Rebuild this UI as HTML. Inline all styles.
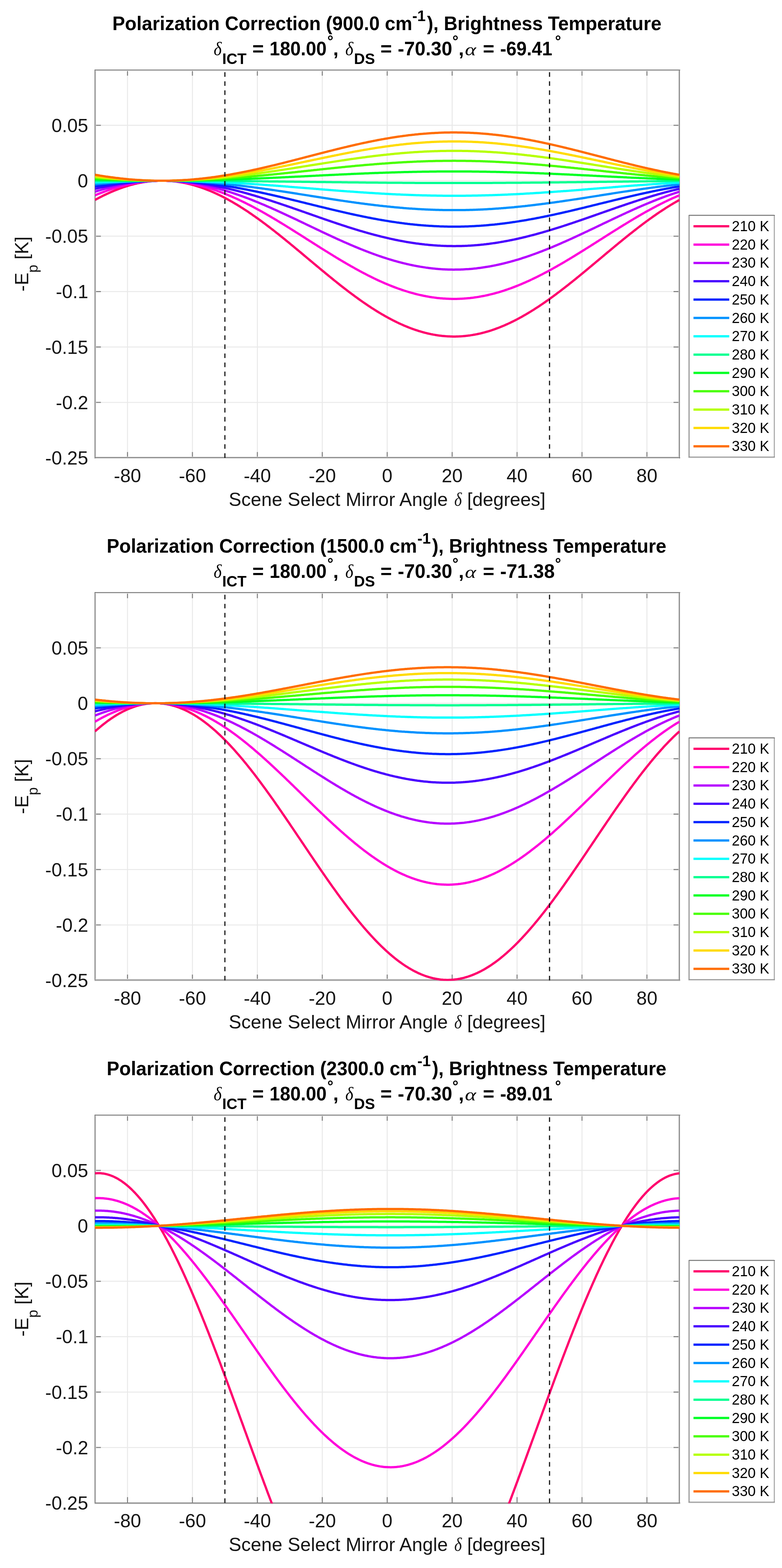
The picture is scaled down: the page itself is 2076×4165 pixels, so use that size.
<!DOCTYPE html>
<html><head><meta charset="utf-8"><title>Polarization Correction</title>
<style>html,body{margin:0;padding:0;background:#fff;}svg{display:block;}</style></head>
<body>
<svg width="2076" height="4165" viewBox="0 0 2076 4165">
<rect x="0" y="0" width="2076" height="4165" fill="#ffffff"/>
<defs><clipPath id="c0"><rect x="251.10" y="184.40" width="1553.70" height="1033.00"/></clipPath></defs>
<path d="M338.48 185.60V1216.20M510.85 185.60V1216.20M683.22 185.60V1216.20M855.58 185.60V1216.20M1027.95 185.60V1216.20M1200.32 185.60V1216.20M1372.68 185.60V1216.20M1545.05 185.60V1216.20M1717.42 185.60V1216.20M252.30 332.83H1803.60M252.30 480.06H1803.60M252.30 627.29H1803.60M252.30 774.51H1803.60M252.30 921.74H1803.60M252.30 1068.97H1803.60" stroke="#e9e9e9" stroke-width="2.6" fill="none"/>
<path d="M338.48 1216.20v-15.5M338.48 185.60v15.5M510.85 1216.20v-15.5M510.85 185.60v15.5M683.22 1216.20v-15.5M683.22 185.60v15.5M855.58 1216.20v-15.5M855.58 185.60v15.5M1027.95 1216.20v-15.5M1027.95 185.60v15.5M1200.32 1216.20v-15.5M1200.32 185.60v15.5M1372.68 1216.20v-15.5M1372.68 185.60v15.5M1545.05 1216.20v-15.5M1545.05 185.60v15.5M1717.42 1216.20v-15.5M1717.42 185.60v15.5M252.30 332.83h15.5M1803.60 332.83h-15.5M252.30 480.06h15.5M1803.60 480.06h-15.5M252.30 627.29h15.5M1803.60 627.29h-15.5M252.30 774.51h15.5M1803.60 774.51h-15.5M252.30 921.74h15.5M1803.60 921.74h-15.5M252.30 1068.97h15.5M1803.60 1068.97h-15.5" stroke="#858585" stroke-width="2.8" fill="none"/>
<rect x="251.00" y="184.90" width="2.00" height="1032.80" fill="#777777"/><rect x="253.00" y="186.90" width="2.00" height="1028.00" fill="#d2d2d2"/><rect x="251.00" y="184.90" width="1554.70" height="2.00" fill="#666666"/><rect x="253.00" y="186.90" width="1548.70" height="2.00" fill="#e6e6e6"/><rect x="1801.00" y="186.90" width="2.00" height="1028.00" fill="#c2c2c2"/><rect x="1803.00" y="184.90" width="2.00" height="1032.80" fill="#808080"/><rect x="253.00" y="1213.00" width="1548.00" height="2.00" fill="#cacaca"/><rect x="251.00" y="1215.00" width="1554.70" height="2.00" fill="#777777"/>
<g clip-path="url(#c0)" fill="none" stroke-width="6.0" stroke-linejoin="round">
<polyline points="252.3,531.2 255.5,529.4 258.8,527.6 262.0,525.9 265.2,524.2 268.5,522.6 271.7,520.9 274.9,519.3 278.2,517.8 281.4,516.2 284.6,514.7 287.9,513.2 291.1,511.8 294.3,510.3 297.5,508.9 300.8,507.6 304.0,506.2 307.2,504.9 310.5,503.6 313.7,502.4 316.9,501.2 320.2,500.0 323.4,498.9 326.6,497.7 329.9,496.7 333.1,495.6 336.3,494.6 339.6,493.6 342.8,492.7 346.0,491.7 349.3,490.9 352.5,490.0 355.7,489.2 359.0,488.4 362.2,487.7 365.4,486.9 368.6,486.3 371.9,485.6 375.1,485.0 378.3,484.4 381.6,483.9 384.8,483.4 388.0,482.9 391.3,482.5 394.5,482.1 397.7,481.7 401.0,481.4 404.2,481.1 407.4,480.8 410.7,480.6 413.9,480.4 417.1,480.2 420.4,480.1 423.6,480.0 426.8,480.0 430.1,480.0 433.3,480.0 436.5,480.0 439.7,480.1 443.0,480.3 446.2,480.4 449.4,480.6 452.7,480.8 455.9,481.1 459.1,481.4 462.4,481.8 465.6,482.1 468.8,482.5 472.1,483.0 475.3,483.5 478.5,484.0 481.8,484.5 485.0,485.1 488.2,485.7 491.5,486.4 494.7,487.1 497.9,487.8 501.2,488.6 504.4,489.3 507.6,490.2 510.8,491.0 514.1,491.9 517.3,492.8 520.5,493.8 523.8,494.8 527.0,495.8 530.2,496.9 533.5,498.0 536.7,499.1 539.9,500.2 543.2,501.4 546.4,502.6 549.6,503.9 552.9,505.2 556.1,506.5 559.3,507.8 562.6,509.2 565.8,510.6 569.0,512.0 572.3,513.5 575.5,515.0 578.7,516.5 582.0,518.1 585.2,519.6 588.4,521.2 591.6,522.9 594.9,524.5 598.1,526.2 601.3,528.0 604.6,529.7 607.8,531.5 611.0,533.3 614.3,535.1 617.5,537.0 620.7,538.9 624.0,540.8 627.2,542.7 630.4,544.6 633.7,546.6 636.9,548.6 640.1,550.7 643.4,552.7 646.6,554.8 649.8,556.9 653.1,559.0 656.3,561.1 659.5,563.3 662.7,565.5 666.0,567.7 669.2,569.9 672.4,572.2 675.7,574.4 678.9,576.7 682.1,579.0 685.4,581.3 688.6,583.7 691.8,586.0 695.1,588.4 698.3,590.8 701.5,593.2 704.8,595.6 708.0,598.1 711.2,600.5 714.5,603.0 717.7,605.5 720.9,608.0 724.2,610.5 727.4,613.0 730.6,615.5 733.8,618.1 737.1,620.6 740.3,623.2 743.5,625.8 746.8,628.4 750.0,631.0 753.2,633.6 756.5,636.2 759.7,638.9 762.9,641.5 766.2,644.1 769.4,646.8 772.6,649.5 775.9,652.1 779.1,654.8 782.3,657.5 785.6,660.2 788.8,662.9 792.0,665.5 795.3,668.2 798.5,670.9 801.7,673.6 805.0,676.4 808.2,679.1 811.4,681.8 814.6,684.5 817.9,687.2 821.1,689.9 824.3,692.6 827.6,695.3 830.8,698.0 834.0,700.7 837.3,703.4 840.5,706.1 843.7,708.8 847.0,711.5 850.2,714.2 853.4,716.9 856.7,719.6 859.9,722.2 863.1,724.9 866.4,727.6 869.6,730.2 872.8,732.9 876.1,735.5 879.3,738.1 882.5,740.7 885.7,743.4 889.0,746.0 892.2,748.5 895.4,751.1 898.7,753.7 901.9,756.3 905.1,758.8 908.4,761.3 911.6,763.9 914.8,766.4 918.1,768.9 921.3,771.3 924.5,773.8 927.8,776.3 931.0,778.7 934.2,781.1 937.5,783.5 940.7,785.9 943.9,788.3 947.2,790.6 950.4,793.0 953.6,795.3 956.8,797.6 960.1,799.9 963.3,802.1 966.5,804.4 969.8,806.6 973.0,808.8 976.2,811.0 979.5,813.1 982.7,815.3 985.9,817.4 989.2,819.5 992.4,821.5 995.6,823.6 998.9,825.6 1002.1,827.6 1005.3,829.6 1008.6,831.5 1011.8,833.5 1015.0,835.4 1018.3,837.2 1021.5,839.1 1024.7,840.9 1028.0,842.7 1031.2,844.5 1034.4,846.2 1037.6,847.9 1040.9,849.6 1044.1,851.3 1047.3,852.9 1050.6,854.5 1053.8,856.1 1057.0,857.6 1060.3,859.2 1063.5,860.6 1066.7,862.1 1070.0,863.5 1073.2,864.9 1076.4,866.3 1079.7,867.6 1082.9,868.9 1086.1,870.2 1089.4,871.5 1092.6,872.7 1095.8,873.8 1099.1,875.0 1102.3,876.1 1105.5,877.2 1108.7,878.2 1112.0,879.3 1115.2,880.2 1118.4,881.2 1121.7,882.1 1124.9,883.0 1128.1,883.9 1131.4,884.7 1134.6,885.5 1137.8,886.2 1141.1,886.9 1144.3,887.6 1147.5,888.2 1150.8,888.9 1154.0,889.4 1157.2,890.0 1160.5,890.5 1163.7,891.0 1166.9,891.4 1170.2,891.8 1173.4,892.2 1176.6,892.5 1179.8,892.8 1183.1,893.1 1186.3,893.3 1189.5,893.5 1192.8,893.6 1196.0,893.8 1199.2,893.8 1202.5,893.9 1205.7,893.9 1208.9,893.9 1212.2,893.8 1215.4,893.7 1218.6,893.6 1221.9,893.4 1225.1,893.2 1228.3,893.0 1231.6,892.7 1234.8,892.4 1238.0,892.1 1241.3,891.7 1244.5,891.3 1247.7,890.9 1250.9,890.4 1254.2,889.9 1257.4,889.3 1260.6,888.7 1263.9,888.1 1267.1,887.5 1270.3,886.8 1273.6,886.1 1276.8,885.3 1280.0,884.5 1283.3,883.7 1286.5,882.8 1289.7,881.9 1293.0,881.0 1296.2,880.1 1299.4,879.1 1302.7,878.1 1305.9,877.0 1309.1,875.9 1312.4,874.8 1315.6,873.6 1318.8,872.4 1322.1,871.2 1325.3,870.0 1328.5,868.7 1331.7,867.4 1335.0,866.0 1338.2,864.7 1341.4,863.3 1344.7,861.8 1347.9,860.4 1351.1,858.9 1354.4,857.4 1357.6,855.8 1360.8,854.2 1364.1,852.6 1367.3,851.0 1370.5,849.3 1373.8,847.6 1377.0,845.9 1380.2,844.1 1383.5,842.4 1386.7,840.6 1389.9,838.7 1393.2,836.9 1396.4,835.0 1399.6,833.1 1402.8,831.2 1406.1,829.2 1409.3,827.2 1412.5,825.2 1415.8,823.2 1419.0,821.2 1422.2,819.1 1425.5,817.0 1428.7,814.9 1431.9,812.7 1435.2,810.6 1438.4,808.4 1441.6,806.2 1444.9,804.0 1448.1,801.7 1451.3,799.4 1454.6,797.2 1457.8,794.9 1461.0,792.5 1464.3,790.2 1467.5,787.8 1470.7,785.5 1473.9,783.1 1477.2,780.7 1480.4,778.2 1483.6,775.8 1486.9,773.4 1490.1,770.9 1493.3,768.4 1496.6,765.9 1499.8,763.4 1503.0,760.9 1506.3,758.3 1509.5,755.8 1512.7,753.2 1516.0,750.6 1519.2,748.1 1522.4,745.5 1525.7,742.9 1528.9,740.3 1532.1,737.6 1535.4,735.0 1538.6,732.4 1541.8,729.7 1545.0,727.1 1548.3,724.4 1551.5,721.7 1554.7,719.1 1558.0,716.4 1561.2,713.7 1564.4,711.0 1567.7,708.3 1570.9,705.6 1574.1,702.9 1577.4,700.2 1580.6,697.5 1583.8,694.8 1587.1,692.1 1590.3,689.4 1593.5,686.7 1596.8,684.0 1600.0,681.3 1603.2,678.6 1606.5,675.8 1609.7,673.1 1612.9,670.4 1616.2,667.7 1619.4,665.0 1622.6,662.4 1625.8,659.7 1629.1,657.0 1632.3,654.3 1635.5,651.6 1638.8,649.0 1642.0,646.3 1645.2,643.7 1648.5,641.0 1651.7,638.4 1654.9,635.7 1658.2,633.1 1661.4,630.5 1664.6,627.9 1667.9,625.3 1671.1,622.7 1674.3,620.2 1677.6,617.6 1680.8,615.1 1684.0,612.5 1687.3,610.0 1690.5,607.5 1693.7,605.0 1696.9,602.5 1700.2,600.0 1703.4,597.6 1706.6,595.2 1709.9,592.7 1713.1,590.3 1716.3,587.9 1719.6,585.6 1722.8,583.2 1726.0,580.9 1729.3,578.6 1732.5,576.3 1735.7,574.0 1739.0,571.7 1742.2,569.5 1745.4,567.3 1748.7,565.1 1751.9,562.9 1755.1,560.7 1758.4,558.6 1761.6,556.5 1764.8,554.4 1768.0,552.3 1771.3,550.3 1774.5,548.3 1777.7,546.3 1781.0,544.3 1784.2,542.3 1787.4,540.4 1790.7,538.5 1793.9,536.6 1797.1,534.8 1800.4,533.0 1803.6,531.2" stroke="#ff006d"/>
<polyline points="252.3,518.8 255.5,517.5 258.8,516.1 262.0,514.8 265.2,513.6 268.5,512.3 271.7,511.1 274.9,509.9 278.2,508.7 281.4,507.5 284.6,506.3 287.9,505.2 291.1,504.1 294.3,503.0 297.5,502.0 300.8,500.9 304.0,499.9 307.2,498.9 310.5,497.9 313.7,497.0 316.9,496.1 320.2,495.2 323.4,494.3 326.6,493.5 329.9,492.7 333.1,491.9 336.3,491.1 339.6,490.3 342.8,489.6 346.0,488.9 349.3,488.3 352.5,487.6 355.7,487.0 359.0,486.4 362.2,485.8 365.4,485.3 368.6,484.8 371.9,484.3 375.1,483.8 378.3,483.4 381.6,483.0 384.8,482.6 388.0,482.2 391.3,481.9 394.5,481.6 397.7,481.3 401.0,481.0 404.2,480.8 407.4,480.6 410.7,480.5 413.9,480.3 417.1,480.2 420.4,480.1 423.6,480.0 426.8,480.0 430.1,480.0 433.3,480.0 436.5,480.0 439.7,480.1 443.0,480.2 446.2,480.3 449.4,480.5 452.7,480.7 455.9,480.9 459.1,481.1 462.4,481.3 465.6,481.6 468.8,481.9 472.1,482.3 475.3,482.6 478.5,483.0 481.8,483.5 485.0,483.9 488.2,484.4 491.5,484.9 494.7,485.4 497.9,485.9 501.2,486.5 504.4,487.1 507.6,487.7 510.8,488.4 514.1,489.1 517.3,489.8 520.5,490.5 523.8,491.2 527.0,492.0 530.2,492.8 533.5,493.6 536.7,494.5 539.9,495.4 543.2,496.3 546.4,497.2 549.6,498.1 552.9,499.1 556.1,500.1 559.3,501.1 562.6,502.2 565.8,503.2 569.0,504.3 572.3,505.4 575.5,506.5 578.7,507.7 582.0,508.9 585.2,510.1 588.4,511.3 591.6,512.5 594.9,513.8 598.1,515.1 601.3,516.4 604.6,517.7 607.8,519.1 611.0,520.4 614.3,521.8 617.5,523.2 620.7,524.7 624.0,526.1 627.2,527.6 630.4,529.0 633.7,530.5 636.9,532.1 640.1,533.6 643.4,535.2 646.6,536.7 649.8,538.3 653.1,539.9 656.3,541.6 659.5,543.2 662.7,544.8 666.0,546.5 669.2,548.2 672.4,549.9 675.7,551.6 678.9,553.4 682.1,555.1 685.4,556.9 688.6,558.6 691.8,560.4 695.1,562.2 698.3,564.0 701.5,565.9 704.8,567.7 708.0,569.6 711.2,571.4 714.5,573.3 717.7,575.2 720.9,577.1 724.2,579.0 727.4,580.9 730.6,582.8 733.8,584.7 737.1,586.7 740.3,588.6 743.5,590.6 746.8,592.6 750.0,594.5 753.2,596.5 756.5,598.5 759.7,600.5 762.9,602.5 766.2,604.5 769.4,606.5 772.6,608.5 775.9,610.6 779.1,612.6 782.3,614.6 785.6,616.7 788.8,618.7 792.0,620.8 795.3,622.8 798.5,624.8 801.7,626.9 805.0,628.9 808.2,631.0 811.4,633.1 814.6,635.1 817.9,637.2 821.1,639.2 824.3,641.3 827.6,643.3 830.8,645.4 834.0,647.4 837.3,649.5 840.5,651.5 843.7,653.6 847.0,655.6 850.2,657.7 853.4,659.7 856.7,661.7 859.9,663.7 863.1,665.8 866.4,667.8 869.6,669.8 872.8,671.8 876.1,673.8 879.3,675.8 882.5,677.8 885.7,679.8 889.0,681.7 892.2,683.7 895.4,685.7 898.7,687.6 901.9,689.6 905.1,691.5 908.4,693.4 911.6,695.3 914.8,697.2 918.1,699.1 921.3,701.0 924.5,702.9 927.8,704.7 931.0,706.6 934.2,708.4 937.5,710.2 940.7,712.0 943.9,713.8 947.2,715.6 950.4,717.4 953.6,719.2 956.8,720.9 960.1,722.6 963.3,724.3 966.5,726.0 969.8,727.7 973.0,729.4 976.2,731.1 979.5,732.7 982.7,734.3 985.9,735.9 989.2,737.5 992.4,739.1 995.6,740.6 998.9,742.2 1002.1,743.7 1005.3,745.2 1008.6,746.7 1011.8,748.1 1015.0,749.6 1018.3,751.0 1021.5,752.4 1024.7,753.8 1028.0,755.1 1031.2,756.5 1034.4,757.8 1037.6,759.1 1040.9,760.4 1044.1,761.6 1047.3,762.9 1050.6,764.1 1053.8,765.3 1057.0,766.5 1060.3,767.6 1063.5,768.7 1066.7,769.8 1070.0,770.9 1073.2,772.0 1076.4,773.0 1079.7,774.0 1082.9,775.0 1086.1,776.0 1089.4,776.9 1092.6,777.9 1095.8,778.7 1099.1,779.6 1102.3,780.5 1105.5,781.3 1108.7,782.1 1112.0,782.9 1115.2,783.6 1118.4,784.3 1121.7,785.0 1124.9,785.7 1128.1,786.3 1131.4,787.0 1134.6,787.5 1137.8,788.1 1141.1,788.7 1144.3,789.2 1147.5,789.7 1150.8,790.1 1154.0,790.6 1157.2,791.0 1160.5,791.4 1163.7,791.7 1166.9,792.1 1170.2,792.4 1173.4,792.6 1176.6,792.9 1179.8,793.1 1183.1,793.3 1186.3,793.5 1189.5,793.6 1192.8,793.8 1196.0,793.8 1199.2,793.9 1202.5,793.9 1205.7,794.0 1208.9,793.9 1212.2,793.9 1215.4,793.8 1218.6,793.7 1221.9,793.6 1225.1,793.5 1228.3,793.3 1231.6,793.1 1234.8,792.8 1238.0,792.6 1241.3,792.3 1244.5,792.0 1247.7,791.7 1250.9,791.3 1254.2,790.9 1257.4,790.5 1260.6,790.0 1263.9,789.6 1267.1,789.1 1270.3,788.6 1273.6,788.0 1276.8,787.4 1280.0,786.8 1283.3,786.2 1286.5,785.6 1289.7,784.9 1293.0,784.2 1296.2,783.5 1299.4,782.7 1302.7,781.9 1305.9,781.1 1309.1,780.3 1312.4,779.5 1315.6,778.6 1318.8,777.7 1322.1,776.8 1325.3,775.8 1328.5,774.8 1331.7,773.8 1335.0,772.8 1338.2,771.8 1341.4,770.7 1344.7,769.6 1347.9,768.5 1351.1,767.4 1354.4,766.2 1357.6,765.1 1360.8,763.9 1364.1,762.6 1367.3,761.4 1370.5,760.1 1373.8,758.9 1377.0,757.5 1380.2,756.2 1383.5,754.9 1386.7,753.5 1389.9,752.1 1393.2,750.7 1396.4,749.3 1399.6,747.8 1402.8,746.4 1406.1,744.9 1409.3,743.4 1412.5,741.9 1415.8,740.3 1419.0,738.8 1422.2,737.2 1425.5,735.6 1428.7,734.0 1431.9,732.4 1435.2,730.7 1438.4,729.1 1441.6,727.4 1444.9,725.7 1448.1,724.0 1451.3,722.3 1454.6,720.6 1457.8,718.8 1461.0,717.1 1464.3,715.3 1467.5,713.5 1470.7,711.7 1473.9,709.9 1477.2,708.1 1480.4,706.2 1483.6,704.4 1486.9,702.5 1490.1,700.6 1493.3,698.8 1496.6,696.9 1499.8,695.0 1503.0,693.0 1506.3,691.1 1509.5,689.2 1512.7,687.2 1516.0,685.3 1519.2,683.3 1522.4,681.4 1525.7,679.4 1528.9,677.4 1532.1,675.4 1535.4,673.4 1538.6,671.4 1541.8,669.4 1545.0,667.4 1548.3,665.4 1551.5,663.4 1554.7,661.3 1558.0,659.3 1561.2,657.3 1564.4,655.2 1567.7,653.2 1570.9,651.1 1574.1,649.1 1577.4,647.0 1580.6,645.0 1583.8,642.9 1587.1,640.9 1590.3,638.8 1593.5,636.8 1596.8,634.7 1600.0,632.7 1603.2,630.6 1606.5,628.6 1609.7,626.5 1612.9,624.5 1616.2,622.4 1619.4,620.4 1622.6,618.3 1625.8,616.3 1629.1,614.3 1632.3,612.2 1635.5,610.2 1638.8,608.2 1642.0,606.2 1645.2,604.1 1648.5,602.1 1651.7,600.1 1654.9,598.1 1658.2,596.2 1661.4,594.2 1664.6,592.2 1667.9,590.2 1671.1,588.3 1674.3,586.3 1677.6,584.4 1680.8,582.5 1684.0,580.5 1687.3,578.6 1690.5,576.7 1693.7,574.8 1696.9,572.9 1700.2,571.1 1703.4,569.2 1706.6,567.4 1709.9,565.5 1713.1,563.7 1716.3,561.9 1719.6,560.1 1722.8,558.3 1726.0,556.5 1729.3,554.8 1732.5,553.0 1735.7,551.3 1739.0,549.6 1742.2,547.9 1745.4,546.2 1748.7,544.5 1751.9,542.9 1755.1,541.2 1758.4,539.6 1761.6,538.0 1764.8,536.4 1768.0,534.9 1771.3,533.3 1774.5,531.8 1777.7,530.3 1781.0,528.8 1784.2,527.3 1787.4,525.8 1790.7,524.4 1793.9,523.0 1797.1,521.6 1800.4,520.2 1803.6,518.8" stroke="#ff00db"/>
<polyline points="252.3,509.2 255.5,508.2 258.8,507.2 262.0,506.2 265.2,505.3 268.5,504.3 271.7,503.4 274.9,502.5 278.2,501.6 281.4,500.7 284.6,499.8 287.9,499.0 291.1,498.1 294.3,497.3 297.5,496.5 300.8,495.7 304.0,495.0 307.2,494.2 310.5,493.5 313.7,492.8 316.9,492.1 320.2,491.4 323.4,490.8 326.6,490.2 329.9,489.5 333.1,488.9 336.3,488.4 339.6,487.8 342.8,487.2 346.0,486.7 349.3,486.2 352.5,485.7 355.7,485.3 359.0,484.8 362.2,484.4 365.4,484.0 368.6,483.6 371.9,483.2 375.1,482.9 378.3,482.6 381.6,482.2 384.8,482.0 388.0,481.7 391.3,481.4 394.5,481.2 397.7,481.0 401.0,480.8 404.2,480.6 407.4,480.5 410.7,480.4 413.9,480.2 417.1,480.2 420.4,480.1 423.6,480.0 426.8,480.0 430.1,480.0 433.3,480.0 436.5,480.0 439.7,480.1 443.0,480.2 446.2,480.3 449.4,480.4 452.7,480.5 455.9,480.7 459.1,480.8 462.4,481.0 465.6,481.2 468.8,481.5 472.1,481.7 475.3,482.0 478.5,482.3 481.8,482.6 485.0,482.9 488.2,483.3 491.5,483.7 494.7,484.1 497.9,484.5 501.2,484.9 504.4,485.4 507.6,485.8 510.8,486.3 514.1,486.8 517.3,487.3 520.5,487.9 523.8,488.5 527.0,489.0 530.2,489.6 533.5,490.3 536.7,490.9 539.9,491.6 543.2,492.2 546.4,492.9 549.6,493.6 552.9,494.4 556.1,495.1 559.3,495.9 562.6,496.7 565.8,497.5 569.0,498.3 572.3,499.1 575.5,500.0 578.7,500.8 582.0,501.7 585.2,502.6 588.4,503.6 591.6,504.5 594.9,505.4 598.1,506.4 601.3,507.4 604.6,508.4 607.8,509.4 611.0,510.4 614.3,511.5 617.5,512.5 620.7,513.6 624.0,514.7 627.2,515.8 630.4,516.9 633.7,518.0 636.9,519.2 640.1,520.3 643.4,521.5 646.6,522.7 649.8,523.9 653.1,525.1 656.3,526.3 659.5,527.5 662.7,528.8 666.0,530.0 669.2,531.3 672.4,532.6 675.7,533.9 678.9,535.2 682.1,536.5 685.4,537.8 688.6,539.2 691.8,540.5 695.1,541.9 698.3,543.2 701.5,544.6 704.8,546.0 708.0,547.4 711.2,548.8 714.5,550.2 717.7,551.6 720.9,553.0 724.2,554.5 727.4,555.9 730.6,557.3 733.8,558.8 737.1,560.3 740.3,561.7 743.5,563.2 746.8,564.7 750.0,566.2 753.2,567.7 756.5,569.2 759.7,570.7 762.9,572.2 766.2,573.7 769.4,575.2 772.6,576.7 775.9,578.2 779.1,579.8 782.3,581.3 785.6,582.8 788.8,584.3 792.0,585.9 795.3,587.4 798.5,589.0 801.7,590.5 805.0,592.0 808.2,593.6 811.4,595.1 814.6,596.7 817.9,598.2 821.1,599.8 824.3,601.3 827.6,602.9 830.8,604.4 834.0,605.9 837.3,607.5 840.5,609.0 843.7,610.6 847.0,612.1 850.2,613.6 853.4,615.2 856.7,616.7 859.9,618.2 863.1,619.7 866.4,621.3 869.6,622.8 872.8,624.3 876.1,625.8 879.3,627.3 882.5,628.8 885.7,630.3 889.0,631.8 892.2,633.2 895.4,634.7 898.7,636.2 901.9,637.6 905.1,639.1 908.4,640.5 911.6,642.0 914.8,643.4 918.1,644.8 921.3,646.2 924.5,647.6 927.8,649.0 931.0,650.4 934.2,651.8 937.5,653.2 940.7,654.6 943.9,655.9 947.2,657.2 950.4,658.6 953.6,659.9 956.8,661.2 960.1,662.5 963.3,663.8 966.5,665.1 969.8,666.3 973.0,667.6 976.2,668.8 979.5,670.1 982.7,671.3 985.9,672.5 989.2,673.7 992.4,674.9 995.6,676.0 998.9,677.2 1002.1,678.3 1005.3,679.5 1008.6,680.6 1011.8,681.7 1015.0,682.8 1018.3,683.8 1021.5,684.9 1024.7,685.9 1028.0,687.0 1031.2,688.0 1034.4,689.0 1037.6,689.9 1040.9,690.9 1044.1,691.8 1047.3,692.8 1050.6,693.7 1053.8,694.6 1057.0,695.5 1060.3,696.3 1063.5,697.2 1066.7,698.0 1070.0,698.8 1073.2,699.6 1076.4,700.4 1079.7,701.2 1082.9,701.9 1086.1,702.6 1089.4,703.4 1092.6,704.0 1095.8,704.7 1099.1,705.4 1102.3,706.0 1105.5,706.6 1108.7,707.2 1112.0,707.8 1115.2,708.4 1118.4,708.9 1121.7,709.4 1124.9,709.9 1128.1,710.4 1131.4,710.9 1134.6,711.3 1137.8,711.8 1141.1,712.2 1144.3,712.6 1147.5,712.9 1150.8,713.3 1154.0,713.6 1157.2,713.9 1160.5,714.2 1163.7,714.5 1166.9,714.7 1170.2,715.0 1173.4,715.2 1176.6,715.4 1179.8,715.5 1183.1,715.7 1186.3,715.8 1189.5,715.9 1192.8,716.0 1196.0,716.1 1199.2,716.1 1202.5,716.2 1205.7,716.2 1208.9,716.1 1212.2,716.1 1215.4,716.1 1218.6,716.0 1221.9,715.9 1225.1,715.8 1228.3,715.7 1231.6,715.5 1234.8,715.3 1238.0,715.1 1241.3,714.9 1244.5,714.7 1247.7,714.4 1250.9,714.2 1254.2,713.9 1257.4,713.6 1260.6,713.2 1263.9,712.9 1267.1,712.5 1270.3,712.1 1273.6,711.7 1276.8,711.3 1280.0,710.8 1283.3,710.3 1286.5,709.8 1289.7,709.3 1293.0,708.8 1296.2,708.3 1299.4,707.7 1302.7,707.1 1305.9,706.5 1309.1,705.9 1312.4,705.3 1315.6,704.6 1318.8,703.9 1322.1,703.2 1325.3,702.5 1328.5,701.8 1331.7,701.0 1335.0,700.3 1338.2,699.5 1341.4,698.7 1344.7,697.9 1347.9,697.0 1351.1,696.2 1354.4,695.3 1357.6,694.4 1360.8,693.5 1364.1,692.6 1367.3,691.7 1370.5,690.7 1373.8,689.8 1377.0,688.8 1380.2,687.8 1383.5,686.8 1386.7,685.7 1389.9,684.7 1393.2,683.6 1396.4,682.6 1399.6,681.5 1402.8,680.4 1406.1,679.3 1409.3,678.1 1412.5,677.0 1415.8,675.8 1419.0,674.7 1422.2,673.5 1425.5,672.3 1428.7,671.1 1431.9,669.8 1435.2,668.6 1438.4,667.4 1441.6,666.1 1444.9,664.8 1448.1,663.6 1451.3,662.3 1454.6,661.0 1457.8,659.7 1461.0,658.3 1464.3,657.0 1467.5,655.7 1470.7,654.3 1473.9,652.9 1477.2,651.6 1480.4,650.2 1483.6,648.8 1486.9,647.4 1490.1,646.0 1493.3,644.6 1496.6,643.1 1499.8,641.7 1503.0,640.3 1506.3,638.8 1509.5,637.4 1512.7,635.9 1516.0,634.4 1519.2,633.0 1522.4,631.5 1525.7,630.0 1528.9,628.5 1532.1,627.0 1535.4,625.5 1538.6,624.0 1541.8,622.5 1545.0,621.0 1548.3,619.5 1551.5,617.9 1554.7,616.4 1558.0,614.9 1561.2,613.4 1564.4,611.8 1567.7,610.3 1570.9,608.7 1574.1,607.2 1577.4,605.7 1580.6,604.1 1583.8,602.6 1587.1,601.0 1590.3,599.5 1593.5,597.9 1596.8,596.4 1600.0,594.8 1603.2,593.3 1606.5,591.8 1609.7,590.2 1612.9,588.7 1616.2,587.1 1619.4,585.6 1622.6,584.1 1625.8,582.5 1629.1,581.0 1632.3,579.5 1635.5,577.9 1638.8,576.4 1642.0,574.9 1645.2,573.4 1648.5,571.9 1651.7,570.4 1654.9,568.9 1658.2,567.4 1661.4,565.9 1664.6,564.4 1667.9,562.9 1671.1,561.5 1674.3,560.0 1677.6,558.5 1680.8,557.1 1684.0,555.6 1687.3,554.2 1690.5,552.8 1693.7,551.3 1696.9,549.9 1700.2,548.5 1703.4,547.1 1706.6,545.7 1709.9,544.3 1713.1,543.0 1716.3,541.6 1719.6,540.3 1722.8,538.9 1726.0,537.6 1729.3,536.3 1732.5,534.9 1735.7,533.6 1739.0,532.4 1742.2,531.1 1745.4,529.8 1748.7,528.6 1751.9,527.3 1755.1,526.1 1758.4,524.9 1761.6,523.7 1764.8,522.5 1768.0,521.3 1771.3,520.1 1774.5,519.0 1777.7,517.8 1781.0,516.7 1784.2,515.6 1787.4,514.5 1790.7,513.4 1793.9,512.3 1797.1,511.3 1800.4,510.2 1803.6,509.2" stroke="#b600ff"/>
<polyline points="252.3,501.5 255.5,500.7 258.8,500.0 262.0,499.3 265.2,498.6 268.5,497.9 271.7,497.2 274.9,496.5 278.2,495.9 281.4,495.2 284.6,494.6 287.9,494.0 291.1,493.4 294.3,492.8 297.5,492.2 300.8,491.6 304.0,491.0 307.2,490.5 310.5,490.0 313.7,489.4 316.9,488.9 320.2,488.4 323.4,487.9 326.6,487.5 329.9,487.0 333.1,486.6 336.3,486.2 339.6,485.7 342.8,485.3 346.0,485.0 349.3,484.6 352.5,484.2 355.7,483.9 359.0,483.6 362.2,483.2 365.4,482.9 368.6,482.7 371.9,482.4 375.1,482.1 378.3,481.9 381.6,481.7 384.8,481.4 388.0,481.3 391.3,481.1 394.5,480.9 397.7,480.7 401.0,480.6 404.2,480.5 407.4,480.4 410.7,480.3 413.9,480.2 417.1,480.1 420.4,480.1 423.6,480.0 426.8,480.0 430.1,480.0 433.3,480.0 436.5,480.0 439.7,480.1 443.0,480.1 446.2,480.2 449.4,480.3 452.7,480.4 455.9,480.5 459.1,480.6 462.4,480.8 465.6,480.9 468.8,481.1 472.1,481.3 475.3,481.5 478.5,481.7 481.8,481.9 485.0,482.2 488.2,482.4 491.5,482.7 494.7,483.0 497.9,483.3 501.2,483.6 504.4,484.0 507.6,484.3 510.8,484.7 514.1,485.0 517.3,485.4 520.5,485.8 523.8,486.2 527.0,486.7 530.2,487.1 533.5,487.6 536.7,488.0 539.9,488.5 543.2,489.0 546.4,489.5 549.6,490.1 552.9,490.6 556.1,491.1 559.3,491.7 562.6,492.3 565.8,492.9 569.0,493.5 572.3,494.1 575.5,494.7 578.7,495.3 582.0,496.0 585.2,496.7 588.4,497.3 591.6,498.0 594.9,498.7 598.1,499.4 601.3,500.2 604.6,500.9 607.8,501.6 611.0,502.4 614.3,503.2 617.5,503.9 620.7,504.7 624.0,505.5 627.2,506.3 630.4,507.2 633.7,508.0 636.9,508.8 640.1,509.7 643.4,510.5 646.6,511.4 649.8,512.3 653.1,513.2 656.3,514.1 659.5,515.0 662.7,515.9 666.0,516.8 669.2,517.8 672.4,518.7 675.7,519.6 678.9,520.6 682.1,521.6 685.4,522.5 688.6,523.5 691.8,524.5 695.1,525.5 698.3,526.5 701.5,527.5 704.8,528.5 708.0,529.6 711.2,530.6 714.5,531.6 717.7,532.7 720.9,533.7 724.2,534.8 727.4,535.8 730.6,536.9 733.8,538.0 737.1,539.0 740.3,540.1 743.5,541.2 746.8,542.3 750.0,543.4 753.2,544.5 756.5,545.6 759.7,546.7 762.9,547.8 766.2,548.9 769.4,550.0 772.6,551.1 775.9,552.2 779.1,553.4 782.3,554.5 785.6,555.6 788.8,556.7 792.0,557.9 795.3,559.0 798.5,560.1 801.7,561.3 805.0,562.4 808.2,563.5 811.4,564.7 814.6,565.8 817.9,566.9 821.1,568.1 824.3,569.2 827.6,570.4 830.8,571.5 834.0,572.6 837.3,573.8 840.5,574.9 843.7,576.0 847.0,577.2 850.2,578.3 853.4,579.4 856.7,580.5 859.9,581.7 863.1,582.8 866.4,583.9 869.6,585.0 872.8,586.1 876.1,587.2 879.3,588.3 882.5,589.4 885.7,590.5 889.0,591.6 892.2,592.7 895.4,593.8 898.7,594.9 901.9,595.9 905.1,597.0 908.4,598.1 911.6,599.1 914.8,600.2 918.1,601.2 921.3,602.3 924.5,603.3 927.8,604.3 931.0,605.3 934.2,606.4 937.5,607.4 940.7,608.4 943.9,609.4 947.2,610.3 950.4,611.3 953.6,612.3 956.8,613.3 960.1,614.2 963.3,615.2 966.5,616.1 969.8,617.0 973.0,618.0 976.2,618.9 979.5,619.8 982.7,620.7 985.9,621.6 989.2,622.4 992.4,623.3 995.6,624.2 998.9,625.0 1002.1,625.9 1005.3,626.7 1008.6,627.5 1011.8,628.3 1015.0,629.1 1018.3,629.9 1021.5,630.7 1024.7,631.4 1028.0,632.2 1031.2,632.9 1034.4,633.7 1037.6,634.4 1040.9,635.1 1044.1,635.8 1047.3,636.5 1050.6,637.2 1053.8,637.8 1057.0,638.5 1060.3,639.1 1063.5,639.7 1066.7,640.3 1070.0,640.9 1073.2,641.5 1076.4,642.1 1079.7,642.7 1082.9,643.2 1086.1,643.7 1089.4,644.3 1092.6,644.8 1095.8,645.3 1099.1,645.7 1102.3,646.2 1105.5,646.7 1108.7,647.1 1112.0,647.5 1115.2,647.9 1118.4,648.3 1121.7,648.7 1124.9,649.1 1128.1,649.5 1131.4,649.8 1134.6,650.1 1137.8,650.4 1141.1,650.7 1144.3,651.0 1147.5,651.3 1150.8,651.6 1154.0,651.8 1157.2,652.0 1160.5,652.2 1163.7,652.4 1166.9,652.6 1170.2,652.8 1173.4,652.9 1176.6,653.1 1179.8,653.2 1183.1,653.3 1186.3,653.4 1189.5,653.5 1192.8,653.6 1196.0,653.6 1199.2,653.6 1202.5,653.7 1205.7,653.7 1208.9,653.7 1212.2,653.6 1215.4,653.6 1218.6,653.5 1221.9,653.5 1225.1,653.4 1228.3,653.3 1231.6,653.2 1234.8,653.1 1238.0,652.9 1241.3,652.8 1244.5,652.6 1247.7,652.4 1250.9,652.2 1254.2,652.0 1257.4,651.8 1260.6,651.5 1263.9,651.2 1267.1,651.0 1270.3,650.7 1273.6,650.4 1276.8,650.1 1280.0,649.7 1283.3,649.4 1286.5,649.0 1289.7,648.7 1293.0,648.3 1296.2,647.9 1299.4,647.5 1302.7,647.0 1305.9,646.6 1309.1,646.1 1312.4,645.7 1315.6,645.2 1318.8,644.7 1322.1,644.2 1325.3,643.6 1328.5,643.1 1331.7,642.5 1335.0,642.0 1338.2,641.4 1341.4,640.8 1344.7,640.2 1347.9,639.6 1351.1,639.0 1354.4,638.3 1357.6,637.7 1360.8,637.0 1364.1,636.4 1367.3,635.7 1370.5,635.0 1373.8,634.3 1377.0,633.5 1380.2,632.8 1383.5,632.1 1386.7,631.3 1389.9,630.5 1393.2,629.8 1396.4,629.0 1399.6,628.2 1402.8,627.4 1406.1,626.5 1409.3,625.7 1412.5,624.9 1415.8,624.0 1419.0,623.2 1422.2,622.3 1425.5,621.4 1428.7,620.5 1431.9,619.6 1435.2,618.7 1438.4,617.8 1441.6,616.9 1444.9,615.9 1448.1,615.0 1451.3,614.0 1454.6,613.1 1457.8,612.1 1461.0,611.1 1464.3,610.2 1467.5,609.2 1470.7,608.2 1473.9,607.2 1477.2,606.2 1480.4,605.2 1483.6,604.1 1486.9,603.1 1490.1,602.1 1493.3,601.0 1496.6,600.0 1499.8,598.9 1503.0,597.9 1506.3,596.8 1509.5,595.7 1512.7,594.7 1516.0,593.6 1519.2,592.5 1522.4,591.4 1525.7,590.3 1528.9,589.2 1532.1,588.1 1535.4,587.0 1538.6,585.9 1541.8,584.8 1545.0,583.7 1548.3,582.6 1551.5,581.4 1554.7,580.3 1558.0,579.2 1561.2,578.1 1564.4,576.9 1567.7,575.8 1570.9,574.7 1574.1,573.6 1577.4,572.4 1580.6,571.3 1583.8,570.1 1587.1,569.0 1590.3,567.9 1593.5,566.7 1596.8,565.6 1600.0,564.5 1603.2,563.3 1606.5,562.2 1609.7,561.1 1612.9,559.9 1616.2,558.8 1619.4,557.7 1622.6,556.5 1625.8,555.4 1629.1,554.3 1632.3,553.2 1635.5,552.0 1638.8,550.9 1642.0,549.8 1645.2,548.7 1648.5,547.6 1651.7,546.5 1654.9,545.4 1658.2,544.3 1661.4,543.2 1664.6,542.1 1667.9,541.0 1671.1,539.9 1674.3,538.8 1677.6,537.8 1680.8,536.7 1684.0,535.6 1687.3,534.6 1690.5,533.5 1693.7,532.5 1696.9,531.4 1700.2,530.4 1703.4,529.4 1706.6,528.3 1709.9,527.3 1713.1,526.3 1716.3,525.3 1719.6,524.3 1722.8,523.3 1726.0,522.4 1729.3,521.4 1732.5,520.4 1735.7,519.5 1739.0,518.5 1742.2,517.6 1745.4,516.6 1748.7,515.7 1751.9,514.8 1755.1,513.9 1758.4,513.0 1761.6,512.1 1764.8,511.2 1768.0,510.4 1771.3,509.5 1774.5,508.7 1777.7,507.8 1781.0,507.0 1784.2,506.2 1787.4,505.4 1790.7,504.6 1793.9,503.8 1797.1,503.0 1800.4,502.2 1803.6,501.5" stroke="#4900ff"/>
<polyline points="252.3,495.1 255.5,494.6 258.8,494.1 262.0,493.6 265.2,493.1 268.5,492.6 271.7,492.1 274.9,491.6 278.2,491.2 281.4,490.7 284.6,490.3 287.9,489.8 291.1,489.4 294.3,489.0 297.5,488.6 300.8,488.2 304.0,487.8 307.2,487.4 310.5,487.0 313.7,486.6 316.9,486.3 320.2,485.9 323.4,485.6 326.6,485.3 329.9,485.0 333.1,484.6 336.3,484.3 339.6,484.1 342.8,483.8 346.0,483.5 349.3,483.2 352.5,483.0 355.7,482.7 359.0,482.5 362.2,482.3 365.4,482.1 368.6,481.9 371.9,481.7 375.1,481.5 378.3,481.3 381.6,481.2 384.8,481.0 388.0,480.9 391.3,480.8 394.5,480.6 397.7,480.5 401.0,480.4 404.2,480.4 407.4,480.3 410.7,480.2 413.9,480.2 417.1,480.1 420.4,480.1 423.6,480.0 426.8,480.0 430.1,480.0 433.3,480.0 436.5,480.1 439.7,480.1 443.0,480.1 446.2,480.2 449.4,480.2 452.7,480.3 455.9,480.4 459.1,480.5 462.4,480.6 465.6,480.7 468.8,480.8 472.1,480.9 475.3,481.1 478.5,481.2 481.8,481.4 485.0,481.5 488.2,481.7 491.5,481.9 494.7,482.1 497.9,482.3 501.2,482.6 504.4,482.8 507.6,483.0 510.8,483.3 514.1,483.6 517.3,483.8 520.5,484.1 523.8,484.4 527.0,484.7 530.2,485.0 533.5,485.3 536.7,485.7 539.9,486.0 543.2,486.4 546.4,486.7 549.6,487.1 552.9,487.5 556.1,487.8 559.3,488.2 562.6,488.6 565.8,489.1 569.0,489.5 572.3,489.9 575.5,490.3 578.7,490.8 582.0,491.3 585.2,491.7 588.4,492.2 591.6,492.7 594.9,493.2 598.1,493.7 601.3,494.2 604.6,494.7 607.8,495.2 611.0,495.7 614.3,496.3 617.5,496.8 620.7,497.4 624.0,497.9 627.2,498.5 630.4,499.1 633.7,499.7 636.9,500.3 640.1,500.9 643.4,501.5 646.6,502.1 649.8,502.7 653.1,503.3 656.3,503.9 659.5,504.6 662.7,505.2 666.0,505.9 669.2,506.5 672.4,507.2 675.7,507.9 678.9,508.5 682.1,509.2 685.4,509.9 688.6,510.6 691.8,511.3 695.1,512.0 698.3,512.7 701.5,513.4 704.8,514.1 708.0,514.8 711.2,515.6 714.5,516.3 717.7,517.0 720.9,517.7 724.2,518.5 727.4,519.2 730.6,520.0 733.8,520.7 737.1,521.5 740.3,522.2 743.5,523.0 746.8,523.8 750.0,524.5 753.2,525.3 756.5,526.1 759.7,526.9 762.9,527.6 766.2,528.4 769.4,529.2 772.6,530.0 775.9,530.8 779.1,531.5 782.3,532.3 785.6,533.1 788.8,533.9 792.0,534.7 795.3,535.5 798.5,536.3 801.7,537.1 805.0,537.9 808.2,538.7 811.4,539.5 814.6,540.3 817.9,541.1 821.1,541.9 824.3,542.7 827.6,543.5 830.8,544.3 834.0,545.1 837.3,545.9 840.5,546.7 843.7,547.5 847.0,548.3 850.2,549.1 853.4,549.8 856.7,550.6 859.9,551.4 863.1,552.2 866.4,553.0 869.6,553.8 872.8,554.5 876.1,555.3 879.3,556.1 882.5,556.9 885.7,557.6 889.0,558.4 892.2,559.2 895.4,559.9 898.7,560.7 901.9,561.4 905.1,562.2 908.4,562.9 911.6,563.7 914.8,564.4 918.1,565.2 921.3,565.9 924.5,566.6 927.8,567.3 931.0,568.1 934.2,568.8 937.5,569.5 940.7,570.2 943.9,570.9 947.2,571.6 950.4,572.3 953.6,572.9 956.8,573.6 960.1,574.3 963.3,575.0 966.5,575.6 969.8,576.3 973.0,576.9 976.2,577.6 979.5,578.2 982.7,578.8 985.9,579.5 989.2,580.1 992.4,580.7 995.6,581.3 998.9,581.9 1002.1,582.5 1005.3,583.1 1008.6,583.6 1011.8,584.2 1015.0,584.8 1018.3,585.3 1021.5,585.9 1024.7,586.4 1028.0,586.9 1031.2,587.4 1034.4,588.0 1037.6,588.5 1040.9,589.0 1044.1,589.4 1047.3,589.9 1050.6,590.4 1053.8,590.9 1057.0,591.3 1060.3,591.8 1063.5,592.2 1066.7,592.6 1070.0,593.1 1073.2,593.5 1076.4,593.9 1079.7,594.3 1082.9,594.7 1086.1,595.0 1089.4,595.4 1092.6,595.7 1095.8,596.1 1099.1,596.4 1102.3,596.8 1105.5,597.1 1108.7,597.4 1112.0,597.7 1115.2,598.0 1118.4,598.3 1121.7,598.5 1124.9,598.8 1128.1,599.0 1131.4,599.3 1134.6,599.5 1137.8,599.7 1141.1,599.9 1144.3,600.1 1147.5,600.3 1150.8,600.5 1154.0,600.7 1157.2,600.8 1160.5,601.0 1163.7,601.1 1166.9,601.3 1170.2,601.4 1173.4,601.5 1176.6,601.6 1179.8,601.7 1183.1,601.8 1186.3,601.8 1189.5,601.9 1192.8,601.9 1196.0,602.0 1199.2,602.0 1202.5,602.0 1205.7,602.0 1208.9,602.0 1212.2,602.0 1215.4,602.0 1218.6,601.9 1221.9,601.9 1225.1,601.8 1228.3,601.7 1231.6,601.7 1234.8,601.6 1238.0,601.5 1241.3,601.4 1244.5,601.2 1247.7,601.1 1250.9,601.0 1254.2,600.8 1257.4,600.7 1260.6,600.5 1263.9,600.3 1267.1,600.1 1270.3,599.9 1273.6,599.7 1276.8,599.5 1280.0,599.2 1283.3,599.0 1286.5,598.7 1289.7,598.5 1293.0,598.2 1296.2,597.9 1299.4,597.6 1302.7,597.3 1305.9,597.0 1309.1,596.7 1312.4,596.4 1315.6,596.0 1318.8,595.7 1322.1,595.3 1325.3,595.0 1328.5,594.6 1331.7,594.2 1335.0,593.8 1338.2,593.4 1341.4,593.0 1344.7,592.6 1347.9,592.1 1351.1,591.7 1354.4,591.2 1357.6,590.8 1360.8,590.3 1364.1,589.8 1367.3,589.4 1370.5,588.9 1373.8,588.4 1377.0,587.9 1380.2,587.3 1383.5,586.8 1386.7,586.3 1389.9,585.8 1393.2,585.2 1396.4,584.7 1399.6,584.1 1402.8,583.5 1406.1,582.9 1409.3,582.4 1412.5,581.8 1415.8,581.2 1419.0,580.6 1422.2,580.0 1425.5,579.3 1428.7,578.7 1431.9,578.1 1435.2,577.4 1438.4,576.8 1441.6,576.2 1444.9,575.5 1448.1,574.8 1451.3,574.2 1454.6,573.5 1457.8,572.8 1461.0,572.1 1464.3,571.4 1467.5,570.8 1470.7,570.1 1473.9,569.3 1477.2,568.6 1480.4,567.9 1483.6,567.2 1486.9,566.5 1490.1,565.8 1493.3,565.0 1496.6,564.3 1499.8,563.5 1503.0,562.8 1506.3,562.1 1509.5,561.3 1512.7,560.6 1516.0,559.8 1519.2,559.0 1522.4,558.3 1525.7,557.5 1528.9,556.7 1532.1,556.0 1535.4,555.2 1538.6,554.4 1541.8,553.6 1545.0,552.8 1548.3,552.1 1551.5,551.3 1554.7,550.5 1558.0,549.7 1561.2,548.9 1564.4,548.1 1567.7,547.3 1570.9,546.5 1574.1,545.7 1577.4,544.9 1580.6,544.1 1583.8,543.3 1587.1,542.5 1590.3,541.7 1593.5,540.9 1596.8,540.1 1600.0,539.3 1603.2,538.5 1606.5,537.8 1609.7,537.0 1612.9,536.2 1616.2,535.4 1619.4,534.6 1622.6,533.8 1625.8,533.0 1629.1,532.2 1632.3,531.4 1635.5,530.6 1638.8,529.8 1642.0,529.0 1645.2,528.3 1648.5,527.5 1651.7,526.7 1654.9,525.9 1658.2,525.2 1661.4,524.4 1664.6,523.6 1667.9,522.9 1671.1,522.1 1674.3,521.3 1677.6,520.6 1680.8,519.8 1684.0,519.1 1687.3,518.3 1690.5,517.6 1693.7,516.9 1696.9,516.1 1700.2,515.4 1703.4,514.7 1706.6,514.0 1709.9,513.3 1713.1,512.6 1716.3,511.8 1719.6,511.2 1722.8,510.5 1726.0,509.8 1729.3,509.1 1732.5,508.4 1735.7,507.7 1739.0,507.1 1742.2,506.4 1745.4,505.8 1748.7,505.1 1751.9,504.5 1755.1,503.8 1758.4,503.2 1761.6,502.6 1764.8,502.0 1768.0,501.4 1771.3,500.7 1774.5,500.2 1777.7,499.6 1781.0,499.0 1784.2,498.4 1787.4,497.8 1790.7,497.3 1793.9,496.7 1797.1,496.2 1800.4,495.6 1803.6,495.1" stroke="#0024ff"/>
<polyline points="252.3,489.7 255.5,489.4 258.8,489.0 262.0,488.7 265.2,488.4 268.5,488.1 271.7,487.8 274.9,487.5 278.2,487.2 281.4,486.9 284.6,486.6 287.9,486.3 291.1,486.0 294.3,485.8 297.5,485.5 300.8,485.2 304.0,485.0 307.2,484.7 310.5,484.5 313.7,484.3 316.9,484.0 320.2,483.8 323.4,483.6 326.6,483.4 329.9,483.2 333.1,483.0 336.3,482.8 339.6,482.6 342.8,482.4 346.0,482.3 349.3,482.1 352.5,481.9 355.7,481.8 359.0,481.6 362.2,481.5 365.4,481.4 368.6,481.2 371.9,481.1 375.1,481.0 378.3,480.9 381.6,480.8 384.8,480.7 388.0,480.6 391.3,480.5 394.5,480.4 397.7,480.4 401.0,480.3 404.2,480.2 407.4,480.2 410.7,480.2 413.9,480.1 417.1,480.1 420.4,480.1 423.6,480.1 426.8,480.0 430.1,480.0 433.3,480.0 436.5,480.1 439.7,480.1 443.0,480.1 446.2,480.1 449.4,480.2 452.7,480.2 455.9,480.3 459.1,480.3 462.4,480.4 465.6,480.4 468.8,480.5 472.1,480.6 475.3,480.7 478.5,480.8 481.8,480.9 485.0,481.0 488.2,481.1 491.5,481.3 494.7,481.4 497.9,481.5 501.2,481.7 504.4,481.8 507.6,482.0 510.8,482.1 514.1,482.3 517.3,482.5 520.5,482.6 523.8,482.8 527.0,483.0 530.2,483.2 533.5,483.4 536.7,483.6 539.9,483.9 543.2,484.1 546.4,484.3 549.6,484.6 552.9,484.8 556.1,485.0 559.3,485.3 562.6,485.6 565.8,485.8 569.0,486.1 572.3,486.4 575.5,486.6 578.7,486.9 582.0,487.2 585.2,487.5 588.4,487.8 591.6,488.1 594.9,488.5 598.1,488.8 601.3,489.1 604.6,489.4 607.8,489.8 611.0,490.1 614.3,490.4 617.5,490.8 620.7,491.2 624.0,491.5 627.2,491.9 630.4,492.2 633.7,492.6 636.9,493.0 640.1,493.4 643.4,493.8 646.6,494.2 649.8,494.6 653.1,495.0 656.3,495.4 659.5,495.8 662.7,496.2 666.0,496.6 669.2,497.0 672.4,497.4 675.7,497.9 678.9,498.3 682.1,498.7 685.4,499.2 688.6,499.6 691.8,500.1 695.1,500.5 698.3,500.9 701.5,501.4 704.8,501.9 708.0,502.3 711.2,502.8 714.5,503.3 717.7,503.7 720.9,504.2 724.2,504.7 727.4,505.1 730.6,505.6 733.8,506.1 737.1,506.6 740.3,507.1 743.5,507.6 746.8,508.0 750.0,508.5 753.2,509.0 756.5,509.5 759.7,510.0 762.9,510.5 766.2,511.0 769.4,511.5 772.6,512.0 775.9,512.5 779.1,513.0 782.3,513.5 785.6,514.0 788.8,514.5 792.0,515.1 795.3,515.6 798.5,516.1 801.7,516.6 805.0,517.1 808.2,517.6 811.4,518.1 814.6,518.6 817.9,519.1 821.1,519.6 824.3,520.2 827.6,520.7 830.8,521.2 834.0,521.7 837.3,522.2 840.5,522.7 843.7,523.2 847.0,523.7 850.2,524.2 853.4,524.7 856.7,525.2 859.9,525.8 863.1,526.3 866.4,526.8 869.6,527.3 872.8,527.8 876.1,528.3 879.3,528.7 882.5,529.2 885.7,529.7 889.0,530.2 892.2,530.7 895.4,531.2 898.7,531.7 901.9,532.2 905.1,532.7 908.4,533.1 911.6,533.6 914.8,534.1 918.1,534.6 921.3,535.0 924.5,535.5 927.8,535.9 931.0,536.4 934.2,536.9 937.5,537.3 940.7,537.8 943.9,538.2 947.2,538.7 950.4,539.1 953.6,539.5 956.8,540.0 960.1,540.4 963.3,540.8 966.5,541.2 969.8,541.7 973.0,542.1 976.2,542.5 979.5,542.9 982.7,543.3 985.9,543.7 989.2,544.1 992.4,544.5 995.6,544.9 998.9,545.3 1002.1,545.6 1005.3,546.0 1008.6,546.4 1011.8,546.7 1015.0,547.1 1018.3,547.5 1021.5,547.8 1024.7,548.1 1028.0,548.5 1031.2,548.8 1034.4,549.1 1037.6,549.5 1040.9,549.8 1044.1,550.1 1047.3,550.4 1050.6,550.7 1053.8,551.0 1057.0,551.3 1060.3,551.6 1063.5,551.9 1066.7,552.1 1070.0,552.4 1073.2,552.7 1076.4,552.9 1079.7,553.2 1082.9,553.4 1086.1,553.7 1089.4,553.9 1092.6,554.1 1095.8,554.4 1099.1,554.6 1102.3,554.8 1105.5,555.0 1108.7,555.2 1112.0,555.4 1115.2,555.6 1118.4,555.7 1121.7,555.9 1124.9,556.1 1128.1,556.2 1131.4,556.4 1134.6,556.5 1137.8,556.7 1141.1,556.8 1144.3,557.0 1147.5,557.1 1150.8,557.2 1154.0,557.3 1157.2,557.4 1160.5,557.5 1163.7,557.6 1166.9,557.7 1170.2,557.7 1173.4,557.8 1176.6,557.9 1179.8,557.9 1183.1,558.0 1186.3,558.0 1189.5,558.1 1192.8,558.1 1196.0,558.1 1199.2,558.1 1202.5,558.1 1205.7,558.1 1208.9,558.1 1212.2,558.1 1215.4,558.1 1218.6,558.1 1221.9,558.1 1225.1,558.0 1228.3,558.0 1231.6,557.9 1234.8,557.9 1238.0,557.8 1241.3,557.7 1244.5,557.7 1247.7,557.6 1250.9,557.5 1254.2,557.4 1257.4,557.3 1260.6,557.2 1263.9,557.1 1267.1,556.9 1270.3,556.8 1273.6,556.7 1276.8,556.5 1280.0,556.4 1283.3,556.2 1286.5,556.1 1289.7,555.9 1293.0,555.7 1296.2,555.5 1299.4,555.3 1302.7,555.2 1305.9,555.0 1309.1,554.7 1312.4,554.5 1315.6,554.3 1318.8,554.1 1322.1,553.9 1325.3,553.6 1328.5,553.4 1331.7,553.1 1335.0,552.9 1338.2,552.6 1341.4,552.4 1344.7,552.1 1347.9,551.8 1351.1,551.5 1354.4,551.2 1357.6,551.0 1360.8,550.7 1364.1,550.4 1367.3,550.0 1370.5,549.7 1373.8,549.4 1377.0,549.1 1380.2,548.8 1383.5,548.4 1386.7,548.1 1389.9,547.7 1393.2,547.4 1396.4,547.0 1399.6,546.7 1402.8,546.3 1406.1,545.9 1409.3,545.6 1412.5,545.2 1415.8,544.8 1419.0,544.4 1422.2,544.0 1425.5,543.6 1428.7,543.2 1431.9,542.8 1435.2,542.4 1438.4,542.0 1441.6,541.6 1444.9,541.2 1448.1,540.7 1451.3,540.3 1454.6,539.9 1457.8,539.5 1461.0,539.0 1464.3,538.6 1467.5,538.1 1470.7,537.7 1473.9,537.2 1477.2,536.8 1480.4,536.3 1483.6,535.9 1486.9,535.4 1490.1,534.9 1493.3,534.5 1496.6,534.0 1499.8,533.5 1503.0,533.0 1506.3,532.6 1509.5,532.1 1512.7,531.6 1516.0,531.1 1519.2,530.6 1522.4,530.1 1525.7,529.6 1528.9,529.2 1532.1,528.7 1535.4,528.2 1538.6,527.7 1541.8,527.2 1545.0,526.7 1548.3,526.2 1551.5,525.7 1554.7,525.2 1558.0,524.6 1561.2,524.1 1564.4,523.6 1567.7,523.1 1570.9,522.6 1574.1,522.1 1577.4,521.6 1580.6,521.1 1583.8,520.6 1587.1,520.1 1590.3,519.6 1593.5,519.0 1596.8,518.5 1600.0,518.0 1603.2,517.5 1606.5,517.0 1609.7,516.5 1612.9,516.0 1616.2,515.5 1619.4,515.0 1622.6,514.5 1625.8,513.9 1629.1,513.4 1632.3,512.9 1635.5,512.4 1638.8,511.9 1642.0,511.4 1645.2,510.9 1648.5,510.4 1651.7,509.9 1654.9,509.4 1658.2,508.9 1661.4,508.4 1664.6,508.0 1667.9,507.5 1671.1,507.0 1674.3,506.5 1677.6,506.0 1680.8,505.5 1684.0,505.1 1687.3,504.6 1690.5,504.1 1693.7,503.6 1696.9,503.2 1700.2,502.7 1703.4,502.2 1706.6,501.8 1709.9,501.3 1713.1,500.9 1716.3,500.4 1719.6,500.0 1722.8,499.5 1726.0,499.1 1729.3,498.6 1732.5,498.2 1735.7,497.8 1739.0,497.4 1742.2,496.9 1745.4,496.5 1748.7,496.1 1751.9,495.7 1755.1,495.3 1758.4,494.9 1761.6,494.5 1764.8,494.1 1768.0,493.7 1771.3,493.3 1774.5,492.9 1777.7,492.5 1781.0,492.2 1784.2,491.8 1787.4,491.4 1790.7,491.1 1793.9,490.7 1797.1,490.4 1800.4,490.0 1803.6,489.7" stroke="#0092ff"/>
<polyline points="252.3,485.0 255.5,484.8 258.8,484.6 262.0,484.5 265.2,484.3 268.5,484.2 271.7,484.0 274.9,483.8 278.2,483.7 281.4,483.5 284.6,483.4 287.9,483.3 291.1,483.1 294.3,483.0 297.5,482.8 300.8,482.7 304.0,482.6 307.2,482.5 310.5,482.3 313.7,482.2 316.9,482.1 320.2,482.0 323.4,481.9 326.6,481.8 329.9,481.7 333.1,481.6 336.3,481.5 339.6,481.4 342.8,481.3 346.0,481.2 349.3,481.1 352.5,481.0 355.7,480.9 359.0,480.9 362.2,480.8 365.4,480.7 368.6,480.7 371.9,480.6 375.1,480.5 378.3,480.5 381.6,480.4 384.8,480.4 388.0,480.3 391.3,480.3 394.5,480.3 397.7,480.2 401.0,480.2 404.2,480.2 407.4,480.1 410.7,480.1 413.9,480.1 417.1,480.1 420.4,480.1 423.6,480.1 426.8,480.0 430.1,480.0 433.3,480.0 436.5,480.1 439.7,480.1 443.0,480.1 446.2,480.1 449.4,480.1 452.7,480.1 455.9,480.2 459.1,480.2 462.4,480.2 465.6,480.3 468.8,480.3 472.1,480.3 475.3,480.4 478.5,480.4 481.8,480.5 485.0,480.5 488.2,480.6 491.5,480.7 494.7,480.7 497.9,480.8 501.2,480.9 504.4,481.0 507.6,481.0 510.8,481.1 514.1,481.2 517.3,481.3 520.5,481.4 523.8,481.5 527.0,481.6 530.2,481.7 533.5,481.8 536.7,481.9 539.9,482.0 543.2,482.1 546.4,482.2 549.6,482.4 552.9,482.5 556.1,482.6 559.3,482.7 562.6,482.9 565.8,483.0 569.0,483.1 572.3,483.3 575.5,483.4 578.7,483.6 582.0,483.7 585.2,483.9 588.4,484.0 591.6,484.2 594.9,484.4 598.1,484.5 601.3,484.7 604.6,484.8 607.8,485.0 611.0,485.2 614.3,485.4 617.5,485.6 620.7,485.7 624.0,485.9 627.2,486.1 630.4,486.3 633.7,486.5 636.9,486.7 640.1,486.9 643.4,487.1 646.6,487.3 649.8,487.5 653.1,487.7 656.3,487.9 659.5,488.1 662.7,488.3 666.0,488.5 669.2,488.7 672.4,488.9 675.7,489.2 678.9,489.4 682.1,489.6 685.4,489.8 688.6,490.1 691.8,490.3 695.1,490.5 698.3,490.7 701.5,491.0 704.8,491.2 708.0,491.4 711.2,491.7 714.5,491.9 717.7,492.2 720.9,492.4 724.2,492.6 727.4,492.9 730.6,493.1 733.8,493.4 737.1,493.6 740.3,493.9 743.5,494.1 746.8,494.4 750.0,494.6 753.2,494.9 756.5,495.1 759.7,495.4 762.9,495.6 766.2,495.9 769.4,496.2 772.6,496.4 775.9,496.7 779.1,496.9 782.3,497.2 785.6,497.4 788.8,497.7 792.0,498.0 795.3,498.2 798.5,498.5 801.7,498.7 805.0,499.0 808.2,499.3 811.4,499.5 814.6,499.8 817.9,500.0 821.1,500.3 824.3,500.6 827.6,500.8 830.8,501.1 834.0,501.4 837.3,501.6 840.5,501.9 843.7,502.1 847.0,502.4 850.2,502.7 853.4,502.9 856.7,503.2 859.9,503.4 863.1,503.7 866.4,503.9 869.6,504.2 872.8,504.5 876.1,504.7 879.3,505.0 882.5,505.2 885.7,505.5 889.0,505.7 892.2,506.0 895.4,506.2 898.7,506.5 901.9,506.7 905.1,507.0 908.4,507.2 911.6,507.4 914.8,507.7 918.1,507.9 921.3,508.2 924.5,508.4 927.8,508.6 931.0,508.9 934.2,509.1 937.5,509.3 940.7,509.6 943.9,509.8 947.2,510.0 950.4,510.3 953.6,510.5 956.8,510.7 960.1,510.9 963.3,511.1 966.5,511.4 969.8,511.6 973.0,511.8 976.2,512.0 979.5,512.2 982.7,512.4 985.9,512.6 989.2,512.8 992.4,513.0 995.6,513.2 998.9,513.4 1002.1,513.6 1005.3,513.8 1008.6,514.0 1011.8,514.2 1015.0,514.4 1018.3,514.5 1021.5,514.7 1024.7,514.9 1028.0,515.1 1031.2,515.2 1034.4,515.4 1037.6,515.6 1040.9,515.7 1044.1,515.9 1047.3,516.0 1050.6,516.2 1053.8,516.4 1057.0,516.5 1060.3,516.6 1063.5,516.8 1066.7,516.9 1070.0,517.1 1073.2,517.2 1076.4,517.3 1079.7,517.5 1082.9,517.6 1086.1,517.7 1089.4,517.8 1092.6,518.0 1095.8,518.1 1099.1,518.2 1102.3,518.3 1105.5,518.4 1108.7,518.5 1112.0,518.6 1115.2,518.7 1118.4,518.8 1121.7,518.9 1124.9,518.9 1128.1,519.0 1131.4,519.1 1134.6,519.2 1137.8,519.3 1141.1,519.3 1144.3,519.4 1147.5,519.5 1150.8,519.5 1154.0,519.6 1157.2,519.6 1160.5,519.7 1163.7,519.7 1166.9,519.8 1170.2,519.8 1173.4,519.8 1176.6,519.9 1179.8,519.9 1183.1,519.9 1186.3,519.9 1189.5,520.0 1192.8,520.0 1196.0,520.0 1199.2,520.0 1202.5,520.0 1205.7,520.0 1208.9,520.0 1212.2,520.0 1215.4,520.0 1218.6,520.0 1221.9,520.0 1225.1,519.9 1228.3,519.9 1231.6,519.9 1234.8,519.9 1238.0,519.8 1241.3,519.8 1244.5,519.8 1247.7,519.7 1250.9,519.7 1254.2,519.6 1257.4,519.6 1260.6,519.5 1263.9,519.4 1267.1,519.4 1270.3,519.3 1273.6,519.2 1276.8,519.2 1280.0,519.1 1283.3,519.0 1286.5,518.9 1289.7,518.8 1293.0,518.8 1296.2,518.7 1299.4,518.6 1302.7,518.5 1305.9,518.4 1309.1,518.3 1312.4,518.2 1315.6,518.0 1318.8,517.9 1322.1,517.8 1325.3,517.7 1328.5,517.6 1331.7,517.4 1335.0,517.3 1338.2,517.2 1341.4,517.0 1344.7,516.9 1347.9,516.8 1351.1,516.6 1354.4,516.5 1357.6,516.3 1360.8,516.2 1364.1,516.0 1367.3,515.9 1370.5,515.7 1373.8,515.5 1377.0,515.4 1380.2,515.2 1383.5,515.0 1386.7,514.9 1389.9,514.7 1393.2,514.5 1396.4,514.3 1399.6,514.1 1402.8,513.9 1406.1,513.8 1409.3,513.6 1412.5,513.4 1415.8,513.2 1419.0,513.0 1422.2,512.8 1425.5,512.6 1428.7,512.4 1431.9,512.2 1435.2,512.0 1438.4,511.7 1441.6,511.5 1444.9,511.3 1448.1,511.1 1451.3,510.9 1454.6,510.7 1457.8,510.4 1461.0,510.2 1464.3,510.0 1467.5,509.8 1470.7,509.5 1473.9,509.3 1477.2,509.1 1480.4,508.8 1483.6,508.6 1486.9,508.4 1490.1,508.1 1493.3,507.9 1496.6,507.6 1499.8,507.4 1503.0,507.2 1506.3,506.9 1509.5,506.7 1512.7,506.4 1516.0,506.2 1519.2,505.9 1522.4,505.7 1525.7,505.4 1528.9,505.2 1532.1,504.9 1535.4,504.7 1538.6,504.4 1541.8,504.2 1545.0,503.9 1548.3,503.6 1551.5,503.4 1554.7,503.1 1558.0,502.9 1561.2,502.6 1564.4,502.3 1567.7,502.1 1570.9,501.8 1574.1,501.6 1577.4,501.3 1580.6,501.0 1583.8,500.8 1587.1,500.5 1590.3,500.3 1593.5,500.0 1596.8,499.7 1600.0,499.5 1603.2,499.2 1606.5,499.0 1609.7,498.7 1612.9,498.4 1616.2,498.2 1619.4,497.9 1622.6,497.7 1625.8,497.4 1629.1,497.1 1632.3,496.9 1635.5,496.6 1638.8,496.4 1642.0,496.1 1645.2,495.8 1648.5,495.6 1651.7,495.3 1654.9,495.1 1658.2,494.8 1661.4,494.6 1664.6,494.3 1667.9,494.1 1671.1,493.8 1674.3,493.6 1677.6,493.3 1680.8,493.1 1684.0,492.8 1687.3,492.6 1690.5,492.4 1693.7,492.1 1696.9,491.9 1700.2,491.6 1703.4,491.4 1706.6,491.2 1709.9,490.9 1713.1,490.7 1716.3,490.5 1719.6,490.2 1722.8,490.0 1726.0,489.8 1729.3,489.6 1732.5,489.3 1735.7,489.1 1739.0,488.9 1742.2,488.7 1745.4,488.5 1748.7,488.3 1751.9,488.1 1755.1,487.8 1758.4,487.6 1761.6,487.4 1764.8,487.2 1768.0,487.0 1771.3,486.8 1774.5,486.6 1777.7,486.4 1781.0,486.3 1784.2,486.1 1787.4,485.9 1790.7,485.7 1793.9,485.5 1797.1,485.3 1800.4,485.2 1803.6,485.0" stroke="#00ffff"/>
<polyline points="252.3,480.8 255.5,480.8 258.8,480.8 262.0,480.7 265.2,480.7 268.5,480.7 271.7,480.7 274.9,480.6 278.2,480.6 281.4,480.6 284.6,480.6 287.9,480.5 291.1,480.5 294.3,480.5 297.5,480.5 300.8,480.5 304.0,480.4 307.2,480.4 310.5,480.4 313.7,480.4 316.9,480.4 320.2,480.3 323.4,480.3 326.6,480.3 329.9,480.3 333.1,480.3 336.3,480.3 339.6,480.3 342.8,480.2 346.0,480.2 349.3,480.2 352.5,480.2 355.7,480.2 359.0,480.2 362.2,480.2 365.4,480.2 368.6,480.1 371.9,480.1 375.1,480.1 378.3,480.1 381.6,480.1 384.8,480.1 388.0,480.1 391.3,480.1 394.5,480.1 397.7,480.1 401.0,480.1 404.2,480.1 407.4,480.1 410.7,480.1 413.9,480.1 417.1,480.1 420.4,480.1 423.6,480.1 426.8,480.1 430.1,480.1 433.3,480.1 436.5,480.1 439.7,480.1 443.0,480.1 446.2,480.1 449.4,480.1 452.7,480.1 455.9,480.1 459.1,480.1 462.4,480.1 465.6,480.1 468.8,480.1 472.1,480.1 475.3,480.1 478.5,480.1 481.8,480.1 485.0,480.1 488.2,480.1 491.5,480.1 494.7,480.2 497.9,480.2 501.2,480.2 504.4,480.2 507.6,480.2 510.8,480.2 514.1,480.2 517.3,480.2 520.5,480.3 523.8,480.3 527.0,480.3 530.2,480.3 533.5,480.3 536.7,480.3 539.9,480.4 543.2,480.4 546.4,480.4 549.6,480.4 552.9,480.4 556.1,480.4 559.3,480.5 562.6,480.5 565.8,480.5 569.0,480.5 572.3,480.5 575.5,480.6 578.7,480.6 582.0,480.6 585.2,480.6 588.4,480.7 591.6,480.7 594.9,480.7 598.1,480.7 601.3,480.8 604.6,480.8 607.8,480.8 611.0,480.8 614.3,480.9 617.5,480.9 620.7,480.9 624.0,480.9 627.2,481.0 630.4,481.0 633.7,481.0 636.9,481.1 640.1,481.1 643.4,481.1 646.6,481.2 649.8,481.2 653.1,481.2 656.3,481.2 659.5,481.3 662.7,481.3 666.0,481.3 669.2,481.4 672.4,481.4 675.7,481.4 678.9,481.5 682.1,481.5 685.4,481.5 688.6,481.6 691.8,481.6 695.1,481.6 698.3,481.7 701.5,481.7 704.8,481.7 708.0,481.8 711.2,481.8 714.5,481.9 717.7,481.9 720.9,481.9 724.2,482.0 727.4,482.0 730.6,482.0 733.8,482.1 737.1,482.1 740.3,482.2 743.5,482.2 746.8,482.2 750.0,482.3 753.2,482.3 756.5,482.3 759.7,482.4 762.9,482.4 766.2,482.5 769.4,482.5 772.6,482.5 775.9,482.6 779.1,482.6 782.3,482.7 785.6,482.7 788.8,482.7 792.0,482.8 795.3,482.8 798.5,482.8 801.7,482.9 805.0,482.9 808.2,483.0 811.4,483.0 814.6,483.0 817.9,483.1 821.1,483.1 824.3,483.2 827.6,483.2 830.8,483.2 834.0,483.3 837.3,483.3 840.5,483.4 843.7,483.4 847.0,483.4 850.2,483.5 853.4,483.5 856.7,483.6 859.9,483.6 863.1,483.6 866.4,483.7 869.6,483.7 872.8,483.8 876.1,483.8 879.3,483.8 882.5,483.9 885.7,483.9 889.0,483.9 892.2,484.0 895.4,484.0 898.7,484.1 901.9,484.1 905.1,484.1 908.4,484.2 911.6,484.2 914.8,484.2 918.1,484.3 921.3,484.3 924.5,484.4 927.8,484.4 931.0,484.4 934.2,484.5 937.5,484.5 940.7,484.5 943.9,484.6 947.2,484.6 950.4,484.6 953.6,484.7 956.8,484.7 960.1,484.7 963.3,484.8 966.5,484.8 969.8,484.8 973.0,484.9 976.2,484.9 979.5,484.9 982.7,485.0 985.9,485.0 989.2,485.0 992.4,485.1 995.6,485.1 998.9,485.1 1002.1,485.1 1005.3,485.2 1008.6,485.2 1011.8,485.2 1015.0,485.3 1018.3,485.3 1021.5,485.3 1024.7,485.3 1028.0,485.4 1031.2,485.4 1034.4,485.4 1037.6,485.4 1040.9,485.5 1044.1,485.5 1047.3,485.5 1050.6,485.5 1053.8,485.6 1057.0,485.6 1060.3,485.6 1063.5,485.6 1066.7,485.6 1070.0,485.7 1073.2,485.7 1076.4,485.7 1079.7,485.7 1082.9,485.7 1086.1,485.8 1089.4,485.8 1092.6,485.8 1095.8,485.8 1099.1,485.8 1102.3,485.9 1105.5,485.9 1108.7,485.9 1112.0,485.9 1115.2,485.9 1118.4,485.9 1121.7,485.9 1124.9,486.0 1128.1,486.0 1131.4,486.0 1134.6,486.0 1137.8,486.0 1141.1,486.0 1144.3,486.0 1147.5,486.0 1150.8,486.0 1154.0,486.0 1157.2,486.1 1160.5,486.1 1163.7,486.1 1166.9,486.1 1170.2,486.1 1173.4,486.1 1176.6,486.1 1179.8,486.1 1183.1,486.1 1186.3,486.1 1189.5,486.1 1192.8,486.1 1196.0,486.1 1199.2,486.1 1202.5,486.1 1205.7,486.1 1208.9,486.1 1212.2,486.1 1215.4,486.1 1218.6,486.1 1221.9,486.1 1225.1,486.1 1228.3,486.1 1231.6,486.1 1234.8,486.1 1238.0,486.1 1241.3,486.1 1244.5,486.1 1247.7,486.1 1250.9,486.1 1254.2,486.1 1257.4,486.0 1260.6,486.0 1263.9,486.0 1267.1,486.0 1270.3,486.0 1273.6,486.0 1276.8,486.0 1280.0,486.0 1283.3,486.0 1286.5,485.9 1289.7,485.9 1293.0,485.9 1296.2,485.9 1299.4,485.9 1302.7,485.9 1305.9,485.9 1309.1,485.8 1312.4,485.8 1315.6,485.8 1318.8,485.8 1322.1,485.8 1325.3,485.8 1328.5,485.7 1331.7,485.7 1335.0,485.7 1338.2,485.7 1341.4,485.7 1344.7,485.6 1347.9,485.6 1351.1,485.6 1354.4,485.6 1357.6,485.6 1360.8,485.5 1364.1,485.5 1367.3,485.5 1370.5,485.5 1373.8,485.4 1377.0,485.4 1380.2,485.4 1383.5,485.4 1386.7,485.3 1389.9,485.3 1393.2,485.3 1396.4,485.2 1399.6,485.2 1402.8,485.2 1406.1,485.2 1409.3,485.1 1412.5,485.1 1415.8,485.1 1419.0,485.0 1422.2,485.0 1425.5,485.0 1428.7,485.0 1431.9,484.9 1435.2,484.9 1438.4,484.9 1441.6,484.8 1444.9,484.8 1448.1,484.8 1451.3,484.7 1454.6,484.7 1457.8,484.7 1461.0,484.6 1464.3,484.6 1467.5,484.6 1470.7,484.5 1473.9,484.5 1477.2,484.5 1480.4,484.4 1483.6,484.4 1486.9,484.3 1490.1,484.3 1493.3,484.3 1496.6,484.2 1499.8,484.2 1503.0,484.2 1506.3,484.1 1509.5,484.1 1512.7,484.1 1516.0,484.0 1519.2,484.0 1522.4,483.9 1525.7,483.9 1528.9,483.9 1532.1,483.8 1535.4,483.8 1538.6,483.7 1541.8,483.7 1545.0,483.7 1548.3,483.6 1551.5,483.6 1554.7,483.6 1558.0,483.5 1561.2,483.5 1564.4,483.4 1567.7,483.4 1570.9,483.4 1574.1,483.3 1577.4,483.3 1580.6,483.2 1583.8,483.2 1587.1,483.2 1590.3,483.1 1593.5,483.1 1596.8,483.0 1600.0,483.0 1603.2,483.0 1606.5,482.9 1609.7,482.9 1612.9,482.8 1616.2,482.8 1619.4,482.8 1622.6,482.7 1625.8,482.7 1629.1,482.6 1632.3,482.6 1635.5,482.6 1638.8,482.5 1642.0,482.5 1645.2,482.5 1648.5,482.4 1651.7,482.4 1654.9,482.3 1658.2,482.3 1661.4,482.3 1664.6,482.2 1667.9,482.2 1671.1,482.1 1674.3,482.1 1677.6,482.1 1680.8,482.0 1684.0,482.0 1687.3,482.0 1690.5,481.9 1693.7,481.9 1696.9,481.8 1700.2,481.8 1703.4,481.8 1706.6,481.7 1709.9,481.7 1713.1,481.7 1716.3,481.6 1719.6,481.6 1722.8,481.6 1726.0,481.5 1729.3,481.5 1732.5,481.5 1735.7,481.4 1739.0,481.4 1742.2,481.4 1745.4,481.3 1748.7,481.3 1751.9,481.3 1755.1,481.2 1758.4,481.2 1761.6,481.2 1764.8,481.1 1768.0,481.1 1771.3,481.1 1774.5,481.1 1777.7,481.0 1781.0,481.0 1784.2,481.0 1787.4,480.9 1790.7,480.9 1793.9,480.9 1797.1,480.9 1800.4,480.8 1803.6,480.8" stroke="#00ff92"/>
<polyline points="252.3,477.0 255.5,477.1 258.8,477.2 262.0,477.3 265.2,477.4 268.5,477.5 271.7,477.6 274.9,477.7 278.2,477.8 281.4,477.9 284.6,478.0 287.9,478.1 291.1,478.2 294.3,478.3 297.5,478.3 300.8,478.4 304.0,478.5 307.2,478.6 310.5,478.7 313.7,478.7 316.9,478.8 320.2,478.9 323.4,478.9 326.6,479.0 329.9,479.1 333.1,479.1 336.3,479.2 339.6,479.2 342.8,479.3 346.0,479.4 349.3,479.4 352.5,479.5 355.7,479.5 359.0,479.6 362.2,479.6 365.4,479.6 368.6,479.7 371.9,479.7 375.1,479.8 378.3,479.8 381.6,479.8 384.8,479.9 388.0,479.9 391.3,479.9 394.5,479.9 397.7,480.0 401.0,480.0 404.2,480.0 407.4,480.0 410.7,480.0 413.9,480.0 417.1,480.0 420.4,480.1 423.6,480.1 426.8,480.1 430.1,480.1 433.3,480.1 436.5,480.1 439.7,480.1 443.0,480.0 446.2,480.0 449.4,480.0 452.7,480.0 455.9,480.0 459.1,480.0 462.4,480.0 465.6,479.9 468.8,479.9 472.1,479.9 475.3,479.9 478.5,479.8 481.8,479.8 485.0,479.8 488.2,479.7 491.5,479.7 494.7,479.6 497.9,479.6 501.2,479.6 504.4,479.5 507.6,479.5 510.8,479.4 514.1,479.4 517.3,479.3 520.5,479.2 523.8,479.2 527.0,479.1 530.2,479.1 533.5,479.0 536.7,478.9 539.9,478.9 543.2,478.8 546.4,478.7 549.6,478.6 552.9,478.6 556.1,478.5 559.3,478.4 562.6,478.3 565.8,478.2 569.0,478.2 572.3,478.1 575.5,478.0 578.7,477.9 582.0,477.8 585.2,477.7 588.4,477.6 591.6,477.5 594.9,477.4 598.1,477.3 601.3,477.2 604.6,477.1 607.8,477.0 611.0,476.9 614.3,476.8 617.5,476.7 620.7,476.6 624.0,476.4 627.2,476.3 630.4,476.2 633.7,476.1 636.9,476.0 640.1,475.9 643.4,475.7 646.6,475.6 649.8,475.5 653.1,475.4 656.3,475.2 659.5,475.1 662.7,475.0 666.0,474.8 669.2,474.7 672.4,474.6 675.7,474.4 678.9,474.3 682.1,474.2 685.4,474.0 688.6,473.9 691.8,473.7 695.1,473.6 698.3,473.5 701.5,473.3 704.8,473.2 708.0,473.0 711.2,472.9 714.5,472.7 717.7,472.6 720.9,472.4 724.2,472.3 727.4,472.1 730.6,472.0 733.8,471.8 737.1,471.7 740.3,471.5 743.5,471.4 746.8,471.2 750.0,471.1 753.2,470.9 756.5,470.8 759.7,470.6 762.9,470.4 766.2,470.3 769.4,470.1 772.6,470.0 775.9,469.8 779.1,469.7 782.3,469.5 785.6,469.3 788.8,469.2 792.0,469.0 795.3,468.9 798.5,468.7 801.7,468.5 805.0,468.4 808.2,468.2 811.4,468.0 814.6,467.9 817.9,467.7 821.1,467.6 824.3,467.4 827.6,467.2 830.8,467.1 834.0,466.9 837.3,466.8 840.5,466.6 843.7,466.4 847.0,466.3 850.2,466.1 853.4,466.0 856.7,465.8 859.9,465.6 863.1,465.5 866.4,465.3 869.6,465.2 872.8,465.0 876.1,464.8 879.3,464.7 882.5,464.5 885.7,464.4 889.0,464.2 892.2,464.1 895.4,463.9 898.7,463.8 901.9,463.6 905.1,463.5 908.4,463.3 911.6,463.2 914.8,463.0 918.1,462.9 921.3,462.7 924.5,462.6 927.8,462.4 931.0,462.3 934.2,462.1 937.5,462.0 940.7,461.8 943.9,461.7 947.2,461.6 950.4,461.4 953.6,461.3 956.8,461.2 960.1,461.0 963.3,460.9 966.5,460.7 969.8,460.6 973.0,460.5 976.2,460.4 979.5,460.2 982.7,460.1 985.9,460.0 989.2,459.8 992.4,459.7 995.6,459.6 998.9,459.5 1002.1,459.4 1005.3,459.2 1008.6,459.1 1011.8,459.0 1015.0,458.9 1018.3,458.8 1021.5,458.7 1024.7,458.6 1028.0,458.5 1031.2,458.4 1034.4,458.3 1037.6,458.2 1040.9,458.1 1044.1,458.0 1047.3,457.9 1050.6,457.8 1053.8,457.7 1057.0,457.6 1060.3,457.5 1063.5,457.4 1066.7,457.3 1070.0,457.2 1073.2,457.1 1076.4,457.1 1079.7,457.0 1082.9,456.9 1086.1,456.8 1089.4,456.8 1092.6,456.7 1095.8,456.6 1099.1,456.5 1102.3,456.5 1105.5,456.4 1108.7,456.3 1112.0,456.3 1115.2,456.2 1118.4,456.2 1121.7,456.1 1124.9,456.1 1128.1,456.0 1131.4,456.0 1134.6,455.9 1137.8,455.9 1141.1,455.8 1144.3,455.8 1147.5,455.8 1150.8,455.7 1154.0,455.7 1157.2,455.7 1160.5,455.6 1163.7,455.6 1166.9,455.6 1170.2,455.5 1173.4,455.5 1176.6,455.5 1179.8,455.5 1183.1,455.5 1186.3,455.5 1189.5,455.4 1192.8,455.4 1196.0,455.4 1199.2,455.4 1202.5,455.4 1205.7,455.4 1208.9,455.4 1212.2,455.4 1215.4,455.4 1218.6,455.4 1221.9,455.4 1225.1,455.5 1228.3,455.5 1231.6,455.5 1234.8,455.5 1238.0,455.5 1241.3,455.5 1244.5,455.6 1247.7,455.6 1250.9,455.6 1254.2,455.7 1257.4,455.7 1260.6,455.7 1263.9,455.8 1267.1,455.8 1270.3,455.8 1273.6,455.9 1276.8,455.9 1280.0,456.0 1283.3,456.0 1286.5,456.1 1289.7,456.1 1293.0,456.2 1296.2,456.2 1299.4,456.3 1302.7,456.4 1305.9,456.4 1309.1,456.5 1312.4,456.6 1315.6,456.6 1318.8,456.7 1322.1,456.8 1325.3,456.8 1328.5,456.9 1331.7,457.0 1335.0,457.1 1338.2,457.2 1341.4,457.2 1344.7,457.3 1347.9,457.4 1351.1,457.5 1354.4,457.6 1357.6,457.7 1360.8,457.8 1364.1,457.9 1367.3,458.0 1370.5,458.1 1373.8,458.2 1377.0,458.3 1380.2,458.4 1383.5,458.5 1386.7,458.6 1389.9,458.7 1393.2,458.8 1396.4,458.9 1399.6,459.0 1402.8,459.2 1406.1,459.3 1409.3,459.4 1412.5,459.5 1415.8,459.6 1419.0,459.7 1422.2,459.9 1425.5,460.0 1428.7,460.1 1431.9,460.2 1435.2,460.4 1438.4,460.5 1441.6,460.6 1444.9,460.8 1448.1,460.9 1451.3,461.0 1454.6,461.2 1457.8,461.3 1461.0,461.5 1464.3,461.6 1467.5,461.7 1470.7,461.9 1473.9,462.0 1477.2,462.2 1480.4,462.3 1483.6,462.4 1486.9,462.6 1490.1,462.7 1493.3,462.9 1496.6,463.0 1499.8,463.2 1503.0,463.3 1506.3,463.5 1509.5,463.6 1512.7,463.8 1516.0,463.9 1519.2,464.1 1522.4,464.3 1525.7,464.4 1528.9,464.6 1532.1,464.7 1535.4,464.9 1538.6,465.0 1541.8,465.2 1545.0,465.4 1548.3,465.5 1551.5,465.7 1554.7,465.8 1558.0,466.0 1561.2,466.1 1564.4,466.3 1567.7,466.5 1570.9,466.6 1574.1,466.8 1577.4,466.9 1580.6,467.1 1583.8,467.3 1587.1,467.4 1590.3,467.6 1593.5,467.8 1596.8,467.9 1600.0,468.1 1603.2,468.2 1606.5,468.4 1609.7,468.6 1612.9,468.7 1616.2,468.9 1619.4,469.0 1622.6,469.2 1625.8,469.4 1629.1,469.5 1632.3,469.7 1635.5,469.8 1638.8,470.0 1642.0,470.2 1645.2,470.3 1648.5,470.5 1651.7,470.6 1654.9,470.8 1658.2,470.9 1661.4,471.1 1664.6,471.3 1667.9,471.4 1671.1,471.6 1674.3,471.7 1677.6,471.9 1680.8,472.0 1684.0,472.2 1687.3,472.3 1690.5,472.5 1693.7,472.6 1696.9,472.8 1700.2,472.9 1703.4,473.1 1706.6,473.2 1709.9,473.3 1713.1,473.5 1716.3,473.6 1719.6,473.8 1722.8,473.9 1726.0,474.1 1729.3,474.2 1732.5,474.3 1735.7,474.5 1739.0,474.6 1742.2,474.7 1745.4,474.9 1748.7,475.0 1751.9,475.1 1755.1,475.3 1758.4,475.4 1761.6,475.5 1764.8,475.6 1768.0,475.8 1771.3,475.9 1774.5,476.0 1777.7,476.1 1781.0,476.2 1784.2,476.3 1787.4,476.5 1790.7,476.6 1793.9,476.7 1797.1,476.8 1800.4,476.9 1803.6,477.0" stroke="#00ff24"/>
<polyline points="252.3,473.5 255.5,473.8 258.8,474.0 262.0,474.2 265.2,474.4 268.5,474.6 271.7,474.8 274.9,475.0 278.2,475.2 281.4,475.4 284.6,475.6 287.9,475.8 291.1,476.0 294.3,476.2 297.5,476.4 300.8,476.5 304.0,476.7 307.2,476.9 310.5,477.0 313.7,477.2 316.9,477.4 320.2,477.5 323.4,477.7 326.6,477.8 329.9,477.9 333.1,478.1 336.3,478.2 339.6,478.3 342.8,478.4 346.0,478.6 349.3,478.7 352.5,478.8 355.7,478.9 359.0,479.0 362.2,479.1 365.4,479.2 368.6,479.3 371.9,479.3 375.1,479.4 378.3,479.5 381.6,479.6 384.8,479.6 388.0,479.7 391.3,479.7 394.5,479.8 397.7,479.8 401.0,479.9 404.2,479.9 407.4,480.0 410.7,480.0 413.9,480.0 417.1,480.0 420.4,480.1 423.6,480.1 426.8,480.1 430.1,480.1 433.3,480.1 436.5,480.1 439.7,480.0 443.0,480.0 446.2,480.0 449.4,480.0 452.7,480.0 455.9,479.9 459.1,479.9 462.4,479.8 465.6,479.8 468.8,479.7 472.1,479.7 475.3,479.6 478.5,479.6 481.8,479.5 485.0,479.4 488.2,479.3 491.5,479.2 494.7,479.2 497.9,479.1 501.2,479.0 504.4,478.9 507.6,478.8 510.8,478.7 514.1,478.5 517.3,478.4 520.5,478.3 523.8,478.2 527.0,478.0 530.2,477.9 533.5,477.8 536.7,477.6 539.9,477.5 543.2,477.3 546.4,477.2 549.6,477.0 552.9,476.8 556.1,476.7 559.3,476.5 562.6,476.3 565.8,476.2 569.0,476.0 572.3,475.8 575.5,475.6 578.7,475.4 582.0,475.2 585.2,475.0 588.4,474.8 591.6,474.6 594.9,474.4 598.1,474.2 601.3,473.9 604.6,473.7 607.8,473.5 611.0,473.3 614.3,473.0 617.5,472.8 620.7,472.5 624.0,472.3 627.2,472.0 630.4,471.8 633.7,471.5 636.9,471.3 640.1,471.0 643.4,470.8 646.6,470.5 649.8,470.2 653.1,470.0 656.3,469.7 659.5,469.4 662.7,469.1 666.0,468.9 669.2,468.6 672.4,468.3 675.7,468.0 678.9,467.7 682.1,467.4 685.4,467.1 688.6,466.8 691.8,466.5 695.1,466.2 698.3,465.9 701.5,465.6 704.8,465.3 708.0,465.0 711.2,464.7 714.5,464.3 717.7,464.0 720.9,463.7 724.2,463.4 727.4,463.1 730.6,462.7 733.8,462.4 737.1,462.1 740.3,461.8 743.5,461.4 746.8,461.1 750.0,460.8 753.2,460.4 756.5,460.1 759.7,459.8 762.9,459.4 766.2,459.1 769.4,458.7 772.6,458.4 775.9,458.1 779.1,457.7 782.3,457.4 785.6,457.0 788.8,456.7 792.0,456.3 795.3,456.0 798.5,455.7 801.7,455.3 805.0,455.0 808.2,454.6 811.4,454.3 814.6,453.9 817.9,453.6 821.1,453.2 824.3,452.9 827.6,452.5 830.8,452.2 834.0,451.8 837.3,451.5 840.5,451.2 843.7,450.8 847.0,450.5 850.2,450.1 853.4,449.8 856.7,449.4 859.9,449.1 863.1,448.8 866.4,448.4 869.6,448.1 872.8,447.7 876.1,447.4 879.3,447.1 882.5,446.7 885.7,446.4 889.0,446.1 892.2,445.7 895.4,445.4 898.7,445.1 901.9,444.7 905.1,444.4 908.4,444.1 911.6,443.8 914.8,443.5 918.1,443.1 921.3,442.8 924.5,442.5 927.8,442.2 931.0,441.9 934.2,441.6 937.5,441.3 940.7,441.0 943.9,440.6 947.2,440.3 950.4,440.0 953.6,439.8 956.8,439.5 960.1,439.2 963.3,438.9 966.5,438.6 969.8,438.3 973.0,438.0 976.2,437.7 979.5,437.5 982.7,437.2 985.9,436.9 989.2,436.7 992.4,436.4 995.6,436.1 998.9,435.9 1002.1,435.6 1005.3,435.4 1008.6,435.1 1011.8,434.9 1015.0,434.6 1018.3,434.4 1021.5,434.2 1024.7,433.9 1028.0,433.7 1031.2,433.5 1034.4,433.2 1037.6,433.0 1040.9,432.8 1044.1,432.6 1047.3,432.4 1050.6,432.2 1053.8,432.0 1057.0,431.8 1060.3,431.6 1063.5,431.4 1066.7,431.2 1070.0,431.0 1073.2,430.8 1076.4,430.7 1079.7,430.5 1082.9,430.3 1086.1,430.2 1089.4,430.0 1092.6,429.9 1095.8,429.7 1099.1,429.6 1102.3,429.4 1105.5,429.3 1108.7,429.1 1112.0,429.0 1115.2,428.9 1118.4,428.8 1121.7,428.7 1124.9,428.5 1128.1,428.4 1131.4,428.3 1134.6,428.2 1137.8,428.1 1141.1,428.0 1144.3,428.0 1147.5,427.9 1150.8,427.8 1154.0,427.7 1157.2,427.6 1160.5,427.6 1163.7,427.5 1166.9,427.5 1170.2,427.4 1173.4,427.4 1176.6,427.3 1179.8,427.3 1183.1,427.3 1186.3,427.2 1189.5,427.2 1192.8,427.2 1196.0,427.2 1199.2,427.2 1202.5,427.1 1205.7,427.1 1208.9,427.1 1212.2,427.2 1215.4,427.2 1218.6,427.2 1221.9,427.2 1225.1,427.2 1228.3,427.3 1231.6,427.3 1234.8,427.3 1238.0,427.4 1241.3,427.4 1244.5,427.5 1247.7,427.5 1250.9,427.6 1254.2,427.7 1257.4,427.7 1260.6,427.8 1263.9,427.9 1267.1,428.0 1270.3,428.1 1273.6,428.1 1276.8,428.2 1280.0,428.3 1283.3,428.5 1286.5,428.6 1289.7,428.7 1293.0,428.8 1296.2,428.9 1299.4,429.0 1302.7,429.2 1305.9,429.3 1309.1,429.4 1312.4,429.6 1315.6,429.7 1318.8,429.9 1322.1,430.0 1325.3,430.2 1328.5,430.4 1331.7,430.5 1335.0,430.7 1338.2,430.9 1341.4,431.1 1344.7,431.2 1347.9,431.4 1351.1,431.6 1354.4,431.8 1357.6,432.0 1360.8,432.2 1364.1,432.4 1367.3,432.6 1370.5,432.8 1373.8,433.1 1377.0,433.3 1380.2,433.5 1383.5,433.7 1386.7,434.0 1389.9,434.2 1393.2,434.4 1396.4,434.7 1399.6,434.9 1402.8,435.2 1406.1,435.4 1409.3,435.7 1412.5,435.9 1415.8,436.2 1419.0,436.4 1422.2,436.7 1425.5,437.0 1428.7,437.3 1431.9,437.5 1435.2,437.8 1438.4,438.1 1441.6,438.4 1444.9,438.6 1448.1,438.9 1451.3,439.2 1454.6,439.5 1457.8,439.8 1461.0,440.1 1464.3,440.4 1467.5,440.7 1470.7,441.0 1473.9,441.3 1477.2,441.6 1480.4,441.9 1483.6,442.2 1486.9,442.6 1490.1,442.9 1493.3,443.2 1496.6,443.5 1499.8,443.8 1503.0,444.2 1506.3,444.5 1509.5,444.8 1512.7,445.1 1516.0,445.5 1519.2,445.8 1522.4,446.1 1525.7,446.5 1528.9,446.8 1532.1,447.1 1535.4,447.5 1538.6,447.8 1541.8,448.1 1545.0,448.5 1548.3,448.8 1551.5,449.2 1554.7,449.5 1558.0,449.8 1561.2,450.2 1564.4,450.5 1567.7,450.9 1570.9,451.2 1574.1,451.6 1577.4,451.9 1580.6,452.3 1583.8,452.6 1587.1,452.9 1590.3,453.3 1593.5,453.6 1596.8,454.0 1600.0,454.3 1603.2,454.7 1606.5,455.0 1609.7,455.4 1612.9,455.7 1616.2,456.1 1619.4,456.4 1622.6,456.7 1625.8,457.1 1629.1,457.4 1632.3,457.8 1635.5,458.1 1638.8,458.5 1642.0,458.8 1645.2,459.1 1648.5,459.5 1651.7,459.8 1654.9,460.2 1658.2,460.5 1661.4,460.8 1664.6,461.2 1667.9,461.5 1671.1,461.8 1674.3,462.1 1677.6,462.5 1680.8,462.8 1684.0,463.1 1687.3,463.4 1690.5,463.8 1693.7,464.1 1696.9,464.4 1700.2,464.7 1703.4,465.0 1706.6,465.3 1709.9,465.6 1713.1,466.0 1716.3,466.3 1719.6,466.6 1722.8,466.9 1726.0,467.2 1729.3,467.5 1732.5,467.8 1735.7,468.0 1739.0,468.3 1742.2,468.6 1745.4,468.9 1748.7,469.2 1751.9,469.5 1755.1,469.7 1758.4,470.0 1761.6,470.3 1764.8,470.6 1768.0,470.8 1771.3,471.1 1774.5,471.3 1777.7,471.6 1781.0,471.8 1784.2,472.1 1787.4,472.3 1790.7,472.6 1793.9,472.8 1797.1,473.1 1800.4,473.3 1803.6,473.5" stroke="#49ff00"/>
<polyline points="252.3,470.3 255.5,470.6 258.8,470.9 262.0,471.3 265.2,471.6 268.5,471.9 271.7,472.2 274.9,472.5 278.2,472.8 281.4,473.1 284.6,473.4 287.9,473.7 291.1,474.0 294.3,474.3 297.5,474.5 300.8,474.8 304.0,475.0 307.2,475.3 310.5,475.5 313.7,475.8 316.9,476.0 320.2,476.2 323.4,476.5 326.6,476.7 329.9,476.9 333.1,477.1 336.3,477.3 339.6,477.5 342.8,477.6 346.0,477.8 349.3,478.0 352.5,478.1 355.7,478.3 359.0,478.5 362.2,478.6 365.4,478.7 368.6,478.9 371.9,479.0 375.1,479.1 378.3,479.2 381.6,479.3 384.8,479.4 388.0,479.5 391.3,479.6 394.5,479.7 397.7,479.7 401.0,479.8 404.2,479.9 407.4,479.9 410.7,480.0 413.9,480.0 417.1,480.0 420.4,480.0 423.6,480.1 426.8,480.1 430.1,480.1 433.3,480.1 436.5,480.1 439.7,480.0 443.0,480.0 446.2,480.0 449.4,480.0 452.7,479.9 455.9,479.9 459.1,479.8 462.4,479.7 465.6,479.7 468.8,479.6 472.1,479.5 475.3,479.4 478.5,479.3 481.8,479.2 485.0,479.1 488.2,479.0 491.5,478.8 494.7,478.7 497.9,478.6 501.2,478.4 504.4,478.3 507.6,478.1 510.8,478.0 514.1,477.8 517.3,477.6 520.5,477.4 523.8,477.2 527.0,477.0 530.2,476.8 533.5,476.6 536.7,476.4 539.9,476.2 543.2,476.0 546.4,475.7 549.6,475.5 552.9,475.2 556.1,475.0 559.3,474.7 562.6,474.5 565.8,474.2 569.0,473.9 572.3,473.6 575.5,473.4 578.7,473.1 582.0,472.8 585.2,472.5 588.4,472.2 591.6,471.8 594.9,471.5 598.1,471.2 601.3,470.9 604.6,470.5 607.8,470.2 611.0,469.9 614.3,469.5 617.5,469.1 620.7,468.8 624.0,468.4 627.2,468.1 630.4,467.7 633.7,467.3 636.9,466.9 640.1,466.5 643.4,466.1 646.6,465.7 649.8,465.3 653.1,464.9 656.3,464.5 659.5,464.1 662.7,463.7 666.0,463.3 669.2,462.8 672.4,462.4 675.7,462.0 678.9,461.5 682.1,461.1 685.4,460.6 688.6,460.2 691.8,459.7 695.1,459.3 698.3,458.8 701.5,458.4 704.8,457.9 708.0,457.4 711.2,457.0 714.5,456.5 717.7,456.0 720.9,455.5 724.2,455.1 727.4,454.6 730.6,454.1 733.8,453.6 737.1,453.1 740.3,452.6 743.5,452.1 746.8,451.6 750.0,451.1 753.2,450.6 756.5,450.1 759.7,449.6 762.9,449.1 766.2,448.6 769.4,448.1 772.6,447.6 775.9,447.1 779.1,446.6 782.3,446.0 785.6,445.5 788.8,445.0 792.0,444.5 795.3,444.0 798.5,443.5 801.7,442.9 805.0,442.4 808.2,441.9 811.4,441.4 814.6,440.9 817.9,440.4 821.1,439.8 824.3,439.3 827.6,438.8 830.8,438.3 834.0,437.8 837.3,437.2 840.5,436.7 843.7,436.2 847.0,435.7 850.2,435.2 853.4,434.7 856.7,434.1 859.9,433.6 863.1,433.1 866.4,432.6 869.6,432.1 872.8,431.6 876.1,431.1 879.3,430.6 882.5,430.1 885.7,429.6 889.0,429.1 892.2,428.6 895.4,428.1 898.7,427.6 901.9,427.1 905.1,426.6 908.4,426.1 911.6,425.7 914.8,425.2 918.1,424.7 921.3,424.2 924.5,423.7 927.8,423.3 931.0,422.8 934.2,422.3 937.5,421.9 940.7,421.4 943.9,421.0 947.2,420.5 950.4,420.1 953.6,419.6 956.8,419.2 960.1,418.7 963.3,418.3 966.5,417.9 969.8,417.5 973.0,417.0 976.2,416.6 979.5,416.2 982.7,415.8 985.9,415.4 989.2,415.0 992.4,414.6 995.6,414.2 998.9,413.8 1002.1,413.4 1005.3,413.1 1008.6,412.7 1011.8,412.3 1015.0,411.9 1018.3,411.6 1021.5,411.2 1024.7,410.9 1028.0,410.5 1031.2,410.2 1034.4,409.9 1037.6,409.5 1040.9,409.2 1044.1,408.9 1047.3,408.6 1050.6,408.3 1053.8,408.0 1057.0,407.7 1060.3,407.4 1063.5,407.1 1066.7,406.8 1070.0,406.5 1073.2,406.3 1076.4,406.0 1079.7,405.8 1082.9,405.5 1086.1,405.3 1089.4,405.0 1092.6,404.8 1095.8,404.6 1099.1,404.3 1102.3,404.1 1105.5,403.9 1108.7,403.7 1112.0,403.5 1115.2,403.3 1118.4,403.2 1121.7,403.0 1124.9,402.8 1128.1,402.6 1131.4,402.5 1134.6,402.3 1137.8,402.2 1141.1,402.1 1144.3,401.9 1147.5,401.8 1150.8,401.7 1154.0,401.6 1157.2,401.5 1160.5,401.4 1163.7,401.3 1166.9,401.2 1170.2,401.1 1173.4,401.1 1176.6,401.0 1179.8,400.9 1183.1,400.9 1186.3,400.8 1189.5,400.8 1192.8,400.8 1196.0,400.8 1199.2,400.7 1202.5,400.7 1205.7,400.7 1208.9,400.7 1212.2,400.7 1215.4,400.8 1218.6,400.8 1221.9,400.8 1225.1,400.8 1228.3,400.9 1231.6,400.9 1234.8,401.0 1238.0,401.1 1241.3,401.1 1244.5,401.2 1247.7,401.3 1250.9,401.4 1254.2,401.5 1257.4,401.6 1260.6,401.7 1263.9,401.8 1267.1,402.0 1270.3,402.1 1273.6,402.2 1276.8,402.4 1280.0,402.5 1283.3,402.7 1286.5,402.8 1289.7,403.0 1293.0,403.2 1296.2,403.4 1299.4,403.6 1302.7,403.8 1305.9,404.0 1309.1,404.2 1312.4,404.4 1315.6,404.6 1318.8,404.8 1322.1,405.1 1325.3,405.3 1328.5,405.6 1331.7,405.8 1335.0,406.1 1338.2,406.3 1341.4,406.6 1344.7,406.9 1347.9,407.2 1351.1,407.4 1354.4,407.7 1357.6,408.0 1360.8,408.3 1364.1,408.6 1367.3,409.0 1370.5,409.3 1373.8,409.6 1377.0,409.9 1380.2,410.3 1383.5,410.6 1386.7,410.9 1389.9,411.3 1393.2,411.7 1396.4,412.0 1399.6,412.4 1402.8,412.7 1406.1,413.1 1409.3,413.5 1412.5,413.9 1415.8,414.3 1419.0,414.7 1422.2,415.1 1425.5,415.5 1428.7,415.9 1431.9,416.3 1435.2,416.7 1438.4,417.1 1441.6,417.5 1444.9,418.0 1448.1,418.4 1451.3,418.8 1454.6,419.3 1457.8,419.7 1461.0,420.2 1464.3,420.6 1467.5,421.1 1470.7,421.5 1473.9,422.0 1477.2,422.4 1480.4,422.9 1483.6,423.4 1486.9,423.8 1490.1,424.3 1493.3,424.8 1496.6,425.3 1499.8,425.7 1503.0,426.2 1506.3,426.7 1509.5,427.2 1512.7,427.7 1516.0,428.2 1519.2,428.7 1522.4,429.2 1525.7,429.7 1528.9,430.2 1532.1,430.7 1535.4,431.2 1538.6,431.7 1541.8,432.2 1545.0,432.7 1548.3,433.2 1551.5,433.7 1554.7,434.2 1558.0,434.8 1561.2,435.3 1564.4,435.8 1567.7,436.3 1570.9,436.8 1574.1,437.3 1577.4,437.9 1580.6,438.4 1583.8,438.9 1587.1,439.4 1590.3,439.9 1593.5,440.4 1596.8,441.0 1600.0,441.5 1603.2,442.0 1606.5,442.5 1609.7,443.0 1612.9,443.6 1616.2,444.1 1619.4,444.6 1622.6,445.1 1625.8,445.6 1629.1,446.1 1632.3,446.7 1635.5,447.2 1638.8,447.7 1642.0,448.2 1645.2,448.7 1648.5,449.2 1651.7,449.7 1654.9,450.2 1658.2,450.7 1661.4,451.2 1664.6,451.7 1667.9,452.2 1671.1,452.7 1674.3,453.2 1677.6,453.7 1680.8,454.2 1684.0,454.7 1687.3,455.1 1690.5,455.6 1693.7,456.1 1696.9,456.6 1700.2,457.1 1703.4,457.5 1706.6,458.0 1709.9,458.5 1713.1,458.9 1716.3,459.4 1719.6,459.8 1722.8,460.3 1726.0,460.7 1729.3,461.2 1732.5,461.6 1735.7,462.0 1739.0,462.5 1742.2,462.9 1745.4,463.3 1748.7,463.8 1751.9,464.2 1755.1,464.6 1758.4,465.0 1761.6,465.4 1764.8,465.8 1768.0,466.2 1771.3,466.6 1774.5,467.0 1777.7,467.4 1781.0,467.7 1784.2,468.1 1787.4,468.5 1790.7,468.9 1793.9,469.2 1797.1,469.6 1800.4,469.9 1803.6,470.3" stroke="#b6ff00"/>
<polyline points="252.3,467.2 255.5,467.6 258.8,468.1 262.0,468.5 265.2,468.9 268.5,469.3 271.7,469.7 274.9,470.2 278.2,470.6 281.4,470.9 284.6,471.3 287.9,471.7 291.1,472.1 294.3,472.4 297.5,472.8 300.8,473.1 304.0,473.5 307.2,473.8 310.5,474.1 313.7,474.4 316.9,474.7 320.2,475.0 323.4,475.3 326.6,475.6 329.9,475.9 333.1,476.1 336.3,476.4 339.6,476.6 342.8,476.9 346.0,477.1 349.3,477.3 352.5,477.5 355.7,477.8 359.0,478.0 362.2,478.1 365.4,478.3 368.6,478.5 371.9,478.7 375.1,478.8 378.3,479.0 381.6,479.1 384.8,479.2 388.0,479.3 391.3,479.4 394.5,479.6 397.7,479.6 401.0,479.7 404.2,479.8 407.4,479.9 410.7,479.9 413.9,480.0 417.1,480.0 420.4,480.0 423.6,480.1 426.8,480.1 430.1,480.1 433.3,480.1 436.5,480.1 439.7,480.0 443.0,480.0 446.2,480.0 449.4,479.9 452.7,479.9 455.9,479.8 459.1,479.7 462.4,479.6 465.6,479.5 468.8,479.4 472.1,479.3 475.3,479.2 478.5,479.1 481.8,478.9 485.0,478.8 488.2,478.6 491.5,478.5 494.7,478.3 497.9,478.1 501.2,477.9 504.4,477.7 507.6,477.5 510.8,477.3 514.1,477.1 517.3,476.8 520.5,476.6 523.8,476.3 527.0,476.1 530.2,475.8 533.5,475.5 536.7,475.3 539.9,475.0 543.2,474.7 546.4,474.4 549.6,474.1 552.9,473.7 556.1,473.4 559.3,473.1 562.6,472.7 565.8,472.4 569.0,472.0 572.3,471.6 575.5,471.3 578.7,470.9 582.0,470.5 585.2,470.1 588.4,469.7 591.6,469.3 594.9,468.8 598.1,468.4 601.3,468.0 604.6,467.5 607.8,467.1 611.0,466.6 614.3,466.2 617.5,465.7 620.7,465.2 624.0,464.8 627.2,464.3 630.4,463.8 633.7,463.3 636.9,462.8 640.1,462.3 643.4,461.7 646.6,461.2 649.8,460.7 653.1,460.2 656.3,459.6 659.5,459.1 662.7,458.5 666.0,458.0 669.2,457.4 672.4,456.8 675.7,456.3 678.9,455.7 682.1,455.1 685.4,454.5 688.6,453.9 691.8,453.3 695.1,452.7 698.3,452.1 701.5,451.5 704.8,450.9 708.0,450.3 711.2,449.7 714.5,449.1 717.7,448.4 720.9,447.8 724.2,447.2 727.4,446.5 730.6,445.9 733.8,445.3 737.1,444.6 740.3,444.0 743.5,443.3 746.8,442.7 750.0,442.0 753.2,441.3 756.5,440.7 759.7,440.0 762.9,439.4 766.2,438.7 769.4,438.0 772.6,437.3 775.9,436.7 779.1,436.0 782.3,435.3 785.6,434.6 788.8,434.0 792.0,433.3 795.3,432.6 798.5,431.9 801.7,431.2 805.0,430.6 808.2,429.9 811.4,429.2 814.6,428.5 817.9,427.8 821.1,427.2 824.3,426.5 827.6,425.8 830.8,425.1 834.0,424.4 837.3,423.7 840.5,423.1 843.7,422.4 847.0,421.7 850.2,421.0 853.4,420.3 856.7,419.7 859.9,419.0 863.1,418.3 866.4,417.7 869.6,417.0 872.8,416.3 876.1,415.7 879.3,415.0 882.5,414.3 885.7,413.7 889.0,413.0 892.2,412.4 895.4,411.7 898.7,411.1 901.9,410.4 905.1,409.8 908.4,409.1 911.6,408.5 914.8,407.9 918.1,407.2 921.3,406.6 924.5,406.0 927.8,405.4 931.0,404.8 934.2,404.2 937.5,403.5 940.7,402.9 943.9,402.3 947.2,401.8 950.4,401.2 953.6,400.6 956.8,400.0 960.1,399.4 963.3,398.9 966.5,398.3 969.8,397.7 973.0,397.2 976.2,396.6 979.5,396.1 982.7,395.5 985.9,395.0 989.2,394.5 992.4,394.0 995.6,393.4 998.9,392.9 1002.1,392.4 1005.3,391.9 1008.6,391.4 1011.8,391.0 1015.0,390.5 1018.3,390.0 1021.5,389.5 1024.7,389.1 1028.0,388.6 1031.2,388.2 1034.4,387.7 1037.6,387.3 1040.9,386.9 1044.1,386.5 1047.3,386.1 1050.6,385.6 1053.8,385.2 1057.0,384.9 1060.3,384.5 1063.5,384.1 1066.7,383.7 1070.0,383.4 1073.2,383.0 1076.4,382.7 1079.7,382.3 1082.9,382.0 1086.1,381.7 1089.4,381.4 1092.6,381.1 1095.8,380.8 1099.1,380.5 1102.3,380.2 1105.5,379.9 1108.7,379.7 1112.0,379.4 1115.2,379.2 1118.4,378.9 1121.7,378.7 1124.9,378.5 1128.1,378.3 1131.4,378.0 1134.6,377.8 1137.8,377.7 1141.1,377.5 1144.3,377.3 1147.5,377.1 1150.8,377.0 1154.0,376.8 1157.2,376.7 1160.5,376.6 1163.7,376.5 1166.9,376.3 1170.2,376.2 1173.4,376.2 1176.6,376.1 1179.8,376.0 1183.1,375.9 1186.3,375.9 1189.5,375.8 1192.8,375.8 1196.0,375.8 1199.2,375.7 1202.5,375.7 1205.7,375.7 1208.9,375.7 1212.2,375.7 1215.4,375.8 1218.6,375.8 1221.9,375.8 1225.1,375.9 1228.3,375.9 1231.6,376.0 1234.8,376.1 1238.0,376.2 1241.3,376.3 1244.5,376.4 1247.7,376.5 1250.9,376.6 1254.2,376.7 1257.4,376.9 1260.6,377.0 1263.9,377.2 1267.1,377.3 1270.3,377.5 1273.6,377.7 1276.8,377.9 1280.0,378.1 1283.3,378.3 1286.5,378.5 1289.7,378.7 1293.0,379.0 1296.2,379.2 1299.4,379.5 1302.7,379.7 1305.9,380.0 1309.1,380.3 1312.4,380.5 1315.6,380.8 1318.8,381.1 1322.1,381.4 1325.3,381.7 1328.5,382.1 1331.7,382.4 1335.0,382.7 1338.2,383.1 1341.4,383.4 1344.7,383.8 1347.9,384.2 1351.1,384.5 1354.4,384.9 1357.6,385.3 1360.8,385.7 1364.1,386.1 1367.3,386.5 1370.5,387.0 1373.8,387.4 1377.0,387.8 1380.2,388.3 1383.5,388.7 1386.7,389.2 1389.9,389.6 1393.2,390.1 1396.4,390.6 1399.6,391.0 1402.8,391.5 1406.1,392.0 1409.3,392.5 1412.5,393.0 1415.8,393.5 1419.0,394.1 1422.2,394.6 1425.5,395.1 1428.7,395.6 1431.9,396.2 1435.2,396.7 1438.4,397.3 1441.6,397.8 1444.9,398.4 1448.1,399.0 1451.3,399.5 1454.6,400.1 1457.8,400.7 1461.0,401.3 1464.3,401.9 1467.5,402.5 1470.7,403.1 1473.9,403.7 1477.2,404.3 1480.4,404.9 1483.6,405.5 1486.9,406.1 1490.1,406.7 1493.3,407.4 1496.6,408.0 1499.8,408.6 1503.0,409.3 1506.3,409.9 1509.5,410.5 1512.7,411.2 1516.0,411.8 1519.2,412.5 1522.4,413.1 1525.7,413.8 1528.9,414.5 1532.1,415.1 1535.4,415.8 1538.6,416.4 1541.8,417.1 1545.0,417.8 1548.3,418.5 1551.5,419.1 1554.7,419.8 1558.0,420.5 1561.2,421.2 1564.4,421.8 1567.7,422.5 1570.9,423.2 1574.1,423.9 1577.4,424.6 1580.6,425.2 1583.8,425.9 1587.1,426.6 1590.3,427.3 1593.5,428.0 1596.8,428.6 1600.0,429.3 1603.2,430.0 1606.5,430.7 1609.7,431.4 1612.9,432.1 1616.2,432.7 1619.4,433.4 1622.6,434.1 1625.8,434.8 1629.1,435.5 1632.3,436.1 1635.5,436.8 1638.8,437.5 1642.0,438.1 1645.2,438.8 1648.5,439.5 1651.7,440.1 1654.9,440.8 1658.2,441.5 1661.4,442.1 1664.6,442.8 1667.9,443.4 1671.1,444.1 1674.3,444.7 1677.6,445.4 1680.8,446.0 1684.0,446.7 1687.3,447.3 1690.5,447.9 1693.7,448.6 1696.9,449.2 1700.2,449.8 1703.4,450.4 1706.6,451.0 1709.9,451.6 1713.1,452.3 1716.3,452.9 1719.6,453.5 1722.8,454.0 1726.0,454.6 1729.3,455.2 1732.5,455.8 1735.7,456.4 1739.0,456.9 1742.2,457.5 1745.4,458.1 1748.7,458.6 1751.9,459.2 1755.1,459.7 1758.4,460.3 1761.6,460.8 1764.8,461.3 1768.0,461.8 1771.3,462.4 1774.5,462.9 1777.7,463.4 1781.0,463.9 1784.2,464.4 1787.4,464.8 1790.7,465.3 1793.9,465.8 1797.1,466.3 1800.4,466.7 1803.6,467.2" stroke="#ffdb00"/>
<polyline points="252.3,464.2 255.5,464.8 258.8,465.3 262.0,465.8 265.2,466.4 268.5,466.9 271.7,467.4 274.9,467.9 278.2,468.4 281.4,468.9 284.6,469.3 287.9,469.8 291.1,470.2 294.3,470.7 297.5,471.1 300.8,471.5 304.0,471.9 307.2,472.4 310.5,472.7 313.7,473.1 316.9,473.5 320.2,473.9 323.4,474.2 326.6,474.6 329.9,474.9 333.1,475.2 336.3,475.6 339.6,475.9 342.8,476.2 346.0,476.4 349.3,476.7 352.5,477.0 355.7,477.2 359.0,477.5 362.2,477.7 365.4,477.9 368.6,478.1 371.9,478.3 375.1,478.5 378.3,478.7 381.6,478.9 384.8,479.0 388.0,479.2 391.3,479.3 394.5,479.4 397.7,479.5 401.0,479.7 404.2,479.7 407.4,479.8 410.7,479.9 413.9,480.0 417.1,480.0 420.4,480.0 423.6,480.1 426.8,480.1 430.1,480.1 433.3,480.1 436.5,480.1 439.7,480.0 443.0,480.0 446.2,479.9 449.4,479.9 452.7,479.8 455.9,479.7 459.1,479.6 462.4,479.5 465.6,479.4 468.8,479.3 472.1,479.1 475.3,479.0 478.5,478.8 481.8,478.7 485.0,478.5 488.2,478.3 491.5,478.1 494.7,477.9 497.9,477.7 501.2,477.4 504.4,477.2 507.6,476.9 510.8,476.7 514.1,476.4 517.3,476.1 520.5,475.8 523.8,475.5 527.0,475.2 530.2,474.8 533.5,474.5 536.7,474.2 539.9,473.8 543.2,473.4 546.4,473.1 549.6,472.7 552.9,472.3 556.1,471.9 559.3,471.5 562.6,471.0 565.8,470.6 569.0,470.2 572.3,469.7 575.5,469.2 578.7,468.8 582.0,468.3 585.2,467.8 588.4,467.3 591.6,466.8 594.9,466.3 598.1,465.7 601.3,465.2 604.6,464.7 607.8,464.1 611.0,463.6 614.3,463.0 617.5,462.4 620.7,461.8 624.0,461.2 627.2,460.6 630.4,460.0 633.7,459.4 636.9,458.8 640.1,458.2 643.4,457.5 646.6,456.9 649.8,456.3 653.1,455.6 656.3,454.9 659.5,454.3 662.7,453.6 666.0,452.9 669.2,452.2 672.4,451.5 675.7,450.8 678.9,450.1 682.1,449.4 685.4,448.7 688.6,447.9 691.8,447.2 695.1,446.5 698.3,445.7 701.5,445.0 704.8,444.2 708.0,443.5 711.2,442.7 714.5,442.0 717.7,441.2 720.9,440.4 724.2,439.6 727.4,438.9 730.6,438.1 733.8,437.3 737.1,436.5 740.3,435.7 743.5,434.9 746.8,434.1 750.0,433.3 753.2,432.5 756.5,431.7 759.7,430.8 762.9,430.0 766.2,429.2 769.4,428.4 772.6,427.6 775.9,426.7 779.1,425.9 782.3,425.1 785.6,424.2 788.8,423.4 792.0,422.6 795.3,421.7 798.5,420.9 801.7,420.1 805.0,419.2 808.2,418.4 811.4,417.5 814.6,416.7 817.9,415.9 821.1,415.0 824.3,414.2 827.6,413.3 830.8,412.5 834.0,411.7 837.3,410.8 840.5,410.0 843.7,409.2 847.0,408.3 850.2,407.5 853.4,406.7 856.7,405.8 859.9,405.0 863.1,404.2 866.4,403.4 869.6,402.5 872.8,401.7 876.1,400.9 879.3,400.1 882.5,399.3 885.7,398.5 889.0,397.7 892.2,396.8 895.4,396.0 898.7,395.3 901.9,394.5 905.1,393.7 908.4,392.9 911.6,392.1 914.8,391.3 918.1,390.6 921.3,389.8 924.5,389.0 927.8,388.3 931.0,387.5 934.2,386.8 937.5,386.0 940.7,385.3 943.9,384.5 947.2,383.8 950.4,383.1 953.6,382.4 956.8,381.6 960.1,380.9 963.3,380.2 966.5,379.5 969.8,378.9 973.0,378.2 976.2,377.5 979.5,376.8 982.7,376.2 985.9,375.5 989.2,374.9 992.4,374.2 995.6,373.6 998.9,373.0 1002.1,372.3 1005.3,371.7 1008.6,371.1 1011.8,370.5 1015.0,369.9 1018.3,369.4 1021.5,368.8 1024.7,368.2 1028.0,367.7 1031.2,367.1 1034.4,366.6 1037.6,366.0 1040.9,365.5 1044.1,365.0 1047.3,364.5 1050.6,364.0 1053.8,363.5 1057.0,363.0 1060.3,362.6 1063.5,362.1 1066.7,361.7 1070.0,361.2 1073.2,360.8 1076.4,360.4 1079.7,359.9 1082.9,359.5 1086.1,359.1 1089.4,358.8 1092.6,358.4 1095.8,358.0 1099.1,357.7 1102.3,357.3 1105.5,357.0 1108.7,356.7 1112.0,356.3 1115.2,356.0 1118.4,355.7 1121.7,355.5 1124.9,355.2 1128.1,354.9 1131.4,354.7 1134.6,354.4 1137.8,354.2 1141.1,354.0 1144.3,353.8 1147.5,353.6 1150.8,353.4 1154.0,353.2 1157.2,353.0 1160.5,352.9 1163.7,352.7 1166.9,352.6 1170.2,352.5 1173.4,352.3 1176.6,352.2 1179.8,352.1 1183.1,352.1 1186.3,352.0 1189.5,351.9 1192.8,351.9 1196.0,351.8 1199.2,351.8 1202.5,351.8 1205.7,351.8 1208.9,351.8 1212.2,351.8 1215.4,351.9 1218.6,351.9 1221.9,351.9 1225.1,352.0 1228.3,352.1 1231.6,352.2 1234.8,352.3 1238.0,352.4 1241.3,352.5 1244.5,352.6 1247.7,352.7 1250.9,352.9 1254.2,353.0 1257.4,353.2 1260.6,353.4 1263.9,353.6 1267.1,353.8 1270.3,354.0 1273.6,354.2 1276.8,354.5 1280.0,354.7 1283.3,355.0 1286.5,355.2 1289.7,355.5 1293.0,355.8 1296.2,356.1 1299.4,356.4 1302.7,356.7 1305.9,357.0 1309.1,357.4 1312.4,357.7 1315.6,358.1 1318.8,358.4 1322.1,358.8 1325.3,359.2 1328.5,359.6 1331.7,360.0 1335.0,360.4 1338.2,360.9 1341.4,361.3 1344.7,361.7 1347.9,362.2 1351.1,362.7 1354.4,363.1 1357.6,363.6 1360.8,364.1 1364.1,364.6 1367.3,365.1 1370.5,365.6 1373.8,366.1 1377.0,366.7 1380.2,367.2 1383.5,367.8 1386.7,368.3 1389.9,368.9 1393.2,369.5 1396.4,370.1 1399.6,370.6 1402.8,371.2 1406.1,371.8 1409.3,372.5 1412.5,373.1 1415.8,373.7 1419.0,374.3 1422.2,375.0 1425.5,375.6 1428.7,376.3 1431.9,377.0 1435.2,377.6 1438.4,378.3 1441.6,379.0 1444.9,379.7 1448.1,380.4 1451.3,381.1 1454.6,381.8 1457.8,382.5 1461.0,383.2 1464.3,383.9 1467.5,384.7 1470.7,385.4 1473.9,386.1 1477.2,386.9 1480.4,387.6 1483.6,388.4 1486.9,389.2 1490.1,389.9 1493.3,390.7 1496.6,391.5 1499.8,392.2 1503.0,393.0 1506.3,393.8 1509.5,394.6 1512.7,395.4 1516.0,396.2 1519.2,397.0 1522.4,397.8 1525.7,398.6 1528.9,399.4 1532.1,400.2 1535.4,401.0 1538.6,401.9 1541.8,402.7 1545.0,403.5 1548.3,404.3 1551.5,405.2 1554.7,406.0 1558.0,406.8 1561.2,407.6 1564.4,408.5 1567.7,409.3 1570.9,410.2 1574.1,411.0 1577.4,411.8 1580.6,412.7 1583.8,413.5 1587.1,414.3 1590.3,415.2 1593.5,416.0 1596.8,416.9 1600.0,417.7 1603.2,418.5 1606.5,419.4 1609.7,420.2 1612.9,421.1 1616.2,421.9 1619.4,422.7 1622.6,423.6 1625.8,424.4 1629.1,425.2 1632.3,426.1 1635.5,426.9 1638.8,427.7 1642.0,428.5 1645.2,429.4 1648.5,430.2 1651.7,431.0 1654.9,431.8 1658.2,432.6 1661.4,433.4 1664.6,434.2 1667.9,435.0 1671.1,435.8 1674.3,436.6 1677.6,437.4 1680.8,438.2 1684.0,439.0 1687.3,439.8 1690.5,440.6 1693.7,441.3 1696.9,442.1 1700.2,442.9 1703.4,443.6 1706.6,444.4 1709.9,445.1 1713.1,445.9 1716.3,446.6 1719.6,447.4 1722.8,448.1 1726.0,448.8 1729.3,449.5 1732.5,450.2 1735.7,450.9 1739.0,451.6 1742.2,452.3 1745.4,453.0 1748.7,453.7 1751.9,454.4 1755.1,455.1 1758.4,455.7 1761.6,456.4 1764.8,457.0 1768.0,457.7 1771.3,458.3 1774.5,458.9 1777.7,459.5 1781.0,460.2 1784.2,460.8 1787.4,461.4 1790.7,461.9 1793.9,462.5 1797.1,463.1 1800.4,463.7 1803.6,464.2" stroke="#ff6d00"/>
</g>
<path d="M597.03 1216.20V185.60" stroke="#111" stroke-width="3" stroke-dasharray="12.2 11.9" fill="none"/>
<path d="M1458.87 1216.20V185.60" stroke="#111" stroke-width="3" stroke-dasharray="12.2 11.9" fill="none"/>
<g font-family="Liberation Sans, Arial, Helvetica, sans-serif" font-size="50" fill="#151515">
<text x="338.48" y="1281.20" text-anchor="middle">-80</text>
<text x="510.85" y="1281.20" text-anchor="middle">-60</text>
<text x="683.22" y="1281.20" text-anchor="middle">-40</text>
<text x="855.58" y="1281.20" text-anchor="middle">-20</text>
<text x="1027.95" y="1281.20" text-anchor="middle">0</text>
<text x="1200.32" y="1281.20" text-anchor="middle">20</text>
<text x="1372.68" y="1281.20" text-anchor="middle">40</text>
<text x="1545.05" y="1281.20" text-anchor="middle">60</text>
<text x="1717.42" y="1281.20" text-anchor="middle">80</text>
<text x="136.69" y="350.73">0.05</text>
<text x="206.05" y="497.96">0</text>
<text x="120.03" y="645.19">-0.05</text>
<text x="148.18" y="792.41">-0.1</text>
<text x="120.03" y="939.64">-0.15</text>
<text x="148.26" y="1086.87">-0.2</text>
<text x="120.03" y="1234.10">-0.25</text>
</g>
<text x="607.13" y="1344.00" textLength="581.69" font-family="Liberation Sans, Arial, Helvetica, sans-serif" font-size="50" fill="#151515">Scene Select Mirror Angle</text>
<text transform="translate(1205.94 1344.00) scale(0.86 1.0)" font-family="Liberation Serif, Times New Roman, serif" font-size="50" font-style="italic" fill="#151515">δ</text>
<text x="1240.14" y="1344.00" textLength="208.03" font-family="Liberation Sans, Arial, Helvetica, sans-serif" font-size="50" fill="#151515">[degrees]</text>
<text transform="translate(75.3 701.10) rotate(-90)" text-anchor="middle" font-family="Liberation Sans, Arial, Helvetica, sans-serif" font-size="50" fill="#151515">-E<tspan font-size="38" dy="24.2">p</tspan><tspan dy="-24.2"> [K]</tspan></text>
<text x="298.22" y="80.20" textLength="796.30" lengthAdjust="spacingAndGlyphs" font-family="Liberation Sans, Arial, Helvetica, sans-serif" font-weight="bold" font-size="52" fill="#000">Polarization Correction (900.0 cm</text>
<text x="1094.54" y="55.50" font-family="Liberation Sans, Arial, Helvetica, sans-serif" font-weight="bold" font-size="40" fill="#000">-1</text>
<text x="1133.45" y="80.20" textLength="622.43" lengthAdjust="spacingAndGlyphs" font-family="Liberation Sans, Arial, Helvetica, sans-serif" font-weight="bold" font-size="52" fill="#000">), Brightness Temperature</text>
<text transform="translate(567.17 147.00) scale(0.91 1.0)" font-family="Liberation Serif, Times New Roman, serif" font-size="50" font-style="italic" fill="#000">δ</text>
<text x="590.02" y="169.80" font-family="Liberation Sans, Arial, Helvetica, sans-serif" font-size="40" font-weight="bold" fill="#000">ICT</text>
<text x="669.94" y="147.00" font-family="Liberation Sans, Arial, Helvetica, sans-serif" font-size="52" font-weight="bold" fill="#000">=</text>
<text x="715.62" y="147.00" textLength="151.41" lengthAdjust="spacingAndGlyphs" font-family="Liberation Sans, Arial, Helvetica, sans-serif" font-size="52" font-weight="bold" fill="#000">180.00</text>
<text x="868.94" y="122.90" font-family="Liberation Sans, Arial, Helvetica, sans-serif" font-size="40" font-weight="bold" fill="#000">°</text>
<text x="884.17" y="147.00" font-family="Liberation Sans, Arial, Helvetica, sans-serif" font-size="52" font-weight="bold" fill="#000">,</text>
<text transform="translate(916.67 147.00) scale(0.91 1.0)" font-family="Liberation Serif, Times New Roman, serif" font-size="50" font-style="italic" fill="#000">δ</text>
<text x="939.82" y="169.80" font-family="Liberation Sans, Arial, Helvetica, sans-serif" font-size="40" font-weight="bold" fill="#000">DS</text>
<text x="1010.04" y="147.00" font-family="Liberation Sans, Arial, Helvetica, sans-serif" font-size="52" font-weight="bold" fill="#000">=</text>
<text x="1055.97" y="147.00" textLength="144.56" lengthAdjust="spacingAndGlyphs" font-family="Liberation Sans, Arial, Helvetica, sans-serif" font-size="52" font-weight="bold" fill="#000">-70.30</text>
<text x="1201.04" y="122.90" font-family="Liberation Sans, Arial, Helvetica, sans-serif" font-size="40" font-weight="bold" fill="#000">°</text>
<text x="1217.17" y="147.00" font-family="Liberation Sans, Arial, Helvetica, sans-serif" font-size="52" font-weight="bold" fill="#000">,</text>
<text transform="translate(1234.32 147.00) scale(1.13 0.92)" font-family="Liberation Serif, Times New Roman, serif" font-size="50" font-style="italic" fill="#000">α</text>
<text x="1281.94" y="147.00" font-family="Liberation Sans, Arial, Helvetica, sans-serif" font-size="52" font-weight="bold" fill="#000">=</text>
<text x="1327.67" y="147.00" textLength="138.38" lengthAdjust="spacingAndGlyphs" font-family="Liberation Sans, Arial, Helvetica, sans-serif" font-size="52" font-weight="bold" fill="#000">-69.41</text>
<text x="1473.44" y="122.90" font-family="Liberation Sans, Arial, Helvetica, sans-serif" font-size="40" font-weight="bold" fill="#000">°</text>
<rect x="1829.0" y="572.00" width="227.0" height="643.00" fill="#fff"/>
<rect x="1827.50" y="571.00" width="3.60" height="645.00" fill="#a6a6a6"/><rect x="2053.00" y="573.00" width="2.00" height="641.00" fill="#e2e2e2"/><rect x="2055.00" y="571.00" width="2.00" height="645.00" fill="#a0a0a0"/><rect x="1829.00" y="569.00" width="226.00" height="2.00" fill="#ececec"/><rect x="1829.00" y="571.00" width="228.00" height="2.00" fill="#666666"/><rect x="1831.00" y="573.00" width="222.00" height="2.00" fill="#f4f4f4"/><rect x="1829.00" y="1213.00" width="228.00" height="1.80" fill="#7a7a7a"/><rect x="1829.00" y="1214.80" width="228.00" height="2.00" fill="#d2d2d2"/>
<g font-family="Liberation Sans, Arial, Helvetica, sans-serif" font-size="38" fill="#000">
<path d="M1841 601.00H1936" stroke="#ff006d" stroke-width="6.0"/>
<text x="1942.8" y="614.00">210 K</text>
<path d="M1841 649.70H1936" stroke="#ff00db" stroke-width="6.0"/>
<text x="1942.8" y="662.70">220 K</text>
<path d="M1841 698.40H1936" stroke="#b600ff" stroke-width="6.0"/>
<text x="1942.8" y="711.40">230 K</text>
<path d="M1841 747.10H1936" stroke="#4900ff" stroke-width="6.0"/>
<text x="1942.8" y="760.10">240 K</text>
<path d="M1841 795.80H1936" stroke="#0024ff" stroke-width="6.0"/>
<text x="1942.8" y="808.80">250 K</text>
<path d="M1841 844.50H1936" stroke="#0092ff" stroke-width="6.0"/>
<text x="1942.8" y="857.50">260 K</text>
<path d="M1841 893.20H1936" stroke="#00ffff" stroke-width="6.0"/>
<text x="1942.8" y="906.20">270 K</text>
<path d="M1841 941.90H1936" stroke="#00ff92" stroke-width="6.0"/>
<text x="1942.8" y="954.90">280 K</text>
<path d="M1841 990.60H1936" stroke="#00ff24" stroke-width="6.0"/>
<text x="1942.8" y="1003.60">290 K</text>
<path d="M1841 1039.30H1936" stroke="#49ff00" stroke-width="6.0"/>
<text x="1942.8" y="1052.30">300 K</text>
<path d="M1841 1088.00H1936" stroke="#b6ff00" stroke-width="6.0"/>
<text x="1942.8" y="1101.00">310 K</text>
<path d="M1841 1136.70H1936" stroke="#ffdb00" stroke-width="6.0"/>
<text x="1942.8" y="1149.70">320 K</text>
<path d="M1841 1185.40H1936" stroke="#ff6d00" stroke-width="6.0"/>
<text x="1942.8" y="1198.40">330 K</text>
</g>
<defs><clipPath id="c1"><rect x="251.10" y="1572.40" width="1553.70" height="1033.00"/></clipPath></defs>
<path d="M338.48 1573.60V2604.20M510.85 1573.60V2604.20M683.22 1573.60V2604.20M855.58 1573.60V2604.20M1027.95 1573.60V2604.20M1200.32 1573.60V2604.20M1372.68 1573.60V2604.20M1545.05 1573.60V2604.20M1717.42 1573.60V2604.20M252.30 1720.83H1803.60M252.30 1868.06H1803.60M252.30 2015.29H1803.60M252.30 2162.51H1803.60M252.30 2309.74H1803.60M252.30 2456.97H1803.60" stroke="#e9e9e9" stroke-width="2.6" fill="none"/>
<path d="M338.48 2604.20v-15.5M338.48 1573.60v15.5M510.85 2604.20v-15.5M510.85 1573.60v15.5M683.22 2604.20v-15.5M683.22 1573.60v15.5M855.58 2604.20v-15.5M855.58 1573.60v15.5M1027.95 2604.20v-15.5M1027.95 1573.60v15.5M1200.32 2604.20v-15.5M1200.32 1573.60v15.5M1372.68 2604.20v-15.5M1372.68 1573.60v15.5M1545.05 2604.20v-15.5M1545.05 1573.60v15.5M1717.42 2604.20v-15.5M1717.42 1573.60v15.5M252.30 1720.83h15.5M1803.60 1720.83h-15.5M252.30 1868.06h15.5M1803.60 1868.06h-15.5M252.30 2015.29h15.5M1803.60 2015.29h-15.5M252.30 2162.51h15.5M1803.60 2162.51h-15.5M252.30 2309.74h15.5M1803.60 2309.74h-15.5M252.30 2456.97h15.5M1803.60 2456.97h-15.5" stroke="#858585" stroke-width="2.8" fill="none"/>
<rect x="251.00" y="1572.90" width="2.00" height="1032.80" fill="#777777"/><rect x="253.00" y="1574.90" width="2.00" height="1028.00" fill="#d2d2d2"/><rect x="251.00" y="1572.90" width="1554.70" height="2.00" fill="#666666"/><rect x="253.00" y="1574.90" width="1548.70" height="2.00" fill="#e6e6e6"/><rect x="1801.00" y="1574.90" width="2.00" height="1028.00" fill="#c2c2c2"/><rect x="1803.00" y="1572.90" width="2.00" height="1032.80" fill="#808080"/><rect x="253.00" y="2600.00" width="1548.00" height="2.00" fill="#e4e4e4"/><rect x="251.00" y="2602.00" width="1554.70" height="2.20" fill="#888888"/><rect x="251.00" y="2604.20" width="1554.70" height="1.80" fill="#c4c4c4"/>
<g clip-path="url(#c1)" fill="none" stroke-width="6.0" stroke-linejoin="round">
<polyline points="252.3,1942.7 255.5,1939.8 258.8,1937.0 262.0,1934.2 265.2,1931.5 268.5,1928.8 271.7,1926.2 274.9,1923.6 278.2,1921.1 281.4,1918.6 284.6,1916.2 287.9,1913.8 291.1,1911.5 294.3,1909.3 297.5,1907.1 300.8,1905.0 304.0,1902.9 307.2,1900.9 310.5,1898.9 313.7,1897.0 316.9,1895.1 320.2,1893.3 323.4,1891.6 326.6,1889.9 329.9,1888.3 333.1,1886.8 336.3,1885.3 339.6,1883.8 342.8,1882.5 346.0,1881.1 349.3,1879.9 352.5,1878.7 355.7,1877.6 359.0,1876.5 362.2,1875.5 365.4,1874.5 368.6,1873.7 371.9,1872.8 375.1,1872.1 378.3,1871.4 381.6,1870.7 384.8,1870.2 388.0,1869.6 391.3,1869.2 394.5,1868.8 397.7,1868.5 401.0,1868.2 404.2,1868.0 407.4,1867.9 410.7,1867.8 413.9,1867.8 417.1,1867.9 420.4,1868.0 423.6,1868.1 426.8,1868.4 430.1,1868.7 433.3,1869.1 436.5,1869.5 439.7,1870.0 443.0,1870.5 446.2,1871.2 449.4,1871.8 452.7,1872.6 455.9,1873.4 459.1,1874.3 462.4,1875.2 465.6,1876.2 468.8,1877.2 472.1,1878.3 475.3,1879.5 478.5,1880.8 481.8,1882.1 485.0,1883.4 488.2,1884.8 491.5,1886.3 494.7,1887.8 497.9,1889.4 501.2,1891.1 504.4,1892.8 507.6,1894.6 510.8,1896.4 514.1,1898.3 517.3,1900.3 520.5,1902.3 523.8,1904.3 527.0,1906.4 530.2,1908.6 533.5,1910.8 536.7,1913.1 539.9,1915.5 543.2,1917.9 546.4,1920.3 549.6,1922.8 552.9,1925.4 556.1,1928.0 559.3,1930.7 562.6,1933.4 565.8,1936.2 569.0,1939.0 572.3,1941.8 575.5,1944.8 578.7,1947.7 582.0,1950.8 585.2,1953.8 588.4,1956.9 591.6,1960.1 594.9,1963.3 598.1,1966.6 601.3,1969.9 604.6,1973.2 607.8,1976.6 611.0,1980.1 614.3,1983.6 617.5,1987.1 620.7,1990.6 624.0,1994.3 627.2,1997.9 630.4,2001.6 633.7,2005.3 636.9,2009.1 640.1,2012.9 643.4,2016.8 646.6,2020.7 649.8,2024.6 653.1,2028.5 656.3,2032.5 659.5,2036.6 662.7,2040.6 666.0,2044.7 669.2,2048.9 672.4,2053.0 675.7,2057.2 678.9,2061.4 682.1,2065.7 685.4,2070.0 688.6,2074.3 691.8,2078.6 695.1,2083.0 698.3,2087.4 701.5,2091.8 704.8,2096.2 708.0,2100.7 711.2,2105.2 714.5,2109.7 717.7,2114.2 720.9,2118.8 724.2,2123.3 727.4,2127.9 730.6,2132.5 733.8,2137.2 737.1,2141.8 740.3,2146.5 743.5,2151.2 746.8,2155.8 750.0,2160.6 753.2,2165.3 756.5,2170.0 759.7,2174.7 762.9,2179.5 766.2,2184.2 769.4,2189.0 772.6,2193.8 775.9,2198.6 779.1,2203.4 782.3,2208.2 785.6,2213.0 788.8,2217.8 792.0,2222.6 795.3,2227.4 798.5,2232.2 801.7,2237.0 805.0,2241.8 808.2,2246.6 811.4,2251.4 814.6,2256.2 817.9,2261.0 821.1,2265.8 824.3,2270.6 827.6,2275.4 830.8,2280.2 834.0,2285.0 837.3,2289.7 840.5,2294.5 843.7,2299.2 847.0,2304.0 850.2,2308.7 853.4,2313.4 856.7,2318.1 859.9,2322.8 863.1,2327.4 866.4,2332.1 869.6,2336.7 872.8,2341.3 876.1,2345.9 879.3,2350.5 882.5,2355.1 885.7,2359.6 889.0,2364.1 892.2,2368.6 895.4,2373.1 898.7,2377.5 901.9,2382.0 905.1,2386.4 908.4,2390.7 911.6,2395.1 914.8,2399.4 918.1,2403.7 921.3,2407.9 924.5,2412.2 927.8,2416.4 931.0,2420.5 934.2,2424.7 937.5,2428.8 940.7,2432.9 943.9,2436.9 947.2,2440.9 950.4,2444.9 953.6,2448.8 956.8,2452.7 960.1,2456.6 963.3,2460.4 966.5,2464.2 969.8,2467.9 973.0,2471.6 976.2,2475.3 979.5,2478.9 982.7,2482.5 985.9,2486.0 989.2,2489.5 992.4,2493.0 995.6,2496.4 998.9,2499.8 1002.1,2503.1 1005.3,2506.4 1008.6,2509.6 1011.8,2512.8 1015.0,2515.9 1018.3,2519.0 1021.5,2522.0 1024.7,2525.0 1028.0,2527.9 1031.2,2530.8 1034.4,2533.7 1037.6,2536.4 1040.9,2539.2 1044.1,2541.9 1047.3,2544.5 1050.6,2547.1 1053.8,2549.6 1057.0,2552.1 1060.3,2554.5 1063.5,2556.8 1066.7,2559.1 1070.0,2561.4 1073.2,2563.6 1076.4,2565.7 1079.7,2567.8 1082.9,2569.8 1086.1,2571.8 1089.4,2573.7 1092.6,2575.5 1095.8,2577.3 1099.1,2579.1 1102.3,2580.7 1105.5,2582.3 1108.7,2583.9 1112.0,2585.4 1115.2,2586.8 1118.4,2588.2 1121.7,2589.5 1124.9,2590.8 1128.1,2592.0 1131.4,2593.1 1134.6,2594.2 1137.8,2595.2 1141.1,2596.1 1144.3,2597.0 1147.5,2597.8 1150.8,2598.6 1154.0,2599.3 1157.2,2599.9 1160.5,2600.5 1163.7,2601.0 1166.9,2601.5 1170.2,2601.9 1173.4,2602.2 1176.6,2602.5 1179.8,2602.7 1183.1,2602.8 1186.3,2602.9 1189.5,2602.9 1192.8,2602.8 1196.0,2602.7 1199.2,2602.5 1202.5,2602.3 1205.7,2602.0 1208.9,2601.6 1212.2,2601.2 1215.4,2600.7 1218.6,2600.1 1221.9,2599.5 1225.1,2598.8 1228.3,2598.1 1231.6,2597.3 1234.8,2596.4 1238.0,2595.5 1241.3,2594.5 1244.5,2593.4 1247.7,2592.3 1250.9,2591.2 1254.2,2589.9 1257.4,2588.6 1260.6,2587.3 1263.9,2585.8 1267.1,2584.4 1270.3,2582.8 1273.6,2581.2 1276.8,2579.6 1280.0,2577.9 1283.3,2576.1 1286.5,2574.3 1289.7,2572.4 1293.0,2570.4 1296.2,2568.4 1299.4,2566.4 1302.7,2564.2 1305.9,2562.1 1309.1,2559.8 1312.4,2557.5 1315.6,2555.2 1318.8,2552.8 1322.1,2550.3 1325.3,2547.8 1328.5,2545.3 1331.7,2542.7 1335.0,2540.0 1338.2,2537.3 1341.4,2534.5 1344.7,2531.7 1347.9,2528.8 1351.1,2525.9 1354.4,2522.9 1357.6,2519.9 1360.8,2516.8 1364.1,2513.7 1367.3,2510.6 1370.5,2507.4 1373.8,2504.1 1377.0,2500.8 1380.2,2497.4 1383.5,2494.0 1386.7,2490.6 1389.9,2487.1 1393.2,2483.6 1396.4,2480.0 1399.6,2476.4 1402.8,2472.8 1406.1,2469.1 1409.3,2465.3 1412.5,2461.6 1415.8,2457.8 1419.0,2453.9 1422.2,2450.0 1425.5,2446.1 1428.7,2442.1 1431.9,2438.1 1435.2,2434.1 1438.4,2430.0 1441.6,2426.0 1444.9,2421.8 1448.1,2417.7 1451.3,2413.5 1454.6,2409.2 1457.8,2405.0 1461.0,2400.7 1464.3,2396.4 1467.5,2392.1 1470.7,2387.7 1473.9,2383.3 1477.2,2378.9 1480.4,2374.4 1483.6,2370.0 1486.9,2365.5 1490.1,2361.0 1493.3,2356.5 1496.6,2351.9 1499.8,2347.3 1503.0,2342.7 1506.3,2338.1 1509.5,2333.5 1512.7,2328.9 1516.0,2324.2 1519.2,2319.5 1522.4,2314.8 1525.7,2310.1 1528.9,2305.4 1532.1,2300.7 1535.4,2295.9 1538.6,2291.2 1541.8,2286.4 1545.0,2281.7 1548.3,2276.9 1551.5,2272.1 1554.7,2267.3 1558.0,2262.5 1561.2,2257.7 1564.4,2252.9 1567.7,2248.1 1570.9,2243.3 1574.1,2238.5 1577.4,2233.7 1580.6,2228.9 1583.8,2224.0 1587.1,2219.2 1590.3,2214.4 1593.5,2209.6 1596.8,2204.8 1600.0,2200.0 1603.2,2195.3 1606.5,2190.5 1609.7,2185.7 1612.9,2180.9 1616.2,2176.2 1619.4,2171.5 1622.6,2166.7 1625.8,2162.0 1629.1,2157.3 1632.3,2152.6 1635.5,2147.9 1638.8,2143.2 1642.0,2138.6 1645.2,2134.0 1648.5,2129.4 1651.7,2124.8 1654.9,2120.2 1658.2,2115.6 1661.4,2111.1 1664.6,2106.6 1667.9,2102.1 1671.1,2097.6 1674.3,2093.1 1677.6,2088.7 1680.8,2084.3 1684.0,2079.9 1687.3,2075.6 1690.5,2071.3 1693.7,2067.0 1696.9,2062.7 1700.2,2058.5 1703.4,2054.3 1706.6,2050.1 1709.9,2046.0 1713.1,2041.9 1716.3,2037.8 1719.6,2033.8 1722.8,2029.8 1726.0,2025.8 1729.3,2021.9 1732.5,2018.0 1735.7,2014.1 1739.0,2010.3 1742.2,2006.5 1745.4,2002.7 1748.7,1999.0 1751.9,1995.4 1755.1,1991.7 1758.4,1988.2 1761.6,1984.6 1764.8,1981.1 1768.0,1977.7 1771.3,1974.3 1774.5,1970.9 1777.7,1967.6 1781.0,1964.3 1784.2,1961.1 1787.4,1957.9 1790.7,1954.8 1793.9,1951.7 1797.1,1948.7 1800.4,1945.7 1803.6,1942.7" stroke="#ff006d"/>
<polyline points="252.3,1917.0 255.5,1915.1 258.8,1913.3 262.0,1911.4 265.2,1909.7 268.5,1907.9 271.7,1906.2 274.9,1904.5 278.2,1902.8 281.4,1901.2 284.6,1899.6 287.9,1898.1 291.1,1896.6 294.3,1895.1 297.5,1893.7 300.8,1892.3 304.0,1890.9 307.2,1889.6 310.5,1888.3 313.7,1887.0 316.9,1885.8 320.2,1884.6 323.4,1883.5 326.6,1882.4 329.9,1881.3 333.1,1880.3 336.3,1879.3 339.6,1878.4 342.8,1877.5 346.0,1876.6 349.3,1875.8 352.5,1875.0 355.7,1874.3 359.0,1873.6 362.2,1872.9 365.4,1872.3 368.6,1871.7 371.9,1871.2 375.1,1870.7 378.3,1870.2 381.6,1869.8 384.8,1869.4 388.0,1869.1 391.3,1868.8 394.5,1868.5 397.7,1868.3 401.0,1868.2 404.2,1868.0 407.4,1867.9 410.7,1867.9 413.9,1867.9 417.1,1867.9 420.4,1868.0 423.6,1868.1 426.8,1868.3 430.1,1868.5 433.3,1868.7 436.5,1869.0 439.7,1869.3 443.0,1869.7 446.2,1870.1 449.4,1870.5 452.7,1871.0 455.9,1871.6 459.1,1872.1 462.4,1872.7 465.6,1873.4 468.8,1874.1 472.1,1874.8 475.3,1875.6 478.5,1876.4 481.8,1877.2 485.0,1878.1 488.2,1879.1 491.5,1880.0 494.7,1881.0 497.9,1882.1 501.2,1883.2 504.4,1884.3 507.6,1885.5 510.8,1886.7 514.1,1887.9 517.3,1889.2 520.5,1890.5 523.8,1891.8 527.0,1893.2 530.2,1894.7 533.5,1896.1 536.7,1897.6 539.9,1899.2 543.2,1900.7 546.4,1902.3 549.6,1904.0 552.9,1905.7 556.1,1907.4 559.3,1909.1 562.6,1910.9 565.8,1912.7 569.0,1914.6 572.3,1916.4 575.5,1918.4 578.7,1920.3 582.0,1922.3 585.2,1924.3 588.4,1926.3 591.6,1928.4 594.9,1930.5 598.1,1932.7 601.3,1934.8 604.6,1937.0 607.8,1939.2 611.0,1941.5 614.3,1943.8 617.5,1946.1 620.7,1948.4 624.0,1950.8 627.2,1953.2 630.4,1955.6 633.7,1958.1 636.9,1960.5 640.1,1963.0 643.4,1965.6 646.6,1968.1 649.8,1970.7 653.1,1973.3 656.3,1975.9 659.5,1978.5 662.7,1981.2 666.0,1983.9 669.2,1986.6 672.4,1989.3 675.7,1992.1 678.9,1994.9 682.1,1997.6 685.4,2000.5 688.6,2003.3 691.8,2006.1 695.1,2009.0 698.3,2011.9 701.5,2014.8 704.8,2017.7 708.0,2020.6 711.2,2023.5 714.5,2026.5 717.7,2029.5 720.9,2032.5 724.2,2035.5 727.4,2038.5 730.6,2041.5 733.8,2044.5 737.1,2047.6 740.3,2050.6 743.5,2053.7 746.8,2056.8 750.0,2059.9 753.2,2062.9 756.5,2066.0 759.7,2069.2 762.9,2072.3 766.2,2075.4 769.4,2078.5 772.6,2081.7 775.9,2084.8 779.1,2087.9 782.3,2091.1 785.6,2094.2 788.8,2097.4 792.0,2100.5 795.3,2103.7 798.5,2106.8 801.7,2110.0 805.0,2113.1 808.2,2116.3 811.4,2119.4 814.6,2122.6 817.9,2125.7 821.1,2128.9 824.3,2132.0 827.6,2135.2 830.8,2138.3 834.0,2141.4 837.3,2144.6 840.5,2147.7 843.7,2150.8 847.0,2153.9 850.2,2157.0 853.4,2160.1 856.7,2163.1 859.9,2166.2 863.1,2169.3 866.4,2172.3 869.6,2175.4 872.8,2178.4 876.1,2181.4 879.3,2184.4 882.5,2187.4 885.7,2190.4 889.0,2193.3 892.2,2196.3 895.4,2199.2 898.7,2202.1 901.9,2205.0 905.1,2207.9 908.4,2210.8 911.6,2213.6 914.8,2216.5 918.1,2219.3 921.3,2222.1 924.5,2224.8 927.8,2227.6 931.0,2230.3 934.2,2233.1 937.5,2235.7 940.7,2238.4 943.9,2241.1 947.2,2243.7 950.4,2246.3 953.6,2248.9 956.8,2251.4 960.1,2254.0 963.3,2256.5 966.5,2259.0 969.8,2261.4 973.0,2263.8 976.2,2266.2 979.5,2268.6 982.7,2271.0 985.9,2273.3 989.2,2275.6 992.4,2277.8 995.6,2280.1 998.9,2282.3 1002.1,2284.5 1005.3,2286.6 1008.6,2288.7 1011.8,2290.8 1015.0,2292.9 1018.3,2294.9 1021.5,2296.9 1024.7,2298.8 1028.0,2300.8 1031.2,2302.6 1034.4,2304.5 1037.6,2306.3 1040.9,2308.1 1044.1,2309.9 1047.3,2311.6 1050.6,2313.3 1053.8,2315.0 1057.0,2316.6 1060.3,2318.2 1063.5,2319.7 1066.7,2321.2 1070.0,2322.7 1073.2,2324.1 1076.4,2325.5 1079.7,2326.9 1082.9,2328.2 1086.1,2329.5 1089.4,2330.8 1092.6,2332.0 1095.8,2333.1 1099.1,2334.3 1102.3,2335.4 1105.5,2336.4 1108.7,2337.5 1112.0,2338.4 1115.2,2339.4 1118.4,2340.3 1121.7,2341.1 1124.9,2342.0 1128.1,2342.7 1131.4,2343.5 1134.6,2344.2 1137.8,2344.9 1141.1,2345.5 1144.3,2346.1 1147.5,2346.6 1150.8,2347.1 1154.0,2347.6 1157.2,2348.0 1160.5,2348.4 1163.7,2348.7 1166.9,2349.0 1170.2,2349.2 1173.4,2349.4 1176.6,2349.6 1179.8,2349.8 1183.1,2349.8 1186.3,2349.9 1189.5,2349.9 1192.8,2349.9 1196.0,2349.8 1199.2,2349.7 1202.5,2349.5 1205.7,2349.3 1208.9,2349.1 1212.2,2348.8 1215.4,2348.5 1218.6,2348.1 1221.9,2347.7 1225.1,2347.2 1228.3,2346.8 1231.6,2346.2 1234.8,2345.7 1238.0,2345.0 1241.3,2344.4 1244.5,2343.7 1247.7,2343.0 1250.9,2342.2 1254.2,2341.4 1257.4,2340.5 1260.6,2339.7 1263.9,2338.7 1267.1,2337.8 1270.3,2336.8 1273.6,2335.7 1276.8,2334.6 1280.0,2333.5 1283.3,2332.3 1286.5,2331.1 1289.7,2329.9 1293.0,2328.6 1296.2,2327.3 1299.4,2325.9 1302.7,2324.6 1305.9,2323.1 1309.1,2321.7 1312.4,2320.2 1315.6,2318.6 1318.8,2317.1 1322.1,2315.5 1325.3,2313.8 1328.5,2312.1 1331.7,2310.4 1335.0,2308.7 1338.2,2306.9 1341.4,2305.1 1344.7,2303.2 1347.9,2301.3 1351.1,2299.4 1354.4,2297.5 1357.6,2295.5 1360.8,2293.5 1364.1,2291.4 1367.3,2289.4 1370.5,2287.3 1373.8,2285.1 1377.0,2283.0 1380.2,2280.8 1383.5,2278.5 1386.7,2276.3 1389.9,2274.0 1393.2,2271.7 1396.4,2269.3 1399.6,2267.0 1402.8,2264.6 1406.1,2262.2 1409.3,2259.7 1412.5,2257.2 1415.8,2254.7 1419.0,2252.2 1422.2,2249.7 1425.5,2247.1 1428.7,2244.5 1431.9,2241.9 1435.2,2239.2 1438.4,2236.6 1441.6,2233.9 1444.9,2231.2 1448.1,2228.4 1451.3,2225.7 1454.6,2222.9 1457.8,2220.1 1461.0,2217.3 1464.3,2214.5 1467.5,2211.7 1470.7,2208.8 1473.9,2205.9 1477.2,2203.0 1480.4,2200.1 1483.6,2197.2 1486.9,2194.2 1490.1,2191.3 1493.3,2188.3 1496.6,2185.3 1499.8,2182.3 1503.0,2179.3 1506.3,2176.3 1509.5,2173.3 1512.7,2170.2 1516.0,2167.2 1519.2,2164.1 1522.4,2161.0 1525.7,2157.9 1528.9,2154.8 1532.1,2151.7 1535.4,2148.6 1538.6,2145.5 1541.8,2142.4 1545.0,2139.3 1548.3,2136.1 1551.5,2133.0 1554.7,2129.9 1558.0,2126.7 1561.2,2123.6 1564.4,2120.4 1567.7,2117.3 1570.9,2114.1 1574.1,2111.0 1577.4,2107.8 1580.6,2104.6 1583.8,2101.5 1587.1,2098.3 1590.3,2095.2 1593.5,2092.0 1596.8,2088.9 1600.0,2085.7 1603.2,2082.6 1606.5,2079.5 1609.7,2076.3 1612.9,2073.2 1616.2,2070.1 1619.4,2067.0 1622.6,2063.9 1625.8,2060.8 1629.1,2057.7 1632.3,2054.6 1635.5,2051.6 1638.8,2048.5 1642.0,2045.5 1645.2,2042.4 1648.5,2039.4 1651.7,2036.4 1654.9,2033.4 1658.2,2030.4 1661.4,2027.4 1664.6,2024.4 1667.9,2021.5 1671.1,2018.6 1674.3,2015.7 1677.6,2012.8 1680.8,2009.9 1684.0,2007.0 1687.3,2004.1 1690.5,2001.3 1693.7,1998.5 1696.9,1995.7 1700.2,1992.9 1703.4,1990.2 1706.6,1987.4 1709.9,1984.7 1713.1,1982.0 1716.3,1979.4 1719.6,1976.7 1722.8,1974.1 1726.0,1971.5 1729.3,1968.9 1732.5,1966.3 1735.7,1963.8 1739.0,1961.3 1742.2,1958.8 1745.4,1956.4 1748.7,1953.9 1751.9,1951.5 1755.1,1949.2 1758.4,1946.8 1761.6,1944.5 1764.8,1942.2 1768.0,1939.9 1771.3,1937.7 1774.5,1935.5 1777.7,1933.3 1781.0,1931.2 1784.2,1929.1 1787.4,1927.0 1790.7,1924.9 1793.9,1922.9 1797.1,1920.9 1800.4,1919.0 1803.6,1917.0" stroke="#ff00db"/>
<polyline points="252.3,1900.6 255.5,1899.3 258.8,1898.1 262.0,1896.8 265.2,1895.7 268.5,1894.5 271.7,1893.3 274.9,1892.2 278.2,1891.1 281.4,1890.1 284.6,1889.0 287.9,1888.0 291.1,1887.0 294.3,1886.0 297.5,1885.0 300.8,1884.1 304.0,1883.2 307.2,1882.3 310.5,1881.5 313.7,1880.6 316.9,1879.8 320.2,1879.1 323.4,1878.3 326.6,1877.6 329.9,1876.9 333.1,1876.2 336.3,1875.5 339.6,1874.9 342.8,1874.3 346.0,1873.8 349.3,1873.2 352.5,1872.7 355.7,1872.2 359.0,1871.7 362.2,1871.3 365.4,1870.9 368.6,1870.5 371.9,1870.1 375.1,1869.8 378.3,1869.5 381.6,1869.2 384.8,1869.0 388.0,1868.7 391.3,1868.5 394.5,1868.4 397.7,1868.2 401.0,1868.1 404.2,1868.0 407.4,1868.0 410.7,1867.9 413.9,1867.9 417.1,1868.0 420.4,1868.0 423.6,1868.1 426.8,1868.2 430.1,1868.3 433.3,1868.5 436.5,1868.7 439.7,1868.9 443.0,1869.1 446.2,1869.4 449.4,1869.7 452.7,1870.0 455.9,1870.4 459.1,1870.8 462.4,1871.2 465.6,1871.6 468.8,1872.0 472.1,1872.5 475.3,1873.0 478.5,1873.6 481.8,1874.1 485.0,1874.7 488.2,1875.4 491.5,1876.0 494.7,1876.7 497.9,1877.4 501.2,1878.1 504.4,1878.8 507.6,1879.6 510.8,1880.4 514.1,1881.2 517.3,1882.1 520.5,1882.9 523.8,1883.8 527.0,1884.8 530.2,1885.7 533.5,1886.7 536.7,1887.7 539.9,1888.7 543.2,1889.7 546.4,1890.8 549.6,1891.9 552.9,1893.0 556.1,1894.1 559.3,1895.3 562.6,1896.5 565.8,1897.7 569.0,1898.9 572.3,1900.2 575.5,1901.4 578.7,1902.7 582.0,1904.0 585.2,1905.4 588.4,1906.7 591.6,1908.1 594.9,1909.5 598.1,1910.9 601.3,1912.4 604.6,1913.8 607.8,1915.3 611.0,1916.8 614.3,1918.3 617.5,1919.8 620.7,1921.4 624.0,1923.0 627.2,1924.6 630.4,1926.2 633.7,1927.8 636.9,1929.4 640.1,1931.1 643.4,1932.8 646.6,1934.5 649.8,1936.2 653.1,1937.9 656.3,1939.6 659.5,1941.4 662.7,1943.1 666.0,1944.9 669.2,1946.7 672.4,1948.5 675.7,1950.4 678.9,1952.2 682.1,1954.0 685.4,1955.9 688.6,1957.8 691.8,1959.7 695.1,1961.6 698.3,1963.5 701.5,1965.4 704.8,1967.3 708.0,1969.3 711.2,1971.2 714.5,1973.2 717.7,1975.2 720.9,1977.1 724.2,1979.1 727.4,1981.1 730.6,1983.1 733.8,1985.2 737.1,1987.2 740.3,1989.2 743.5,1991.2 746.8,1993.3 750.0,1995.3 753.2,1997.4 756.5,1999.4 759.7,2001.5 762.9,2003.6 766.2,2005.6 769.4,2007.7 772.6,2009.8 775.9,2011.9 779.1,2014.0 782.3,2016.0 785.6,2018.1 788.8,2020.2 792.0,2022.3 795.3,2024.4 798.5,2026.5 801.7,2028.6 805.0,2030.7 808.2,2032.8 811.4,2034.9 814.6,2037.0 817.9,2039.0 821.1,2041.1 824.3,2043.2 827.6,2045.3 830.8,2047.4 834.0,2049.5 837.3,2051.5 840.5,2053.6 843.7,2055.7 847.0,2057.7 850.2,2059.8 853.4,2061.8 856.7,2063.9 859.9,2065.9 863.1,2067.9 866.4,2070.0 869.6,2072.0 872.8,2074.0 876.1,2076.0 879.3,2078.0 882.5,2080.0 885.7,2081.9 889.0,2083.9 892.2,2085.9 895.4,2087.8 898.7,2089.7 901.9,2091.7 905.1,2093.6 908.4,2095.5 911.6,2097.4 914.8,2099.2 918.1,2101.1 921.3,2103.0 924.5,2104.8 927.8,2106.6 931.0,2108.5 934.2,2110.3 937.5,2112.0 940.7,2113.8 943.9,2115.6 947.2,2117.3 950.4,2119.0 953.6,2120.8 956.8,2122.5 960.1,2124.1 963.3,2125.8 966.5,2127.4 969.8,2129.1 973.0,2130.7 976.2,2132.3 979.5,2133.9 982.7,2135.4 985.9,2137.0 989.2,2138.5 992.4,2140.0 995.6,2141.5 998.9,2142.9 1002.1,2144.4 1005.3,2145.8 1008.6,2147.2 1011.8,2148.6 1015.0,2149.9 1018.3,2151.3 1021.5,2152.6 1024.7,2153.9 1028.0,2155.2 1031.2,2156.4 1034.4,2157.7 1037.6,2158.9 1040.9,2160.1 1044.1,2161.2 1047.3,2162.4 1050.6,2163.5 1053.8,2164.6 1057.0,2165.7 1060.3,2166.7 1063.5,2167.8 1066.7,2168.8 1070.0,2169.7 1073.2,2170.7 1076.4,2171.6 1079.7,2172.5 1082.9,2173.4 1086.1,2174.3 1089.4,2175.1 1092.6,2175.9 1095.8,2176.7 1099.1,2177.4 1102.3,2178.2 1105.5,2178.9 1108.7,2179.5 1112.0,2180.2 1115.2,2180.8 1118.4,2181.4 1121.7,2182.0 1124.9,2182.5 1128.1,2183.0 1131.4,2183.5 1134.6,2184.0 1137.8,2184.4 1141.1,2184.9 1144.3,2185.2 1147.5,2185.6 1150.8,2185.9 1154.0,2186.2 1157.2,2186.5 1160.5,2186.8 1163.7,2187.0 1166.9,2187.2 1170.2,2187.4 1173.4,2187.5 1176.6,2187.6 1179.8,2187.7 1183.1,2187.8 1186.3,2187.8 1189.5,2187.8 1192.8,2187.8 1196.0,2187.7 1199.2,2187.6 1202.5,2187.5 1205.7,2187.4 1208.9,2187.2 1212.2,2187.0 1215.4,2186.8 1218.6,2186.6 1221.9,2186.3 1225.1,2186.0 1228.3,2185.7 1231.6,2185.4 1234.8,2185.0 1238.0,2184.6 1241.3,2184.1 1244.5,2183.7 1247.7,2183.2 1250.9,2182.7 1254.2,2182.1 1257.4,2181.6 1260.6,2181.0 1263.9,2180.4 1267.1,2179.7 1270.3,2179.1 1273.6,2178.4 1276.8,2177.7 1280.0,2176.9 1283.3,2176.1 1286.5,2175.3 1289.7,2174.5 1293.0,2173.7 1296.2,2172.8 1299.4,2171.9 1302.7,2171.0 1305.9,2170.0 1309.1,2169.1 1312.4,2168.1 1315.6,2167.0 1318.8,2166.0 1322.1,2164.9 1325.3,2163.8 1328.5,2162.7 1331.7,2161.6 1335.0,2160.4 1338.2,2159.2 1341.4,2158.0 1344.7,2156.8 1347.9,2155.6 1351.1,2154.3 1354.4,2153.0 1357.6,2151.7 1360.8,2150.4 1364.1,2149.0 1367.3,2147.6 1370.5,2146.2 1373.8,2144.8 1377.0,2143.4 1380.2,2141.9 1383.5,2140.4 1386.7,2138.9 1389.9,2137.4 1393.2,2135.9 1396.4,2134.3 1399.6,2132.8 1402.8,2131.2 1406.1,2129.6 1409.3,2127.9 1412.5,2126.3 1415.8,2124.6 1419.0,2123.0 1422.2,2121.3 1425.5,2119.6 1428.7,2117.8 1431.9,2116.1 1435.2,2114.4 1438.4,2112.6 1441.6,2110.8 1444.9,2109.0 1448.1,2107.2 1451.3,2105.4 1454.6,2103.5 1457.8,2101.7 1461.0,2099.8 1464.3,2097.9 1467.5,2096.1 1470.7,2094.2 1473.9,2092.2 1477.2,2090.3 1480.4,2088.4 1483.6,2086.5 1486.9,2084.5 1490.1,2082.5 1493.3,2080.6 1496.6,2078.6 1499.8,2076.6 1503.0,2074.6 1506.3,2072.6 1509.5,2070.6 1512.7,2068.6 1516.0,2066.5 1519.2,2064.5 1522.4,2062.5 1525.7,2060.4 1528.9,2058.4 1532.1,2056.3 1535.4,2054.2 1538.6,2052.2 1541.8,2050.1 1545.0,2048.0 1548.3,2045.9 1551.5,2043.9 1554.7,2041.8 1558.0,2039.7 1561.2,2037.6 1564.4,2035.5 1567.7,2033.4 1570.9,2031.3 1574.1,2029.2 1577.4,2027.1 1580.6,2025.0 1583.8,2023.0 1587.1,2020.9 1590.3,2018.8 1593.5,2016.7 1596.8,2014.6 1600.0,2012.5 1603.2,2010.4 1606.5,2008.3 1609.7,2006.3 1612.9,2004.2 1616.2,2002.1 1619.4,2000.1 1622.6,1998.0 1625.8,1996.0 1629.1,1993.9 1632.3,1991.9 1635.5,1989.8 1638.8,1987.8 1642.0,1985.8 1645.2,1983.8 1648.5,1981.8 1651.7,1979.7 1654.9,1977.8 1658.2,1975.8 1661.4,1973.8 1664.6,1971.8 1667.9,1969.9 1671.1,1967.9 1674.3,1966.0 1677.6,1964.1 1680.8,1962.2 1684.0,1960.3 1687.3,1958.4 1690.5,1956.5 1693.7,1954.6 1696.9,1952.8 1700.2,1950.9 1703.4,1949.1 1706.6,1947.3 1709.9,1945.5 1713.1,1943.7 1716.3,1941.9 1719.6,1940.2 1722.8,1938.4 1726.0,1936.7 1729.3,1935.0 1732.5,1933.3 1735.7,1931.6 1739.0,1929.9 1742.2,1928.3 1745.4,1926.7 1748.7,1925.0 1751.9,1923.5 1755.1,1921.9 1758.4,1920.3 1761.6,1918.8 1764.8,1917.3 1768.0,1915.8 1771.3,1914.3 1774.5,1912.8 1777.7,1911.4 1781.0,1909.9 1784.2,1908.5 1787.4,1907.2 1790.7,1905.8 1793.9,1904.4 1797.1,1903.1 1800.4,1901.8 1803.6,1900.6" stroke="#b600ff"/>
<polyline points="252.3,1889.5 255.5,1888.7 258.8,1887.9 262.0,1887.1 265.2,1886.3 268.5,1885.5 271.7,1884.8 274.9,1884.0 278.2,1883.3 281.4,1882.6 284.6,1881.9 287.9,1881.2 291.1,1880.5 294.3,1879.9 297.5,1879.3 300.8,1878.7 304.0,1878.1 307.2,1877.5 310.5,1876.9 313.7,1876.4 316.9,1875.8 320.2,1875.3 323.4,1874.8 326.6,1874.3 329.9,1873.9 333.1,1873.4 336.3,1873.0 339.6,1872.6 342.8,1872.2 346.0,1871.8 349.3,1871.5 352.5,1871.1 355.7,1870.8 359.0,1870.5 362.2,1870.2 365.4,1869.9 368.6,1869.7 371.9,1869.4 375.1,1869.2 378.3,1869.0 381.6,1868.8 384.8,1868.7 388.0,1868.5 391.3,1868.4 394.5,1868.3 397.7,1868.2 401.0,1868.1 404.2,1868.0 407.4,1868.0 410.7,1868.0 413.9,1868.0 417.1,1868.0 420.4,1868.0 423.6,1868.1 426.8,1868.2 430.1,1868.2 433.3,1868.3 436.5,1868.5 439.7,1868.6 443.0,1868.8 446.2,1868.9 449.4,1869.1 452.7,1869.4 455.9,1869.6 459.1,1869.8 462.4,1870.1 465.6,1870.4 468.8,1870.7 472.1,1871.0 475.3,1871.3 478.5,1871.7 481.8,1872.1 485.0,1872.5 488.2,1872.9 491.5,1873.3 494.7,1873.7 497.9,1874.2 501.2,1874.7 504.4,1875.2 507.6,1875.7 510.8,1876.2 514.1,1876.7 517.3,1877.3 520.5,1877.9 523.8,1878.5 527.0,1879.1 530.2,1879.7 533.5,1880.3 536.7,1881.0 539.9,1881.7 543.2,1882.4 546.4,1883.1 549.6,1883.8 552.9,1884.5 556.1,1885.3 559.3,1886.0 562.6,1886.8 565.8,1887.6 569.0,1888.4 572.3,1889.3 575.5,1890.1 578.7,1890.9 582.0,1891.8 585.2,1892.7 588.4,1893.6 591.6,1894.5 594.9,1895.4 598.1,1896.4 601.3,1897.3 604.6,1898.3 607.8,1899.2 611.0,1900.2 614.3,1901.2 617.5,1902.2 620.7,1903.3 624.0,1904.3 627.2,1905.4 630.4,1906.4 633.7,1907.5 636.9,1908.6 640.1,1909.7 643.4,1910.8 646.6,1911.9 649.8,1913.0 653.1,1914.2 656.3,1915.3 659.5,1916.5 662.7,1917.6 666.0,1918.8 669.2,1920.0 672.4,1921.2 675.7,1922.4 678.9,1923.6 682.1,1924.8 685.4,1926.1 688.6,1927.3 691.8,1928.5 695.1,1929.8 698.3,1931.1 701.5,1932.3 704.8,1933.6 708.0,1934.9 711.2,1936.2 714.5,1937.5 717.7,1938.8 720.9,1940.1 724.2,1941.4 727.4,1942.7 730.6,1944.0 733.8,1945.4 737.1,1946.7 740.3,1948.0 743.5,1949.4 746.8,1950.7 750.0,1952.1 753.2,1953.4 756.5,1954.8 759.7,1956.2 762.9,1957.5 766.2,1958.9 769.4,1960.3 772.6,1961.6 775.9,1963.0 779.1,1964.4 782.3,1965.8 785.6,1967.1 788.8,1968.5 792.0,1969.9 795.3,1971.3 798.5,1972.7 801.7,1974.0 805.0,1975.4 808.2,1976.8 811.4,1978.2 814.6,1979.6 817.9,1980.9 821.1,1982.3 824.3,1983.7 827.6,1985.1 830.8,1986.4 834.0,1987.8 837.3,1989.2 840.5,1990.5 843.7,1991.9 847.0,1993.3 850.2,1994.6 853.4,1996.0 856.7,1997.3 859.9,1998.7 863.1,2000.0 866.4,2001.3 869.6,2002.7 872.8,2004.0 876.1,2005.3 879.3,2006.6 882.5,2007.9 885.7,2009.3 889.0,2010.6 892.2,2011.8 895.4,2013.1 898.7,2014.4 901.9,2015.7 905.1,2016.9 908.4,2018.2 911.6,2019.4 914.8,2020.7 918.1,2021.9 921.3,2023.1 924.5,2024.4 927.8,2025.6 931.0,2026.8 934.2,2028.0 937.5,2029.1 940.7,2030.3 943.9,2031.5 947.2,2032.6 950.4,2033.8 953.6,2034.9 956.8,2036.0 960.1,2037.1 963.3,2038.2 966.5,2039.3 969.8,2040.4 973.0,2041.4 976.2,2042.5 979.5,2043.5 982.7,2044.6 985.9,2045.6 989.2,2046.6 992.4,2047.6 995.6,2048.6 998.9,2049.5 1002.1,2050.5 1005.3,2051.4 1008.6,2052.3 1011.8,2053.3 1015.0,2054.2 1018.3,2055.0 1021.5,2055.9 1024.7,2056.8 1028.0,2057.6 1031.2,2058.4 1034.4,2059.3 1037.6,2060.1 1040.9,2060.8 1044.1,2061.6 1047.3,2062.4 1050.6,2063.1 1053.8,2063.8 1057.0,2064.5 1060.3,2065.2 1063.5,2065.9 1066.7,2066.6 1070.0,2067.2 1073.2,2067.8 1076.4,2068.5 1079.7,2069.1 1082.9,2069.6 1086.1,2070.2 1089.4,2070.8 1092.6,2071.3 1095.8,2071.8 1099.1,2072.3 1102.3,2072.8 1105.5,2073.2 1108.7,2073.7 1112.0,2074.1 1115.2,2074.5 1118.4,2074.9 1121.7,2075.3 1124.9,2075.7 1128.1,2076.0 1131.4,2076.3 1134.6,2076.6 1137.8,2076.9 1141.1,2077.2 1144.3,2077.5 1147.5,2077.7 1150.8,2077.9 1154.0,2078.1 1157.2,2078.3 1160.5,2078.5 1163.7,2078.6 1166.9,2078.7 1170.2,2078.8 1173.4,2078.9 1176.6,2079.0 1179.8,2079.1 1183.1,2079.1 1186.3,2079.1 1189.5,2079.1 1192.8,2079.1 1196.0,2079.1 1199.2,2079.0 1202.5,2079.0 1205.7,2078.9 1208.9,2078.8 1212.2,2078.6 1215.4,2078.5 1218.6,2078.3 1221.9,2078.2 1225.1,2078.0 1228.3,2077.8 1231.6,2077.5 1234.8,2077.3 1238.0,2077.0 1241.3,2076.7 1244.5,2076.4 1247.7,2076.1 1250.9,2075.8 1254.2,2075.4 1257.4,2075.0 1260.6,2074.7 1263.9,2074.2 1267.1,2073.8 1270.3,2073.4 1273.6,2072.9 1276.8,2072.4 1280.0,2072.0 1283.3,2071.4 1286.5,2070.9 1289.7,2070.4 1293.0,2069.8 1296.2,2069.2 1299.4,2068.6 1302.7,2068.0 1305.9,2067.4 1309.1,2066.8 1312.4,2066.1 1315.6,2065.4 1318.8,2064.8 1322.1,2064.0 1325.3,2063.3 1328.5,2062.6 1331.7,2061.8 1335.0,2061.1 1338.2,2060.3 1341.4,2059.5 1344.7,2058.7 1347.9,2057.9 1351.1,2057.0 1354.4,2056.2 1357.6,2055.3 1360.8,2054.4 1364.1,2053.5 1367.3,2052.6 1370.5,2051.7 1373.8,2050.8 1377.0,2049.8 1380.2,2048.8 1383.5,2047.9 1386.7,2046.9 1389.9,2045.9 1393.2,2044.9 1396.4,2043.8 1399.6,2042.8 1402.8,2041.8 1406.1,2040.7 1409.3,2039.6 1412.5,2038.5 1415.8,2037.5 1419.0,2036.3 1422.2,2035.2 1425.5,2034.1 1428.7,2033.0 1431.9,2031.8 1435.2,2030.7 1438.4,2029.5 1441.6,2028.3 1444.9,2027.1 1448.1,2025.9 1451.3,2024.7 1454.6,2023.5 1457.8,2022.3 1461.0,2021.1 1464.3,2019.8 1467.5,2018.6 1470.7,2017.3 1473.9,2016.1 1477.2,2014.8 1480.4,2013.5 1483.6,2012.2 1486.9,2010.9 1490.1,2009.7 1493.3,2008.3 1496.6,2007.0 1499.8,2005.7 1503.0,2004.4 1506.3,2003.1 1509.5,2001.8 1512.7,2000.4 1516.0,1999.1 1519.2,1997.7 1522.4,1996.4 1525.7,1995.0 1528.9,1993.7 1532.1,1992.3 1535.4,1991.0 1538.6,1989.6 1541.8,1988.2 1545.0,1986.9 1548.3,1985.5 1551.5,1984.1 1554.7,1982.7 1558.0,1981.4 1561.2,1980.0 1564.4,1978.6 1567.7,1977.2 1570.9,1975.8 1574.1,1974.5 1577.4,1973.1 1580.6,1971.7 1583.8,1970.3 1587.1,1968.9 1590.3,1967.6 1593.5,1966.2 1596.8,1964.8 1600.0,1963.4 1603.2,1962.0 1606.5,1960.7 1609.7,1959.3 1612.9,1957.9 1616.2,1956.6 1619.4,1955.2 1622.6,1953.8 1625.8,1952.5 1629.1,1951.1 1632.3,1949.8 1635.5,1948.4 1638.8,1947.1 1642.0,1945.8 1645.2,1944.4 1648.5,1943.1 1651.7,1941.8 1654.9,1940.5 1658.2,1939.2 1661.4,1937.9 1664.6,1936.6 1667.9,1935.3 1671.1,1934.0 1674.3,1932.7 1677.6,1931.4 1680.8,1930.2 1684.0,1928.9 1687.3,1927.7 1690.5,1926.4 1693.7,1925.2 1696.9,1924.0 1700.2,1922.8 1703.4,1921.6 1706.6,1920.4 1709.9,1919.2 1713.1,1918.0 1716.3,1916.8 1719.6,1915.7 1722.8,1914.5 1726.0,1913.4 1729.3,1912.2 1732.5,1911.1 1735.7,1910.0 1739.0,1908.9 1742.2,1907.8 1745.4,1906.7 1748.7,1905.7 1751.9,1904.6 1755.1,1903.6 1758.4,1902.6 1761.6,1901.5 1764.8,1900.5 1768.0,1899.5 1771.3,1898.6 1774.5,1897.6 1777.7,1896.6 1781.0,1895.7 1784.2,1894.8 1787.4,1893.9 1790.7,1893.0 1793.9,1892.1 1797.1,1891.2 1800.4,1890.4 1803.6,1889.5" stroke="#4900ff"/>
<polyline points="252.3,1881.8 255.5,1881.3 258.8,1880.7 262.0,1880.2 265.2,1879.7 268.5,1879.2 271.7,1878.7 274.9,1878.3 278.2,1877.8 281.4,1877.4 284.6,1876.9 287.9,1876.5 291.1,1876.1 294.3,1875.6 297.5,1875.2 300.8,1874.8 304.0,1874.5 307.2,1874.1 310.5,1873.7 313.7,1873.4 316.9,1873.0 320.2,1872.7 323.4,1872.4 326.6,1872.1 329.9,1871.8 333.1,1871.5 336.3,1871.2 339.6,1871.0 342.8,1870.7 346.0,1870.5 349.3,1870.2 352.5,1870.0 355.7,1869.8 359.0,1869.6 362.2,1869.4 365.4,1869.2 368.6,1869.1 371.9,1868.9 375.1,1868.8 378.3,1868.7 381.6,1868.5 384.8,1868.4 388.0,1868.3 391.3,1868.3 394.5,1868.2 397.7,1868.1 401.0,1868.1 404.2,1868.0 407.4,1868.0 410.7,1868.0 413.9,1868.0 417.1,1868.0 420.4,1868.0 423.6,1868.1 426.8,1868.1 430.1,1868.2 433.3,1868.2 436.5,1868.3 439.7,1868.4 443.0,1868.5 446.2,1868.6 449.4,1868.8 452.7,1868.9 455.9,1869.0 459.1,1869.2 462.4,1869.4 465.6,1869.6 468.8,1869.7 472.1,1869.9 475.3,1870.2 478.5,1870.4 481.8,1870.6 485.0,1870.9 488.2,1871.1 491.5,1871.4 494.7,1871.7 497.9,1872.0 501.2,1872.3 504.4,1872.6 507.6,1872.9 510.8,1873.3 514.1,1873.6 517.3,1874.0 520.5,1874.3 523.8,1874.7 527.0,1875.1 530.2,1875.5 533.5,1875.9 536.7,1876.3 539.9,1876.8 543.2,1877.2 546.4,1877.7 549.6,1878.1 552.9,1878.6 556.1,1879.1 559.3,1879.6 562.6,1880.1 565.8,1880.6 569.0,1881.1 572.3,1881.6 575.5,1882.2 578.7,1882.7 582.0,1883.3 585.2,1883.8 588.4,1884.4 591.6,1885.0 594.9,1885.6 598.1,1886.2 601.3,1886.8 604.6,1887.4 607.8,1888.0 611.0,1888.7 614.3,1889.3 617.5,1889.9 620.7,1890.6 624.0,1891.3 627.2,1891.9 630.4,1892.6 633.7,1893.3 636.9,1894.0 640.1,1894.7 643.4,1895.4 646.6,1896.1 649.8,1896.8 653.1,1897.6 656.3,1898.3 659.5,1899.0 662.7,1899.8 666.0,1900.5 669.2,1901.3 672.4,1902.1 675.7,1902.8 678.9,1903.6 682.1,1904.4 685.4,1905.2 688.6,1906.0 691.8,1906.8 695.1,1907.6 698.3,1908.4 701.5,1909.2 704.8,1910.0 708.0,1910.8 711.2,1911.7 714.5,1912.5 717.7,1913.3 720.9,1914.2 724.2,1915.0 727.4,1915.8 730.6,1916.7 733.8,1917.5 737.1,1918.4 740.3,1919.3 743.5,1920.1 746.8,1921.0 750.0,1921.8 753.2,1922.7 756.5,1923.6 759.7,1924.5 762.9,1925.3 766.2,1926.2 769.4,1927.1 772.6,1928.0 775.9,1928.8 779.1,1929.7 782.3,1930.6 785.6,1931.5 788.8,1932.4 792.0,1933.2 795.3,1934.1 798.5,1935.0 801.7,1935.9 805.0,1936.8 808.2,1937.7 811.4,1938.6 814.6,1939.4 817.9,1940.3 821.1,1941.2 824.3,1942.1 827.6,1943.0 830.8,1943.8 834.0,1944.7 837.3,1945.6 840.5,1946.5 843.7,1947.3 847.0,1948.2 850.2,1949.1 853.4,1949.9 856.7,1950.8 859.9,1951.7 863.1,1952.5 866.4,1953.4 869.6,1954.2 872.8,1955.1 876.1,1955.9 879.3,1956.8 882.5,1957.6 885.7,1958.4 889.0,1959.3 892.2,1960.1 895.4,1960.9 898.7,1961.7 901.9,1962.6 905.1,1963.4 908.4,1964.2 911.6,1965.0 914.8,1965.8 918.1,1966.6 921.3,1967.3 924.5,1968.1 927.8,1968.9 931.0,1969.7 934.2,1970.4 937.5,1971.2 940.7,1971.9 943.9,1972.7 947.2,1973.4 950.4,1974.1 953.6,1974.9 956.8,1975.6 960.1,1976.3 963.3,1977.0 966.5,1977.7 969.8,1978.4 973.0,1979.0 976.2,1979.7 979.5,1980.4 982.7,1981.0 985.9,1981.7 989.2,1982.3 992.4,1983.0 995.6,1983.6 998.9,1984.2 1002.1,1984.8 1005.3,1985.4 1008.6,1986.0 1011.8,1986.6 1015.0,1987.2 1018.3,1987.8 1021.5,1988.3 1024.7,1988.9 1028.0,1989.4 1031.2,1989.9 1034.4,1990.5 1037.6,1991.0 1040.9,1991.5 1044.1,1992.0 1047.3,1992.4 1050.6,1992.9 1053.8,1993.4 1057.0,1993.8 1060.3,1994.3 1063.5,1994.7 1066.7,1995.1 1070.0,1995.6 1073.2,1996.0 1076.4,1996.3 1079.7,1996.7 1082.9,1997.1 1086.1,1997.5 1089.4,1997.8 1092.6,1998.2 1095.8,1998.5 1099.1,1998.8 1102.3,1999.1 1105.5,1999.4 1108.7,1999.7 1112.0,2000.0 1115.2,2000.2 1118.4,2000.5 1121.7,2000.7 1124.9,2001.0 1128.1,2001.2 1131.4,2001.4 1134.6,2001.6 1137.8,2001.8 1141.1,2001.9 1144.3,2002.1 1147.5,2002.3 1150.8,2002.4 1154.0,2002.5 1157.2,2002.6 1160.5,2002.8 1163.7,2002.8 1166.9,2002.9 1170.2,2003.0 1173.4,2003.1 1176.6,2003.1 1179.8,2003.1 1183.1,2003.2 1186.3,2003.2 1189.5,2003.2 1192.8,2003.2 1196.0,2003.2 1199.2,2003.1 1202.5,2003.1 1205.7,2003.0 1208.9,2003.0 1212.2,2002.9 1215.4,2002.8 1218.6,2002.7 1221.9,2002.6 1225.1,2002.4 1228.3,2002.3 1231.6,2002.2 1234.8,2002.0 1238.0,2001.8 1241.3,2001.6 1244.5,2001.4 1247.7,2001.2 1250.9,2001.0 1254.2,2000.8 1257.4,2000.6 1260.6,2000.3 1263.9,2000.1 1267.1,1999.8 1270.3,1999.5 1273.6,1999.2 1276.8,1998.9 1280.0,1998.6 1283.3,1998.3 1286.5,1997.9 1289.7,1997.6 1293.0,1997.2 1296.2,1996.8 1299.4,1996.5 1302.7,1996.1 1305.9,1995.7 1309.1,1995.3 1312.4,1994.8 1315.6,1994.4 1318.8,1994.0 1322.1,1993.5 1325.3,1993.1 1328.5,1992.6 1331.7,1992.1 1335.0,1991.6 1338.2,1991.1 1341.4,1990.6 1344.7,1990.1 1347.9,1989.6 1351.1,1989.0 1354.4,1988.5 1357.6,1987.9 1360.8,1987.4 1364.1,1986.8 1367.3,1986.2 1370.5,1985.6 1373.8,1985.0 1377.0,1984.4 1380.2,1983.8 1383.5,1983.2 1386.7,1982.5 1389.9,1981.9 1393.2,1981.2 1396.4,1980.6 1399.6,1979.9 1402.8,1979.3 1406.1,1978.6 1409.3,1977.9 1412.5,1977.2 1415.8,1976.5 1419.0,1975.8 1422.2,1975.1 1425.5,1974.4 1428.7,1973.6 1431.9,1972.9 1435.2,1972.1 1438.4,1971.4 1441.6,1970.6 1444.9,1969.9 1448.1,1969.1 1451.3,1968.4 1454.6,1967.6 1457.8,1966.8 1461.0,1966.0 1464.3,1965.2 1467.5,1964.4 1470.7,1963.6 1473.9,1962.8 1477.2,1962.0 1480.4,1961.2 1483.6,1960.4 1486.9,1959.5 1490.1,1958.7 1493.3,1957.9 1496.6,1957.0 1499.8,1956.2 1503.0,1955.3 1506.3,1954.5 1509.5,1953.6 1512.7,1952.8 1516.0,1951.9 1519.2,1951.1 1522.4,1950.2 1525.7,1949.3 1528.9,1948.5 1532.1,1947.6 1535.4,1946.7 1538.6,1945.9 1541.8,1945.0 1545.0,1944.1 1548.3,1943.2 1551.5,1942.4 1554.7,1941.5 1558.0,1940.6 1561.2,1939.7 1564.4,1938.8 1567.7,1937.9 1570.9,1937.1 1574.1,1936.2 1577.4,1935.3 1580.6,1934.4 1583.8,1933.5 1587.1,1932.6 1590.3,1931.8 1593.5,1930.9 1596.8,1930.0 1600.0,1929.1 1603.2,1928.2 1606.5,1927.3 1609.7,1926.5 1612.9,1925.6 1616.2,1924.7 1619.4,1923.8 1622.6,1923.0 1625.8,1922.1 1629.1,1921.2 1632.3,1920.4 1635.5,1919.5 1638.8,1918.7 1642.0,1917.8 1645.2,1917.0 1648.5,1916.1 1651.7,1915.3 1654.9,1914.4 1658.2,1913.6 1661.4,1912.7 1664.6,1911.9 1667.9,1911.1 1671.1,1910.3 1674.3,1909.4 1677.6,1908.6 1680.8,1907.8 1684.0,1907.0 1687.3,1906.2 1690.5,1905.4 1693.7,1904.6 1696.9,1903.9 1700.2,1903.1 1703.4,1902.3 1706.6,1901.5 1709.9,1900.8 1713.1,1900.0 1716.3,1899.3 1719.6,1898.5 1722.8,1897.8 1726.0,1897.1 1729.3,1896.3 1732.5,1895.6 1735.7,1894.9 1739.0,1894.2 1742.2,1893.5 1745.4,1892.8 1748.7,1892.1 1751.9,1891.5 1755.1,1890.8 1758.4,1890.1 1761.6,1889.5 1764.8,1888.9 1768.0,1888.2 1771.3,1887.6 1774.5,1887.0 1777.7,1886.4 1781.0,1885.8 1784.2,1885.2 1787.4,1884.6 1790.7,1884.0 1793.9,1883.4 1797.1,1882.9 1800.4,1882.3 1803.6,1881.8" stroke="#0024ff"/>
<polyline points="252.3,1876.2 255.5,1875.9 258.8,1875.6 262.0,1875.2 265.2,1875.0 268.5,1874.7 271.7,1874.4 274.9,1874.1 278.2,1873.8 281.4,1873.6 284.6,1873.3 287.9,1873.0 291.1,1872.8 294.3,1872.5 297.5,1872.3 300.8,1872.1 304.0,1871.8 307.2,1871.6 310.5,1871.4 313.7,1871.2 316.9,1871.0 320.2,1870.8 323.4,1870.6 326.6,1870.4 329.9,1870.3 333.1,1870.1 336.3,1869.9 339.6,1869.8 342.8,1869.6 346.0,1869.5 349.3,1869.3 352.5,1869.2 355.7,1869.1 359.0,1869.0 362.2,1868.9 365.4,1868.8 368.6,1868.7 371.9,1868.6 375.1,1868.5 378.3,1868.4 381.6,1868.3 384.8,1868.3 388.0,1868.2 391.3,1868.2 394.5,1868.1 397.7,1868.1 401.0,1868.1 404.2,1868.1 407.4,1868.0 410.7,1868.0 413.9,1868.0 417.1,1868.0 420.4,1868.0 423.6,1868.1 426.8,1868.1 430.1,1868.1 433.3,1868.2 436.5,1868.2 439.7,1868.3 443.0,1868.3 446.2,1868.4 449.4,1868.5 452.7,1868.5 455.9,1868.6 459.1,1868.7 462.4,1868.8 465.6,1868.9 468.8,1869.1 472.1,1869.2 475.3,1869.3 478.5,1869.4 481.8,1869.6 485.0,1869.7 488.2,1869.9 491.5,1870.0 494.7,1870.2 497.9,1870.4 501.2,1870.6 504.4,1870.7 507.6,1870.9 510.8,1871.1 514.1,1871.3 517.3,1871.6 520.5,1871.8 523.8,1872.0 527.0,1872.2 530.2,1872.5 533.5,1872.7 536.7,1873.0 539.9,1873.2 543.2,1873.5 546.4,1873.7 549.6,1874.0 552.9,1874.3 556.1,1874.6 559.3,1874.9 562.6,1875.2 565.8,1875.5 569.0,1875.8 572.3,1876.1 575.5,1876.4 578.7,1876.7 582.0,1877.0 585.2,1877.4 588.4,1877.7 591.6,1878.1 594.9,1878.4 598.1,1878.8 601.3,1879.1 604.6,1879.5 607.8,1879.9 611.0,1880.2 614.3,1880.6 617.5,1881.0 620.7,1881.4 624.0,1881.8 627.2,1882.2 630.4,1882.6 633.7,1883.0 636.9,1883.4 640.1,1883.8 643.4,1884.2 646.6,1884.6 649.8,1885.1 653.1,1885.5 656.3,1885.9 659.5,1886.4 662.7,1886.8 666.0,1887.3 669.2,1887.7 672.4,1888.2 675.7,1888.6 678.9,1889.1 682.1,1889.5 685.4,1890.0 688.6,1890.5 691.8,1890.9 695.1,1891.4 698.3,1891.9 701.5,1892.4 704.8,1892.9 708.0,1893.3 711.2,1893.8 714.5,1894.3 717.7,1894.8 720.9,1895.3 724.2,1895.8 727.4,1896.3 730.6,1896.8 733.8,1897.3 737.1,1897.8 740.3,1898.3 743.5,1898.8 746.8,1899.3 750.0,1899.8 753.2,1900.4 756.5,1900.9 759.7,1901.4 762.9,1901.9 766.2,1902.4 769.4,1902.9 772.6,1903.5 775.9,1904.0 779.1,1904.5 782.3,1905.0 785.6,1905.5 788.8,1906.1 792.0,1906.6 795.3,1907.1 798.5,1907.6 801.7,1908.2 805.0,1908.7 808.2,1909.2 811.4,1909.7 814.6,1910.2 817.9,1910.8 821.1,1911.3 824.3,1911.8 827.6,1912.3 830.8,1912.9 834.0,1913.4 837.3,1913.9 840.5,1914.4 843.7,1914.9 847.0,1915.4 850.2,1915.9 853.4,1916.5 856.7,1917.0 859.9,1917.5 863.1,1918.0 866.4,1918.5 869.6,1919.0 872.8,1919.5 876.1,1920.0 879.3,1920.5 882.5,1921.0 885.7,1921.5 889.0,1922.0 892.2,1922.5 895.4,1922.9 898.7,1923.4 901.9,1923.9 905.1,1924.4 908.4,1924.9 911.6,1925.3 914.8,1925.8 918.1,1926.3 921.3,1926.7 924.5,1927.2 927.8,1927.7 931.0,1928.1 934.2,1928.6 937.5,1929.0 940.7,1929.4 943.9,1929.9 947.2,1930.3 950.4,1930.8 953.6,1931.2 956.8,1931.6 960.1,1932.0 963.3,1932.4 966.5,1932.8 969.8,1933.3 973.0,1933.7 976.2,1934.1 979.5,1934.4 982.7,1934.8 985.9,1935.2 989.2,1935.6 992.4,1936.0 995.6,1936.3 998.9,1936.7 1002.1,1937.1 1005.3,1937.4 1008.6,1937.8 1011.8,1938.1 1015.0,1938.5 1018.3,1938.8 1021.5,1939.1 1024.7,1939.5 1028.0,1939.8 1031.2,1940.1 1034.4,1940.4 1037.6,1940.7 1040.9,1941.0 1044.1,1941.3 1047.3,1941.6 1050.6,1941.9 1053.8,1942.1 1057.0,1942.4 1060.3,1942.7 1063.5,1942.9 1066.7,1943.2 1070.0,1943.4 1073.2,1943.6 1076.4,1943.9 1079.7,1944.1 1082.9,1944.3 1086.1,1944.5 1089.4,1944.7 1092.6,1944.9 1095.8,1945.1 1099.1,1945.3 1102.3,1945.5 1105.5,1945.7 1108.7,1945.9 1112.0,1946.0 1115.2,1946.2 1118.4,1946.3 1121.7,1946.5 1124.9,1946.6 1128.1,1946.7 1131.4,1946.9 1134.6,1947.0 1137.8,1947.1 1141.1,1947.2 1144.3,1947.3 1147.5,1947.4 1150.8,1947.5 1154.0,1947.5 1157.2,1947.6 1160.5,1947.7 1163.7,1947.7 1166.9,1947.8 1170.2,1947.8 1173.4,1947.8 1176.6,1947.9 1179.8,1947.9 1183.1,1947.9 1186.3,1947.9 1189.5,1947.9 1192.8,1947.9 1196.0,1947.9 1199.2,1947.9 1202.5,1947.9 1205.7,1947.8 1208.9,1947.8 1212.2,1947.7 1215.4,1947.7 1218.6,1947.6 1221.9,1947.6 1225.1,1947.5 1228.3,1947.4 1231.6,1947.3 1234.8,1947.2 1238.0,1947.1 1241.3,1947.0 1244.5,1946.9 1247.7,1946.8 1250.9,1946.6 1254.2,1946.5 1257.4,1946.4 1260.6,1946.2 1263.9,1946.1 1267.1,1945.9 1270.3,1945.7 1273.6,1945.6 1276.8,1945.4 1280.0,1945.2 1283.3,1945.0 1286.5,1944.8 1289.7,1944.6 1293.0,1944.4 1296.2,1944.2 1299.4,1944.0 1302.7,1943.7 1305.9,1943.5 1309.1,1943.2 1312.4,1943.0 1315.6,1942.7 1318.8,1942.5 1322.1,1942.2 1325.3,1941.9 1328.5,1941.7 1331.7,1941.4 1335.0,1941.1 1338.2,1940.8 1341.4,1940.5 1344.7,1940.2 1347.9,1939.9 1351.1,1939.6 1354.4,1939.2 1357.6,1938.9 1360.8,1938.6 1364.1,1938.2 1367.3,1937.9 1370.5,1937.5 1373.8,1937.2 1377.0,1936.8 1380.2,1936.5 1383.5,1936.1 1386.7,1935.7 1389.9,1935.3 1393.2,1935.0 1396.4,1934.6 1399.6,1934.2 1402.8,1933.8 1406.1,1933.4 1409.3,1933.0 1412.5,1932.6 1415.8,1932.1 1419.0,1931.7 1422.2,1931.3 1425.5,1930.9 1428.7,1930.5 1431.9,1930.0 1435.2,1929.6 1438.4,1929.1 1441.6,1928.7 1444.9,1928.2 1448.1,1927.8 1451.3,1927.3 1454.6,1926.9 1457.8,1926.4 1461.0,1925.9 1464.3,1925.5 1467.5,1925.0 1470.7,1924.5 1473.9,1924.1 1477.2,1923.6 1480.4,1923.1 1483.6,1922.6 1486.9,1922.1 1490.1,1921.6 1493.3,1921.1 1496.6,1920.6 1499.8,1920.1 1503.0,1919.6 1506.3,1919.1 1509.5,1918.6 1512.7,1918.1 1516.0,1917.6 1519.2,1917.1 1522.4,1916.6 1525.7,1916.1 1528.9,1915.6 1532.1,1915.1 1535.4,1914.6 1538.6,1914.0 1541.8,1913.5 1545.0,1913.0 1548.3,1912.5 1551.5,1912.0 1554.7,1911.4 1558.0,1910.9 1561.2,1910.4 1564.4,1909.9 1567.7,1909.4 1570.9,1908.8 1574.1,1908.3 1577.4,1907.8 1580.6,1907.3 1583.8,1906.7 1587.1,1906.2 1590.3,1905.7 1593.5,1905.2 1596.8,1904.7 1600.0,1904.1 1603.2,1903.6 1606.5,1903.1 1609.7,1902.6 1612.9,1902.1 1616.2,1901.5 1619.4,1901.0 1622.6,1900.5 1625.8,1900.0 1629.1,1899.5 1632.3,1899.0 1635.5,1898.5 1638.8,1898.0 1642.0,1897.5 1645.2,1897.0 1648.5,1896.5 1651.7,1896.0 1654.9,1895.5 1658.2,1895.0 1661.4,1894.5 1664.6,1894.0 1667.9,1893.5 1671.1,1893.0 1674.3,1892.5 1677.6,1892.0 1680.8,1891.6 1684.0,1891.1 1687.3,1890.6 1690.5,1890.1 1693.7,1889.7 1696.9,1889.2 1700.2,1888.8 1703.4,1888.3 1706.6,1887.8 1709.9,1887.4 1713.1,1886.9 1716.3,1886.5 1719.6,1886.1 1722.8,1885.6 1726.0,1885.2 1729.3,1884.8 1732.5,1884.3 1735.7,1883.9 1739.0,1883.5 1742.2,1883.1 1745.4,1882.7 1748.7,1882.3 1751.9,1881.9 1755.1,1881.5 1758.4,1881.1 1761.6,1880.7 1764.8,1880.3 1768.0,1880.0 1771.3,1879.6 1774.5,1879.2 1777.7,1878.9 1781.0,1878.5 1784.2,1878.2 1787.4,1877.8 1790.7,1877.5 1793.9,1877.1 1797.1,1876.8 1800.4,1876.5 1803.6,1876.2" stroke="#0092ff"/>
<polyline points="252.3,1871.9 255.5,1871.8 258.8,1871.6 262.0,1871.5 265.2,1871.3 268.5,1871.2 271.7,1871.1 274.9,1870.9 278.2,1870.8 281.4,1870.7 284.6,1870.6 287.9,1870.4 291.1,1870.3 294.3,1870.2 297.5,1870.1 300.8,1870.0 304.0,1869.9 307.2,1869.8 310.5,1869.7 313.7,1869.6 316.9,1869.5 320.2,1869.4 323.4,1869.3 326.6,1869.2 329.9,1869.1 333.1,1869.0 336.3,1868.9 339.6,1868.9 342.8,1868.8 346.0,1868.7 349.3,1868.7 352.5,1868.6 355.7,1868.5 359.0,1868.5 362.2,1868.4 365.4,1868.4 368.6,1868.3 371.9,1868.3 375.1,1868.3 378.3,1868.2 381.6,1868.2 384.8,1868.2 388.0,1868.1 391.3,1868.1 394.5,1868.1 397.7,1868.1 401.0,1868.1 404.2,1868.1 407.4,1868.0 410.7,1868.0 413.9,1868.0 417.1,1868.0 420.4,1868.1 423.6,1868.1 426.8,1868.1 430.1,1868.1 433.3,1868.1 436.5,1868.1 439.7,1868.2 443.0,1868.2 446.2,1868.2 449.4,1868.3 452.7,1868.3 455.9,1868.3 459.1,1868.4 462.4,1868.4 465.6,1868.5 468.8,1868.5 472.1,1868.6 475.3,1868.7 478.5,1868.7 481.8,1868.8 485.0,1868.9 488.2,1868.9 491.5,1869.0 494.7,1869.1 497.9,1869.2 501.2,1869.3 504.4,1869.3 507.6,1869.4 510.8,1869.5 514.1,1869.6 517.3,1869.7 520.5,1869.8 523.8,1869.9 527.0,1870.0 530.2,1870.2 533.5,1870.3 536.7,1870.4 539.9,1870.5 543.2,1870.6 546.4,1870.8 549.6,1870.9 552.9,1871.0 556.1,1871.2 559.3,1871.3 562.6,1871.4 565.8,1871.6 569.0,1871.7 572.3,1871.9 575.5,1872.0 578.7,1872.2 582.0,1872.3 585.2,1872.5 588.4,1872.7 591.6,1872.8 594.9,1873.0 598.1,1873.2 601.3,1873.3 604.6,1873.5 607.8,1873.7 611.0,1873.9 614.3,1874.0 617.5,1874.2 620.7,1874.4 624.0,1874.6 627.2,1874.8 630.4,1875.0 633.7,1875.2 636.9,1875.4 640.1,1875.6 643.4,1875.8 646.6,1876.0 649.8,1876.2 653.1,1876.4 656.3,1876.6 659.5,1876.8 662.7,1877.0 666.0,1877.2 669.2,1877.4 672.4,1877.6 675.7,1877.9 678.9,1878.1 682.1,1878.3 685.4,1878.5 688.6,1878.7 691.8,1879.0 695.1,1879.2 698.3,1879.4 701.5,1879.7 704.8,1879.9 708.0,1880.1 711.2,1880.3 714.5,1880.6 717.7,1880.8 720.9,1881.1 724.2,1881.3 727.4,1881.5 730.6,1881.8 733.8,1882.0 737.1,1882.2 740.3,1882.5 743.5,1882.7 746.8,1883.0 750.0,1883.2 753.2,1883.5 756.5,1883.7 759.7,1884.0 762.9,1884.2 766.2,1884.4 769.4,1884.7 772.6,1884.9 775.9,1885.2 779.1,1885.4 782.3,1885.7 785.6,1885.9 788.8,1886.2 792.0,1886.4 795.3,1886.7 798.5,1886.9 801.7,1887.2 805.0,1887.4 808.2,1887.7 811.4,1887.9 814.6,1888.2 817.9,1888.4 821.1,1888.7 824.3,1888.9 827.6,1889.2 830.8,1889.4 834.0,1889.7 837.3,1889.9 840.5,1890.2 843.7,1890.4 847.0,1890.6 850.2,1890.9 853.4,1891.1 856.7,1891.4 859.9,1891.6 863.1,1891.9 866.4,1892.1 869.6,1892.3 872.8,1892.6 876.1,1892.8 879.3,1893.1 882.5,1893.3 885.7,1893.5 889.0,1893.8 892.2,1894.0 895.4,1894.2 898.7,1894.5 901.9,1894.7 905.1,1894.9 908.4,1895.1 911.6,1895.4 914.8,1895.6 918.1,1895.8 921.3,1896.0 924.5,1896.3 927.8,1896.5 931.0,1896.7 934.2,1896.9 937.5,1897.1 940.7,1897.3 943.9,1897.5 947.2,1897.7 950.4,1898.0 953.6,1898.2 956.8,1898.4 960.1,1898.6 963.3,1898.8 966.5,1899.0 969.8,1899.1 973.0,1899.3 976.2,1899.5 979.5,1899.7 982.7,1899.9 985.9,1900.1 989.2,1900.3 992.4,1900.4 995.6,1900.6 998.9,1900.8 1002.1,1901.0 1005.3,1901.1 1008.6,1901.3 1011.8,1901.5 1015.0,1901.6 1018.3,1901.8 1021.5,1902.0 1024.7,1902.1 1028.0,1902.3 1031.2,1902.4 1034.4,1902.6 1037.6,1902.7 1040.9,1902.8 1044.1,1903.0 1047.3,1903.1 1050.6,1903.2 1053.8,1903.4 1057.0,1903.5 1060.3,1903.6 1063.5,1903.8 1066.7,1903.9 1070.0,1904.0 1073.2,1904.1 1076.4,1904.2 1079.7,1904.3 1082.9,1904.4 1086.1,1904.5 1089.4,1904.6 1092.6,1904.7 1095.8,1904.8 1099.1,1904.9 1102.3,1905.0 1105.5,1905.1 1108.7,1905.2 1112.0,1905.2 1115.2,1905.3 1118.4,1905.4 1121.7,1905.4 1124.9,1905.5 1128.1,1905.6 1131.4,1905.6 1134.6,1905.7 1137.8,1905.7 1141.1,1905.8 1144.3,1905.8 1147.5,1905.9 1150.8,1905.9 1154.0,1906.0 1157.2,1906.0 1160.5,1906.0 1163.7,1906.0 1166.9,1906.1 1170.2,1906.1 1173.4,1906.1 1176.6,1906.1 1179.8,1906.1 1183.1,1906.1 1186.3,1906.1 1189.5,1906.1 1192.8,1906.1 1196.0,1906.1 1199.2,1906.1 1202.5,1906.1 1205.7,1906.1 1208.9,1906.1 1212.2,1906.1 1215.4,1906.0 1218.6,1906.0 1221.9,1906.0 1225.1,1905.9 1228.3,1905.9 1231.6,1905.9 1234.8,1905.8 1238.0,1905.8 1241.3,1905.7 1244.5,1905.7 1247.7,1905.6 1250.9,1905.5 1254.2,1905.5 1257.4,1905.4 1260.6,1905.3 1263.9,1905.3 1267.1,1905.2 1270.3,1905.1 1273.6,1905.0 1276.8,1904.9 1280.0,1904.8 1283.3,1904.8 1286.5,1904.7 1289.7,1904.6 1293.0,1904.5 1296.2,1904.4 1299.4,1904.2 1302.7,1904.1 1305.9,1904.0 1309.1,1903.9 1312.4,1903.8 1315.6,1903.7 1318.8,1903.5 1322.1,1903.4 1325.3,1903.3 1328.5,1903.2 1331.7,1903.0 1335.0,1902.9 1338.2,1902.7 1341.4,1902.6 1344.7,1902.5 1347.9,1902.3 1351.1,1902.2 1354.4,1902.0 1357.6,1901.8 1360.8,1901.7 1364.1,1901.5 1367.3,1901.4 1370.5,1901.2 1373.8,1901.0 1377.0,1900.9 1380.2,1900.7 1383.5,1900.5 1386.7,1900.3 1389.9,1900.1 1393.2,1900.0 1396.4,1899.8 1399.6,1899.6 1402.8,1899.4 1406.1,1899.2 1409.3,1899.0 1412.5,1898.8 1415.8,1898.6 1419.0,1898.4 1422.2,1898.2 1425.5,1898.0 1428.7,1897.8 1431.9,1897.6 1435.2,1897.4 1438.4,1897.2 1441.6,1897.0 1444.9,1896.8 1448.1,1896.5 1451.3,1896.3 1454.6,1896.1 1457.8,1895.9 1461.0,1895.7 1464.3,1895.4 1467.5,1895.2 1470.7,1895.0 1473.9,1894.8 1477.2,1894.5 1480.4,1894.3 1483.6,1894.1 1486.9,1893.8 1490.1,1893.6 1493.3,1893.4 1496.6,1893.1 1499.8,1892.9 1503.0,1892.7 1506.3,1892.4 1509.5,1892.2 1512.7,1891.9 1516.0,1891.7 1519.2,1891.5 1522.4,1891.2 1525.7,1891.0 1528.9,1890.7 1532.1,1890.5 1535.4,1890.2 1538.6,1890.0 1541.8,1889.7 1545.0,1889.5 1548.3,1889.2 1551.5,1889.0 1554.7,1888.7 1558.0,1888.5 1561.2,1888.3 1564.4,1888.0 1567.7,1887.8 1570.9,1887.5 1574.1,1887.3 1577.4,1887.0 1580.6,1886.8 1583.8,1886.5 1587.1,1886.3 1590.3,1886.0 1593.5,1885.8 1596.8,1885.5 1600.0,1885.3 1603.2,1885.0 1606.5,1884.8 1609.7,1884.5 1612.9,1884.3 1616.2,1884.0 1619.4,1883.8 1622.6,1883.5 1625.8,1883.3 1629.1,1883.0 1632.3,1882.8 1635.5,1882.6 1638.8,1882.3 1642.0,1882.1 1645.2,1881.8 1648.5,1881.6 1651.7,1881.4 1654.9,1881.1 1658.2,1880.9 1661.4,1880.7 1664.6,1880.4 1667.9,1880.2 1671.1,1880.0 1674.3,1879.7 1677.6,1879.5 1680.8,1879.3 1684.0,1879.0 1687.3,1878.8 1690.5,1878.6 1693.7,1878.4 1696.9,1878.1 1700.2,1877.9 1703.4,1877.7 1706.6,1877.5 1709.9,1877.3 1713.1,1877.1 1716.3,1876.9 1719.6,1876.6 1722.8,1876.4 1726.0,1876.2 1729.3,1876.0 1732.5,1875.8 1735.7,1875.6 1739.0,1875.4 1742.2,1875.2 1745.4,1875.0 1748.7,1874.8 1751.9,1874.7 1755.1,1874.5 1758.4,1874.3 1761.6,1874.1 1764.8,1873.9 1768.0,1873.7 1771.3,1873.6 1774.5,1873.4 1777.7,1873.2 1781.0,1873.0 1784.2,1872.9 1787.4,1872.7 1790.7,1872.6 1793.9,1872.4 1797.1,1872.2 1800.4,1872.1 1803.6,1871.9" stroke="#00ffff"/>
<polyline points="252.3,1868.6 255.5,1868.6 258.8,1868.6 262.0,1868.5 265.2,1868.5 268.5,1868.5 271.7,1868.5 274.9,1868.5 278.2,1868.4 281.4,1868.4 284.6,1868.4 287.9,1868.4 291.1,1868.4 294.3,1868.4 297.5,1868.3 300.8,1868.3 304.0,1868.3 307.2,1868.3 310.5,1868.3 313.7,1868.3 316.9,1868.3 320.2,1868.2 323.4,1868.2 326.6,1868.2 329.9,1868.2 333.1,1868.2 336.3,1868.2 339.6,1868.2 342.8,1868.2 346.0,1868.2 349.3,1868.1 352.5,1868.1 355.7,1868.1 359.0,1868.1 362.2,1868.1 365.4,1868.1 368.6,1868.1 371.9,1868.1 375.1,1868.1 378.3,1868.1 381.6,1868.1 384.8,1868.1 388.0,1868.1 391.3,1868.1 394.5,1868.1 397.7,1868.1 401.0,1868.1 404.2,1868.1 407.4,1868.1 410.7,1868.1 413.9,1868.1 417.1,1868.1 420.4,1868.1 423.6,1868.1 426.8,1868.1 430.1,1868.1 433.3,1868.1 436.5,1868.1 439.7,1868.1 443.0,1868.1 446.2,1868.1 449.4,1868.1 452.7,1868.1 455.9,1868.1 459.1,1868.1 462.4,1868.1 465.6,1868.1 468.8,1868.1 472.1,1868.1 475.3,1868.1 478.5,1868.1 481.8,1868.2 485.0,1868.2 488.2,1868.2 491.5,1868.2 494.7,1868.2 497.9,1868.2 501.2,1868.2 504.4,1868.2 507.6,1868.2 510.8,1868.3 514.1,1868.3 517.3,1868.3 520.5,1868.3 523.8,1868.3 527.0,1868.3 530.2,1868.4 533.5,1868.4 536.7,1868.4 539.9,1868.4 543.2,1868.4 546.4,1868.4 549.6,1868.5 552.9,1868.5 556.1,1868.5 559.3,1868.5 562.6,1868.5 565.8,1868.5 569.0,1868.6 572.3,1868.6 575.5,1868.6 578.7,1868.6 582.0,1868.7 585.2,1868.7 588.4,1868.7 591.6,1868.7 594.9,1868.7 598.1,1868.8 601.3,1868.8 604.6,1868.8 607.8,1868.8 611.0,1868.9 614.3,1868.9 617.5,1868.9 620.7,1868.9 624.0,1869.0 627.2,1869.0 630.4,1869.0 633.7,1869.0 636.9,1869.1 640.1,1869.1 643.4,1869.1 646.6,1869.2 649.8,1869.2 653.1,1869.2 656.3,1869.2 659.5,1869.3 662.7,1869.3 666.0,1869.3 669.2,1869.4 672.4,1869.4 675.7,1869.4 678.9,1869.5 682.1,1869.5 685.4,1869.5 688.6,1869.5 691.8,1869.6 695.1,1869.6 698.3,1869.6 701.5,1869.7 704.8,1869.7 708.0,1869.7 711.2,1869.8 714.5,1869.8 717.7,1869.8 720.9,1869.9 724.2,1869.9 727.4,1869.9 730.6,1870.0 733.8,1870.0 737.1,1870.0 740.3,1870.1 743.5,1870.1 746.8,1870.1 750.0,1870.2 753.2,1870.2 756.5,1870.2 759.7,1870.3 762.9,1870.3 766.2,1870.3 769.4,1870.4 772.6,1870.4 775.9,1870.4 779.1,1870.5 782.3,1870.5 785.6,1870.6 788.8,1870.6 792.0,1870.6 795.3,1870.7 798.5,1870.7 801.7,1870.7 805.0,1870.8 808.2,1870.8 811.4,1870.8 814.6,1870.9 817.9,1870.9 821.1,1870.9 824.3,1871.0 827.6,1871.0 830.8,1871.0 834.0,1871.1 837.3,1871.1 840.5,1871.1 843.7,1871.2 847.0,1871.2 850.2,1871.2 853.4,1871.3 856.7,1871.3 859.9,1871.3 863.1,1871.4 866.4,1871.4 869.6,1871.4 872.8,1871.5 876.1,1871.5 879.3,1871.5 882.5,1871.6 885.7,1871.6 889.0,1871.6 892.2,1871.7 895.4,1871.7 898.7,1871.7 901.9,1871.8 905.1,1871.8 908.4,1871.8 911.6,1871.9 914.8,1871.9 918.1,1871.9 921.3,1872.0 924.5,1872.0 927.8,1872.0 931.0,1872.1 934.2,1872.1 937.5,1872.1 940.7,1872.1 943.9,1872.2 947.2,1872.2 950.4,1872.2 953.6,1872.3 956.8,1872.3 960.1,1872.3 963.3,1872.3 966.5,1872.4 969.8,1872.4 973.0,1872.4 976.2,1872.4 979.5,1872.5 982.7,1872.5 985.9,1872.5 989.2,1872.6 992.4,1872.6 995.6,1872.6 998.9,1872.6 1002.1,1872.6 1005.3,1872.7 1008.6,1872.7 1011.8,1872.7 1015.0,1872.7 1018.3,1872.8 1021.5,1872.8 1024.7,1872.8 1028.0,1872.8 1031.2,1872.9 1034.4,1872.9 1037.6,1872.9 1040.9,1872.9 1044.1,1872.9 1047.3,1872.9 1050.6,1873.0 1053.8,1873.0 1057.0,1873.0 1060.3,1873.0 1063.5,1873.0 1066.7,1873.1 1070.0,1873.1 1073.2,1873.1 1076.4,1873.1 1079.7,1873.1 1082.9,1873.1 1086.1,1873.1 1089.4,1873.2 1092.6,1873.2 1095.8,1873.2 1099.1,1873.2 1102.3,1873.2 1105.5,1873.2 1108.7,1873.2 1112.0,1873.2 1115.2,1873.3 1118.4,1873.3 1121.7,1873.3 1124.9,1873.3 1128.1,1873.3 1131.4,1873.3 1134.6,1873.3 1137.8,1873.3 1141.1,1873.3 1144.3,1873.3 1147.5,1873.3 1150.8,1873.3 1154.0,1873.3 1157.2,1873.4 1160.5,1873.4 1163.7,1873.4 1166.9,1873.4 1170.2,1873.4 1173.4,1873.4 1176.6,1873.4 1179.8,1873.4 1183.1,1873.4 1186.3,1873.4 1189.5,1873.4 1192.8,1873.4 1196.0,1873.4 1199.2,1873.4 1202.5,1873.4 1205.7,1873.4 1208.9,1873.4 1212.2,1873.4 1215.4,1873.4 1218.6,1873.4 1221.9,1873.3 1225.1,1873.3 1228.3,1873.3 1231.6,1873.3 1234.8,1873.3 1238.0,1873.3 1241.3,1873.3 1244.5,1873.3 1247.7,1873.3 1250.9,1873.3 1254.2,1873.3 1257.4,1873.3 1260.6,1873.3 1263.9,1873.2 1267.1,1873.2 1270.3,1873.2 1273.6,1873.2 1276.8,1873.2 1280.0,1873.2 1283.3,1873.2 1286.5,1873.2 1289.7,1873.2 1293.0,1873.1 1296.2,1873.1 1299.4,1873.1 1302.7,1873.1 1305.9,1873.1 1309.1,1873.1 1312.4,1873.0 1315.6,1873.0 1318.8,1873.0 1322.1,1873.0 1325.3,1873.0 1328.5,1873.0 1331.7,1872.9 1335.0,1872.9 1338.2,1872.9 1341.4,1872.9 1344.7,1872.9 1347.9,1872.8 1351.1,1872.8 1354.4,1872.8 1357.6,1872.8 1360.8,1872.7 1364.1,1872.7 1367.3,1872.7 1370.5,1872.7 1373.8,1872.7 1377.0,1872.6 1380.2,1872.6 1383.5,1872.6 1386.7,1872.6 1389.9,1872.5 1393.2,1872.5 1396.4,1872.5 1399.6,1872.5 1402.8,1872.4 1406.1,1872.4 1409.3,1872.4 1412.5,1872.3 1415.8,1872.3 1419.0,1872.3 1422.2,1872.3 1425.5,1872.2 1428.7,1872.2 1431.9,1872.2 1435.2,1872.2 1438.4,1872.1 1441.6,1872.1 1444.9,1872.1 1448.1,1872.0 1451.3,1872.0 1454.6,1872.0 1457.8,1871.9 1461.0,1871.9 1464.3,1871.9 1467.5,1871.8 1470.7,1871.8 1473.9,1871.8 1477.2,1871.8 1480.4,1871.7 1483.6,1871.7 1486.9,1871.7 1490.1,1871.6 1493.3,1871.6 1496.6,1871.6 1499.8,1871.5 1503.0,1871.5 1506.3,1871.5 1509.5,1871.4 1512.7,1871.4 1516.0,1871.4 1519.2,1871.3 1522.4,1871.3 1525.7,1871.3 1528.9,1871.2 1532.1,1871.2 1535.4,1871.2 1538.6,1871.1 1541.8,1871.1 1545.0,1871.0 1548.3,1871.0 1551.5,1871.0 1554.7,1870.9 1558.0,1870.9 1561.2,1870.9 1564.4,1870.8 1567.7,1870.8 1570.9,1870.8 1574.1,1870.7 1577.4,1870.7 1580.6,1870.7 1583.8,1870.6 1587.1,1870.6 1590.3,1870.6 1593.5,1870.5 1596.8,1870.5 1600.0,1870.5 1603.2,1870.4 1606.5,1870.4 1609.7,1870.4 1612.9,1870.3 1616.2,1870.3 1619.4,1870.3 1622.6,1870.2 1625.8,1870.2 1629.1,1870.1 1632.3,1870.1 1635.5,1870.1 1638.8,1870.0 1642.0,1870.0 1645.2,1870.0 1648.5,1869.9 1651.7,1869.9 1654.9,1869.9 1658.2,1869.8 1661.4,1869.8 1664.6,1869.8 1667.9,1869.7 1671.1,1869.7 1674.3,1869.7 1677.6,1869.7 1680.8,1869.6 1684.0,1869.6 1687.3,1869.6 1690.5,1869.5 1693.7,1869.5 1696.9,1869.5 1700.2,1869.4 1703.4,1869.4 1706.6,1869.4 1709.9,1869.3 1713.1,1869.3 1716.3,1869.3 1719.6,1869.3 1722.8,1869.2 1726.0,1869.2 1729.3,1869.2 1732.5,1869.1 1735.7,1869.1 1739.0,1869.1 1742.2,1869.1 1745.4,1869.0 1748.7,1869.0 1751.9,1869.0 1755.1,1869.0 1758.4,1868.9 1761.6,1868.9 1764.8,1868.9 1768.0,1868.8 1771.3,1868.8 1774.5,1868.8 1777.7,1868.8 1781.0,1868.8 1784.2,1868.7 1787.4,1868.7 1790.7,1868.7 1793.9,1868.7 1797.1,1868.6 1800.4,1868.6 1803.6,1868.6" stroke="#00ff92"/>
<polyline points="252.3,1865.9 255.5,1866.0 258.8,1866.1 262.0,1866.1 265.2,1866.2 268.5,1866.3 271.7,1866.4 274.9,1866.4 278.2,1866.5 281.4,1866.6 284.6,1866.7 287.9,1866.7 291.1,1866.8 294.3,1866.9 297.5,1866.9 300.8,1867.0 304.0,1867.0 307.2,1867.1 310.5,1867.2 313.7,1867.2 316.9,1867.3 320.2,1867.3 323.4,1867.4 326.6,1867.4 329.9,1867.5 333.1,1867.5 336.3,1867.6 339.6,1867.6 342.8,1867.6 346.0,1867.7 349.3,1867.7 352.5,1867.7 355.7,1867.8 359.0,1867.8 362.2,1867.8 365.4,1867.9 368.6,1867.9 371.9,1867.9 375.1,1867.9 378.3,1868.0 381.6,1868.0 384.8,1868.0 388.0,1868.0 391.3,1868.0 394.5,1868.0 397.7,1868.0 401.0,1868.1 404.2,1868.1 407.4,1868.1 410.7,1868.1 413.9,1868.1 417.1,1868.1 420.4,1868.1 423.6,1868.1 426.8,1868.0 430.1,1868.0 433.3,1868.0 436.5,1868.0 439.7,1868.0 443.0,1868.0 446.2,1868.0 449.4,1867.9 452.7,1867.9 455.9,1867.9 459.1,1867.9 462.4,1867.9 465.6,1867.8 468.8,1867.8 472.1,1867.8 475.3,1867.7 478.5,1867.7 481.8,1867.7 485.0,1867.6 488.2,1867.6 491.5,1867.5 494.7,1867.5 497.9,1867.4 501.2,1867.4 504.4,1867.3 507.6,1867.3 510.8,1867.2 514.1,1867.2 517.3,1867.1 520.5,1867.1 523.8,1867.0 527.0,1866.9 530.2,1866.9 533.5,1866.8 536.7,1866.8 539.9,1866.7 543.2,1866.6 546.4,1866.5 549.6,1866.5 552.9,1866.4 556.1,1866.3 559.3,1866.2 562.6,1866.2 565.8,1866.1 569.0,1866.0 572.3,1865.9 575.5,1865.8 578.7,1865.7 582.0,1865.7 585.2,1865.6 588.4,1865.5 591.6,1865.4 594.9,1865.3 598.1,1865.2 601.3,1865.1 604.6,1865.0 607.8,1864.9 611.0,1864.8 614.3,1864.7 617.5,1864.6 620.7,1864.5 624.0,1864.4 627.2,1864.3 630.4,1864.2 633.7,1864.1 636.9,1864.0 640.1,1863.9 643.4,1863.7 646.6,1863.6 649.8,1863.5 653.1,1863.4 656.3,1863.3 659.5,1863.2 662.7,1863.1 666.0,1862.9 669.2,1862.8 672.4,1862.7 675.7,1862.6 678.9,1862.5 682.1,1862.3 685.4,1862.2 688.6,1862.1 691.8,1862.0 695.1,1861.8 698.3,1861.7 701.5,1861.6 704.8,1861.4 708.0,1861.3 711.2,1861.2 714.5,1861.1 717.7,1860.9 720.9,1860.8 724.2,1860.7 727.4,1860.5 730.6,1860.4 733.8,1860.3 737.1,1860.1 740.3,1860.0 743.5,1859.8 746.8,1859.7 750.0,1859.6 753.2,1859.4 756.5,1859.3 759.7,1859.2 762.9,1859.0 766.2,1858.9 769.4,1858.8 772.6,1858.6 775.9,1858.5 779.1,1858.3 782.3,1858.2 785.6,1858.1 788.8,1857.9 792.0,1857.8 795.3,1857.6 798.5,1857.5 801.7,1857.4 805.0,1857.2 808.2,1857.1 811.4,1856.9 814.6,1856.8 817.9,1856.7 821.1,1856.5 824.3,1856.4 827.6,1856.2 830.8,1856.1 834.0,1856.0 837.3,1855.8 840.5,1855.7 843.7,1855.6 847.0,1855.4 850.2,1855.3 853.4,1855.1 856.7,1855.0 859.9,1854.9 863.1,1854.7 866.4,1854.6 869.6,1854.5 872.8,1854.3 876.1,1854.2 879.3,1854.1 882.5,1853.9 885.7,1853.8 889.0,1853.7 892.2,1853.5 895.4,1853.4 898.7,1853.3 901.9,1853.2 905.1,1853.0 908.4,1852.9 911.6,1852.8 914.8,1852.7 918.1,1852.5 921.3,1852.4 924.5,1852.3 927.8,1852.2 931.0,1852.0 934.2,1851.9 937.5,1851.8 940.7,1851.7 943.9,1851.6 947.2,1851.4 950.4,1851.3 953.6,1851.2 956.8,1851.1 960.1,1851.0 963.3,1850.9 966.5,1850.8 969.8,1850.7 973.0,1850.6 976.2,1850.5 979.5,1850.3 982.7,1850.2 985.9,1850.1 989.2,1850.0 992.4,1849.9 995.6,1849.8 998.9,1849.7 1002.1,1849.6 1005.3,1849.6 1008.6,1849.5 1011.8,1849.4 1015.0,1849.3 1018.3,1849.2 1021.5,1849.1 1024.7,1849.0 1028.0,1848.9 1031.2,1848.8 1034.4,1848.8 1037.6,1848.7 1040.9,1848.6 1044.1,1848.5 1047.3,1848.4 1050.6,1848.4 1053.8,1848.3 1057.0,1848.2 1060.3,1848.2 1063.5,1848.1 1066.7,1848.0 1070.0,1848.0 1073.2,1847.9 1076.4,1847.8 1079.7,1847.8 1082.9,1847.7 1086.1,1847.7 1089.4,1847.6 1092.6,1847.5 1095.8,1847.5 1099.1,1847.4 1102.3,1847.4 1105.5,1847.3 1108.7,1847.3 1112.0,1847.3 1115.2,1847.2 1118.4,1847.2 1121.7,1847.1 1124.9,1847.1 1128.1,1847.1 1131.4,1847.0 1134.6,1847.0 1137.8,1847.0 1141.1,1846.9 1144.3,1846.9 1147.5,1846.9 1150.8,1846.9 1154.0,1846.9 1157.2,1846.8 1160.5,1846.8 1163.7,1846.8 1166.9,1846.8 1170.2,1846.8 1173.4,1846.8 1176.6,1846.8 1179.8,1846.8 1183.1,1846.8 1186.3,1846.8 1189.5,1846.8 1192.8,1846.8 1196.0,1846.8 1199.2,1846.8 1202.5,1846.8 1205.7,1846.8 1208.9,1846.8 1212.2,1846.8 1215.4,1846.8 1218.6,1846.8 1221.9,1846.9 1225.1,1846.9 1228.3,1846.9 1231.6,1846.9 1234.8,1846.9 1238.0,1847.0 1241.3,1847.0 1244.5,1847.0 1247.7,1847.1 1250.9,1847.1 1254.2,1847.1 1257.4,1847.2 1260.6,1847.2 1263.9,1847.2 1267.1,1847.3 1270.3,1847.3 1273.6,1847.4 1276.8,1847.4 1280.0,1847.5 1283.3,1847.5 1286.5,1847.6 1289.7,1847.6 1293.0,1847.7 1296.2,1847.8 1299.4,1847.8 1302.7,1847.9 1305.9,1847.9 1309.1,1848.0 1312.4,1848.1 1315.6,1848.1 1318.8,1848.2 1322.1,1848.3 1325.3,1848.3 1328.5,1848.4 1331.7,1848.5 1335.0,1848.6 1338.2,1848.7 1341.4,1848.7 1344.7,1848.8 1347.9,1848.9 1351.1,1849.0 1354.4,1849.1 1357.6,1849.2 1360.8,1849.2 1364.1,1849.3 1367.3,1849.4 1370.5,1849.5 1373.8,1849.6 1377.0,1849.7 1380.2,1849.8 1383.5,1849.9 1386.7,1850.0 1389.9,1850.1 1393.2,1850.2 1396.4,1850.3 1399.6,1850.4 1402.8,1850.5 1406.1,1850.6 1409.3,1850.7 1412.5,1850.9 1415.8,1851.0 1419.0,1851.1 1422.2,1851.2 1425.5,1851.3 1428.7,1851.4 1431.9,1851.5 1435.2,1851.6 1438.4,1851.8 1441.6,1851.9 1444.9,1852.0 1448.1,1852.1 1451.3,1852.2 1454.6,1852.4 1457.8,1852.5 1461.0,1852.6 1464.3,1852.7 1467.5,1852.9 1470.7,1853.0 1473.9,1853.1 1477.2,1853.2 1480.4,1853.4 1483.6,1853.5 1486.9,1853.6 1490.1,1853.8 1493.3,1853.9 1496.6,1854.0 1499.8,1854.2 1503.0,1854.3 1506.3,1854.4 1509.5,1854.6 1512.7,1854.7 1516.0,1854.8 1519.2,1855.0 1522.4,1855.1 1525.7,1855.2 1528.9,1855.4 1532.1,1855.5 1535.4,1855.7 1538.6,1855.8 1541.8,1855.9 1545.0,1856.1 1548.3,1856.2 1551.5,1856.3 1554.7,1856.5 1558.0,1856.6 1561.2,1856.8 1564.4,1856.9 1567.7,1857.0 1570.9,1857.2 1574.1,1857.3 1577.4,1857.5 1580.6,1857.6 1583.8,1857.7 1587.1,1857.9 1590.3,1858.0 1593.5,1858.2 1596.8,1858.3 1600.0,1858.4 1603.2,1858.6 1606.5,1858.7 1609.7,1858.8 1612.9,1859.0 1616.2,1859.1 1619.4,1859.3 1622.6,1859.4 1625.8,1859.5 1629.1,1859.7 1632.3,1859.8 1635.5,1859.9 1638.8,1860.1 1642.0,1860.2 1645.2,1860.3 1648.5,1860.5 1651.7,1860.6 1654.9,1860.7 1658.2,1860.9 1661.4,1861.0 1664.6,1861.1 1667.9,1861.3 1671.1,1861.4 1674.3,1861.5 1677.6,1861.7 1680.8,1861.8 1684.0,1861.9 1687.3,1862.0 1690.5,1862.2 1693.7,1862.3 1696.9,1862.4 1700.2,1862.5 1703.4,1862.7 1706.6,1862.8 1709.9,1862.9 1713.1,1863.0 1716.3,1863.1 1719.6,1863.3 1722.8,1863.4 1726.0,1863.5 1729.3,1863.6 1732.5,1863.7 1735.7,1863.8 1739.0,1863.9 1742.2,1864.0 1745.4,1864.2 1748.7,1864.3 1751.9,1864.4 1755.1,1864.5 1758.4,1864.6 1761.6,1864.7 1764.8,1864.8 1768.0,1864.9 1771.3,1865.0 1774.5,1865.1 1777.7,1865.2 1781.0,1865.3 1784.2,1865.4 1787.4,1865.5 1790.7,1865.5 1793.9,1865.6 1797.1,1865.7 1800.4,1865.8 1803.6,1865.9" stroke="#00ff24"/>
<polyline points="252.3,1863.6 255.5,1863.8 258.8,1864.0 262.0,1864.1 265.2,1864.3 268.5,1864.4 271.7,1864.6 274.9,1864.8 278.2,1864.9 281.4,1865.1 284.6,1865.2 287.9,1865.3 291.1,1865.5 294.3,1865.6 297.5,1865.7 300.8,1865.9 304.0,1866.0 307.2,1866.1 310.5,1866.2 313.7,1866.3 316.9,1866.4 320.2,1866.6 323.4,1866.7 326.6,1866.8 329.9,1866.9 333.1,1866.9 336.3,1867.0 339.6,1867.1 342.8,1867.2 346.0,1867.3 349.3,1867.4 352.5,1867.4 355.7,1867.5 359.0,1867.6 362.2,1867.6 365.4,1867.7 368.6,1867.7 371.9,1867.8 375.1,1867.8 378.3,1867.9 381.6,1867.9 384.8,1867.9 388.0,1868.0 391.3,1868.0 394.5,1868.0 397.7,1868.0 401.0,1868.0 404.2,1868.1 407.4,1868.1 410.7,1868.1 413.9,1868.1 417.1,1868.1 420.4,1868.1 423.6,1868.1 426.8,1868.0 430.1,1868.0 433.3,1868.0 436.5,1868.0 439.7,1867.9 443.0,1867.9 446.2,1867.9 449.4,1867.8 452.7,1867.8 455.9,1867.7 459.1,1867.7 462.4,1867.6 465.6,1867.6 468.8,1867.5 472.1,1867.4 475.3,1867.4 478.5,1867.3 481.8,1867.2 485.0,1867.1 488.2,1867.1 491.5,1867.0 494.7,1866.9 497.9,1866.8 501.2,1866.7 504.4,1866.6 507.6,1866.5 510.8,1866.4 514.1,1866.3 517.3,1866.1 520.5,1866.0 523.8,1865.9 527.0,1865.8 530.2,1865.6 533.5,1865.5 536.7,1865.4 539.9,1865.2 543.2,1865.1 546.4,1865.0 549.6,1864.8 552.9,1864.7 556.1,1864.5 559.3,1864.3 562.6,1864.2 565.8,1864.0 569.0,1863.8 572.3,1863.7 575.5,1863.5 578.7,1863.3 582.0,1863.1 585.2,1863.0 588.4,1862.8 591.6,1862.6 594.9,1862.4 598.1,1862.2 601.3,1862.0 604.6,1861.8 607.8,1861.6 611.0,1861.4 614.3,1861.2 617.5,1861.0 620.7,1860.8 624.0,1860.6 627.2,1860.3 630.4,1860.1 633.7,1859.9 636.9,1859.7 640.1,1859.5 643.4,1859.2 646.6,1859.0 649.8,1858.8 653.1,1858.5 656.3,1858.3 659.5,1858.0 662.7,1857.8 666.0,1857.6 669.2,1857.3 672.4,1857.1 675.7,1856.8 678.9,1856.6 682.1,1856.3 685.4,1856.1 688.6,1855.8 691.8,1855.6 695.1,1855.3 698.3,1855.0 701.5,1854.8 704.8,1854.5 708.0,1854.2 711.2,1854.0 714.5,1853.7 717.7,1853.4 720.9,1853.2 724.2,1852.9 727.4,1852.6 730.6,1852.3 733.8,1852.1 737.1,1851.8 740.3,1851.5 743.5,1851.2 746.8,1851.0 750.0,1850.7 753.2,1850.4 756.5,1850.1 759.7,1849.8 762.9,1849.6 766.2,1849.3 769.4,1849.0 772.6,1848.7 775.9,1848.4 779.1,1848.1 782.3,1847.9 785.6,1847.6 788.8,1847.3 792.0,1847.0 795.3,1846.7 798.5,1846.4 801.7,1846.1 805.0,1845.9 808.2,1845.6 811.4,1845.3 814.6,1845.0 817.9,1844.7 821.1,1844.4 824.3,1844.1 827.6,1843.9 830.8,1843.6 834.0,1843.3 837.3,1843.0 840.5,1842.7 843.7,1842.4 847.0,1842.2 850.2,1841.9 853.4,1841.6 856.7,1841.3 859.9,1841.1 863.1,1840.8 866.4,1840.5 869.6,1840.2 872.8,1839.9 876.1,1839.7 879.3,1839.4 882.5,1839.1 885.7,1838.9 889.0,1838.6 892.2,1838.3 895.4,1838.1 898.7,1837.8 901.9,1837.5 905.1,1837.3 908.4,1837.0 911.6,1836.8 914.8,1836.5 918.1,1836.2 921.3,1836.0 924.5,1835.7 927.8,1835.5 931.0,1835.2 934.2,1835.0 937.5,1834.8 940.7,1834.5 943.9,1834.3 947.2,1834.0 950.4,1833.8 953.6,1833.6 956.8,1833.3 960.1,1833.1 963.3,1832.9 966.5,1832.7 969.8,1832.4 973.0,1832.2 976.2,1832.0 979.5,1831.8 982.7,1831.6 985.9,1831.4 989.2,1831.1 992.4,1830.9 995.6,1830.7 998.9,1830.5 1002.1,1830.3 1005.3,1830.1 1008.6,1830.0 1011.8,1829.8 1015.0,1829.6 1018.3,1829.4 1021.5,1829.2 1024.7,1829.0 1028.0,1828.9 1031.2,1828.7 1034.4,1828.5 1037.6,1828.4 1040.9,1828.2 1044.1,1828.0 1047.3,1827.9 1050.6,1827.7 1053.8,1827.6 1057.0,1827.4 1060.3,1827.3 1063.5,1827.2 1066.7,1827.0 1070.0,1826.9 1073.2,1826.7 1076.4,1826.6 1079.7,1826.5 1082.9,1826.4 1086.1,1826.3 1089.4,1826.1 1092.6,1826.0 1095.8,1825.9 1099.1,1825.8 1102.3,1825.7 1105.5,1825.6 1108.7,1825.5 1112.0,1825.5 1115.2,1825.4 1118.4,1825.3 1121.7,1825.2 1124.9,1825.1 1128.1,1825.1 1131.4,1825.0 1134.6,1824.9 1137.8,1824.9 1141.1,1824.8 1144.3,1824.8 1147.5,1824.7 1150.8,1824.7 1154.0,1824.6 1157.2,1824.6 1160.5,1824.6 1163.7,1824.5 1166.9,1824.5 1170.2,1824.5 1173.4,1824.5 1176.6,1824.4 1179.8,1824.4 1183.1,1824.4 1186.3,1824.4 1189.5,1824.4 1192.8,1824.4 1196.0,1824.4 1199.2,1824.4 1202.5,1824.5 1205.7,1824.5 1208.9,1824.5 1212.2,1824.5 1215.4,1824.5 1218.6,1824.6 1221.9,1824.6 1225.1,1824.7 1228.3,1824.7 1231.6,1824.7 1234.8,1824.8 1238.0,1824.9 1241.3,1824.9 1244.5,1825.0 1247.7,1825.0 1250.9,1825.1 1254.2,1825.2 1257.4,1825.3 1260.6,1825.3 1263.9,1825.4 1267.1,1825.5 1270.3,1825.6 1273.6,1825.7 1276.8,1825.8 1280.0,1825.9 1283.3,1826.0 1286.5,1826.1 1289.7,1826.2 1293.0,1826.3 1296.2,1826.5 1299.4,1826.6 1302.7,1826.7 1305.9,1826.8 1309.1,1827.0 1312.4,1827.1 1315.6,1827.2 1318.8,1827.4 1322.1,1827.5 1325.3,1827.7 1328.5,1827.8 1331.7,1828.0 1335.0,1828.1 1338.2,1828.3 1341.4,1828.5 1344.7,1828.6 1347.9,1828.8 1351.1,1829.0 1354.4,1829.2 1357.6,1829.3 1360.8,1829.5 1364.1,1829.7 1367.3,1829.9 1370.5,1830.1 1373.8,1830.3 1377.0,1830.5 1380.2,1830.7 1383.5,1830.9 1386.7,1831.1 1389.9,1831.3 1393.2,1831.5 1396.4,1831.7 1399.6,1831.9 1402.8,1832.1 1406.1,1832.4 1409.3,1832.6 1412.5,1832.8 1415.8,1833.0 1419.0,1833.3 1422.2,1833.5 1425.5,1833.7 1428.7,1834.0 1431.9,1834.2 1435.2,1834.4 1438.4,1834.7 1441.6,1834.9 1444.9,1835.2 1448.1,1835.4 1451.3,1835.7 1454.6,1835.9 1457.8,1836.2 1461.0,1836.4 1464.3,1836.7 1467.5,1836.9 1470.7,1837.2 1473.9,1837.5 1477.2,1837.7 1480.4,1838.0 1483.6,1838.2 1486.9,1838.5 1490.1,1838.8 1493.3,1839.1 1496.6,1839.3 1499.8,1839.6 1503.0,1839.9 1506.3,1840.1 1509.5,1840.4 1512.7,1840.7 1516.0,1841.0 1519.2,1841.2 1522.4,1841.5 1525.7,1841.8 1528.9,1842.1 1532.1,1842.4 1535.4,1842.6 1538.6,1842.9 1541.8,1843.2 1545.0,1843.5 1548.3,1843.8 1551.5,1844.1 1554.7,1844.3 1558.0,1844.6 1561.2,1844.9 1564.4,1845.2 1567.7,1845.5 1570.9,1845.8 1574.1,1846.1 1577.4,1846.3 1580.6,1846.6 1583.8,1846.9 1587.1,1847.2 1590.3,1847.5 1593.5,1847.8 1596.8,1848.1 1600.0,1848.3 1603.2,1848.6 1606.5,1848.9 1609.7,1849.2 1612.9,1849.5 1616.2,1849.8 1619.4,1850.0 1622.6,1850.3 1625.8,1850.6 1629.1,1850.9 1632.3,1851.2 1635.5,1851.4 1638.8,1851.7 1642.0,1852.0 1645.2,1852.3 1648.5,1852.5 1651.7,1852.8 1654.9,1853.1 1658.2,1853.4 1661.4,1853.6 1664.6,1853.9 1667.9,1854.2 1671.1,1854.4 1674.3,1854.7 1677.6,1855.0 1680.8,1855.2 1684.0,1855.5 1687.3,1855.7 1690.5,1856.0 1693.7,1856.2 1696.9,1856.5 1700.2,1856.7 1703.4,1857.0 1706.6,1857.2 1709.9,1857.5 1713.1,1857.7 1716.3,1858.0 1719.6,1858.2 1722.8,1858.5 1726.0,1858.7 1729.3,1858.9 1732.5,1859.2 1735.7,1859.4 1739.0,1859.6 1742.2,1859.8 1745.4,1860.1 1748.7,1860.3 1751.9,1860.5 1755.1,1860.7 1758.4,1860.9 1761.6,1861.1 1764.8,1861.3 1768.0,1861.5 1771.3,1861.7 1774.5,1861.9 1777.7,1862.1 1781.0,1862.3 1784.2,1862.5 1787.4,1862.7 1790.7,1862.9 1793.9,1863.1 1797.1,1863.3 1800.4,1863.4 1803.6,1863.6" stroke="#49ff00"/>
<polyline points="252.3,1861.7 255.5,1861.9 258.8,1862.1 262.0,1862.4 265.2,1862.6 268.5,1862.9 271.7,1863.1 274.9,1863.3 278.2,1863.5 281.4,1863.7 284.6,1863.9 287.9,1864.1 291.1,1864.3 294.3,1864.5 297.5,1864.7 300.8,1864.9 304.0,1865.1 307.2,1865.2 310.5,1865.4 313.7,1865.6 316.9,1865.7 320.2,1865.9 323.4,1866.0 326.6,1866.2 329.9,1866.3 333.1,1866.5 336.3,1866.6 339.6,1866.7 342.8,1866.8 346.0,1866.9 349.3,1867.0 352.5,1867.1 355.7,1867.2 359.0,1867.3 362.2,1867.4 365.4,1867.5 368.6,1867.6 371.9,1867.6 375.1,1867.7 378.3,1867.8 381.6,1867.8 384.8,1867.9 388.0,1867.9 391.3,1868.0 394.5,1868.0 397.7,1868.0 401.0,1868.0 404.2,1868.1 407.4,1868.1 410.7,1868.1 413.9,1868.1 417.1,1868.1 420.4,1868.1 423.6,1868.0 426.8,1868.0 430.1,1868.0 433.3,1868.0 436.5,1867.9 439.7,1867.9 443.0,1867.8 446.2,1867.8 449.4,1867.7 452.7,1867.7 455.9,1867.6 459.1,1867.5 462.4,1867.4 465.6,1867.4 468.8,1867.3 472.1,1867.2 475.3,1867.1 478.5,1867.0 481.8,1866.9 485.0,1866.7 488.2,1866.6 491.5,1866.5 494.7,1866.4 497.9,1866.2 501.2,1866.1 504.4,1865.9 507.6,1865.8 510.8,1865.6 514.1,1865.5 517.3,1865.3 520.5,1865.1 523.8,1864.9 527.0,1864.8 530.2,1864.6 533.5,1864.4 536.7,1864.2 539.9,1864.0 543.2,1863.8 546.4,1863.6 549.6,1863.4 552.9,1863.1 556.1,1862.9 559.3,1862.7 562.6,1862.5 565.8,1862.2 569.0,1862.0 572.3,1861.7 575.5,1861.5 578.7,1861.2 582.0,1861.0 585.2,1860.7 588.4,1860.4 591.6,1860.2 594.9,1859.9 598.1,1859.6 601.3,1859.3 604.6,1859.0 607.8,1858.8 611.0,1858.5 614.3,1858.2 617.5,1857.9 620.7,1857.6 624.0,1857.2 627.2,1856.9 630.4,1856.6 633.7,1856.3 636.9,1856.0 640.1,1855.6 643.4,1855.3 646.6,1855.0 649.8,1854.6 653.1,1854.3 656.3,1854.0 659.5,1853.6 662.7,1853.3 666.0,1852.9 669.2,1852.6 672.4,1852.2 675.7,1851.9 678.9,1851.5 682.1,1851.1 685.4,1850.8 688.6,1850.4 691.8,1850.0 695.1,1849.6 698.3,1849.3 701.5,1848.9 704.8,1848.5 708.0,1848.1 711.2,1847.7 714.5,1847.4 717.7,1847.0 720.9,1846.6 724.2,1846.2 727.4,1845.8 730.6,1845.4 733.8,1845.0 737.1,1844.6 740.3,1844.2 743.5,1843.8 746.8,1843.4 750.0,1843.0 753.2,1842.6 756.5,1842.2 759.7,1841.8 762.9,1841.4 766.2,1841.0 769.4,1840.6 772.6,1840.1 775.9,1839.7 779.1,1839.3 782.3,1838.9 785.6,1838.5 788.8,1838.1 792.0,1837.7 795.3,1837.3 798.5,1836.9 801.7,1836.4 805.0,1836.0 808.2,1835.6 811.4,1835.2 814.6,1834.8 817.9,1834.4 821.1,1834.0 824.3,1833.6 827.6,1833.2 830.8,1832.7 834.0,1832.3 837.3,1831.9 840.5,1831.5 843.7,1831.1 847.0,1830.7 850.2,1830.3 853.4,1829.9 856.7,1829.5 859.9,1829.1 863.1,1828.7 866.4,1828.3 869.6,1827.9 872.8,1827.5 876.1,1827.1 879.3,1826.7 882.5,1826.3 885.7,1825.9 889.0,1825.6 892.2,1825.2 895.4,1824.8 898.7,1824.4 901.9,1824.0 905.1,1823.6 908.4,1823.3 911.6,1822.9 914.8,1822.5 918.1,1822.2 921.3,1821.8 924.5,1821.4 927.8,1821.1 931.0,1820.7 934.2,1820.4 937.5,1820.0 940.7,1819.7 943.9,1819.3 947.2,1819.0 950.4,1818.6 953.6,1818.3 956.8,1818.0 960.1,1817.6 963.3,1817.3 966.5,1817.0 969.8,1816.7 973.0,1816.3 976.2,1816.0 979.5,1815.7 982.7,1815.4 985.9,1815.1 989.2,1814.8 992.4,1814.5 995.6,1814.2 998.9,1813.9 1002.1,1813.6 1005.3,1813.4 1008.6,1813.1 1011.8,1812.8 1015.0,1812.5 1018.3,1812.3 1021.5,1812.0 1024.7,1811.8 1028.0,1811.5 1031.2,1811.3 1034.4,1811.0 1037.6,1810.8 1040.9,1810.6 1044.1,1810.3 1047.3,1810.1 1050.6,1809.9 1053.8,1809.7 1057.0,1809.4 1060.3,1809.2 1063.5,1809.0 1066.7,1808.8 1070.0,1808.7 1073.2,1808.5 1076.4,1808.3 1079.7,1808.1 1082.9,1807.9 1086.1,1807.8 1089.4,1807.6 1092.6,1807.4 1095.8,1807.3 1099.1,1807.1 1102.3,1807.0 1105.5,1806.9 1108.7,1806.7 1112.0,1806.6 1115.2,1806.5 1118.4,1806.4 1121.7,1806.2 1124.9,1806.1 1128.1,1806.0 1131.4,1805.9 1134.6,1805.8 1137.8,1805.8 1141.1,1805.7 1144.3,1805.6 1147.5,1805.5 1150.8,1805.5 1154.0,1805.4 1157.2,1805.3 1160.5,1805.3 1163.7,1805.3 1166.9,1805.2 1170.2,1805.2 1173.4,1805.2 1176.6,1805.1 1179.8,1805.1 1183.1,1805.1 1186.3,1805.1 1189.5,1805.1 1192.8,1805.1 1196.0,1805.1 1199.2,1805.1 1202.5,1805.1 1205.7,1805.2 1208.9,1805.2 1212.2,1805.2 1215.4,1805.3 1218.6,1805.3 1221.9,1805.4 1225.1,1805.4 1228.3,1805.5 1231.6,1805.6 1234.8,1805.6 1238.0,1805.7 1241.3,1805.8 1244.5,1805.9 1247.7,1806.0 1250.9,1806.1 1254.2,1806.2 1257.4,1806.3 1260.6,1806.4 1263.9,1806.6 1267.1,1806.7 1270.3,1806.8 1273.6,1806.9 1276.8,1807.1 1280.0,1807.2 1283.3,1807.4 1286.5,1807.5 1289.7,1807.7 1293.0,1807.9 1296.2,1808.0 1299.4,1808.2 1302.7,1808.4 1305.9,1808.6 1309.1,1808.8 1312.4,1809.0 1315.6,1809.2 1318.8,1809.4 1322.1,1809.6 1325.3,1809.8 1328.5,1810.0 1331.7,1810.3 1335.0,1810.5 1338.2,1810.7 1341.4,1811.0 1344.7,1811.2 1347.9,1811.4 1351.1,1811.7 1354.4,1811.9 1357.6,1812.2 1360.8,1812.5 1364.1,1812.7 1367.3,1813.0 1370.5,1813.3 1373.8,1813.6 1377.0,1813.8 1380.2,1814.1 1383.5,1814.4 1386.7,1814.7 1389.9,1815.0 1393.2,1815.3 1396.4,1815.6 1399.6,1815.9 1402.8,1816.2 1406.1,1816.6 1409.3,1816.9 1412.5,1817.2 1415.8,1817.5 1419.0,1817.9 1422.2,1818.2 1425.5,1818.5 1428.7,1818.9 1431.9,1819.2 1435.2,1819.6 1438.4,1819.9 1441.6,1820.3 1444.9,1820.6 1448.1,1821.0 1451.3,1821.3 1454.6,1821.7 1457.8,1822.1 1461.0,1822.4 1464.3,1822.8 1467.5,1823.2 1470.7,1823.5 1473.9,1823.9 1477.2,1824.3 1480.4,1824.7 1483.6,1825.1 1486.9,1825.4 1490.1,1825.8 1493.3,1826.2 1496.6,1826.6 1499.8,1827.0 1503.0,1827.4 1506.3,1827.8 1509.5,1828.2 1512.7,1828.6 1516.0,1829.0 1519.2,1829.4 1522.4,1829.8 1525.7,1830.2 1528.9,1830.6 1532.1,1831.0 1535.4,1831.4 1538.6,1831.8 1541.8,1832.2 1545.0,1832.6 1548.3,1833.0 1551.5,1833.4 1554.7,1833.8 1558.0,1834.3 1561.2,1834.7 1564.4,1835.1 1567.7,1835.5 1570.9,1835.9 1574.1,1836.3 1577.4,1836.7 1580.6,1837.1 1583.8,1837.6 1587.1,1838.0 1590.3,1838.4 1593.5,1838.8 1596.8,1839.2 1600.0,1839.6 1603.2,1840.0 1606.5,1840.4 1609.7,1840.8 1612.9,1841.2 1616.2,1841.7 1619.4,1842.1 1622.6,1842.5 1625.8,1842.9 1629.1,1843.3 1632.3,1843.7 1635.5,1844.1 1638.8,1844.5 1642.0,1844.9 1645.2,1845.3 1648.5,1845.7 1651.7,1846.1 1654.9,1846.5 1658.2,1846.8 1661.4,1847.2 1664.6,1847.6 1667.9,1848.0 1671.1,1848.4 1674.3,1848.8 1677.6,1849.1 1680.8,1849.5 1684.0,1849.9 1687.3,1850.3 1690.5,1850.6 1693.7,1851.0 1696.9,1851.4 1700.2,1851.7 1703.4,1852.1 1706.6,1852.5 1709.9,1852.8 1713.1,1853.2 1716.3,1853.5 1719.6,1853.9 1722.8,1854.2 1726.0,1854.5 1729.3,1854.9 1732.5,1855.2 1735.7,1855.5 1739.0,1855.9 1742.2,1856.2 1745.4,1856.5 1748.7,1856.8 1751.9,1857.1 1755.1,1857.5 1758.4,1857.8 1761.6,1858.1 1764.8,1858.4 1768.0,1858.7 1771.3,1859.0 1774.5,1859.2 1777.7,1859.5 1781.0,1859.8 1784.2,1860.1 1787.4,1860.4 1790.7,1860.6 1793.9,1860.9 1797.1,1861.2 1800.4,1861.4 1803.6,1861.7" stroke="#b6ff00"/>
<polyline points="252.3,1859.9 255.5,1860.2 258.8,1860.5 262.0,1860.8 265.2,1861.1 268.5,1861.4 271.7,1861.7 274.9,1862.0 278.2,1862.3 281.4,1862.5 284.6,1862.8 287.9,1863.1 291.1,1863.3 294.3,1863.6 297.5,1863.8 300.8,1864.0 304.0,1864.3 307.2,1864.5 310.5,1864.7 313.7,1864.9 316.9,1865.1 320.2,1865.3 323.4,1865.5 326.6,1865.7 329.9,1865.8 333.1,1866.0 336.3,1866.2 339.6,1866.3 342.8,1866.5 346.0,1866.6 349.3,1866.8 352.5,1866.9 355.7,1867.0 359.0,1867.1 362.2,1867.2 365.4,1867.4 368.6,1867.4 371.9,1867.5 375.1,1867.6 378.3,1867.7 381.6,1867.8 384.8,1867.8 388.0,1867.9 391.3,1867.9 394.5,1868.0 397.7,1868.0 401.0,1868.0 404.2,1868.1 407.4,1868.1 410.7,1868.1 413.9,1868.1 417.1,1868.1 420.4,1868.1 423.6,1868.0 426.8,1868.0 430.1,1868.0 433.3,1867.9 436.5,1867.9 439.7,1867.8 443.0,1867.8 446.2,1867.7 449.4,1867.6 452.7,1867.6 455.9,1867.5 459.1,1867.4 462.4,1867.3 465.6,1867.2 468.8,1867.1 472.1,1866.9 475.3,1866.8 478.5,1866.7 481.8,1866.5 485.0,1866.4 488.2,1866.2 491.5,1866.1 494.7,1865.9 497.9,1865.7 501.2,1865.5 504.4,1865.4 507.6,1865.2 510.8,1865.0 514.1,1864.8 517.3,1864.5 520.5,1864.3 523.8,1864.1 527.0,1863.9 530.2,1863.6 533.5,1863.4 536.7,1863.1 539.9,1862.9 543.2,1862.6 546.4,1862.4 549.6,1862.1 552.9,1861.8 556.1,1861.5 559.3,1861.2 562.6,1860.9 565.8,1860.6 569.0,1860.3 572.3,1860.0 575.5,1859.7 578.7,1859.4 582.0,1859.0 585.2,1858.7 588.4,1858.4 591.6,1858.0 594.9,1857.7 598.1,1857.3 601.3,1857.0 604.6,1856.6 607.8,1856.2 611.0,1855.8 614.3,1855.5 617.5,1855.1 620.7,1854.7 624.0,1854.3 627.2,1853.9 630.4,1853.5 633.7,1853.1 636.9,1852.7 640.1,1852.3 643.4,1851.8 646.6,1851.4 649.8,1851.0 653.1,1850.6 656.3,1850.1 659.5,1849.7 662.7,1849.2 666.0,1848.8 669.2,1848.3 672.4,1847.9 675.7,1847.4 678.9,1847.0 682.1,1846.5 685.4,1846.0 688.6,1845.6 691.8,1845.1 695.1,1844.6 698.3,1844.1 701.5,1843.7 704.8,1843.2 708.0,1842.7 711.2,1842.2 714.5,1841.7 717.7,1841.2 720.9,1840.7 724.2,1840.2 727.4,1839.7 730.6,1839.2 733.8,1838.7 737.1,1838.2 740.3,1837.7 743.5,1837.2 746.8,1836.7 750.0,1836.2 753.2,1835.6 756.5,1835.1 759.7,1834.6 762.9,1834.1 766.2,1833.6 769.4,1833.1 772.6,1832.5 775.9,1832.0 779.1,1831.5 782.3,1831.0 785.6,1830.4 788.8,1829.9 792.0,1829.4 795.3,1828.9 798.5,1828.3 801.7,1827.8 805.0,1827.3 808.2,1826.8 811.4,1826.3 814.6,1825.7 817.9,1825.2 821.1,1824.7 824.3,1824.2 827.6,1823.6 830.8,1823.1 834.0,1822.6 837.3,1822.1 840.5,1821.6 843.7,1821.0 847.0,1820.5 850.2,1820.0 853.4,1819.5 856.7,1819.0 859.9,1818.5 863.1,1818.0 866.4,1817.5 869.6,1817.0 872.8,1816.4 876.1,1815.9 879.3,1815.4 882.5,1815.0 885.7,1814.5 889.0,1814.0 892.2,1813.5 895.4,1813.0 898.7,1812.5 901.9,1812.0 905.1,1811.5 908.4,1811.1 911.6,1810.6 914.8,1810.1 918.1,1809.6 921.3,1809.2 924.5,1808.7 927.8,1808.3 931.0,1807.8 934.2,1807.4 937.5,1806.9 940.7,1806.5 943.9,1806.0 947.2,1805.6 950.4,1805.2 953.6,1804.7 956.8,1804.3 960.1,1803.9 963.3,1803.5 966.5,1803.1 969.8,1802.6 973.0,1802.2 976.2,1801.8 979.5,1801.4 982.7,1801.1 985.9,1800.7 989.2,1800.3 992.4,1799.9 995.6,1799.5 998.9,1799.2 1002.1,1798.8 1005.3,1798.5 1008.6,1798.1 1011.8,1797.8 1015.0,1797.4 1018.3,1797.1 1021.5,1796.7 1024.7,1796.4 1028.0,1796.1 1031.2,1795.8 1034.4,1795.5 1037.6,1795.2 1040.9,1794.9 1044.1,1794.6 1047.3,1794.3 1050.6,1794.0 1053.8,1793.7 1057.0,1793.5 1060.3,1793.2 1063.5,1792.9 1066.7,1792.7 1070.0,1792.5 1073.2,1792.2 1076.4,1792.0 1079.7,1791.8 1082.9,1791.5 1086.1,1791.3 1089.4,1791.1 1092.6,1790.9 1095.8,1790.7 1099.1,1790.5 1102.3,1790.3 1105.5,1790.2 1108.7,1790.0 1112.0,1789.8 1115.2,1789.7 1118.4,1789.5 1121.7,1789.4 1124.9,1789.2 1128.1,1789.1 1131.4,1789.0 1134.6,1788.9 1137.8,1788.8 1141.1,1788.7 1144.3,1788.6 1147.5,1788.5 1150.8,1788.4 1154.0,1788.3 1157.2,1788.2 1160.5,1788.2 1163.7,1788.1 1166.9,1788.1 1170.2,1788.0 1173.4,1788.0 1176.6,1788.0 1179.8,1788.0 1183.1,1787.9 1186.3,1787.9 1189.5,1787.9 1192.8,1787.9 1196.0,1787.9 1199.2,1788.0 1202.5,1788.0 1205.7,1788.0 1208.9,1788.1 1212.2,1788.1 1215.4,1788.2 1218.6,1788.2 1221.9,1788.3 1225.1,1788.4 1228.3,1788.4 1231.6,1788.5 1234.8,1788.6 1238.0,1788.7 1241.3,1788.8 1244.5,1789.0 1247.7,1789.1 1250.9,1789.2 1254.2,1789.3 1257.4,1789.5 1260.6,1789.6 1263.9,1789.8 1267.1,1789.9 1270.3,1790.1 1273.6,1790.3 1276.8,1790.5 1280.0,1790.7 1283.3,1790.8 1286.5,1791.0 1289.7,1791.3 1293.0,1791.5 1296.2,1791.7 1299.4,1791.9 1302.7,1792.1 1305.9,1792.4 1309.1,1792.6 1312.4,1792.9 1315.6,1793.1 1318.8,1793.4 1322.1,1793.7 1325.3,1793.9 1328.5,1794.2 1331.7,1794.5 1335.0,1794.8 1338.2,1795.1 1341.4,1795.4 1344.7,1795.7 1347.9,1796.0 1351.1,1796.3 1354.4,1796.6 1357.6,1797.0 1360.8,1797.3 1364.1,1797.6 1367.3,1798.0 1370.5,1798.3 1373.8,1798.7 1377.0,1799.1 1380.2,1799.4 1383.5,1799.8 1386.7,1800.2 1389.9,1800.5 1393.2,1800.9 1396.4,1801.3 1399.6,1801.7 1402.8,1802.1 1406.1,1802.5 1409.3,1802.9 1412.5,1803.3 1415.8,1803.8 1419.0,1804.2 1422.2,1804.6 1425.5,1805.0 1428.7,1805.5 1431.9,1805.9 1435.2,1806.3 1438.4,1806.8 1441.6,1807.2 1444.9,1807.7 1448.1,1808.1 1451.3,1808.6 1454.6,1809.0 1457.8,1809.5 1461.0,1810.0 1464.3,1810.4 1467.5,1810.9 1470.7,1811.4 1473.9,1811.9 1477.2,1812.4 1480.4,1812.8 1483.6,1813.3 1486.9,1813.8 1490.1,1814.3 1493.3,1814.8 1496.6,1815.3 1499.8,1815.8 1503.0,1816.3 1506.3,1816.8 1509.5,1817.3 1512.7,1817.8 1516.0,1818.3 1519.2,1818.8 1522.4,1819.3 1525.7,1819.9 1528.9,1820.4 1532.1,1820.9 1535.4,1821.4 1538.6,1821.9 1541.8,1822.4 1545.0,1823.0 1548.3,1823.5 1551.5,1824.0 1554.7,1824.5 1558.0,1825.0 1561.2,1825.6 1564.4,1826.1 1567.7,1826.6 1570.9,1827.1 1574.1,1827.7 1577.4,1828.2 1580.6,1828.7 1583.8,1829.2 1587.1,1829.8 1590.3,1830.3 1593.5,1830.8 1596.8,1831.3 1600.0,1831.9 1603.2,1832.4 1606.5,1832.9 1609.7,1833.4 1612.9,1833.9 1616.2,1834.5 1619.4,1835.0 1622.6,1835.5 1625.8,1836.0 1629.1,1836.5 1632.3,1837.0 1635.5,1837.5 1638.8,1838.0 1642.0,1838.6 1645.2,1839.1 1648.5,1839.6 1651.7,1840.1 1654.9,1840.6 1658.2,1841.1 1661.4,1841.6 1664.6,1842.0 1667.9,1842.5 1671.1,1843.0 1674.3,1843.5 1677.6,1844.0 1680.8,1844.5 1684.0,1845.0 1687.3,1845.4 1690.5,1845.9 1693.7,1846.4 1696.9,1846.8 1700.2,1847.3 1703.4,1847.7 1706.6,1848.2 1709.9,1848.7 1713.1,1849.1 1716.3,1849.5 1719.6,1850.0 1722.8,1850.4 1726.0,1850.9 1729.3,1851.3 1732.5,1851.7 1735.7,1852.1 1739.0,1852.5 1742.2,1853.0 1745.4,1853.4 1748.7,1853.8 1751.9,1854.2 1755.1,1854.6 1758.4,1855.0 1761.6,1855.3 1764.8,1855.7 1768.0,1856.1 1771.3,1856.5 1774.5,1856.8 1777.7,1857.2 1781.0,1857.6 1784.2,1857.9 1787.4,1858.3 1790.7,1858.6 1793.9,1858.9 1797.1,1859.3 1800.4,1859.6 1803.6,1859.9" stroke="#ffdb00"/>
<polyline points="252.3,1858.3 255.5,1858.7 258.8,1859.1 262.0,1859.4 265.2,1859.8 268.5,1860.1 271.7,1860.5 274.9,1860.8 278.2,1861.1 281.4,1861.5 284.6,1861.8 287.9,1862.1 291.1,1862.4 294.3,1862.7 297.5,1863.0 300.8,1863.2 304.0,1863.5 307.2,1863.8 310.5,1864.0 313.7,1864.3 316.9,1864.5 320.2,1864.8 323.4,1865.0 326.6,1865.2 329.9,1865.4 333.1,1865.6 336.3,1865.8 339.6,1866.0 342.8,1866.2 346.0,1866.4 349.3,1866.5 352.5,1866.7 355.7,1866.8 359.0,1867.0 362.2,1867.1 365.4,1867.2 368.6,1867.3 371.9,1867.4 375.1,1867.5 378.3,1867.6 381.6,1867.7 384.8,1867.8 388.0,1867.9 391.3,1867.9 394.5,1868.0 397.7,1868.0 401.0,1868.0 404.2,1868.1 407.4,1868.1 410.7,1868.1 413.9,1868.1 417.1,1868.1 420.4,1868.1 423.6,1868.0 426.8,1868.0 430.1,1868.0 433.3,1867.9 436.5,1867.9 439.7,1867.8 443.0,1867.7 446.2,1867.7 449.4,1867.6 452.7,1867.5 455.9,1867.4 459.1,1867.2 462.4,1867.1 465.6,1867.0 468.8,1866.9 472.1,1866.7 475.3,1866.6 478.5,1866.4 481.8,1866.2 485.0,1866.1 488.2,1865.9 491.5,1865.7 494.7,1865.5 497.9,1865.3 501.2,1865.1 504.4,1864.8 507.6,1864.6 510.8,1864.4 514.1,1864.1 517.3,1863.9 520.5,1863.6 523.8,1863.3 527.0,1863.1 530.2,1862.8 533.5,1862.5 536.7,1862.2 539.9,1861.9 543.2,1861.6 546.4,1861.2 549.6,1860.9 552.9,1860.6 556.1,1860.2 559.3,1859.9 562.6,1859.5 565.8,1859.2 569.0,1858.8 572.3,1858.4 575.5,1858.1 578.7,1857.7 582.0,1857.3 585.2,1856.9 588.4,1856.5 591.6,1856.1 594.9,1855.6 598.1,1855.2 601.3,1854.8 604.6,1854.4 607.8,1853.9 611.0,1853.5 614.3,1853.0 617.5,1852.5 620.7,1852.1 624.0,1851.6 627.2,1851.1 630.4,1850.7 633.7,1850.2 636.9,1849.7 640.1,1849.2 643.4,1848.7 646.6,1848.2 649.8,1847.7 653.1,1847.1 656.3,1846.6 659.5,1846.1 662.7,1845.6 666.0,1845.0 669.2,1844.5 672.4,1844.0 675.7,1843.4 678.9,1842.9 682.1,1842.3 685.4,1841.7 688.6,1841.2 691.8,1840.6 695.1,1840.1 698.3,1839.5 701.5,1838.9 704.8,1838.3 708.0,1837.7 711.2,1837.2 714.5,1836.6 717.7,1836.0 720.9,1835.4 724.2,1834.8 727.4,1834.2 730.6,1833.6 733.8,1833.0 737.1,1832.4 740.3,1831.8 743.5,1831.2 746.8,1830.6 750.0,1829.9 753.2,1829.3 756.5,1828.7 759.7,1828.1 762.9,1827.5 766.2,1826.9 769.4,1826.2 772.6,1825.6 775.9,1825.0 779.1,1824.4 782.3,1823.7 785.6,1823.1 788.8,1822.5 792.0,1821.9 795.3,1821.2 798.5,1820.6 801.7,1820.0 805.0,1819.4 808.2,1818.7 811.4,1818.1 814.6,1817.5 817.9,1816.8 821.1,1816.2 824.3,1815.6 827.6,1815.0 830.8,1814.4 834.0,1813.7 837.3,1813.1 840.5,1812.5 843.7,1811.9 847.0,1811.3 850.2,1810.6 853.4,1810.0 856.7,1809.4 859.9,1808.8 863.1,1808.2 866.4,1807.6 869.6,1807.0 872.8,1806.4 876.1,1805.8 879.3,1805.2 882.5,1804.6 885.7,1804.0 889.0,1803.4 892.2,1802.8 895.4,1802.3 898.7,1801.7 901.9,1801.1 905.1,1800.5 908.4,1800.0 911.6,1799.4 914.8,1798.8 918.1,1798.3 921.3,1797.7 924.5,1797.2 927.8,1796.6 931.0,1796.1 934.2,1795.5 937.5,1795.0 940.7,1794.5 943.9,1793.9 947.2,1793.4 950.4,1792.9 953.6,1792.4 956.8,1791.9 960.1,1791.4 963.3,1790.9 966.5,1790.4 969.8,1789.9 973.0,1789.4 976.2,1788.9 979.5,1788.5 982.7,1788.0 985.9,1787.5 989.2,1787.1 992.4,1786.6 995.6,1786.2 998.9,1785.7 1002.1,1785.3 1005.3,1784.9 1008.6,1784.5 1011.8,1784.0 1015.0,1783.6 1018.3,1783.2 1021.5,1782.8 1024.7,1782.5 1028.0,1782.1 1031.2,1781.7 1034.4,1781.3 1037.6,1781.0 1040.9,1780.6 1044.1,1780.3 1047.3,1779.9 1050.6,1779.6 1053.8,1779.3 1057.0,1778.9 1060.3,1778.6 1063.5,1778.3 1066.7,1778.0 1070.0,1777.7 1073.2,1777.4 1076.4,1777.1 1079.7,1776.9 1082.9,1776.6 1086.1,1776.4 1089.4,1776.1 1092.6,1775.9 1095.8,1775.6 1099.1,1775.4 1102.3,1775.2 1105.5,1775.0 1108.7,1774.8 1112.0,1774.6 1115.2,1774.4 1118.4,1774.2 1121.7,1774.0 1124.9,1773.9 1128.1,1773.7 1131.4,1773.6 1134.6,1773.4 1137.8,1773.3 1141.1,1773.2 1144.3,1773.1 1147.5,1773.0 1150.8,1772.9 1154.0,1772.8 1157.2,1772.7 1160.5,1772.6 1163.7,1772.5 1166.9,1772.5 1170.2,1772.4 1173.4,1772.4 1176.6,1772.4 1179.8,1772.3 1183.1,1772.3 1186.3,1772.3 1189.5,1772.3 1192.8,1772.3 1196.0,1772.3 1199.2,1772.4 1202.5,1772.4 1205.7,1772.4 1208.9,1772.5 1212.2,1772.5 1215.4,1772.6 1218.6,1772.7 1221.9,1772.7 1225.1,1772.8 1228.3,1772.9 1231.6,1773.0 1234.8,1773.1 1238.0,1773.3 1241.3,1773.4 1244.5,1773.5 1247.7,1773.7 1250.9,1773.8 1254.2,1774.0 1257.4,1774.2 1260.6,1774.3 1263.9,1774.5 1267.1,1774.7 1270.3,1774.9 1273.6,1775.1 1276.8,1775.3 1280.0,1775.6 1283.3,1775.8 1286.5,1776.0 1289.7,1776.3 1293.0,1776.5 1296.2,1776.8 1299.4,1777.1 1302.7,1777.3 1305.9,1777.6 1309.1,1777.9 1312.4,1778.2 1315.6,1778.5 1318.8,1778.8 1322.1,1779.2 1325.3,1779.5 1328.5,1779.8 1331.7,1780.2 1335.0,1780.5 1338.2,1780.9 1341.4,1781.2 1344.7,1781.6 1347.9,1782.0 1351.1,1782.3 1354.4,1782.7 1357.6,1783.1 1360.8,1783.5 1364.1,1783.9 1367.3,1784.3 1370.5,1784.8 1373.8,1785.2 1377.0,1785.6 1380.2,1786.0 1383.5,1786.5 1386.7,1786.9 1389.9,1787.4 1393.2,1787.8 1396.4,1788.3 1399.6,1788.8 1402.8,1789.3 1406.1,1789.7 1409.3,1790.2 1412.5,1790.7 1415.8,1791.2 1419.0,1791.7 1422.2,1792.2 1425.5,1792.7 1428.7,1793.3 1431.9,1793.8 1435.2,1794.3 1438.4,1794.8 1441.6,1795.4 1444.9,1795.9 1448.1,1796.4 1451.3,1797.0 1454.6,1797.5 1457.8,1798.1 1461.0,1798.7 1464.3,1799.2 1467.5,1799.8 1470.7,1800.3 1473.9,1800.9 1477.2,1801.5 1480.4,1802.1 1483.6,1802.7 1486.9,1803.2 1490.1,1803.8 1493.3,1804.4 1496.6,1805.0 1499.8,1805.6 1503.0,1806.2 1506.3,1806.8 1509.5,1807.4 1512.7,1808.0 1516.0,1808.6 1519.2,1809.2 1522.4,1809.8 1525.7,1810.5 1528.9,1811.1 1532.1,1811.7 1535.4,1812.3 1538.6,1812.9 1541.8,1813.5 1545.0,1814.2 1548.3,1814.8 1551.5,1815.4 1554.7,1816.0 1558.0,1816.7 1561.2,1817.3 1564.4,1817.9 1567.7,1818.5 1570.9,1819.2 1574.1,1819.8 1577.4,1820.4 1580.6,1821.0 1583.8,1821.7 1587.1,1822.3 1590.3,1822.9 1593.5,1823.5 1596.8,1824.2 1600.0,1824.8 1603.2,1825.4 1606.5,1826.0 1609.7,1826.7 1612.9,1827.3 1616.2,1827.9 1619.4,1828.5 1622.6,1829.1 1625.8,1829.8 1629.1,1830.4 1632.3,1831.0 1635.5,1831.6 1638.8,1832.2 1642.0,1832.8 1645.2,1833.4 1648.5,1834.0 1651.7,1834.6 1654.9,1835.2 1658.2,1835.8 1661.4,1836.4 1664.6,1837.0 1667.9,1837.6 1671.1,1838.1 1674.3,1838.7 1677.6,1839.3 1680.8,1839.9 1684.0,1840.4 1687.3,1841.0 1690.5,1841.6 1693.7,1842.1 1696.9,1842.7 1700.2,1843.2 1703.4,1843.8 1706.6,1844.3 1709.9,1844.9 1713.1,1845.4 1716.3,1845.9 1719.6,1846.5 1722.8,1847.0 1726.0,1847.5 1729.3,1848.0 1732.5,1848.5 1735.7,1849.0 1739.0,1849.5 1742.2,1850.0 1745.4,1850.5 1748.7,1851.0 1751.9,1851.5 1755.1,1851.9 1758.4,1852.4 1761.6,1852.9 1764.8,1853.3 1768.0,1853.8 1771.3,1854.2 1774.5,1854.7 1777.7,1855.1 1781.0,1855.5 1784.2,1855.9 1787.4,1856.3 1790.7,1856.8 1793.9,1857.2 1797.1,1857.6 1800.4,1857.9 1803.6,1858.3" stroke="#ff6d00"/>
</g>
<path d="M597.03 2604.20V1573.60" stroke="#111" stroke-width="3" stroke-dasharray="12.2 11.9" fill="none"/>
<path d="M1458.87 2604.20V1573.60" stroke="#111" stroke-width="3" stroke-dasharray="12.2 11.9" fill="none"/>
<g font-family="Liberation Sans, Arial, Helvetica, sans-serif" font-size="50" fill="#151515">
<text x="338.48" y="2669.20" text-anchor="middle">-80</text>
<text x="510.85" y="2669.20" text-anchor="middle">-60</text>
<text x="683.22" y="2669.20" text-anchor="middle">-40</text>
<text x="855.58" y="2669.20" text-anchor="middle">-20</text>
<text x="1027.95" y="2669.20" text-anchor="middle">0</text>
<text x="1200.32" y="2669.20" text-anchor="middle">20</text>
<text x="1372.68" y="2669.20" text-anchor="middle">40</text>
<text x="1545.05" y="2669.20" text-anchor="middle">60</text>
<text x="1717.42" y="2669.20" text-anchor="middle">80</text>
<text x="136.69" y="1738.73">0.05</text>
<text x="206.05" y="1885.96">0</text>
<text x="120.03" y="2033.19">-0.05</text>
<text x="148.18" y="2180.41">-0.1</text>
<text x="120.03" y="2327.64">-0.15</text>
<text x="148.26" y="2474.87">-0.2</text>
<text x="120.03" y="2622.10">-0.25</text>
</g>
<text x="607.13" y="2732.00" textLength="581.69" font-family="Liberation Sans, Arial, Helvetica, sans-serif" font-size="50" fill="#151515">Scene Select Mirror Angle</text>
<text transform="translate(1205.94 2732.00) scale(0.86 1.0)" font-family="Liberation Serif, Times New Roman, serif" font-size="50" font-style="italic" fill="#151515">δ</text>
<text x="1240.14" y="2732.00" textLength="208.03" font-family="Liberation Sans, Arial, Helvetica, sans-serif" font-size="50" fill="#151515">[degrees]</text>
<text transform="translate(75.3 2089.10) rotate(-90)" text-anchor="middle" font-family="Liberation Sans, Arial, Helvetica, sans-serif" font-size="50" fill="#151515">-E<tspan font-size="38" dy="24.2">p</tspan><tspan dy="-24.2"> [K]</tspan></text>
<text x="283.22" y="1468.20" textLength="823.60" lengthAdjust="spacingAndGlyphs" font-family="Liberation Sans, Arial, Helvetica, sans-serif" font-weight="bold" font-size="52" fill="#000">Polarization Correction (1500.0 cm</text>
<text x="1108.04" y="1443.50" font-family="Liberation Sans, Arial, Helvetica, sans-serif" font-weight="bold" font-size="40" fill="#000">-1</text>
<text x="1147.35" y="1468.20" textLength="621.73" lengthAdjust="spacingAndGlyphs" font-family="Liberation Sans, Arial, Helvetica, sans-serif" font-weight="bold" font-size="52" fill="#000">), Brightness Temperature</text>
<text transform="translate(567.17 1535.00) scale(0.91 1.0)" font-family="Liberation Serif, Times New Roman, serif" font-size="50" font-style="italic" fill="#000">δ</text>
<text x="590.02" y="1557.80" font-family="Liberation Sans, Arial, Helvetica, sans-serif" font-size="40" font-weight="bold" fill="#000">ICT</text>
<text x="669.94" y="1535.00" font-family="Liberation Sans, Arial, Helvetica, sans-serif" font-size="52" font-weight="bold" fill="#000">=</text>
<text x="715.62" y="1535.00" textLength="151.41" lengthAdjust="spacingAndGlyphs" font-family="Liberation Sans, Arial, Helvetica, sans-serif" font-size="52" font-weight="bold" fill="#000">180.00</text>
<text x="868.94" y="1510.90" font-family="Liberation Sans, Arial, Helvetica, sans-serif" font-size="40" font-weight="bold" fill="#000">°</text>
<text x="884.17" y="1535.00" font-family="Liberation Sans, Arial, Helvetica, sans-serif" font-size="52" font-weight="bold" fill="#000">,</text>
<text transform="translate(916.67 1535.00) scale(0.91 1.0)" font-family="Liberation Serif, Times New Roman, serif" font-size="50" font-style="italic" fill="#000">δ</text>
<text x="939.82" y="1557.80" font-family="Liberation Sans, Arial, Helvetica, sans-serif" font-size="40" font-weight="bold" fill="#000">DS</text>
<text x="1010.04" y="1535.00" font-family="Liberation Sans, Arial, Helvetica, sans-serif" font-size="52" font-weight="bold" fill="#000">=</text>
<text x="1055.97" y="1535.00" textLength="144.56" lengthAdjust="spacingAndGlyphs" font-family="Liberation Sans, Arial, Helvetica, sans-serif" font-size="52" font-weight="bold" fill="#000">-70.30</text>
<text x="1201.04" y="1510.90" font-family="Liberation Sans, Arial, Helvetica, sans-serif" font-size="40" font-weight="bold" fill="#000">°</text>
<text x="1217.17" y="1535.00" font-family="Liberation Sans, Arial, Helvetica, sans-serif" font-size="52" font-weight="bold" fill="#000">,</text>
<text transform="translate(1234.32 1535.00) scale(1.13 0.92)" font-family="Liberation Serif, Times New Roman, serif" font-size="50" font-style="italic" fill="#000">α</text>
<text x="1281.94" y="1535.00" font-family="Liberation Sans, Arial, Helvetica, sans-serif" font-size="52" font-weight="bold" fill="#000">=</text>
<text x="1327.67" y="1535.00" textLength="144.93" lengthAdjust="spacingAndGlyphs" font-family="Liberation Sans, Arial, Helvetica, sans-serif" font-size="52" font-weight="bold" fill="#000">-71.38</text>
<text x="1473.44" y="1510.90" font-family="Liberation Sans, Arial, Helvetica, sans-serif" font-size="40" font-weight="bold" fill="#000">°</text>
<rect x="1829.0" y="1960.00" width="227.0" height="643.00" fill="#fff"/>
<rect x="1827.50" y="1959.00" width="3.60" height="645.00" fill="#a6a6a6"/><rect x="2053.00" y="1961.00" width="2.00" height="641.00" fill="#e2e2e2"/><rect x="2055.00" y="1959.00" width="2.00" height="645.00" fill="#a0a0a0"/><rect x="1829.00" y="1957.00" width="226.00" height="2.00" fill="#ececec"/><rect x="1829.00" y="1959.00" width="228.00" height="2.00" fill="#666666"/><rect x="1831.00" y="1961.00" width="222.00" height="2.00" fill="#f4f4f4"/><rect x="1829.00" y="2601.00" width="228.00" height="1.80" fill="#7a7a7a"/><rect x="1829.00" y="2602.80" width="228.00" height="2.00" fill="#d2d2d2"/>
<g font-family="Liberation Sans, Arial, Helvetica, sans-serif" font-size="38" fill="#000">
<path d="M1841 1989.00H1936" stroke="#ff006d" stroke-width="6.0"/>
<text x="1942.8" y="2002.00">210 K</text>
<path d="M1841 2037.70H1936" stroke="#ff00db" stroke-width="6.0"/>
<text x="1942.8" y="2050.70">220 K</text>
<path d="M1841 2086.40H1936" stroke="#b600ff" stroke-width="6.0"/>
<text x="1942.8" y="2099.40">230 K</text>
<path d="M1841 2135.10H1936" stroke="#4900ff" stroke-width="6.0"/>
<text x="1942.8" y="2148.10">240 K</text>
<path d="M1841 2183.80H1936" stroke="#0024ff" stroke-width="6.0"/>
<text x="1942.8" y="2196.80">250 K</text>
<path d="M1841 2232.50H1936" stroke="#0092ff" stroke-width="6.0"/>
<text x="1942.8" y="2245.50">260 K</text>
<path d="M1841 2281.20H1936" stroke="#00ffff" stroke-width="6.0"/>
<text x="1942.8" y="2294.20">270 K</text>
<path d="M1841 2329.90H1936" stroke="#00ff92" stroke-width="6.0"/>
<text x="1942.8" y="2342.90">280 K</text>
<path d="M1841 2378.60H1936" stroke="#00ff24" stroke-width="6.0"/>
<text x="1942.8" y="2391.60">290 K</text>
<path d="M1841 2427.30H1936" stroke="#49ff00" stroke-width="6.0"/>
<text x="1942.8" y="2440.30">300 K</text>
<path d="M1841 2476.00H1936" stroke="#b6ff00" stroke-width="6.0"/>
<text x="1942.8" y="2489.00">310 K</text>
<path d="M1841 2524.70H1936" stroke="#ffdb00" stroke-width="6.0"/>
<text x="1942.8" y="2537.70">320 K</text>
<path d="M1841 2573.40H1936" stroke="#ff6d00" stroke-width="6.0"/>
<text x="1942.8" y="2586.40">330 K</text>
</g>
<defs><clipPath id="c2"><rect x="251.10" y="2960.40" width="1553.70" height="1033.00"/></clipPath></defs>
<path d="M338.48 2961.60V3992.20M510.85 2961.60V3992.20M683.22 2961.60V3992.20M855.58 2961.60V3992.20M1027.95 2961.60V3992.20M1200.32 2961.60V3992.20M1372.68 2961.60V3992.20M1545.05 2961.60V3992.20M1717.42 2961.60V3992.20M252.30 3108.83H1803.60M252.30 3256.06H1803.60M252.30 3403.29H1803.60M252.30 3550.51H1803.60M252.30 3697.74H1803.60M252.30 3844.97H1803.60" stroke="#e9e9e9" stroke-width="2.6" fill="none"/>
<path d="M338.48 3992.20v-15.5M338.48 2961.60v15.5M510.85 3992.20v-15.5M510.85 2961.60v15.5M683.22 3992.20v-15.5M683.22 2961.60v15.5M855.58 3992.20v-15.5M855.58 2961.60v15.5M1027.95 3992.20v-15.5M1027.95 2961.60v15.5M1200.32 3992.20v-15.5M1200.32 2961.60v15.5M1372.68 3992.20v-15.5M1372.68 2961.60v15.5M1545.05 3992.20v-15.5M1545.05 2961.60v15.5M1717.42 3992.20v-15.5M1717.42 2961.60v15.5M252.30 3108.83h15.5M1803.60 3108.83h-15.5M252.30 3256.06h15.5M1803.60 3256.06h-15.5M252.30 3403.29h15.5M1803.60 3403.29h-15.5M252.30 3550.51h15.5M1803.60 3550.51h-15.5M252.30 3697.74h15.5M1803.60 3697.74h-15.5M252.30 3844.97h15.5M1803.60 3844.97h-15.5" stroke="#858585" stroke-width="2.8" fill="none"/>
<rect x="251.00" y="2960.90" width="2.00" height="1032.80" fill="#777777"/><rect x="253.00" y="2962.90" width="2.00" height="1028.00" fill="#d2d2d2"/><rect x="251.00" y="2960.90" width="1554.70" height="2.00" fill="#666666"/><rect x="253.00" y="2962.90" width="1548.70" height="2.00" fill="#e6e6e6"/><rect x="1801.00" y="2962.90" width="2.00" height="1028.00" fill="#c2c2c2"/><rect x="1803.00" y="2960.90" width="2.00" height="1032.80" fill="#808080"/><rect x="251.00" y="3991.00" width="1554.70" height="2.00" fill="#808080"/><rect x="251.00" y="3993.00" width="1554.70" height="2.00" fill="#b8b8b8"/>
<g clip-path="url(#c2)" fill="none" stroke-width="6.0" stroke-linejoin="round">
<polyline points="252.3,3116.6 255.5,3116.4 258.8,3116.2 262.0,3116.2 265.2,3116.3 268.5,3116.5 271.7,3116.9 274.9,3117.3 278.2,3117.9 281.4,3118.6 284.6,3119.4 287.9,3120.3 291.1,3121.3 294.3,3122.5 297.5,3123.7 300.8,3125.1 304.0,3126.6 307.2,3128.2 310.5,3129.9 313.7,3131.7 316.9,3133.7 320.2,3135.7 323.4,3137.9 326.6,3140.2 329.9,3142.6 333.1,3145.1 336.3,3147.7 339.6,3150.5 342.8,3153.3 346.0,3156.3 349.3,3159.3 352.5,3162.5 355.7,3165.8 359.0,3169.2 362.2,3172.7 365.4,3176.3 368.6,3180.0 371.9,3183.8 375.1,3187.7 378.3,3191.7 381.6,3195.9 384.8,3200.1 388.0,3204.4 391.3,3208.9 394.5,3213.4 397.7,3218.0 401.0,3222.8 404.2,3227.6 407.4,3232.5 410.7,3237.5 413.9,3242.7 417.1,3247.9 420.4,3253.2 423.6,3258.6 426.8,3264.1 430.1,3269.7 433.3,3275.3 436.5,3281.1 439.7,3287.0 443.0,3292.9 446.2,3298.9 449.4,3305.0 452.7,3311.2 455.9,3317.5 459.1,3323.9 462.4,3330.3 465.6,3336.8 468.8,3343.4 472.1,3350.1 475.3,3356.9 478.5,3363.7 481.8,3370.6 485.0,3377.6 488.2,3384.6 491.5,3391.7 494.7,3398.9 497.9,3406.2 501.2,3413.5 504.4,3420.9 507.6,3428.3 510.8,3435.8 514.1,3443.4 517.3,3451.1 520.5,3458.7 523.8,3466.5 527.0,3474.3 530.2,3482.2 533.5,3490.1 536.7,3498.1 539.9,3506.1 543.2,3514.2 546.4,3522.3 549.6,3530.4 552.9,3538.6 556.1,3546.9 559.3,3555.2 562.6,3563.5 565.8,3571.9 569.0,3580.3 572.3,3588.8 575.5,3597.3 578.7,3605.8 582.0,3614.4 585.2,3622.9 588.4,3631.6 591.6,3640.2 594.9,3648.9 598.1,3657.6 601.3,3666.3 604.6,3675.0 607.8,3683.8 611.0,3692.6 614.3,3701.4 617.5,3710.2 620.7,3719.0 624.0,3727.9 627.2,3736.7 630.4,3745.6 633.7,3754.5 636.9,3763.4 640.1,3772.2 643.4,3781.1 646.6,3790.0 649.8,3798.9 653.1,3807.8 656.3,3816.7 659.5,3825.6 662.7,3834.5 666.0,3843.4 669.2,3852.2 672.4,3861.1 675.7,3869.9 678.9,3878.8 682.1,3887.6 685.4,3896.4 688.6,3905.2 691.8,3914.0 695.1,3922.7 698.3,3931.4 701.5,3940.1 704.8,3948.8 708.0,3957.5 711.2,3966.1 714.5,3974.7 717.7,3983.2 720.9,3991.8 724.2,4000.3 727.4,4008.7 730.6,4017.2 733.8,4025.6 737.1,4033.9 740.3,4042.2 743.5,4050.5 746.8,4058.7 750.0,4066.9 753.2,4075.0 756.5,4083.1 759.7,4091.1 762.9,4099.1 766.2,4107.1 769.4,4114.9 772.6,4122.8 775.9,4130.5 779.1,4138.2 782.3,4145.9 785.6,4153.5 788.8,4161.0 792.0,4168.5 795.3,4175.9 798.5,4183.2 801.7,4190.5 805.0,4197.7 808.2,4204.8 811.4,4211.9 814.6,4218.9 817.9,4225.8 821.1,4232.7 824.3,4239.5 827.6,4246.2 830.8,4252.8 834.0,4259.3 837.3,4265.8 840.5,4272.2 843.7,4278.5 847.0,4284.7 850.2,4290.8 853.4,4296.9 856.7,4302.8 859.9,4308.7 863.1,4314.5 866.4,4320.2 869.6,4325.8 872.8,4331.3 876.1,4336.8 879.3,4342.1 882.5,4347.3 885.7,4352.5 889.0,4357.5 892.2,4362.5 895.4,4367.3 898.7,4372.1 901.9,4376.8 905.1,4381.3 908.4,4385.8 911.6,4390.1 914.8,4394.4 918.1,4398.6 921.3,4402.6 924.5,4406.6 927.8,4410.4 931.0,4414.1 934.2,4417.8 937.5,4421.3 940.7,4424.7 943.9,4428.0 947.2,4431.2 950.4,4434.3 953.6,4437.3 956.8,4440.2 960.1,4443.0 963.3,4445.6 966.5,4448.1 969.8,4450.6 973.0,4452.9 976.2,4455.1 979.5,4457.2 982.7,4459.2 985.9,4461.0 989.2,4462.8 992.4,4464.4 995.6,4465.9 998.9,4467.4 1002.1,4468.6 1005.3,4469.8 1008.6,4470.9 1011.8,4471.8 1015.0,4472.7 1018.3,4473.4 1021.5,4474.0 1024.7,4474.5 1028.0,4474.8 1031.2,4475.1 1034.4,4475.2 1037.6,4475.2 1040.9,4475.1 1044.1,4474.9 1047.3,4474.6 1050.6,4474.1 1053.8,4473.6 1057.0,4472.9 1060.3,4472.1 1063.5,4471.2 1066.7,4470.1 1070.0,4469.0 1073.2,4467.7 1076.4,4466.4 1079.7,4464.9 1082.9,4463.3 1086.1,4461.5 1089.4,4459.7 1092.6,4457.8 1095.8,4455.7 1099.1,4453.5 1102.3,4451.2 1105.5,4448.8 1108.7,4446.3 1112.0,4443.7 1115.2,4441.0 1118.4,4438.1 1121.7,4435.2 1124.9,4432.1 1128.1,4428.9 1131.4,4425.7 1134.6,4422.3 1137.8,4418.8 1141.1,4415.2 1144.3,4411.5 1147.5,4407.6 1150.8,4403.7 1154.0,4399.7 1157.2,4395.6 1160.5,4391.3 1163.7,4387.0 1166.9,4382.6 1170.2,4378.0 1173.4,4373.4 1176.6,4368.7 1179.8,4363.9 1183.1,4358.9 1186.3,4353.9 1189.5,4348.8 1192.8,4343.6 1196.0,4338.3 1199.2,4332.9 1202.5,4327.4 1205.7,4321.8 1208.9,4316.1 1212.2,4310.3 1215.4,4304.5 1218.6,4298.5 1221.9,4292.5 1225.1,4286.4 1228.3,4280.2 1231.6,4273.9 1234.8,4267.6 1238.0,4261.1 1241.3,4254.6 1244.5,4248.0 1247.7,4241.3 1250.9,4234.6 1254.2,4227.8 1257.4,4220.9 1260.6,4213.9 1263.9,4206.8 1267.1,4199.7 1270.3,4192.5 1273.6,4185.3 1276.8,4178.0 1280.0,4170.6 1283.3,4163.1 1286.5,4155.6 1289.7,4148.0 1293.0,4140.4 1296.2,4132.7 1299.4,4124.9 1302.7,4117.1 1305.9,4109.3 1309.1,4101.4 1312.4,4093.4 1315.6,4085.4 1318.8,4077.3 1322.1,4069.2 1325.3,4061.0 1328.5,4052.8 1331.7,4044.5 1335.0,4036.2 1338.2,4027.9 1341.4,4019.5 1344.7,4011.1 1347.9,4002.7 1351.1,3994.2 1354.4,3985.6 1357.6,3977.1 1360.8,3968.5 1364.1,3959.9 1367.3,3951.2 1370.5,3942.6 1373.8,3933.9 1377.0,3925.1 1380.2,3916.4 1383.5,3907.6 1386.7,3898.9 1389.9,3890.1 1393.2,3881.2 1396.4,3872.4 1399.6,3863.6 1402.8,3854.7 1406.1,3845.8 1409.3,3837.0 1412.5,3828.1 1415.8,3819.2 1419.0,3810.3 1422.2,3801.4 1425.5,3792.5 1428.7,3783.6 1431.9,3774.7 1435.2,3765.8 1438.4,3757.0 1441.6,3748.1 1444.9,3739.2 1448.1,3730.4 1451.3,3721.5 1454.6,3712.7 1457.8,3703.9 1461.0,3695.0 1464.3,3686.3 1467.5,3677.5 1470.7,3668.7 1473.9,3660.0 1477.2,3651.3 1480.4,3642.6 1483.6,3634.0 1486.9,3625.4 1490.1,3616.8 1493.3,3608.2 1496.6,3599.7 1499.8,3591.2 1503.0,3582.7 1506.3,3574.3 1509.5,3565.9 1512.7,3557.5 1516.0,3549.2 1519.2,3541.0 1522.4,3532.7 1525.7,3524.6 1528.9,3516.4 1532.1,3508.3 1535.4,3500.3 1538.6,3492.3 1541.8,3484.4 1545.0,3476.5 1548.3,3468.7 1551.5,3460.9 1554.7,3453.2 1558.0,3445.5 1561.2,3438.0 1564.4,3430.4 1567.7,3423.0 1570.9,3415.6 1574.1,3408.2 1577.4,3400.9 1580.6,3393.7 1583.8,3386.6 1587.1,3379.5 1590.3,3372.5 1593.5,3365.6 1596.8,3358.8 1600.0,3352.0 1603.2,3345.3 1606.5,3338.7 1609.7,3332.1 1612.9,3325.7 1616.2,3319.3 1619.4,3313.0 1622.6,3306.8 1625.8,3300.6 1629.1,3294.6 1632.3,3288.6 1635.5,3282.7 1638.8,3276.9 1642.0,3271.2 1645.2,3265.6 1648.5,3260.1 1651.7,3254.7 1654.9,3249.4 1658.2,3244.1 1661.4,3239.0 1664.6,3233.9 1667.9,3229.0 1671.1,3224.1 1674.3,3219.3 1677.6,3214.7 1680.8,3210.1 1684.0,3205.7 1687.3,3201.3 1690.5,3197.0 1693.7,3192.9 1696.9,3188.8 1700.2,3184.9 1703.4,3181.0 1706.6,3177.3 1709.9,3173.7 1713.1,3170.1 1716.3,3166.7 1719.6,3163.4 1722.8,3160.2 1726.0,3157.1 1729.3,3154.1 1732.5,3151.3 1735.7,3148.5 1739.0,3145.8 1742.2,3143.3 1745.4,3140.9 1748.7,3138.5 1751.9,3136.3 1755.1,3134.3 1758.4,3132.3 1761.6,3130.4 1764.8,3128.7 1768.0,3127.0 1771.3,3125.5 1774.5,3124.1 1777.7,3122.8 1781.0,3121.6 1784.2,3120.6 1787.4,3119.6 1790.7,3118.8 1793.9,3118.1 1797.1,3117.5 1800.4,3117.0 1803.6,3116.6" stroke="#ff006d"/>
<polyline points="252.3,3182.7 255.5,3182.6 258.8,3182.5 262.0,3182.5 265.2,3182.6 268.5,3182.7 271.7,3182.8 274.9,3183.1 278.2,3183.4 281.4,3183.7 284.6,3184.2 287.9,3184.6 291.1,3185.2 294.3,3185.8 297.5,3186.4 300.8,3187.2 304.0,3188.0 307.2,3188.8 310.5,3189.7 313.7,3190.7 316.9,3191.7 320.2,3192.8 323.4,3193.9 326.6,3195.1 329.9,3196.4 333.1,3197.7 336.3,3199.1 339.6,3200.5 342.8,3202.0 346.0,3203.6 349.3,3205.2 352.5,3206.8 355.7,3208.6 359.0,3210.4 362.2,3212.2 365.4,3214.1 368.6,3216.0 371.9,3218.0 375.1,3220.1 378.3,3222.2 381.6,3224.4 384.8,3226.6 388.0,3228.9 391.3,3231.2 394.5,3233.6 397.7,3236.1 401.0,3238.5 404.2,3241.1 407.4,3243.7 410.7,3246.3 413.9,3249.0 417.1,3251.8 420.4,3254.5 423.6,3257.4 426.8,3260.3 430.1,3263.2 433.3,3266.2 436.5,3269.2 439.7,3272.3 443.0,3275.4 446.2,3278.6 449.4,3281.8 452.7,3285.1 455.9,3288.4 459.1,3291.7 462.4,3295.1 465.6,3298.5 468.8,3302.0 472.1,3305.5 475.3,3309.1 478.5,3312.7 481.8,3316.3 485.0,3320.0 488.2,3323.7 491.5,3327.4 494.7,3331.2 497.9,3335.0 501.2,3338.9 504.4,3342.8 507.6,3346.7 510.8,3350.6 514.1,3354.6 517.3,3358.6 520.5,3362.7 523.8,3366.8 527.0,3370.9 530.2,3375.0 533.5,3379.2 536.7,3383.4 539.9,3387.6 543.2,3391.8 546.4,3396.1 549.6,3400.4 552.9,3404.7 556.1,3409.0 559.3,3413.4 562.6,3417.8 565.8,3422.2 569.0,3426.6 572.3,3431.1 575.5,3435.5 578.7,3440.0 582.0,3444.5 585.2,3449.0 588.4,3453.6 591.6,3458.1 594.9,3462.7 598.1,3467.3 601.3,3471.9 604.6,3476.5 607.8,3481.1 611.0,3485.7 614.3,3490.3 617.5,3494.9 620.7,3499.6 624.0,3504.2 627.2,3508.9 630.4,3513.6 633.7,3518.2 636.9,3522.9 640.1,3527.6 643.4,3532.3 646.6,3536.9 649.8,3541.6 653.1,3546.3 656.3,3551.0 659.5,3555.6 662.7,3560.3 666.0,3565.0 669.2,3569.7 672.4,3574.3 675.7,3579.0 678.9,3583.6 682.1,3588.3 685.4,3592.9 688.6,3597.5 691.8,3602.1 695.1,3606.7 698.3,3611.3 701.5,3615.9 704.8,3620.5 708.0,3625.0 711.2,3629.5 714.5,3634.1 717.7,3638.6 720.9,3643.1 724.2,3647.5 727.4,3652.0 730.6,3656.4 733.8,3660.8 737.1,3665.2 740.3,3669.6 743.5,3673.9 746.8,3678.3 750.0,3682.6 753.2,3686.8 756.5,3691.1 759.7,3695.3 762.9,3699.5 766.2,3703.7 769.4,3707.8 772.6,3712.0 775.9,3716.0 779.1,3720.1 782.3,3724.1 785.6,3728.1 788.8,3732.1 792.0,3736.0 795.3,3739.9 798.5,3743.8 801.7,3747.6 805.0,3751.4 808.2,3755.1 811.4,3758.9 814.6,3762.5 817.9,3766.2 821.1,3769.8 824.3,3773.3 827.6,3776.9 830.8,3780.3 834.0,3783.8 837.3,3787.2 840.5,3790.5 843.7,3793.9 847.0,3797.1 850.2,3800.4 853.4,3803.5 856.7,3806.7 859.9,3809.8 863.1,3812.8 866.4,3815.8 869.6,3818.8 872.8,3821.7 876.1,3824.5 879.3,3827.3 882.5,3830.1 885.7,3832.8 889.0,3835.4 892.2,3838.1 895.4,3840.6 898.7,3843.1 901.9,3845.6 905.1,3848.0 908.4,3850.3 911.6,3852.6 914.8,3854.8 918.1,3857.0 921.3,3859.2 924.5,3861.2 927.8,3863.3 931.0,3865.2 934.2,3867.1 937.5,3869.0 940.7,3870.8 943.9,3872.5 947.2,3874.2 950.4,3875.8 953.6,3877.4 956.8,3878.9 960.1,3880.4 963.3,3881.8 966.5,3883.1 969.8,3884.4 973.0,3885.6 976.2,3886.8 979.5,3887.9 982.7,3888.9 985.9,3889.9 989.2,3890.8 992.4,3891.7 995.6,3892.5 998.9,3893.2 1002.1,3893.9 1005.3,3894.5 1008.6,3895.1 1011.8,3895.6 1015.0,3896.0 1018.3,3896.4 1021.5,3896.7 1024.7,3897.0 1028.0,3897.1 1031.2,3897.3 1034.4,3897.3 1037.6,3897.4 1040.9,3897.3 1044.1,3897.2 1047.3,3897.0 1050.6,3896.8 1053.8,3896.5 1057.0,3896.1 1060.3,3895.7 1063.5,3895.2 1066.7,3894.7 1070.0,3894.1 1073.2,3893.4 1076.4,3892.7 1079.7,3891.9 1082.9,3891.1 1086.1,3890.2 1089.4,3889.2 1092.6,3888.2 1095.8,3887.1 1099.1,3885.9 1102.3,3884.7 1105.5,3883.5 1108.7,3882.2 1112.0,3880.8 1115.2,3879.3 1118.4,3877.8 1121.7,3876.3 1124.9,3874.7 1128.1,3873.0 1131.4,3871.3 1134.6,3869.5 1137.8,3867.7 1141.1,3865.8 1144.3,3863.8 1147.5,3861.8 1150.8,3859.8 1154.0,3857.6 1157.2,3855.5 1160.5,3853.2 1163.7,3851.0 1166.9,3848.6 1170.2,3846.2 1173.4,3843.8 1176.6,3841.3 1179.8,3838.8 1183.1,3836.2 1186.3,3833.5 1189.5,3830.8 1192.8,3828.1 1196.0,3825.3 1199.2,3822.5 1202.5,3819.6 1205.7,3816.6 1208.9,3813.7 1212.2,3810.6 1215.4,3807.5 1218.6,3804.4 1221.9,3801.3 1225.1,3798.0 1228.3,3794.8 1231.6,3791.5 1234.8,3788.1 1238.0,3784.7 1241.3,3781.3 1244.5,3777.8 1247.7,3774.3 1250.9,3770.8 1254.2,3767.2 1257.4,3763.6 1260.6,3759.9 1263.9,3756.2 1267.1,3752.4 1270.3,3748.7 1273.6,3744.8 1276.8,3741.0 1280.0,3737.1 1283.3,3733.2 1286.5,3729.2 1289.7,3725.2 1293.0,3721.2 1296.2,3717.2 1299.4,3713.1 1302.7,3709.0 1305.9,3704.9 1309.1,3700.7 1312.4,3696.5 1315.6,3692.3 1318.8,3688.0 1322.1,3683.8 1325.3,3679.5 1328.5,3675.2 1331.7,3670.8 1335.0,3666.4 1338.2,3662.1 1341.4,3657.7 1344.7,3653.2 1347.9,3648.8 1351.1,3644.3 1354.4,3639.8 1357.6,3635.3 1360.8,3630.8 1364.1,3626.3 1367.3,3621.7 1370.5,3617.2 1373.8,3612.6 1377.0,3608.0 1380.2,3603.4 1383.5,3598.8 1386.7,3594.2 1389.9,3589.6 1393.2,3584.9 1396.4,3580.3 1399.6,3575.6 1402.8,3571.0 1406.1,3566.3 1409.3,3561.6 1412.5,3557.0 1415.8,3552.3 1419.0,3547.6 1422.2,3542.9 1425.5,3538.2 1428.7,3533.6 1431.9,3528.9 1435.2,3524.2 1438.4,3519.5 1441.6,3514.9 1444.9,3510.2 1448.1,3505.5 1451.3,3500.9 1454.6,3496.2 1457.8,3491.6 1461.0,3487.0 1464.3,3482.4 1467.5,3477.7 1470.7,3473.1 1473.9,3468.5 1477.2,3464.0 1480.4,3459.4 1483.6,3454.9 1486.9,3450.3 1490.1,3445.8 1493.3,3441.3 1496.6,3436.8 1499.8,3432.3 1503.0,3427.9 1506.3,3423.4 1509.5,3419.0 1512.7,3414.6 1516.0,3410.3 1519.2,3405.9 1522.4,3401.6 1525.7,3397.3 1528.9,3393.0 1532.1,3388.8 1535.4,3384.5 1538.6,3380.3 1541.8,3376.2 1545.0,3372.0 1548.3,3367.9 1551.5,3363.8 1554.7,3359.8 1558.0,3355.7 1561.2,3351.7 1564.4,3347.8 1567.7,3343.8 1570.9,3340.0 1574.1,3336.1 1577.4,3332.3 1580.6,3328.5 1583.8,3324.7 1587.1,3321.0 1590.3,3317.3 1593.5,3313.7 1596.8,3310.1 1600.0,3306.5 1603.2,3303.0 1606.5,3299.5 1609.7,3296.1 1612.9,3292.7 1616.2,3289.3 1619.4,3286.0 1622.6,3282.7 1625.8,3279.5 1629.1,3276.3 1632.3,3273.2 1635.5,3270.1 1638.8,3267.0 1642.0,3264.0 1645.2,3261.1 1648.5,3258.2 1651.7,3255.3 1654.9,3252.5 1658.2,3249.8 1661.4,3247.1 1664.6,3244.4 1667.9,3241.8 1671.1,3239.2 1674.3,3236.7 1677.6,3234.3 1680.8,3231.9 1684.0,3229.5 1687.3,3227.3 1690.5,3225.0 1693.7,3222.8 1696.9,3220.7 1700.2,3218.6 1703.4,3216.6 1706.6,3214.6 1709.9,3212.7 1713.1,3210.9 1716.3,3209.1 1719.6,3207.3 1722.8,3205.6 1726.0,3204.0 1729.3,3202.4 1732.5,3200.9 1735.7,3199.5 1739.0,3198.1 1742.2,3196.7 1745.4,3195.5 1748.7,3194.2 1751.9,3193.1 1755.1,3192.0 1758.4,3190.9 1761.6,3190.0 1764.8,3189.0 1768.0,3188.2 1771.3,3187.4 1774.5,3186.6 1777.7,3186.0 1781.0,3185.3 1784.2,3184.8 1787.4,3184.3 1790.7,3183.8 1793.9,3183.5 1797.1,3183.2 1800.4,3182.9 1803.6,3182.7" stroke="#ff00db"/>
<polyline points="252.3,3215.8 255.5,3215.8 258.8,3215.7 262.0,3215.7 265.2,3215.7 268.5,3215.8 271.7,3215.9 274.9,3216.0 278.2,3216.2 281.4,3216.4 284.6,3216.6 287.9,3216.9 291.1,3217.2 294.3,3217.5 297.5,3217.9 300.8,3218.3 304.0,3218.7 307.2,3219.2 310.5,3219.7 313.7,3220.2 316.9,3220.8 320.2,3221.3 323.4,3222.0 326.6,3222.6 329.9,3223.3 333.1,3224.1 336.3,3224.8 339.6,3225.6 342.8,3226.4 346.0,3227.3 349.3,3228.2 352.5,3229.1 355.7,3230.0 359.0,3231.0 362.2,3232.0 365.4,3233.0 368.6,3234.1 371.9,3235.2 375.1,3236.3 378.3,3237.5 381.6,3238.7 384.8,3239.9 388.0,3241.2 391.3,3242.4 394.5,3243.7 397.7,3245.1 401.0,3246.5 404.2,3247.8 407.4,3249.3 410.7,3250.7 413.9,3252.2 417.1,3253.7 420.4,3255.2 423.6,3256.8 426.8,3258.4 430.1,3260.0 433.3,3261.6 436.5,3263.3 439.7,3265.0 443.0,3266.7 446.2,3268.4 449.4,3270.2 452.7,3272.0 455.9,3273.8 459.1,3275.6 462.4,3277.5 465.6,3279.4 468.8,3281.3 472.1,3283.2 475.3,3285.1 478.5,3287.1 481.8,3289.1 485.0,3291.1 488.2,3293.1 491.5,3295.2 494.7,3297.3 497.9,3299.4 501.2,3301.5 504.4,3303.6 507.6,3305.8 510.8,3307.9 514.1,3310.1 517.3,3312.3 520.5,3314.5 523.8,3316.8 527.0,3319.0 530.2,3321.3 533.5,3323.6 536.7,3325.9 539.9,3328.2 543.2,3330.5 546.4,3332.9 549.6,3335.2 552.9,3337.6 556.1,3340.0 559.3,3342.4 562.6,3344.8 565.8,3347.2 569.0,3349.6 572.3,3352.0 575.5,3354.5 578.7,3357.0 582.0,3359.4 585.2,3361.9 588.4,3364.4 591.6,3366.9 594.9,3369.4 598.1,3371.9 601.3,3374.4 604.6,3376.9 607.8,3379.5 611.0,3382.0 614.3,3384.5 617.5,3387.1 620.7,3389.6 624.0,3392.2 627.2,3394.7 630.4,3397.3 633.7,3399.8 636.9,3402.4 640.1,3405.0 643.4,3407.5 646.6,3410.1 649.8,3412.7 653.1,3415.2 656.3,3417.8 659.5,3420.4 662.7,3422.9 666.0,3425.5 669.2,3428.0 672.4,3430.6 675.7,3433.2 678.9,3435.7 682.1,3438.2 685.4,3440.8 688.6,3443.3 691.8,3445.9 695.1,3448.4 698.3,3450.9 701.5,3453.4 704.8,3455.9 708.0,3458.4 711.2,3460.9 714.5,3463.4 717.7,3465.8 720.9,3468.3 724.2,3470.8 727.4,3473.2 730.6,3475.6 733.8,3478.1 737.1,3480.5 740.3,3482.9 743.5,3485.2 746.8,3487.6 750.0,3490.0 753.2,3492.3 756.5,3494.7 759.7,3497.0 762.9,3499.3 766.2,3501.6 769.4,3503.8 772.6,3506.1 775.9,3508.3 779.1,3510.6 782.3,3512.8 785.6,3515.0 788.8,3517.1 792.0,3519.3 795.3,3521.4 798.5,3523.5 801.7,3525.6 805.0,3527.7 808.2,3529.8 811.4,3531.8 814.6,3533.8 817.9,3535.8 821.1,3537.8 824.3,3539.8 827.6,3541.7 830.8,3543.6 834.0,3545.5 837.3,3547.4 840.5,3549.2 843.7,3551.0 847.0,3552.8 850.2,3554.6 853.4,3556.3 856.7,3558.0 859.9,3559.7 863.1,3561.4 866.4,3563.1 869.6,3564.7 872.8,3566.3 876.1,3567.8 879.3,3569.4 882.5,3570.9 885.7,3572.4 889.0,3573.8 892.2,3575.3 895.4,3576.7 898.7,3578.0 901.9,3579.4 905.1,3580.7 908.4,3582.0 911.6,3583.2 914.8,3584.5 918.1,3585.7 921.3,3586.8 924.5,3588.0 927.8,3589.1 931.0,3590.2 934.2,3591.2 937.5,3592.2 940.7,3593.2 943.9,3594.2 947.2,3595.1 950.4,3596.0 953.6,3596.8 956.8,3597.7 960.1,3598.5 963.3,3599.2 966.5,3600.0 969.8,3600.7 973.0,3601.3 976.2,3602.0 979.5,3602.6 982.7,3603.1 985.9,3603.7 989.2,3604.2 992.4,3604.7 995.6,3605.1 998.9,3605.5 1002.1,3605.9 1005.3,3606.2 1008.6,3606.5 1011.8,3606.8 1015.0,3607.0 1018.3,3607.2 1021.5,3607.4 1024.7,3607.6 1028.0,3607.7 1031.2,3607.7 1034.4,3607.8 1037.6,3607.8 1040.9,3607.7 1044.1,3607.7 1047.3,3607.6 1050.6,3607.5 1053.8,3607.3 1057.0,3607.1 1060.3,3606.9 1063.5,3606.6 1066.7,3606.3 1070.0,3606.0 1073.2,3605.6 1076.4,3605.2 1079.7,3604.8 1082.9,3604.3 1086.1,3603.8 1089.4,3603.3 1092.6,3602.7 1095.8,3602.1 1099.1,3601.5 1102.3,3600.9 1105.5,3600.2 1108.7,3599.4 1112.0,3598.7 1115.2,3597.9 1118.4,3597.1 1121.7,3596.2 1124.9,3595.3 1128.1,3594.4 1131.4,3593.5 1134.6,3592.5 1137.8,3591.5 1141.1,3590.5 1144.3,3589.4 1147.5,3588.3 1150.8,3587.2 1154.0,3586.0 1157.2,3584.8 1160.5,3583.6 1163.7,3582.3 1166.9,3581.0 1170.2,3579.7 1173.4,3578.4 1176.6,3577.0 1179.8,3575.6 1183.1,3574.2 1186.3,3572.8 1189.5,3571.3 1192.8,3569.8 1196.0,3568.3 1199.2,3566.7 1202.5,3565.1 1205.7,3563.5 1208.9,3561.9 1212.2,3560.2 1215.4,3558.5 1218.6,3556.8 1221.9,3555.1 1225.1,3553.3 1228.3,3551.5 1231.6,3549.7 1234.8,3547.9 1238.0,3546.0 1241.3,3544.1 1244.5,3542.2 1247.7,3540.3 1250.9,3538.4 1254.2,3536.4 1257.4,3534.4 1260.6,3532.4 1263.9,3530.3 1267.1,3528.3 1270.3,3526.2 1273.6,3524.1 1276.8,3522.0 1280.0,3519.9 1283.3,3517.7 1286.5,3515.6 1289.7,3513.4 1293.0,3511.2 1296.2,3509.0 1299.4,3506.7 1302.7,3504.5 1305.9,3502.2 1309.1,3499.9 1312.4,3497.6 1315.6,3495.3 1318.8,3493.0 1322.1,3490.6 1325.3,3488.3 1328.5,3485.9 1331.7,3483.5 1335.0,3481.1 1338.2,3478.7 1341.4,3476.3 1344.7,3473.9 1347.9,3471.4 1351.1,3469.0 1354.4,3466.5 1357.6,3464.1 1360.8,3461.6 1364.1,3459.1 1367.3,3456.6 1370.5,3454.1 1373.8,3451.6 1377.0,3449.1 1380.2,3446.6 1383.5,3444.0 1386.7,3441.5 1389.9,3439.0 1393.2,3436.4 1396.4,3433.9 1399.6,3431.3 1402.8,3428.8 1406.1,3426.2 1409.3,3423.6 1412.5,3421.1 1415.8,3418.5 1419.0,3416.0 1422.2,3413.4 1425.5,3410.8 1428.7,3408.3 1431.9,3405.7 1435.2,3403.1 1438.4,3400.6 1441.6,3398.0 1444.9,3395.4 1448.1,3392.9 1451.3,3390.3 1454.6,3387.8 1457.8,3385.2 1461.0,3382.7 1464.3,3380.2 1467.5,3377.6 1470.7,3375.1 1473.9,3372.6 1477.2,3370.1 1480.4,3367.6 1483.6,3365.1 1486.9,3362.6 1490.1,3360.1 1493.3,3357.6 1496.6,3355.2 1499.8,3352.7 1503.0,3350.3 1506.3,3347.9 1509.5,3345.4 1512.7,3343.0 1516.0,3340.6 1519.2,3338.2 1522.4,3335.9 1525.7,3333.5 1528.9,3331.2 1532.1,3328.8 1535.4,3326.5 1538.6,3324.2 1541.8,3321.9 1545.0,3319.7 1548.3,3317.4 1551.5,3315.2 1554.7,3312.9 1558.0,3310.7 1561.2,3308.5 1564.4,3306.4 1567.7,3304.2 1570.9,3302.1 1574.1,3300.0 1577.4,3297.9 1580.6,3295.8 1583.8,3293.7 1587.1,3291.7 1590.3,3289.7 1593.5,3287.7 1596.8,3285.7 1600.0,3283.7 1603.2,3281.8 1606.5,3279.9 1609.7,3278.0 1612.9,3276.1 1616.2,3274.3 1619.4,3272.5 1622.6,3270.7 1625.8,3268.9 1629.1,3267.2 1632.3,3265.4 1635.5,3263.8 1638.8,3262.1 1642.0,3260.4 1645.2,3258.8 1648.5,3257.2 1651.7,3255.7 1654.9,3254.1 1658.2,3252.6 1661.4,3251.1 1664.6,3249.7 1667.9,3248.2 1671.1,3246.8 1674.3,3245.5 1677.6,3244.1 1680.8,3242.8 1684.0,3241.5 1687.3,3240.3 1690.5,3239.0 1693.7,3237.8 1696.9,3236.7 1700.2,3235.5 1703.4,3234.4 1706.6,3233.3 1709.9,3232.3 1713.1,3231.3 1716.3,3230.3 1719.6,3229.3 1722.8,3228.4 1726.0,3227.5 1729.3,3226.7 1732.5,3225.8 1735.7,3225.0 1739.0,3224.3 1742.2,3223.5 1745.4,3222.8 1748.7,3222.2 1751.9,3221.5 1755.1,3220.9 1758.4,3220.3 1761.6,3219.8 1764.8,3219.3 1768.0,3218.8 1771.3,3218.4 1774.5,3218.0 1777.7,3217.6 1781.0,3217.3 1784.2,3217.0 1787.4,3216.7 1790.7,3216.5 1793.9,3216.2 1797.1,3216.1 1800.4,3215.9 1803.6,3215.8" stroke="#b600ff"/>
<polyline points="252.3,3233.5 255.5,3233.5 258.8,3233.4 262.0,3233.4 265.2,3233.4 268.5,3233.5 271.7,3233.5 274.9,3233.6 278.2,3233.7 281.4,3233.8 284.6,3233.9 287.9,3234.1 291.1,3234.3 294.3,3234.4 297.5,3234.6 300.8,3234.9 304.0,3235.1 307.2,3235.4 310.5,3235.6 313.7,3235.9 316.9,3236.3 320.2,3236.6 323.4,3236.9 326.6,3237.3 329.9,3237.7 333.1,3238.1 336.3,3238.5 339.6,3239.0 342.8,3239.4 346.0,3239.9 349.3,3240.4 352.5,3240.9 355.7,3241.5 359.0,3242.0 362.2,3242.6 365.4,3243.1 368.6,3243.7 371.9,3244.4 375.1,3245.0 378.3,3245.7 381.6,3246.3 384.8,3247.0 388.0,3247.7 391.3,3248.4 394.5,3249.2 397.7,3249.9 401.0,3250.7 404.2,3251.5 407.4,3252.2 410.7,3253.1 413.9,3253.9 417.1,3254.7 420.4,3255.6 423.6,3256.5 426.8,3257.4 430.1,3258.3 433.3,3259.2 436.5,3260.1 439.7,3261.1 443.0,3262.0 446.2,3263.0 449.4,3264.0 452.7,3265.0 455.9,3266.0 459.1,3267.0 462.4,3268.1 465.6,3269.1 468.8,3270.2 472.1,3271.3 475.3,3272.4 478.5,3273.5 481.8,3274.6 485.0,3275.7 488.2,3276.9 491.5,3278.0 494.7,3279.2 497.9,3280.3 501.2,3281.5 504.4,3282.7 507.6,3283.9 510.8,3285.1 514.1,3286.4 517.3,3287.6 520.5,3288.9 523.8,3290.1 527.0,3291.4 530.2,3292.6 533.5,3293.9 536.7,3295.2 539.9,3296.5 543.2,3297.8 546.4,3299.1 549.6,3300.5 552.9,3301.8 556.1,3303.1 559.3,3304.5 562.6,3305.8 565.8,3307.2 569.0,3308.5 572.3,3309.9 575.5,3311.3 578.7,3312.6 582.0,3314.0 585.2,3315.4 588.4,3316.8 591.6,3318.2 594.9,3319.6 598.1,3321.0 601.3,3322.4 604.6,3323.8 607.8,3325.3 611.0,3326.7 614.3,3328.1 617.5,3329.5 620.7,3331.0 624.0,3332.4 627.2,3333.8 630.4,3335.3 633.7,3336.7 636.9,3338.1 640.1,3339.6 643.4,3341.0 646.6,3342.5 649.8,3343.9 653.1,3345.3 656.3,3346.8 659.5,3348.2 662.7,3349.6 666.0,3351.1 669.2,3352.5 672.4,3353.9 675.7,3355.4 678.9,3356.8 682.1,3358.2 685.4,3359.7 688.6,3361.1 691.8,3362.5 695.1,3363.9 698.3,3365.3 701.5,3366.7 704.8,3368.1 708.0,3369.5 711.2,3370.9 714.5,3372.3 717.7,3373.7 720.9,3375.1 724.2,3376.5 727.4,3377.8 730.6,3379.2 733.8,3380.6 737.1,3381.9 740.3,3383.3 743.5,3384.6 746.8,3385.9 750.0,3387.2 753.2,3388.6 756.5,3389.9 759.7,3391.2 762.9,3392.5 766.2,3393.7 769.4,3395.0 772.6,3396.3 775.9,3397.5 779.1,3398.8 782.3,3400.0 785.6,3401.3 788.8,3402.5 792.0,3403.7 795.3,3404.9 798.5,3406.1 801.7,3407.2 805.0,3408.4 808.2,3409.6 811.4,3410.7 814.6,3411.8 817.9,3413.0 821.1,3414.1 824.3,3415.2 827.6,3416.2 830.8,3417.3 834.0,3418.4 837.3,3419.4 840.5,3420.5 843.7,3421.5 847.0,3422.5 850.2,3423.5 853.4,3424.5 856.7,3425.4 859.9,3426.4 863.1,3427.3 866.4,3428.2 869.6,3429.1 872.8,3430.0 876.1,3430.9 879.3,3431.8 882.5,3432.6 885.7,3433.5 889.0,3434.3 892.2,3435.1 895.4,3435.9 898.7,3436.6 901.9,3437.4 905.1,3438.1 908.4,3438.8 911.6,3439.5 914.8,3440.2 918.1,3440.9 921.3,3441.6 924.5,3442.2 927.8,3442.8 931.0,3443.4 934.2,3444.0 937.5,3444.6 940.7,3445.1 943.9,3445.7 947.2,3446.2 950.4,3446.7 953.6,3447.2 956.8,3447.6 960.1,3448.1 963.3,3448.5 966.5,3448.9 969.8,3449.3 973.0,3449.7 976.2,3450.1 979.5,3450.4 982.7,3450.7 985.9,3451.0 989.2,3451.3 992.4,3451.6 995.6,3451.8 998.9,3452.0 1002.1,3452.2 1005.3,3452.4 1008.6,3452.6 1011.8,3452.8 1015.0,3452.9 1018.3,3453.0 1021.5,3453.1 1024.7,3453.2 1028.0,3453.2 1031.2,3453.3 1034.4,3453.3 1037.6,3453.3 1040.9,3453.3 1044.1,3453.3 1047.3,3453.2 1050.6,3453.1 1053.8,3453.0 1057.0,3452.9 1060.3,3452.8 1063.5,3452.7 1066.7,3452.5 1070.0,3452.3 1073.2,3452.1 1076.4,3451.9 1079.7,3451.6 1082.9,3451.4 1086.1,3451.1 1089.4,3450.8 1092.6,3450.5 1095.8,3450.2 1099.1,3449.8 1102.3,3449.4 1105.5,3449.0 1108.7,3448.6 1112.0,3448.2 1115.2,3447.8 1118.4,3447.3 1121.7,3446.8 1124.9,3446.3 1128.1,3445.8 1131.4,3445.3 1134.6,3444.7 1137.8,3444.2 1141.1,3443.6 1144.3,3443.0 1147.5,3442.4 1150.8,3441.7 1154.0,3441.1 1157.2,3440.4 1160.5,3439.7 1163.7,3439.0 1166.9,3438.3 1170.2,3437.6 1173.4,3436.8 1176.6,3436.1 1179.8,3435.3 1183.1,3434.5 1186.3,3433.7 1189.5,3432.9 1192.8,3432.0 1196.0,3431.2 1199.2,3430.3 1202.5,3429.4 1205.7,3428.5 1208.9,3427.6 1212.2,3426.6 1215.4,3425.7 1218.6,3424.7 1221.9,3423.8 1225.1,3422.8 1228.3,3421.8 1231.6,3420.7 1234.8,3419.7 1238.0,3418.7 1241.3,3417.6 1244.5,3416.6 1247.7,3415.5 1250.9,3414.4 1254.2,3413.3 1257.4,3412.2 1260.6,3411.0 1263.9,3409.9 1267.1,3408.7 1270.3,3407.6 1273.6,3406.4 1276.8,3405.2 1280.0,3404.0 1283.3,3402.8 1286.5,3401.6 1289.7,3400.4 1293.0,3399.1 1296.2,3397.9 1299.4,3396.6 1302.7,3395.4 1305.9,3394.1 1309.1,3392.8 1312.4,3391.5 1315.6,3390.2 1318.8,3388.9 1322.1,3387.6 1325.3,3386.3 1328.5,3385.0 1331.7,3383.6 1335.0,3382.3 1338.2,3380.9 1341.4,3379.6 1344.7,3378.2 1347.9,3376.9 1351.1,3375.5 1354.4,3374.1 1357.6,3372.7 1360.8,3371.3 1364.1,3369.9 1367.3,3368.5 1370.5,3367.1 1373.8,3365.7 1377.0,3364.3 1380.2,3362.9 1383.5,3361.5 1386.7,3360.1 1389.9,3358.6 1393.2,3357.2 1396.4,3355.8 1399.6,3354.3 1402.8,3352.9 1406.1,3351.5 1409.3,3350.0 1412.5,3348.6 1415.8,3347.2 1419.0,3345.7 1422.2,3344.3 1425.5,3342.9 1428.7,3341.4 1431.9,3340.0 1435.2,3338.5 1438.4,3337.1 1441.6,3335.7 1444.9,3334.2 1448.1,3332.8 1451.3,3331.4 1454.6,3329.9 1457.8,3328.5 1461.0,3327.1 1464.3,3325.7 1467.5,3324.2 1470.7,3322.8 1473.9,3321.4 1477.2,3320.0 1480.4,3318.6 1483.6,3317.2 1486.9,3315.8 1490.1,3314.4 1493.3,3313.0 1496.6,3311.7 1499.8,3310.3 1503.0,3308.9 1506.3,3307.5 1509.5,3306.2 1512.7,3304.8 1516.0,3303.5 1519.2,3302.2 1522.4,3300.8 1525.7,3299.5 1528.9,3298.2 1532.1,3296.9 1535.4,3295.6 1538.6,3294.3 1541.8,3293.0 1545.0,3291.7 1548.3,3290.5 1551.5,3289.2 1554.7,3288.0 1558.0,3286.7 1561.2,3285.5 1564.4,3284.3 1567.7,3283.1 1570.9,3281.9 1574.1,3280.7 1577.4,3279.5 1580.6,3278.3 1583.8,3277.2 1587.1,3276.0 1590.3,3274.9 1593.5,3273.8 1596.8,3272.7 1600.0,3271.6 1603.2,3270.5 1606.5,3269.4 1609.7,3268.4 1612.9,3267.3 1616.2,3266.3 1619.4,3265.3 1622.6,3264.3 1625.8,3263.3 1629.1,3262.3 1632.3,3261.3 1635.5,3260.4 1638.8,3259.4 1642.0,3258.5 1645.2,3257.6 1648.5,3256.7 1651.7,3255.8 1654.9,3255.0 1658.2,3254.1 1661.4,3253.3 1664.6,3252.5 1667.9,3251.7 1671.1,3250.9 1674.3,3250.1 1677.6,3249.4 1680.8,3248.6 1684.0,3247.9 1687.3,3247.2 1690.5,3246.5 1693.7,3245.8 1696.9,3245.2 1700.2,3244.5 1703.4,3243.9 1706.6,3243.3 1709.9,3242.7 1713.1,3242.2 1716.3,3241.6 1719.6,3241.1 1722.8,3240.5 1726.0,3240.0 1729.3,3239.6 1732.5,3239.1 1735.7,3238.7 1739.0,3238.2 1742.2,3237.8 1745.4,3237.4 1748.7,3237.0 1751.9,3236.7 1755.1,3236.3 1758.4,3236.0 1761.6,3235.7 1764.8,3235.4 1768.0,3235.2 1771.3,3234.9 1774.5,3234.7 1777.7,3234.5 1781.0,3234.3 1784.2,3234.1 1787.4,3234.0 1790.7,3233.8 1793.9,3233.7 1797.1,3233.6 1800.4,3233.6 1803.6,3233.5" stroke="#4900ff"/>
<polyline points="252.3,3243.5 255.5,3243.5 258.8,3243.4 262.0,3243.4 265.2,3243.4 268.5,3243.5 271.7,3243.5 274.9,3243.5 278.2,3243.6 281.4,3243.7 284.6,3243.7 287.9,3243.8 291.1,3243.9 294.3,3244.0 297.5,3244.1 300.8,3244.2 304.0,3244.4 307.2,3244.5 310.5,3244.7 313.7,3244.8 316.9,3245.0 320.2,3245.2 323.4,3245.4 326.6,3245.6 329.9,3245.8 333.1,3246.0 336.3,3246.3 339.6,3246.5 342.8,3246.8 346.0,3247.1 349.3,3247.3 352.5,3247.6 355.7,3247.9 359.0,3248.2 362.2,3248.5 365.4,3248.9 368.6,3249.2 371.9,3249.5 375.1,3249.9 378.3,3250.3 381.6,3250.6 384.8,3251.0 388.0,3251.4 391.3,3251.8 394.5,3252.2 397.7,3252.6 401.0,3253.1 404.2,3253.5 407.4,3253.9 410.7,3254.4 413.9,3254.8 417.1,3255.3 420.4,3255.8 423.6,3256.3 426.8,3256.8 430.1,3257.3 433.3,3257.8 436.5,3258.3 439.7,3258.8 443.0,3259.4 446.2,3259.9 449.4,3260.5 452.7,3261.0 455.9,3261.6 459.1,3262.2 462.4,3262.8 465.6,3263.3 468.8,3263.9 472.1,3264.5 475.3,3265.2 478.5,3265.8 481.8,3266.4 485.0,3267.0 488.2,3267.7 491.5,3268.3 494.7,3268.9 497.9,3269.6 501.2,3270.3 504.4,3270.9 507.6,3271.6 510.8,3272.3 514.1,3273.0 517.3,3273.7 520.5,3274.3 523.8,3275.0 527.0,3275.8 530.2,3276.5 533.5,3277.2 536.7,3277.9 539.9,3278.6 543.2,3279.3 546.4,3280.1 549.6,3280.8 552.9,3281.6 556.1,3282.3 559.3,3283.0 562.6,3283.8 565.8,3284.6 569.0,3285.3 572.3,3286.1 575.5,3286.8 578.7,3287.6 582.0,3288.4 585.2,3289.2 588.4,3289.9 591.6,3290.7 594.9,3291.5 598.1,3292.3 601.3,3293.1 604.6,3293.9 607.8,3294.7 611.0,3295.4 614.3,3296.2 617.5,3297.0 620.7,3297.8 624.0,3298.6 627.2,3299.4 630.4,3300.2 633.7,3301.0 636.9,3301.8 640.1,3302.6 643.4,3303.4 646.6,3304.2 649.8,3305.0 653.1,3305.8 656.3,3306.6 659.5,3307.4 662.7,3308.2 666.0,3309.1 669.2,3309.9 672.4,3310.7 675.7,3311.4 678.9,3312.2 682.1,3313.0 685.4,3313.8 688.6,3314.6 691.8,3315.4 695.1,3316.2 698.3,3317.0 701.5,3317.8 704.8,3318.6 708.0,3319.3 711.2,3320.1 714.5,3320.9 717.7,3321.7 720.9,3322.4 724.2,3323.2 727.4,3324.0 730.6,3324.7 733.8,3325.5 737.1,3326.2 740.3,3327.0 743.5,3327.7 746.8,3328.5 750.0,3329.2 753.2,3330.0 756.5,3330.7 759.7,3331.4 762.9,3332.1 766.2,3332.8 769.4,3333.6 772.6,3334.3 775.9,3335.0 779.1,3335.7 782.3,3336.3 785.6,3337.0 788.8,3337.7 792.0,3338.4 795.3,3339.1 798.5,3339.7 801.7,3340.4 805.0,3341.0 808.2,3341.7 811.4,3342.3 814.6,3342.9 817.9,3343.6 821.1,3344.2 824.3,3344.8 827.6,3345.4 830.8,3346.0 834.0,3346.6 837.3,3347.2 840.5,3347.7 843.7,3348.3 847.0,3348.9 850.2,3349.4 853.4,3350.0 856.7,3350.5 859.9,3351.0 863.1,3351.6 866.4,3352.1 869.6,3352.6 872.8,3353.1 876.1,3353.6 879.3,3354.1 882.5,3354.5 885.7,3355.0 889.0,3355.4 892.2,3355.9 895.4,3356.3 898.7,3356.8 901.9,3357.2 905.1,3357.6 908.4,3358.0 911.6,3358.4 914.8,3358.8 918.1,3359.1 921.3,3359.5 924.5,3359.9 927.8,3360.2 931.0,3360.6 934.2,3360.9 937.5,3361.2 940.7,3361.5 943.9,3361.8 947.2,3362.1 950.4,3362.4 953.6,3362.6 956.8,3362.9 960.1,3363.2 963.3,3363.4 966.5,3363.6 969.8,3363.8 973.0,3364.1 976.2,3364.2 979.5,3364.4 982.7,3364.6 985.9,3364.8 989.2,3364.9 992.4,3365.1 995.6,3365.2 998.9,3365.4 1002.1,3365.5 1005.3,3365.6 1008.6,3365.7 1011.8,3365.8 1015.0,3365.8 1018.3,3365.9 1021.5,3366.0 1024.7,3366.0 1028.0,3366.0 1031.2,3366.1 1034.4,3366.1 1037.6,3366.1 1040.9,3366.1 1044.1,3366.0 1047.3,3366.0 1050.6,3366.0 1053.8,3365.9 1057.0,3365.9 1060.3,3365.8 1063.5,3365.7 1066.7,3365.6 1070.0,3365.5 1073.2,3365.4 1076.4,3365.3 1079.7,3365.1 1082.9,3365.0 1086.1,3364.8 1089.4,3364.7 1092.6,3364.5 1095.8,3364.3 1099.1,3364.1 1102.3,3363.9 1105.5,3363.7 1108.7,3363.5 1112.0,3363.2 1115.2,3363.0 1118.4,3362.7 1121.7,3362.5 1124.9,3362.2 1128.1,3361.9 1131.4,3361.6 1134.6,3361.3 1137.8,3361.0 1141.1,3360.6 1144.3,3360.3 1147.5,3360.0 1150.8,3359.6 1154.0,3359.3 1157.2,3358.9 1160.5,3358.5 1163.7,3358.1 1166.9,3357.7 1170.2,3357.3 1173.4,3356.9 1176.6,3356.5 1179.8,3356.0 1183.1,3355.6 1186.3,3355.1 1189.5,3354.7 1192.8,3354.2 1196.0,3353.7 1199.2,3353.2 1202.5,3352.7 1205.7,3352.2 1208.9,3351.7 1212.2,3351.2 1215.4,3350.7 1218.6,3350.1 1221.9,3349.6 1225.1,3349.0 1228.3,3348.5 1231.6,3347.9 1234.8,3347.3 1238.0,3346.7 1241.3,3346.2 1244.5,3345.6 1247.7,3345.0 1250.9,3344.4 1254.2,3343.7 1257.4,3343.1 1260.6,3342.5 1263.9,3341.8 1267.1,3341.2 1270.3,3340.6 1273.6,3339.9 1276.8,3339.2 1280.0,3338.6 1283.3,3337.9 1286.5,3337.2 1289.7,3336.5 1293.0,3335.9 1296.2,3335.2 1299.4,3334.5 1302.7,3333.8 1305.9,3333.0 1309.1,3332.3 1312.4,3331.6 1315.6,3330.9 1318.8,3330.2 1322.1,3329.4 1325.3,3328.7 1328.5,3327.9 1331.7,3327.2 1335.0,3326.5 1338.2,3325.7 1341.4,3324.9 1344.7,3324.2 1347.9,3323.4 1351.1,3322.7 1354.4,3321.9 1357.6,3321.1 1360.8,3320.3 1364.1,3319.6 1367.3,3318.8 1370.5,3318.0 1373.8,3317.2 1377.0,3316.4 1380.2,3315.6 1383.5,3314.9 1386.7,3314.1 1389.9,3313.3 1393.2,3312.5 1396.4,3311.7 1399.6,3310.9 1402.8,3310.1 1406.1,3309.3 1409.3,3308.5 1412.5,3307.7 1415.8,3306.9 1419.0,3306.1 1422.2,3305.3 1425.5,3304.5 1428.7,3303.7 1431.9,3302.9 1435.2,3302.1 1438.4,3301.3 1441.6,3300.5 1444.9,3299.7 1448.1,3298.9 1451.3,3298.1 1454.6,3297.3 1457.8,3296.5 1461.0,3295.7 1464.3,3294.9 1467.5,3294.1 1470.7,3293.3 1473.9,3292.5 1477.2,3291.7 1480.4,3290.9 1483.6,3290.2 1486.9,3289.4 1490.1,3288.6 1493.3,3287.8 1496.6,3287.1 1499.8,3286.3 1503.0,3285.5 1506.3,3284.8 1509.5,3284.0 1512.7,3283.3 1516.0,3282.5 1519.2,3281.8 1522.4,3281.0 1525.7,3280.3 1528.9,3279.6 1532.1,3278.8 1535.4,3278.1 1538.6,3277.4 1541.8,3276.7 1545.0,3275.9 1548.3,3275.2 1551.5,3274.5 1554.7,3273.8 1558.0,3273.2 1561.2,3272.5 1564.4,3271.8 1567.7,3271.1 1570.9,3270.4 1574.1,3269.8 1577.4,3269.1 1580.6,3268.5 1583.8,3267.8 1587.1,3267.2 1590.3,3266.6 1593.5,3265.9 1596.8,3265.3 1600.0,3264.7 1603.2,3264.1 1606.5,3263.5 1609.7,3262.9 1612.9,3262.3 1616.2,3261.8 1619.4,3261.2 1622.6,3260.6 1625.8,3260.1 1629.1,3259.5 1632.3,3259.0 1635.5,3258.5 1638.8,3257.9 1642.0,3257.4 1645.2,3256.9 1648.5,3256.4 1651.7,3255.9 1654.9,3255.5 1658.2,3255.0 1661.4,3254.5 1664.6,3254.1 1667.9,3253.6 1671.1,3253.2 1674.3,3252.7 1677.6,3252.3 1680.8,3251.9 1684.0,3251.5 1687.3,3251.1 1690.5,3250.7 1693.7,3250.4 1696.9,3250.0 1700.2,3249.6 1703.4,3249.3 1706.6,3249.0 1709.9,3248.6 1713.1,3248.3 1716.3,3248.0 1719.6,3247.7 1722.8,3247.4 1726.0,3247.1 1729.3,3246.9 1732.5,3246.6 1735.7,3246.4 1739.0,3246.1 1742.2,3245.9 1745.4,3245.7 1748.7,3245.5 1751.9,3245.3 1755.1,3245.1 1758.4,3244.9 1761.6,3244.7 1764.8,3244.6 1768.0,3244.4 1771.3,3244.3 1774.5,3244.1 1777.7,3244.0 1781.0,3243.9 1784.2,3243.8 1787.4,3243.7 1790.7,3243.7 1793.9,3243.6 1797.1,3243.6 1800.4,3243.5 1803.6,3243.5" stroke="#0024ff"/>
<polyline points="252.3,3249.4 255.5,3249.4 258.8,3249.4 262.0,3249.4 265.2,3249.4 268.5,3249.4 271.7,3249.4 274.9,3249.5 278.2,3249.5 281.4,3249.5 284.6,3249.6 287.9,3249.6 291.1,3249.6 294.3,3249.7 297.5,3249.8 300.8,3249.8 304.0,3249.9 307.2,3250.0 310.5,3250.1 313.7,3250.1 316.9,3250.2 320.2,3250.3 323.4,3250.4 326.6,3250.5 329.9,3250.7 333.1,3250.8 336.3,3250.9 339.6,3251.0 342.8,3251.2 346.0,3251.3 349.3,3251.5 352.5,3251.6 355.7,3251.8 359.0,3251.9 362.2,3252.1 365.4,3252.3 368.6,3252.4 371.9,3252.6 375.1,3252.8 378.3,3253.0 381.6,3253.2 384.8,3253.4 388.0,3253.6 391.3,3253.8 394.5,3254.0 397.7,3254.2 401.0,3254.5 404.2,3254.7 407.4,3254.9 410.7,3255.2 413.9,3255.4 417.1,3255.7 420.4,3255.9 423.6,3256.2 426.8,3256.4 430.1,3256.7 433.3,3257.0 436.5,3257.2 439.7,3257.5 443.0,3257.8 446.2,3258.1 449.4,3258.4 452.7,3258.7 455.9,3259.0 459.1,3259.3 462.4,3259.6 465.6,3259.9 468.8,3260.2 472.1,3260.5 475.3,3260.9 478.5,3261.2 481.8,3261.5 485.0,3261.8 488.2,3262.2 491.5,3262.5 494.7,3262.9 497.9,3263.2 501.2,3263.5 504.4,3263.9 507.6,3264.3 510.8,3264.6 514.1,3265.0 517.3,3265.3 520.5,3265.7 523.8,3266.1 527.0,3266.4 530.2,3266.8 533.5,3267.2 536.7,3267.6 539.9,3267.9 543.2,3268.3 546.4,3268.7 549.6,3269.1 552.9,3269.5 556.1,3269.9 559.3,3270.3 562.6,3270.7 565.8,3271.1 569.0,3271.5 572.3,3271.9 575.5,3272.3 578.7,3272.7 582.0,3273.1 585.2,3273.5 588.4,3273.9 591.6,3274.3 594.9,3274.7 598.1,3275.2 601.3,3275.6 604.6,3276.0 607.8,3276.4 611.0,3276.8 614.3,3277.2 617.5,3277.7 620.7,3278.1 624.0,3278.5 627.2,3278.9 630.4,3279.3 633.7,3279.8 636.9,3280.2 640.1,3280.6 643.4,3281.0 646.6,3281.5 649.8,3281.9 653.1,3282.3 656.3,3282.7 659.5,3283.1 662.7,3283.6 666.0,3284.0 669.2,3284.4 672.4,3284.8 675.7,3285.3 678.9,3285.7 682.1,3286.1 685.4,3286.5 688.6,3286.9 691.8,3287.3 695.1,3287.8 698.3,3288.2 701.5,3288.6 704.8,3289.0 708.0,3289.4 711.2,3289.8 714.5,3290.2 717.7,3290.6 720.9,3291.0 724.2,3291.5 727.4,3291.9 730.6,3292.3 733.8,3292.7 737.1,3293.1 740.3,3293.4 743.5,3293.8 746.8,3294.2 750.0,3294.6 753.2,3295.0 756.5,3295.4 759.7,3295.8 762.9,3296.2 766.2,3296.5 769.4,3296.9 772.6,3297.3 775.9,3297.6 779.1,3298.0 782.3,3298.4 785.6,3298.7 788.8,3299.1 792.0,3299.5 795.3,3299.8 798.5,3300.2 801.7,3300.5 805.0,3300.8 808.2,3301.2 811.4,3301.5 814.6,3301.9 817.9,3302.2 821.1,3302.5 824.3,3302.8 827.6,3303.1 830.8,3303.5 834.0,3303.8 837.3,3304.1 840.5,3304.4 843.7,3304.7 847.0,3305.0 850.2,3305.3 853.4,3305.6 856.7,3305.8 859.9,3306.1 863.1,3306.4 866.4,3306.7 869.6,3306.9 872.8,3307.2 876.1,3307.5 879.3,3307.7 882.5,3308.0 885.7,3308.2 889.0,3308.4 892.2,3308.7 895.4,3308.9 898.7,3309.1 901.9,3309.4 905.1,3309.6 908.4,3309.8 911.6,3310.0 914.8,3310.2 918.1,3310.4 921.3,3310.6 924.5,3310.8 927.8,3311.0 931.0,3311.1 934.2,3311.3 937.5,3311.5 940.7,3311.6 943.9,3311.8 947.2,3312.0 950.4,3312.1 953.6,3312.2 956.8,3312.4 960.1,3312.5 963.3,3312.6 966.5,3312.8 969.8,3312.9 973.0,3313.0 976.2,3313.1 979.5,3313.2 982.7,3313.3 985.9,3313.4 989.2,3313.5 992.4,3313.5 995.6,3313.6 998.9,3313.7 1002.1,3313.7 1005.3,3313.8 1008.6,3313.8 1011.8,3313.9 1015.0,3313.9 1018.3,3314.0 1021.5,3314.0 1024.7,3314.0 1028.0,3314.0 1031.2,3314.0 1034.4,3314.0 1037.6,3314.0 1040.9,3314.0 1044.1,3314.0 1047.3,3314.0 1050.6,3314.0 1053.8,3314.0 1057.0,3313.9 1060.3,3313.9 1063.5,3313.8 1066.7,3313.8 1070.0,3313.7 1073.2,3313.7 1076.4,3313.6 1079.7,3313.5 1082.9,3313.5 1086.1,3313.4 1089.4,3313.3 1092.6,3313.2 1095.8,3313.1 1099.1,3313.0 1102.3,3312.9 1105.5,3312.8 1108.7,3312.7 1112.0,3312.5 1115.2,3312.4 1118.4,3312.3 1121.7,3312.1 1124.9,3312.0 1128.1,3311.8 1131.4,3311.7 1134.6,3311.5 1137.8,3311.4 1141.1,3311.2 1144.3,3311.0 1147.5,3310.8 1150.8,3310.6 1154.0,3310.5 1157.2,3310.3 1160.5,3310.1 1163.7,3309.8 1166.9,3309.6 1170.2,3309.4 1173.4,3309.2 1176.6,3309.0 1179.8,3308.7 1183.1,3308.5 1186.3,3308.3 1189.5,3308.0 1192.8,3307.8 1196.0,3307.5 1199.2,3307.3 1202.5,3307.0 1205.7,3306.7 1208.9,3306.5 1212.2,3306.2 1215.4,3305.9 1218.6,3305.6 1221.9,3305.4 1225.1,3305.1 1228.3,3304.8 1231.6,3304.5 1234.8,3304.2 1238.0,3303.9 1241.3,3303.6 1244.5,3303.2 1247.7,3302.9 1250.9,3302.6 1254.2,3302.3 1257.4,3301.9 1260.6,3301.6 1263.9,3301.3 1267.1,3300.9 1270.3,3300.6 1273.6,3300.3 1276.8,3299.9 1280.0,3299.6 1283.3,3299.2 1286.5,3298.8 1289.7,3298.5 1293.0,3298.1 1296.2,3297.8 1299.4,3297.4 1302.7,3297.0 1305.9,3296.6 1309.1,3296.3 1312.4,3295.9 1315.6,3295.5 1318.8,3295.1 1322.1,3294.7 1325.3,3294.3 1328.5,3294.0 1331.7,3293.6 1335.0,3293.2 1338.2,3292.8 1341.4,3292.4 1344.7,3292.0 1347.9,3291.6 1351.1,3291.2 1354.4,3290.8 1357.6,3290.4 1360.8,3289.9 1364.1,3289.5 1367.3,3289.1 1370.5,3288.7 1373.8,3288.3 1377.0,3287.9 1380.2,3287.5 1383.5,3287.0 1386.7,3286.6 1389.9,3286.2 1393.2,3285.8 1396.4,3285.4 1399.6,3285.0 1402.8,3284.5 1406.1,3284.1 1409.3,3283.7 1412.5,3283.3 1415.8,3282.8 1419.0,3282.4 1422.2,3282.0 1425.5,3281.6 1428.7,3281.1 1431.9,3280.7 1435.2,3280.3 1438.4,3279.9 1441.6,3279.5 1444.9,3279.0 1448.1,3278.6 1451.3,3278.2 1454.6,3277.8 1457.8,3277.4 1461.0,3276.9 1464.3,3276.5 1467.5,3276.1 1470.7,3275.7 1473.9,3275.3 1477.2,3274.9 1480.4,3274.4 1483.6,3274.0 1486.9,3273.6 1490.1,3273.2 1493.3,3272.8 1496.6,3272.4 1499.8,3272.0 1503.0,3271.6 1506.3,3271.2 1509.5,3270.8 1512.7,3270.4 1516.0,3270.0 1519.2,3269.6 1522.4,3269.2 1525.7,3268.8 1528.9,3268.4 1532.1,3268.1 1535.4,3267.7 1538.6,3267.3 1541.8,3266.9 1545.0,3266.5 1548.3,3266.2 1551.5,3265.8 1554.7,3265.4 1558.0,3265.1 1561.2,3264.7 1564.4,3264.4 1567.7,3264.0 1570.9,3263.6 1574.1,3263.3 1577.4,3262.9 1580.6,3262.6 1583.8,3262.3 1587.1,3261.9 1590.3,3261.6 1593.5,3261.3 1596.8,3260.9 1600.0,3260.6 1603.2,3260.3 1606.5,3260.0 1609.7,3259.7 1612.9,3259.4 1616.2,3259.1 1619.4,3258.8 1622.6,3258.5 1625.8,3258.2 1629.1,3257.9 1632.3,3257.6 1635.5,3257.3 1638.8,3257.1 1642.0,3256.8 1645.2,3256.5 1648.5,3256.3 1651.7,3256.0 1654.9,3255.7 1658.2,3255.5 1661.4,3255.2 1664.6,3255.0 1667.9,3254.8 1671.1,3254.5 1674.3,3254.3 1677.6,3254.1 1680.8,3253.9 1684.0,3253.7 1687.3,3253.5 1690.5,3253.3 1693.7,3253.1 1696.9,3252.9 1700.2,3252.7 1703.4,3252.5 1706.6,3252.3 1709.9,3252.1 1713.1,3252.0 1716.3,3251.8 1719.6,3251.7 1722.8,3251.5 1726.0,3251.4 1729.3,3251.2 1732.5,3251.1 1735.7,3250.9 1739.0,3250.8 1742.2,3250.7 1745.4,3250.6 1748.7,3250.5 1751.9,3250.4 1755.1,3250.3 1758.4,3250.2 1761.6,3250.1 1764.8,3250.0 1768.0,3249.9 1771.3,3249.8 1774.5,3249.8 1777.7,3249.7 1781.0,3249.7 1784.2,3249.6 1787.4,3249.6 1790.7,3249.5 1793.9,3249.5 1797.1,3249.5 1800.4,3249.4 1803.6,3249.4" stroke="#0092ff"/>
<polyline points="252.3,3253.2 255.5,3253.2 258.8,3253.2 262.0,3253.2 265.2,3253.2 268.5,3253.2 271.7,3253.2 274.9,3253.2 278.2,3253.2 281.4,3253.2 284.6,3253.2 287.9,3253.2 291.1,3253.3 294.3,3253.3 297.5,3253.3 300.8,3253.3 304.0,3253.4 307.2,3253.4 310.5,3253.4 313.7,3253.5 316.9,3253.5 320.2,3253.6 323.4,3253.6 326.6,3253.7 329.9,3253.7 333.1,3253.8 336.3,3253.8 339.6,3253.9 342.8,3253.9 346.0,3254.0 349.3,3254.1 352.5,3254.1 355.7,3254.2 359.0,3254.3 362.2,3254.3 365.4,3254.4 368.6,3254.5 371.9,3254.6 375.1,3254.6 378.3,3254.7 381.6,3254.8 384.8,3254.9 388.0,3255.0 391.3,3255.1 394.5,3255.2 397.7,3255.3 401.0,3255.4 404.2,3255.5 407.4,3255.6 410.7,3255.7 413.9,3255.8 417.1,3255.9 420.4,3256.0 423.6,3256.1 426.8,3256.2 430.1,3256.3 433.3,3256.5 436.5,3256.6 439.7,3256.7 443.0,3256.8 446.2,3256.9 449.4,3257.1 452.7,3257.2 455.9,3257.3 459.1,3257.5 462.4,3257.6 465.6,3257.7 468.8,3257.9 472.1,3258.0 475.3,3258.1 478.5,3258.3 481.8,3258.4 485.0,3258.6 488.2,3258.7 491.5,3258.9 494.7,3259.0 497.9,3259.2 501.2,3259.3 504.4,3259.5 507.6,3259.6 510.8,3259.8 514.1,3259.9 517.3,3260.1 520.5,3260.3 523.8,3260.4 527.0,3260.6 530.2,3260.7 533.5,3260.9 536.7,3261.1 539.9,3261.2 543.2,3261.4 546.4,3261.6 549.6,3261.7 552.9,3261.9 556.1,3262.1 559.3,3262.3 562.6,3262.4 565.8,3262.6 569.0,3262.8 572.3,3263.0 575.5,3263.1 578.7,3263.3 582.0,3263.5 585.2,3263.7 588.4,3263.8 591.6,3264.0 594.9,3264.2 598.1,3264.4 601.3,3264.6 604.6,3264.7 607.8,3264.9 611.0,3265.1 614.3,3265.3 617.5,3265.5 620.7,3265.7 624.0,3265.8 627.2,3266.0 630.4,3266.2 633.7,3266.4 636.9,3266.6 640.1,3266.8 643.4,3266.9 646.6,3267.1 649.8,3267.3 653.1,3267.5 656.3,3267.7 659.5,3267.9 662.7,3268.1 666.0,3268.2 669.2,3268.4 672.4,3268.6 675.7,3268.8 678.9,3269.0 682.1,3269.2 685.4,3269.3 688.6,3269.5 691.8,3269.7 695.1,3269.9 698.3,3270.1 701.5,3270.2 704.8,3270.4 708.0,3270.6 711.2,3270.8 714.5,3271.0 717.7,3271.1 720.9,3271.3 724.2,3271.5 727.4,3271.7 730.6,3271.8 733.8,3272.0 737.1,3272.2 740.3,3272.4 743.5,3272.5 746.8,3272.7 750.0,3272.9 753.2,3273.0 756.5,3273.2 759.7,3273.4 762.9,3273.5 766.2,3273.7 769.4,3273.9 772.6,3274.0 775.9,3274.2 779.1,3274.4 782.3,3274.5 785.6,3274.7 788.8,3274.8 792.0,3275.0 795.3,3275.1 798.5,3275.3 801.7,3275.4 805.0,3275.6 808.2,3275.7 811.4,3275.9 814.6,3276.0 817.9,3276.2 821.1,3276.3 824.3,3276.5 827.6,3276.6 830.8,3276.7 834.0,3276.9 837.3,3277.0 840.5,3277.1 843.7,3277.3 847.0,3277.4 850.2,3277.5 853.4,3277.6 856.7,3277.8 859.9,3277.9 863.1,3278.0 866.4,3278.1 869.6,3278.2 872.8,3278.4 876.1,3278.5 879.3,3278.6 882.5,3278.7 885.7,3278.8 889.0,3278.9 892.2,3279.0 895.4,3279.1 898.7,3279.2 901.9,3279.3 905.1,3279.4 908.4,3279.5 911.6,3279.6 914.8,3279.7 918.1,3279.8 921.3,3279.8 924.5,3279.9 927.8,3280.0 931.0,3280.1 934.2,3280.1 937.5,3280.2 940.7,3280.3 943.9,3280.4 947.2,3280.4 950.4,3280.5 953.6,3280.6 956.8,3280.6 960.1,3280.7 963.3,3280.7 966.5,3280.8 969.8,3280.8 973.0,3280.9 976.2,3280.9 979.5,3281.0 982.7,3281.0 985.9,3281.0 989.2,3281.1 992.4,3281.1 995.6,3281.1 998.9,3281.2 1002.1,3281.2 1005.3,3281.2 1008.6,3281.3 1011.8,3281.3 1015.0,3281.3 1018.3,3281.3 1021.5,3281.3 1024.7,3281.3 1028.0,3281.3 1031.2,3281.3 1034.4,3281.3 1037.6,3281.3 1040.9,3281.3 1044.1,3281.3 1047.3,3281.3 1050.6,3281.3 1053.8,3281.3 1057.0,3281.3 1060.3,3281.3 1063.5,3281.3 1066.7,3281.2 1070.0,3281.2 1073.2,3281.2 1076.4,3281.2 1079.7,3281.1 1082.9,3281.1 1086.1,3281.1 1089.4,3281.0 1092.6,3281.0 1095.8,3280.9 1099.1,3280.9 1102.3,3280.8 1105.5,3280.8 1108.7,3280.7 1112.0,3280.7 1115.2,3280.6 1118.4,3280.6 1121.7,3280.5 1124.9,3280.4 1128.1,3280.4 1131.4,3280.3 1134.6,3280.2 1137.8,3280.2 1141.1,3280.1 1144.3,3280.0 1147.5,3279.9 1150.8,3279.9 1154.0,3279.8 1157.2,3279.7 1160.5,3279.6 1163.7,3279.5 1166.9,3279.4 1170.2,3279.3 1173.4,3279.2 1176.6,3279.1 1179.8,3279.0 1183.1,3278.9 1186.3,3278.8 1189.5,3278.7 1192.8,3278.6 1196.0,3278.5 1199.2,3278.4 1202.5,3278.3 1205.7,3278.2 1208.9,3278.0 1212.2,3277.9 1215.4,3277.8 1218.6,3277.7 1221.9,3277.6 1225.1,3277.4 1228.3,3277.3 1231.6,3277.2 1234.8,3277.0 1238.0,3276.9 1241.3,3276.8 1244.5,3276.6 1247.7,3276.5 1250.9,3276.4 1254.2,3276.2 1257.4,3276.1 1260.6,3275.9 1263.9,3275.8 1267.1,3275.6 1270.3,3275.5 1273.6,3275.3 1276.8,3275.2 1280.0,3275.0 1283.3,3274.9 1286.5,3274.7 1289.7,3274.6 1293.0,3274.4 1296.2,3274.2 1299.4,3274.1 1302.7,3273.9 1305.9,3273.8 1309.1,3273.6 1312.4,3273.4 1315.6,3273.3 1318.8,3273.1 1322.1,3272.9 1325.3,3272.8 1328.5,3272.6 1331.7,3272.4 1335.0,3272.2 1338.2,3272.1 1341.4,3271.9 1344.7,3271.7 1347.9,3271.5 1351.1,3271.4 1354.4,3271.2 1357.6,3271.0 1360.8,3270.8 1364.1,3270.7 1367.3,3270.5 1370.5,3270.3 1373.8,3270.1 1377.0,3269.9 1380.2,3269.8 1383.5,3269.6 1386.7,3269.4 1389.9,3269.2 1393.2,3269.0 1396.4,3268.8 1399.6,3268.7 1402.8,3268.5 1406.1,3268.3 1409.3,3268.1 1412.5,3267.9 1415.8,3267.7 1419.0,3267.6 1422.2,3267.4 1425.5,3267.2 1428.7,3267.0 1431.9,3266.8 1435.2,3266.6 1438.4,3266.4 1441.6,3266.3 1444.9,3266.1 1448.1,3265.9 1451.3,3265.7 1454.6,3265.5 1457.8,3265.3 1461.0,3265.2 1464.3,3265.0 1467.5,3264.8 1470.7,3264.6 1473.9,3264.4 1477.2,3264.3 1480.4,3264.1 1483.6,3263.9 1486.9,3263.7 1490.1,3263.5 1493.3,3263.4 1496.6,3263.2 1499.8,3263.0 1503.0,3262.8 1506.3,3262.7 1509.5,3262.5 1512.7,3262.3 1516.0,3262.1 1519.2,3262.0 1522.4,3261.8 1525.7,3261.6 1528.9,3261.5 1532.1,3261.3 1535.4,3261.1 1538.6,3261.0 1541.8,3260.8 1545.0,3260.6 1548.3,3260.5 1551.5,3260.3 1554.7,3260.1 1558.0,3260.0 1561.2,3259.8 1564.4,3259.7 1567.7,3259.5 1570.9,3259.4 1574.1,3259.2 1577.4,3259.1 1580.6,3258.9 1583.8,3258.8 1587.1,3258.6 1590.3,3258.5 1593.5,3258.3 1596.8,3258.2 1600.0,3258.0 1603.2,3257.9 1606.5,3257.8 1609.7,3257.6 1612.9,3257.5 1616.2,3257.4 1619.4,3257.2 1622.6,3257.1 1625.8,3257.0 1629.1,3256.9 1632.3,3256.7 1635.5,3256.6 1638.8,3256.5 1642.0,3256.4 1645.2,3256.3 1648.5,3256.1 1651.7,3256.0 1654.9,3255.9 1658.2,3255.8 1661.4,3255.7 1664.6,3255.6 1667.9,3255.5 1671.1,3255.4 1674.3,3255.3 1677.6,3255.2 1680.8,3255.1 1684.0,3255.0 1687.3,3254.9 1690.5,3254.8 1693.7,3254.7 1696.9,3254.7 1700.2,3254.6 1703.4,3254.5 1706.6,3254.4 1709.9,3254.3 1713.1,3254.3 1716.3,3254.2 1719.6,3254.1 1722.8,3254.1 1726.0,3254.0 1729.3,3253.9 1732.5,3253.9 1735.7,3253.8 1739.0,3253.8 1742.2,3253.7 1745.4,3253.7 1748.7,3253.6 1751.9,3253.6 1755.1,3253.5 1758.4,3253.5 1761.6,3253.5 1764.8,3253.4 1768.0,3253.4 1771.3,3253.3 1774.5,3253.3 1777.7,3253.3 1781.0,3253.3 1784.2,3253.2 1787.4,3253.2 1790.7,3253.2 1793.9,3253.2 1797.1,3253.2 1800.4,3253.2 1803.6,3253.2" stroke="#00ffff"/>
<polyline points="252.3,3255.6 255.5,3255.6 258.8,3255.6 262.0,3255.6 265.2,3255.6 268.5,3255.6 271.7,3255.6 274.9,3255.6 278.2,3255.6 281.4,3255.6 284.6,3255.7 287.9,3255.7 291.1,3255.7 294.3,3255.7 297.5,3255.7 300.8,3255.7 304.0,3255.7 307.2,3255.7 310.5,3255.7 313.7,3255.7 316.9,3255.7 320.2,3255.7 323.4,3255.7 326.6,3255.7 329.9,3255.7 333.1,3255.7 336.3,3255.7 339.6,3255.7 342.8,3255.8 346.0,3255.8 349.3,3255.8 352.5,3255.8 355.7,3255.8 359.0,3255.8 362.2,3255.8 365.4,3255.8 368.6,3255.8 371.9,3255.8 375.1,3255.9 378.3,3255.9 381.6,3255.9 384.8,3255.9 388.0,3255.9 391.3,3255.9 394.5,3255.9 397.7,3255.9 401.0,3256.0 404.2,3256.0 407.4,3256.0 410.7,3256.0 413.9,3256.0 417.1,3256.0 420.4,3256.0 423.6,3256.1 426.8,3256.1 430.1,3256.1 433.3,3256.1 436.5,3256.1 439.7,3256.1 443.0,3256.2 446.2,3256.2 449.4,3256.2 452.7,3256.2 455.9,3256.2 459.1,3256.3 462.4,3256.3 465.6,3256.3 468.8,3256.3 472.1,3256.3 475.3,3256.4 478.5,3256.4 481.8,3256.4 485.0,3256.4 488.2,3256.4 491.5,3256.5 494.7,3256.5 497.9,3256.5 501.2,3256.5 504.4,3256.5 507.6,3256.6 510.8,3256.6 514.1,3256.6 517.3,3256.6 520.5,3256.7 523.8,3256.7 527.0,3256.7 530.2,3256.7 533.5,3256.8 536.7,3256.8 539.9,3256.8 543.2,3256.8 546.4,3256.8 549.6,3256.9 552.9,3256.9 556.1,3256.9 559.3,3256.9 562.6,3257.0 565.8,3257.0 569.0,3257.0 572.3,3257.0 575.5,3257.1 578.7,3257.1 582.0,3257.1 585.2,3257.1 588.4,3257.2 591.6,3257.2 594.9,3257.2 598.1,3257.2 601.3,3257.3 604.6,3257.3 607.8,3257.3 611.0,3257.4 614.3,3257.4 617.5,3257.4 620.7,3257.4 624.0,3257.5 627.2,3257.5 630.4,3257.5 633.7,3257.5 636.9,3257.6 640.1,3257.6 643.4,3257.6 646.6,3257.6 649.8,3257.7 653.1,3257.7 656.3,3257.7 659.5,3257.7 662.7,3257.8 666.0,3257.8 669.2,3257.8 672.4,3257.8 675.7,3257.9 678.9,3257.9 682.1,3257.9 685.4,3258.0 688.6,3258.0 691.8,3258.0 695.1,3258.0 698.3,3258.1 701.5,3258.1 704.8,3258.1 708.0,3258.1 711.2,3258.2 714.5,3258.2 717.7,3258.2 720.9,3258.2 724.2,3258.3 727.4,3258.3 730.6,3258.3 733.8,3258.3 737.1,3258.4 740.3,3258.4 743.5,3258.4 746.8,3258.4 750.0,3258.5 753.2,3258.5 756.5,3258.5 759.7,3258.5 762.9,3258.6 766.2,3258.6 769.4,3258.6 772.6,3258.6 775.9,3258.6 779.1,3258.7 782.3,3258.7 785.6,3258.7 788.8,3258.7 792.0,3258.8 795.3,3258.8 798.5,3258.8 801.7,3258.8 805.0,3258.8 808.2,3258.9 811.4,3258.9 814.6,3258.9 817.9,3258.9 821.1,3259.0 824.3,3259.0 827.6,3259.0 830.8,3259.0 834.0,3259.0 837.3,3259.0 840.5,3259.1 843.7,3259.1 847.0,3259.1 850.2,3259.1 853.4,3259.1 856.7,3259.2 859.9,3259.2 863.1,3259.2 866.4,3259.2 869.6,3259.2 872.8,3259.2 876.1,3259.3 879.3,3259.3 882.5,3259.3 885.7,3259.3 889.0,3259.3 892.2,3259.3 895.4,3259.3 898.7,3259.4 901.9,3259.4 905.1,3259.4 908.4,3259.4 911.6,3259.4 914.8,3259.4 918.1,3259.4 921.3,3259.5 924.5,3259.5 927.8,3259.5 931.0,3259.5 934.2,3259.5 937.5,3259.5 940.7,3259.5 943.9,3259.5 947.2,3259.5 950.4,3259.5 953.6,3259.6 956.8,3259.6 960.1,3259.6 963.3,3259.6 966.5,3259.6 969.8,3259.6 973.0,3259.6 976.2,3259.6 979.5,3259.6 982.7,3259.6 985.9,3259.6 989.2,3259.6 992.4,3259.6 995.6,3259.6 998.9,3259.6 1002.1,3259.6 1005.3,3259.7 1008.6,3259.7 1011.8,3259.7 1015.0,3259.7 1018.3,3259.7 1021.5,3259.7 1024.7,3259.7 1028.0,3259.7 1031.2,3259.7 1034.4,3259.7 1037.6,3259.7 1040.9,3259.7 1044.1,3259.7 1047.3,3259.7 1050.6,3259.7 1053.8,3259.7 1057.0,3259.7 1060.3,3259.7 1063.5,3259.7 1066.7,3259.7 1070.0,3259.7 1073.2,3259.6 1076.4,3259.6 1079.7,3259.6 1082.9,3259.6 1086.1,3259.6 1089.4,3259.6 1092.6,3259.6 1095.8,3259.6 1099.1,3259.6 1102.3,3259.6 1105.5,3259.6 1108.7,3259.6 1112.0,3259.6 1115.2,3259.6 1118.4,3259.6 1121.7,3259.6 1124.9,3259.5 1128.1,3259.5 1131.4,3259.5 1134.6,3259.5 1137.8,3259.5 1141.1,3259.5 1144.3,3259.5 1147.5,3259.5 1150.8,3259.5 1154.0,3259.4 1157.2,3259.4 1160.5,3259.4 1163.7,3259.4 1166.9,3259.4 1170.2,3259.4 1173.4,3259.4 1176.6,3259.4 1179.8,3259.3 1183.1,3259.3 1186.3,3259.3 1189.5,3259.3 1192.8,3259.3 1196.0,3259.3 1199.2,3259.2 1202.5,3259.2 1205.7,3259.2 1208.9,3259.2 1212.2,3259.2 1215.4,3259.2 1218.6,3259.1 1221.9,3259.1 1225.1,3259.1 1228.3,3259.1 1231.6,3259.1 1234.8,3259.1 1238.0,3259.0 1241.3,3259.0 1244.5,3259.0 1247.7,3259.0 1250.9,3259.0 1254.2,3258.9 1257.4,3258.9 1260.6,3258.9 1263.9,3258.9 1267.1,3258.9 1270.3,3258.8 1273.6,3258.8 1276.8,3258.8 1280.0,3258.8 1283.3,3258.7 1286.5,3258.7 1289.7,3258.7 1293.0,3258.7 1296.2,3258.7 1299.4,3258.6 1302.7,3258.6 1305.9,3258.6 1309.1,3258.6 1312.4,3258.5 1315.6,3258.5 1318.8,3258.5 1322.1,3258.5 1325.3,3258.4 1328.5,3258.4 1331.7,3258.4 1335.0,3258.4 1338.2,3258.3 1341.4,3258.3 1344.7,3258.3 1347.9,3258.3 1351.1,3258.2 1354.4,3258.2 1357.6,3258.2 1360.8,3258.2 1364.1,3258.1 1367.3,3258.1 1370.5,3258.1 1373.8,3258.1 1377.0,3258.0 1380.2,3258.0 1383.5,3258.0 1386.7,3258.0 1389.9,3257.9 1393.2,3257.9 1396.4,3257.9 1399.6,3257.9 1402.8,3257.8 1406.1,3257.8 1409.3,3257.8 1412.5,3257.8 1415.8,3257.7 1419.0,3257.7 1422.2,3257.7 1425.5,3257.6 1428.7,3257.6 1431.9,3257.6 1435.2,3257.6 1438.4,3257.5 1441.6,3257.5 1444.9,3257.5 1448.1,3257.5 1451.3,3257.4 1454.6,3257.4 1457.8,3257.4 1461.0,3257.4 1464.3,3257.3 1467.5,3257.3 1470.7,3257.3 1473.9,3257.3 1477.2,3257.2 1480.4,3257.2 1483.6,3257.2 1486.9,3257.2 1490.1,3257.1 1493.3,3257.1 1496.6,3257.1 1499.8,3257.1 1503.0,3257.0 1506.3,3257.0 1509.5,3257.0 1512.7,3257.0 1516.0,3256.9 1519.2,3256.9 1522.4,3256.9 1525.7,3256.9 1528.9,3256.8 1532.1,3256.8 1535.4,3256.8 1538.6,3256.8 1541.8,3256.7 1545.0,3256.7 1548.3,3256.7 1551.5,3256.7 1554.7,3256.6 1558.0,3256.6 1561.2,3256.6 1564.4,3256.6 1567.7,3256.6 1570.9,3256.5 1574.1,3256.5 1577.4,3256.5 1580.6,3256.5 1583.8,3256.4 1587.1,3256.4 1590.3,3256.4 1593.5,3256.4 1596.8,3256.4 1600.0,3256.3 1603.2,3256.3 1606.5,3256.3 1609.7,3256.3 1612.9,3256.3 1616.2,3256.2 1619.4,3256.2 1622.6,3256.2 1625.8,3256.2 1629.1,3256.2 1632.3,3256.2 1635.5,3256.1 1638.8,3256.1 1642.0,3256.1 1645.2,3256.1 1648.5,3256.1 1651.7,3256.1 1654.9,3256.0 1658.2,3256.0 1661.4,3256.0 1664.6,3256.0 1667.9,3256.0 1671.1,3256.0 1674.3,3255.9 1677.6,3255.9 1680.8,3255.9 1684.0,3255.9 1687.3,3255.9 1690.5,3255.9 1693.7,3255.9 1696.9,3255.9 1700.2,3255.8 1703.4,3255.8 1706.6,3255.8 1709.9,3255.8 1713.1,3255.8 1716.3,3255.8 1719.6,3255.8 1722.8,3255.8 1726.0,3255.8 1729.3,3255.8 1732.5,3255.7 1735.7,3255.7 1739.0,3255.7 1742.2,3255.7 1745.4,3255.7 1748.7,3255.7 1751.9,3255.7 1755.1,3255.7 1758.4,3255.7 1761.6,3255.7 1764.8,3255.7 1768.0,3255.7 1771.3,3255.7 1774.5,3255.7 1777.7,3255.7 1781.0,3255.7 1784.2,3255.7 1787.4,3255.7 1790.7,3255.7 1793.9,3255.6 1797.1,3255.6 1800.4,3255.6 1803.6,3255.6" stroke="#00ff92"/>
<polyline points="252.3,3257.4 255.5,3257.4 258.8,3257.4 262.0,3257.4 265.2,3257.4 268.5,3257.4 271.7,3257.4 274.9,3257.4 278.2,3257.4 281.4,3257.4 284.6,3257.4 287.9,3257.3 291.1,3257.3 294.3,3257.3 297.5,3257.3 300.8,3257.3 304.0,3257.3 307.2,3257.3 310.5,3257.3 313.7,3257.2 316.9,3257.2 320.2,3257.2 323.4,3257.2 326.6,3257.2 329.9,3257.1 333.1,3257.1 336.3,3257.1 339.6,3257.1 342.8,3257.0 346.0,3257.0 349.3,3257.0 352.5,3256.9 355.7,3256.9 359.0,3256.9 362.2,3256.8 365.4,3256.8 368.6,3256.8 371.9,3256.7 375.1,3256.7 378.3,3256.7 381.6,3256.6 384.8,3256.6 388.0,3256.5 391.3,3256.5 394.5,3256.5 397.7,3256.4 401.0,3256.4 404.2,3256.3 407.4,3256.3 410.7,3256.2 413.9,3256.2 417.1,3256.1 420.4,3256.1 423.6,3256.0 426.8,3256.0 430.1,3255.9 433.3,3255.9 436.5,3255.8 439.7,3255.8 443.0,3255.7 446.2,3255.7 449.4,3255.6 452.7,3255.5 455.9,3255.5 459.1,3255.4 462.4,3255.4 465.6,3255.3 468.8,3255.2 472.1,3255.2 475.3,3255.1 478.5,3255.0 481.8,3255.0 485.0,3254.9 488.2,3254.8 491.5,3254.8 494.7,3254.7 497.9,3254.6 501.2,3254.6 504.4,3254.5 507.6,3254.4 510.8,3254.4 514.1,3254.3 517.3,3254.2 520.5,3254.1 523.8,3254.1 527.0,3254.0 530.2,3253.9 533.5,3253.8 536.7,3253.8 539.9,3253.7 543.2,3253.6 546.4,3253.5 549.6,3253.5 552.9,3253.4 556.1,3253.3 559.3,3253.2 562.6,3253.1 565.8,3253.1 569.0,3253.0 572.3,3252.9 575.5,3252.8 578.7,3252.7 582.0,3252.7 585.2,3252.6 588.4,3252.5 591.6,3252.4 594.9,3252.3 598.1,3252.3 601.3,3252.2 604.6,3252.1 607.8,3252.0 611.0,3251.9 614.3,3251.8 617.5,3251.8 620.7,3251.7 624.0,3251.6 627.2,3251.5 630.4,3251.4 633.7,3251.3 636.9,3251.3 640.1,3251.2 643.4,3251.1 646.6,3251.0 649.8,3250.9 653.1,3250.8 656.3,3250.7 659.5,3250.7 662.7,3250.6 666.0,3250.5 669.2,3250.4 672.4,3250.3 675.7,3250.2 678.9,3250.2 682.1,3250.1 685.4,3250.0 688.6,3249.9 691.8,3249.8 695.1,3249.7 698.3,3249.7 701.5,3249.6 704.8,3249.5 708.0,3249.4 711.2,3249.3 714.5,3249.3 717.7,3249.2 720.9,3249.1 724.2,3249.0 727.4,3248.9 730.6,3248.9 733.8,3248.8 737.1,3248.7 740.3,3248.6 743.5,3248.5 746.8,3248.5 750.0,3248.4 753.2,3248.3 756.5,3248.2 759.7,3248.2 762.9,3248.1 766.2,3248.0 769.4,3247.9 772.6,3247.9 775.9,3247.8 779.1,3247.7 782.3,3247.6 785.6,3247.6 788.8,3247.5 792.0,3247.4 795.3,3247.3 798.5,3247.3 801.7,3247.2 805.0,3247.1 808.2,3247.1 811.4,3247.0 814.6,3246.9 817.9,3246.9 821.1,3246.8 824.3,3246.7 827.6,3246.7 830.8,3246.6 834.0,3246.6 837.3,3246.5 840.5,3246.4 843.7,3246.4 847.0,3246.3 850.2,3246.3 853.4,3246.2 856.7,3246.1 859.9,3246.1 863.1,3246.0 866.4,3246.0 869.6,3245.9 872.8,3245.9 876.1,3245.8 879.3,3245.8 882.5,3245.7 885.7,3245.7 889.0,3245.6 892.2,3245.6 895.4,3245.5 898.7,3245.5 901.9,3245.4 905.1,3245.4 908.4,3245.4 911.6,3245.3 914.8,3245.3 918.1,3245.2 921.3,3245.2 924.5,3245.2 927.8,3245.1 931.0,3245.1 934.2,3245.1 937.5,3245.0 940.7,3245.0 943.9,3245.0 947.2,3244.9 950.4,3244.9 953.6,3244.9 956.8,3244.8 960.1,3244.8 963.3,3244.8 966.5,3244.8 969.8,3244.7 973.0,3244.7 976.2,3244.7 979.5,3244.7 982.7,3244.7 985.9,3244.7 989.2,3244.6 992.4,3244.6 995.6,3244.6 998.9,3244.6 1002.1,3244.6 1005.3,3244.6 1008.6,3244.6 1011.8,3244.5 1015.0,3244.5 1018.3,3244.5 1021.5,3244.5 1024.7,3244.5 1028.0,3244.5 1031.2,3244.5 1034.4,3244.5 1037.6,3244.5 1040.9,3244.5 1044.1,3244.5 1047.3,3244.5 1050.6,3244.5 1053.8,3244.5 1057.0,3244.5 1060.3,3244.5 1063.5,3244.6 1066.7,3244.6 1070.0,3244.6 1073.2,3244.6 1076.4,3244.6 1079.7,3244.6 1082.9,3244.6 1086.1,3244.6 1089.4,3244.7 1092.6,3244.7 1095.8,3244.7 1099.1,3244.7 1102.3,3244.7 1105.5,3244.8 1108.7,3244.8 1112.0,3244.8 1115.2,3244.8 1118.4,3244.9 1121.7,3244.9 1124.9,3244.9 1128.1,3245.0 1131.4,3245.0 1134.6,3245.0 1137.8,3245.1 1141.1,3245.1 1144.3,3245.1 1147.5,3245.2 1150.8,3245.2 1154.0,3245.2 1157.2,3245.3 1160.5,3245.3 1163.7,3245.4 1166.9,3245.4 1170.2,3245.4 1173.4,3245.5 1176.6,3245.5 1179.8,3245.6 1183.1,3245.6 1186.3,3245.7 1189.5,3245.7 1192.8,3245.8 1196.0,3245.8 1199.2,3245.9 1202.5,3245.9 1205.7,3246.0 1208.9,3246.0 1212.2,3246.1 1215.4,3246.1 1218.6,3246.2 1221.9,3246.2 1225.1,3246.3 1228.3,3246.4 1231.6,3246.4 1234.8,3246.5 1238.0,3246.5 1241.3,3246.6 1244.5,3246.7 1247.7,3246.7 1250.9,3246.8 1254.2,3246.9 1257.4,3246.9 1260.6,3247.0 1263.9,3247.1 1267.1,3247.1 1270.3,3247.2 1273.6,3247.3 1276.8,3247.3 1280.0,3247.4 1283.3,3247.5 1286.5,3247.5 1289.7,3247.6 1293.0,3247.7 1296.2,3247.8 1299.4,3247.8 1302.7,3247.9 1305.9,3248.0 1309.1,3248.1 1312.4,3248.1 1315.6,3248.2 1318.8,3248.3 1322.1,3248.4 1325.3,3248.4 1328.5,3248.5 1331.7,3248.6 1335.0,3248.7 1338.2,3248.8 1341.4,3248.8 1344.7,3248.9 1347.9,3249.0 1351.1,3249.1 1354.4,3249.2 1357.6,3249.2 1360.8,3249.3 1364.1,3249.4 1367.3,3249.5 1370.5,3249.6 1373.8,3249.6 1377.0,3249.7 1380.2,3249.8 1383.5,3249.9 1386.7,3250.0 1389.9,3250.1 1393.2,3250.1 1396.4,3250.2 1399.6,3250.3 1402.8,3250.4 1406.1,3250.5 1409.3,3250.6 1412.5,3250.6 1415.8,3250.7 1419.0,3250.8 1422.2,3250.9 1425.5,3251.0 1428.7,3251.1 1431.9,3251.1 1435.2,3251.2 1438.4,3251.3 1441.6,3251.4 1444.9,3251.5 1448.1,3251.6 1451.3,3251.7 1454.6,3251.7 1457.8,3251.8 1461.0,3251.9 1464.3,3252.0 1467.5,3252.1 1470.7,3252.2 1473.9,3252.2 1477.2,3252.3 1480.4,3252.4 1483.6,3252.5 1486.9,3252.6 1490.1,3252.6 1493.3,3252.7 1496.6,3252.8 1499.8,3252.9 1503.0,3253.0 1506.3,3253.0 1509.5,3253.1 1512.7,3253.2 1516.0,3253.3 1519.2,3253.4 1522.4,3253.4 1525.7,3253.5 1528.9,3253.6 1532.1,3253.7 1535.4,3253.7 1538.6,3253.8 1541.8,3253.9 1545.0,3254.0 1548.3,3254.0 1551.5,3254.1 1554.7,3254.2 1558.0,3254.3 1561.2,3254.3 1564.4,3254.4 1567.7,3254.5 1570.9,3254.5 1574.1,3254.6 1577.4,3254.7 1580.6,3254.8 1583.8,3254.8 1587.1,3254.9 1590.3,3255.0 1593.5,3255.0 1596.8,3255.1 1600.0,3255.1 1603.2,3255.2 1606.5,3255.3 1609.7,3255.3 1612.9,3255.4 1616.2,3255.5 1619.4,3255.5 1622.6,3255.6 1625.8,3255.6 1629.1,3255.7 1632.3,3255.7 1635.5,3255.8 1638.8,3255.9 1642.0,3255.9 1645.2,3256.0 1648.5,3256.0 1651.7,3256.1 1654.9,3256.1 1658.2,3256.2 1661.4,3256.2 1664.6,3256.3 1667.9,3256.3 1671.1,3256.4 1674.3,3256.4 1677.6,3256.4 1680.8,3256.5 1684.0,3256.5 1687.3,3256.6 1690.5,3256.6 1693.7,3256.7 1696.9,3256.7 1700.2,3256.7 1703.4,3256.8 1706.6,3256.8 1709.9,3256.8 1713.1,3256.9 1716.3,3256.9 1719.6,3256.9 1722.8,3257.0 1726.0,3257.0 1729.3,3257.0 1732.5,3257.0 1735.7,3257.1 1739.0,3257.1 1742.2,3257.1 1745.4,3257.1 1748.7,3257.2 1751.9,3257.2 1755.1,3257.2 1758.4,3257.2 1761.6,3257.2 1764.8,3257.3 1768.0,3257.3 1771.3,3257.3 1774.5,3257.3 1777.7,3257.3 1781.0,3257.3 1784.2,3257.3 1787.4,3257.3 1790.7,3257.4 1793.9,3257.4 1797.1,3257.4 1800.4,3257.4 1803.6,3257.4" stroke="#00ff24"/>
<polyline points="252.3,3258.7 255.5,3258.7 258.8,3258.7 262.0,3258.7 265.2,3258.7 268.5,3258.7 271.7,3258.7 274.9,3258.6 278.2,3258.6 281.4,3258.6 284.6,3258.6 287.9,3258.6 291.1,3258.6 294.3,3258.5 297.5,3258.5 300.8,3258.5 304.0,3258.5 307.2,3258.4 310.5,3258.4 313.7,3258.4 316.9,3258.3 320.2,3258.3 323.4,3258.3 326.6,3258.2 329.9,3258.2 333.1,3258.1 336.3,3258.1 339.6,3258.0 342.8,3258.0 346.0,3257.9 349.3,3257.9 352.5,3257.8 355.7,3257.7 359.0,3257.7 362.2,3257.6 365.4,3257.5 368.6,3257.5 371.9,3257.4 375.1,3257.3 378.3,3257.3 381.6,3257.2 384.8,3257.1 388.0,3257.0 391.3,3256.9 394.5,3256.9 397.7,3256.8 401.0,3256.7 404.2,3256.6 407.4,3256.5 410.7,3256.4 413.9,3256.3 417.1,3256.2 420.4,3256.1 423.6,3256.0 426.8,3255.9 430.1,3255.8 433.3,3255.7 436.5,3255.6 439.7,3255.5 443.0,3255.4 446.2,3255.3 449.4,3255.1 452.7,3255.0 455.9,3254.9 459.1,3254.8 462.4,3254.7 465.6,3254.6 468.8,3254.4 472.1,3254.3 475.3,3254.2 478.5,3254.1 481.8,3253.9 485.0,3253.8 488.2,3253.7 491.5,3253.5 494.7,3253.4 497.9,3253.3 501.2,3253.1 504.4,3253.0 507.6,3252.8 510.8,3252.7 514.1,3252.6 517.3,3252.4 520.5,3252.3 523.8,3252.1 527.0,3252.0 530.2,3251.8 533.5,3251.7 536.7,3251.5 539.9,3251.4 543.2,3251.2 546.4,3251.1 549.6,3250.9 552.9,3250.8 556.1,3250.6 559.3,3250.5 562.6,3250.3 565.8,3250.2 569.0,3250.0 572.3,3249.9 575.5,3249.7 578.7,3249.5 582.0,3249.4 585.2,3249.2 588.4,3249.1 591.6,3248.9 594.9,3248.7 598.1,3248.6 601.3,3248.4 604.6,3248.2 607.8,3248.1 611.0,3247.9 614.3,3247.8 617.5,3247.6 620.7,3247.4 624.0,3247.3 627.2,3247.1 630.4,3246.9 633.7,3246.8 636.9,3246.6 640.1,3246.4 643.4,3246.3 646.6,3246.1 649.8,3245.9 653.1,3245.8 656.3,3245.6 659.5,3245.4 662.7,3245.3 666.0,3245.1 669.2,3244.9 672.4,3244.8 675.7,3244.6 678.9,3244.4 682.1,3244.3 685.4,3244.1 688.6,3244.0 691.8,3243.8 695.1,3243.6 698.3,3243.5 701.5,3243.3 704.8,3243.1 708.0,3243.0 711.2,3242.8 714.5,3242.7 717.7,3242.5 720.9,3242.3 724.2,3242.2 727.4,3242.0 730.6,3241.9 733.8,3241.7 737.1,3241.6 740.3,3241.4 743.5,3241.2 746.8,3241.1 750.0,3240.9 753.2,3240.8 756.5,3240.6 759.7,3240.5 762.9,3240.3 766.2,3240.2 769.4,3240.0 772.6,3239.9 775.9,3239.8 779.1,3239.6 782.3,3239.5 785.6,3239.3 788.8,3239.2 792.0,3239.0 795.3,3238.9 798.5,3238.8 801.7,3238.6 805.0,3238.5 808.2,3238.4 811.4,3238.2 814.6,3238.1 817.9,3238.0 821.1,3237.9 824.3,3237.7 827.6,3237.6 830.8,3237.5 834.0,3237.4 837.3,3237.2 840.5,3237.1 843.7,3237.0 847.0,3236.9 850.2,3236.8 853.4,3236.7 856.7,3236.5 859.9,3236.4 863.1,3236.3 866.4,3236.2 869.6,3236.1 872.8,3236.0 876.1,3235.9 879.3,3235.8 882.5,3235.7 885.7,3235.6 889.0,3235.5 892.2,3235.4 895.4,3235.3 898.7,3235.3 901.9,3235.2 905.1,3235.1 908.4,3235.0 911.6,3234.9 914.8,3234.8 918.1,3234.8 921.3,3234.7 924.5,3234.6 927.8,3234.5 931.0,3234.5 934.2,3234.4 937.5,3234.3 940.7,3234.3 943.9,3234.2 947.2,3234.2 950.4,3234.1 953.6,3234.0 956.8,3234.0 960.1,3233.9 963.3,3233.9 966.5,3233.8 969.8,3233.8 973.0,3233.7 976.2,3233.7 979.5,3233.7 982.7,3233.6 985.9,3233.6 989.2,3233.6 992.4,3233.5 995.6,3233.5 998.9,3233.5 1002.1,3233.5 1005.3,3233.4 1008.6,3233.4 1011.8,3233.4 1015.0,3233.4 1018.3,3233.4 1021.5,3233.4 1024.7,3233.3 1028.0,3233.3 1031.2,3233.3 1034.4,3233.3 1037.6,3233.3 1040.9,3233.3 1044.1,3233.3 1047.3,3233.3 1050.6,3233.4 1053.8,3233.4 1057.0,3233.4 1060.3,3233.4 1063.5,3233.4 1066.7,3233.4 1070.0,3233.4 1073.2,3233.5 1076.4,3233.5 1079.7,3233.5 1082.9,3233.6 1086.1,3233.6 1089.4,3233.6 1092.6,3233.7 1095.8,3233.7 1099.1,3233.7 1102.3,3233.8 1105.5,3233.8 1108.7,3233.9 1112.0,3233.9 1115.2,3234.0 1118.4,3234.0 1121.7,3234.1 1124.9,3234.1 1128.1,3234.2 1131.4,3234.3 1134.6,3234.3 1137.8,3234.4 1141.1,3234.5 1144.3,3234.5 1147.5,3234.6 1150.8,3234.7 1154.0,3234.7 1157.2,3234.8 1160.5,3234.9 1163.7,3235.0 1166.9,3235.1 1170.2,3235.1 1173.4,3235.2 1176.6,3235.3 1179.8,3235.4 1183.1,3235.5 1186.3,3235.6 1189.5,3235.7 1192.8,3235.8 1196.0,3235.9 1199.2,3236.0 1202.5,3236.1 1205.7,3236.2 1208.9,3236.3 1212.2,3236.4 1215.4,3236.5 1218.6,3236.6 1221.9,3236.7 1225.1,3236.9 1228.3,3237.0 1231.6,3237.1 1234.8,3237.2 1238.0,3237.3 1241.3,3237.4 1244.5,3237.6 1247.7,3237.7 1250.9,3237.8 1254.2,3237.9 1257.4,3238.1 1260.6,3238.2 1263.9,3238.3 1267.1,3238.5 1270.3,3238.6 1273.6,3238.7 1276.8,3238.9 1280.0,3239.0 1283.3,3239.1 1286.5,3239.3 1289.7,3239.4 1293.0,3239.6 1296.2,3239.7 1299.4,3239.9 1302.7,3240.0 1305.9,3240.2 1309.1,3240.3 1312.4,3240.4 1315.6,3240.6 1318.8,3240.7 1322.1,3240.9 1325.3,3241.1 1328.5,3241.2 1331.7,3241.4 1335.0,3241.5 1338.2,3241.7 1341.4,3241.8 1344.7,3242.0 1347.9,3242.1 1351.1,3242.3 1354.4,3242.5 1357.6,3242.6 1360.8,3242.8 1364.1,3242.9 1367.3,3243.1 1370.5,3243.3 1373.8,3243.4 1377.0,3243.6 1380.2,3243.7 1383.5,3243.9 1386.7,3244.1 1389.9,3244.2 1393.2,3244.4 1396.4,3244.6 1399.6,3244.7 1402.8,3244.9 1406.1,3245.1 1409.3,3245.2 1412.5,3245.4 1415.8,3245.6 1419.0,3245.7 1422.2,3245.9 1425.5,3246.1 1428.7,3246.2 1431.9,3246.4 1435.2,3246.6 1438.4,3246.7 1441.6,3246.9 1444.9,3247.1 1448.1,3247.2 1451.3,3247.4 1454.6,3247.5 1457.8,3247.7 1461.0,3247.9 1464.3,3248.0 1467.5,3248.2 1470.7,3248.4 1473.9,3248.5 1477.2,3248.7 1480.4,3248.9 1483.6,3249.0 1486.9,3249.2 1490.1,3249.3 1493.3,3249.5 1496.6,3249.7 1499.8,3249.8 1503.0,3250.0 1506.3,3250.1 1509.5,3250.3 1512.7,3250.4 1516.0,3250.6 1519.2,3250.7 1522.4,3250.9 1525.7,3251.1 1528.9,3251.2 1532.1,3251.4 1535.4,3251.5 1538.6,3251.7 1541.8,3251.8 1545.0,3251.9 1548.3,3252.1 1551.5,3252.2 1554.7,3252.4 1558.0,3252.5 1561.2,3252.7 1564.4,3252.8 1567.7,3252.9 1570.9,3253.1 1574.1,3253.2 1577.4,3253.4 1580.6,3253.5 1583.8,3253.6 1587.1,3253.8 1590.3,3253.9 1593.5,3254.0 1596.8,3254.1 1600.0,3254.3 1603.2,3254.4 1606.5,3254.5 1609.7,3254.6 1612.9,3254.8 1616.2,3254.9 1619.4,3255.0 1622.6,3255.1 1625.8,3255.2 1629.1,3255.3 1632.3,3255.5 1635.5,3255.6 1638.8,3255.7 1642.0,3255.8 1645.2,3255.9 1648.5,3256.0 1651.7,3256.1 1654.9,3256.2 1658.2,3256.3 1661.4,3256.4 1664.6,3256.5 1667.9,3256.6 1671.1,3256.7 1674.3,3256.7 1677.6,3256.8 1680.8,3256.9 1684.0,3257.0 1687.3,3257.1 1690.5,3257.2 1693.7,3257.2 1696.9,3257.3 1700.2,3257.4 1703.4,3257.5 1706.6,3257.5 1709.9,3257.6 1713.1,3257.7 1716.3,3257.7 1719.6,3257.8 1722.8,3257.8 1726.0,3257.9 1729.3,3258.0 1732.5,3258.0 1735.7,3258.1 1739.0,3258.1 1742.2,3258.2 1745.4,3258.2 1748.7,3258.2 1751.9,3258.3 1755.1,3258.3 1758.4,3258.4 1761.6,3258.4 1764.8,3258.4 1768.0,3258.5 1771.3,3258.5 1774.5,3258.5 1777.7,3258.5 1781.0,3258.6 1784.2,3258.6 1787.4,3258.6 1790.7,3258.6 1793.9,3258.6 1797.1,3258.6 1800.4,3258.6 1803.6,3258.7" stroke="#49ff00"/>
<polyline points="252.3,3259.7 255.5,3259.7 258.8,3259.7 262.0,3259.7 265.2,3259.7 268.5,3259.7 271.7,3259.6 274.9,3259.6 278.2,3259.6 281.4,3259.6 284.6,3259.6 287.9,3259.6 291.1,3259.5 294.3,3259.5 297.5,3259.5 300.8,3259.4 304.0,3259.4 307.2,3259.4 310.5,3259.3 313.7,3259.3 316.9,3259.2 320.2,3259.2 323.4,3259.1 326.6,3259.0 329.9,3259.0 333.1,3258.9 336.3,3258.8 339.6,3258.8 342.8,3258.7 346.0,3258.6 349.3,3258.6 352.5,3258.5 355.7,3258.4 359.0,3258.3 362.2,3258.2 365.4,3258.1 368.6,3258.0 371.9,3257.9 375.1,3257.8 378.3,3257.7 381.6,3257.6 384.8,3257.5 388.0,3257.4 391.3,3257.3 394.5,3257.2 397.7,3257.0 401.0,3256.9 404.2,3256.8 407.4,3256.7 410.7,3256.5 413.9,3256.4 417.1,3256.3 420.4,3256.1 423.6,3256.0 426.8,3255.9 430.1,3255.7 433.3,3255.6 436.5,3255.4 439.7,3255.3 443.0,3255.1 446.2,3255.0 449.4,3254.8 452.7,3254.6 455.9,3254.5 459.1,3254.3 462.4,3254.1 465.6,3254.0 468.8,3253.8 472.1,3253.6 475.3,3253.5 478.5,3253.3 481.8,3253.1 485.0,3252.9 488.2,3252.7 491.5,3252.6 494.7,3252.4 497.9,3252.2 501.2,3252.0 504.4,3251.8 507.6,3251.6 510.8,3251.4 514.1,3251.2 517.3,3251.0 520.5,3250.8 523.8,3250.6 527.0,3250.4 530.2,3250.2 533.5,3250.0 536.7,3249.8 539.9,3249.6 543.2,3249.4 546.4,3249.2 549.6,3249.0 552.9,3248.8 556.1,3248.6 559.3,3248.3 562.6,3248.1 565.8,3247.9 569.0,3247.7 572.3,3247.5 575.5,3247.3 578.7,3247.0 582.0,3246.8 585.2,3246.6 588.4,3246.4 591.6,3246.2 594.9,3245.9 598.1,3245.7 601.3,3245.5 604.6,3245.3 607.8,3245.0 611.0,3244.8 614.3,3244.6 617.5,3244.3 620.7,3244.1 624.0,3243.9 627.2,3243.7 630.4,3243.4 633.7,3243.2 636.9,3243.0 640.1,3242.7 643.4,3242.5 646.6,3242.3 649.8,3242.1 653.1,3241.8 656.3,3241.6 659.5,3241.4 662.7,3241.1 666.0,3240.9 669.2,3240.7 672.4,3240.5 675.7,3240.2 678.9,3240.0 682.1,3239.8 685.4,3239.5 688.6,3239.3 691.8,3239.1 695.1,3238.9 698.3,3238.6 701.5,3238.4 704.8,3238.2 708.0,3238.0 711.2,3237.8 714.5,3237.5 717.7,3237.3 720.9,3237.1 724.2,3236.9 727.4,3236.7 730.6,3236.4 733.8,3236.2 737.1,3236.0 740.3,3235.8 743.5,3235.6 746.8,3235.4 750.0,3235.2 753.2,3234.9 756.5,3234.7 759.7,3234.5 762.9,3234.3 766.2,3234.1 769.4,3233.9 772.6,3233.7 775.9,3233.5 779.1,3233.3 782.3,3233.1 785.6,3232.9 788.8,3232.7 792.0,3232.5 795.3,3232.3 798.5,3232.2 801.7,3232.0 805.0,3231.8 808.2,3231.6 811.4,3231.4 814.6,3231.2 817.9,3231.1 821.1,3230.9 824.3,3230.7 827.6,3230.5 830.8,3230.4 834.0,3230.2 837.3,3230.0 840.5,3229.9 843.7,3229.7 847.0,3229.5 850.2,3229.4 853.4,3229.2 856.7,3229.1 859.9,3228.9 863.1,3228.8 866.4,3228.6 869.6,3228.5 872.8,3228.3 876.1,3228.2 879.3,3228.1 882.5,3227.9 885.7,3227.8 889.0,3227.7 892.2,3227.5 895.4,3227.4 898.7,3227.3 901.9,3227.2 905.1,3227.0 908.4,3226.9 911.6,3226.8 914.8,3226.7 918.1,3226.6 921.3,3226.5 924.5,3226.4 927.8,3226.3 931.0,3226.2 934.2,3226.1 937.5,3226.0 940.7,3225.9 943.9,3225.8 947.2,3225.8 950.4,3225.7 953.6,3225.6 956.8,3225.5 960.1,3225.5 963.3,3225.4 966.5,3225.3 969.8,3225.3 973.0,3225.2 976.2,3225.1 979.5,3225.1 982.7,3225.0 985.9,3225.0 989.2,3224.9 992.4,3224.9 995.6,3224.9 998.9,3224.8 1002.1,3224.8 1005.3,3224.8 1008.6,3224.7 1011.8,3224.7 1015.0,3224.7 1018.3,3224.7 1021.5,3224.7 1024.7,3224.6 1028.0,3224.6 1031.2,3224.6 1034.4,3224.6 1037.6,3224.6 1040.9,3224.6 1044.1,3224.6 1047.3,3224.6 1050.6,3224.7 1053.8,3224.7 1057.0,3224.7 1060.3,3224.7 1063.5,3224.7 1066.7,3224.8 1070.0,3224.8 1073.2,3224.8 1076.4,3224.9 1079.7,3224.9 1082.9,3224.9 1086.1,3225.0 1089.4,3225.0 1092.6,3225.1 1095.8,3225.1 1099.1,3225.2 1102.3,3225.2 1105.5,3225.3 1108.7,3225.4 1112.0,3225.4 1115.2,3225.5 1118.4,3225.6 1121.7,3225.7 1124.9,3225.7 1128.1,3225.8 1131.4,3225.9 1134.6,3226.0 1137.8,3226.1 1141.1,3226.2 1144.3,3226.3 1147.5,3226.4 1150.8,3226.5 1154.0,3226.6 1157.2,3226.7 1160.5,3226.8 1163.7,3226.9 1166.9,3227.0 1170.2,3227.1 1173.4,3227.3 1176.6,3227.4 1179.8,3227.5 1183.1,3227.6 1186.3,3227.8 1189.5,3227.9 1192.8,3228.0 1196.0,3228.2 1199.2,3228.3 1202.5,3228.4 1205.7,3228.6 1208.9,3228.7 1212.2,3228.9 1215.4,3229.0 1218.6,3229.2 1221.9,3229.3 1225.1,3229.5 1228.3,3229.7 1231.6,3229.8 1234.8,3230.0 1238.0,3230.1 1241.3,3230.3 1244.5,3230.5 1247.7,3230.7 1250.9,3230.8 1254.2,3231.0 1257.4,3231.2 1260.6,3231.4 1263.9,3231.5 1267.1,3231.7 1270.3,3231.9 1273.6,3232.1 1276.8,3232.3 1280.0,3232.5 1283.3,3232.7 1286.5,3232.9 1289.7,3233.1 1293.0,3233.3 1296.2,3233.5 1299.4,3233.7 1302.7,3233.9 1305.9,3234.1 1309.1,3234.3 1312.4,3234.5 1315.6,3234.7 1318.8,3234.9 1322.1,3235.1 1325.3,3235.3 1328.5,3235.5 1331.7,3235.7 1335.0,3235.9 1338.2,3236.2 1341.4,3236.4 1344.7,3236.6 1347.9,3236.8 1351.1,3237.0 1354.4,3237.2 1357.6,3237.5 1360.8,3237.7 1364.1,3237.9 1367.3,3238.1 1370.5,3238.4 1373.8,3238.6 1377.0,3238.8 1380.2,3239.0 1383.5,3239.3 1386.7,3239.5 1389.9,3239.7 1393.2,3239.9 1396.4,3240.2 1399.6,3240.4 1402.8,3240.6 1406.1,3240.9 1409.3,3241.1 1412.5,3241.3 1415.8,3241.5 1419.0,3241.8 1422.2,3242.0 1425.5,3242.2 1428.7,3242.5 1431.9,3242.7 1435.2,3242.9 1438.4,3243.1 1441.6,3243.4 1444.9,3243.6 1448.1,3243.8 1451.3,3244.1 1454.6,3244.3 1457.8,3244.5 1461.0,3244.7 1464.3,3245.0 1467.5,3245.2 1470.7,3245.4 1473.9,3245.6 1477.2,3245.9 1480.4,3246.1 1483.6,3246.3 1486.9,3246.5 1490.1,3246.8 1493.3,3247.0 1496.6,3247.2 1499.8,3247.4 1503.0,3247.6 1506.3,3247.9 1509.5,3248.1 1512.7,3248.3 1516.0,3248.5 1519.2,3248.7 1522.4,3248.9 1525.7,3249.1 1528.9,3249.3 1532.1,3249.6 1535.4,3249.8 1538.6,3250.0 1541.8,3250.2 1545.0,3250.4 1548.3,3250.6 1551.5,3250.8 1554.7,3251.0 1558.0,3251.2 1561.2,3251.4 1564.4,3251.6 1567.7,3251.8 1570.9,3251.9 1574.1,3252.1 1577.4,3252.3 1580.6,3252.5 1583.8,3252.7 1587.1,3252.9 1590.3,3253.1 1593.5,3253.2 1596.8,3253.4 1600.0,3253.6 1603.2,3253.8 1606.5,3253.9 1609.7,3254.1 1612.9,3254.3 1616.2,3254.4 1619.4,3254.6 1622.6,3254.7 1625.8,3254.9 1629.1,3255.1 1632.3,3255.2 1635.5,3255.4 1638.8,3255.5 1642.0,3255.7 1645.2,3255.8 1648.5,3256.0 1651.7,3256.1 1654.9,3256.2 1658.2,3256.4 1661.4,3256.5 1664.6,3256.6 1667.9,3256.8 1671.1,3256.9 1674.3,3257.0 1677.6,3257.1 1680.8,3257.2 1684.0,3257.4 1687.3,3257.5 1690.5,3257.6 1693.7,3257.7 1696.9,3257.8 1700.2,3257.9 1703.4,3258.0 1706.6,3258.1 1709.9,3258.2 1713.1,3258.3 1716.3,3258.4 1719.6,3258.4 1722.8,3258.5 1726.0,3258.6 1729.3,3258.7 1732.5,3258.8 1735.7,3258.8 1739.0,3258.9 1742.2,3259.0 1745.4,3259.0 1748.7,3259.1 1751.9,3259.1 1755.1,3259.2 1758.4,3259.2 1761.6,3259.3 1764.8,3259.3 1768.0,3259.4 1771.3,3259.4 1774.5,3259.5 1777.7,3259.5 1781.0,3259.5 1784.2,3259.6 1787.4,3259.6 1790.7,3259.6 1793.9,3259.6 1797.1,3259.6 1800.4,3259.6 1803.6,3259.7" stroke="#b6ff00"/>
<polyline points="252.3,3260.5 255.5,3260.5 258.8,3260.5 262.0,3260.5 265.2,3260.5 268.5,3260.5 271.7,3260.5 274.9,3260.4 278.2,3260.4 281.4,3260.4 284.6,3260.4 287.9,3260.4 291.1,3260.3 294.3,3260.3 297.5,3260.2 300.8,3260.2 304.0,3260.2 307.2,3260.1 310.5,3260.0 313.7,3260.0 316.9,3259.9 320.2,3259.9 323.4,3259.8 326.6,3259.7 329.9,3259.6 333.1,3259.6 336.3,3259.5 339.6,3259.4 342.8,3259.3 346.0,3259.2 349.3,3259.1 352.5,3259.0 355.7,3258.9 359.0,3258.8 362.2,3258.7 365.4,3258.6 368.6,3258.5 371.9,3258.3 375.1,3258.2 378.3,3258.1 381.6,3258.0 384.8,3257.8 388.0,3257.7 391.3,3257.5 394.5,3257.4 397.7,3257.3 401.0,3257.1 404.2,3257.0 407.4,3256.8 410.7,3256.6 413.9,3256.5 417.1,3256.3 420.4,3256.1 423.6,3256.0 426.8,3255.8 430.1,3255.6 433.3,3255.4 436.5,3255.3 439.7,3255.1 443.0,3254.9 446.2,3254.7 449.4,3254.5 452.7,3254.3 455.9,3254.1 459.1,3253.9 462.4,3253.7 465.6,3253.5 468.8,3253.3 472.1,3253.1 475.3,3252.9 478.5,3252.7 481.8,3252.4 485.0,3252.2 488.2,3252.0 491.5,3251.8 494.7,3251.5 497.9,3251.3 501.2,3251.1 504.4,3250.8 507.6,3250.6 510.8,3250.4 514.1,3250.1 517.3,3249.9 520.5,3249.6 523.8,3249.4 527.0,3249.2 530.2,3248.9 533.5,3248.7 536.7,3248.4 539.9,3248.1 543.2,3247.9 546.4,3247.6 549.6,3247.4 552.9,3247.1 556.1,3246.9 559.3,3246.6 562.6,3246.3 565.8,3246.1 569.0,3245.8 572.3,3245.5 575.5,3245.3 578.7,3245.0 582.0,3244.7 585.2,3244.5 588.4,3244.2 591.6,3243.9 594.9,3243.6 598.1,3243.4 601.3,3243.1 604.6,3242.8 607.8,3242.5 611.0,3242.3 614.3,3242.0 617.5,3241.7 620.7,3241.4 624.0,3241.1 627.2,3240.9 630.4,3240.6 633.7,3240.3 636.9,3240.0 640.1,3239.7 643.4,3239.4 646.6,3239.2 649.8,3238.9 653.1,3238.6 656.3,3238.3 659.5,3238.0 662.7,3237.8 666.0,3237.5 669.2,3237.2 672.4,3236.9 675.7,3236.6 678.9,3236.4 682.1,3236.1 685.4,3235.8 688.6,3235.5 691.8,3235.2 695.1,3235.0 698.3,3234.7 701.5,3234.4 704.8,3234.1 708.0,3233.9 711.2,3233.6 714.5,3233.3 717.7,3233.1 720.9,3232.8 724.2,3232.5 727.4,3232.3 730.6,3232.0 733.8,3231.7 737.1,3231.5 740.3,3231.2 743.5,3230.9 746.8,3230.7 750.0,3230.4 753.2,3230.2 756.5,3229.9 759.7,3229.6 762.9,3229.4 766.2,3229.1 769.4,3228.9 772.6,3228.6 775.9,3228.4 779.1,3228.2 782.3,3227.9 785.6,3227.7 788.8,3227.4 792.0,3227.2 795.3,3227.0 798.5,3226.7 801.7,3226.5 805.0,3226.3 808.2,3226.0 811.4,3225.8 814.6,3225.6 817.9,3225.4 821.1,3225.2 824.3,3225.0 827.6,3224.7 830.8,3224.5 834.0,3224.3 837.3,3224.1 840.5,3223.9 843.7,3223.7 847.0,3223.5 850.2,3223.3 853.4,3223.1 856.7,3222.9 859.9,3222.8 863.1,3222.6 866.4,3222.4 869.6,3222.2 872.8,3222.0 876.1,3221.9 879.3,3221.7 882.5,3221.5 885.7,3221.4 889.0,3221.2 892.2,3221.1 895.4,3220.9 898.7,3220.8 901.9,3220.6 905.1,3220.5 908.4,3220.3 911.6,3220.2 914.8,3220.1 918.1,3219.9 921.3,3219.8 924.5,3219.7 927.8,3219.5 931.0,3219.4 934.2,3219.3 937.5,3219.2 940.7,3219.1 943.9,3219.0 947.2,3218.9 950.4,3218.8 953.6,3218.7 956.8,3218.6 960.1,3218.5 963.3,3218.4 966.5,3218.4 969.8,3218.3 973.0,3218.2 976.2,3218.1 979.5,3218.1 982.7,3218.0 985.9,3217.9 989.2,3217.9 992.4,3217.8 995.6,3217.8 998.9,3217.7 1002.1,3217.7 1005.3,3217.7 1008.6,3217.6 1011.8,3217.6 1015.0,3217.6 1018.3,3217.6 1021.5,3217.5 1024.7,3217.5 1028.0,3217.5 1031.2,3217.5 1034.4,3217.5 1037.6,3217.5 1040.9,3217.5 1044.1,3217.5 1047.3,3217.5 1050.6,3217.5 1053.8,3217.6 1057.0,3217.6 1060.3,3217.6 1063.5,3217.6 1066.7,3217.7 1070.0,3217.7 1073.2,3217.7 1076.4,3217.8 1079.7,3217.8 1082.9,3217.9 1086.1,3217.9 1089.4,3218.0 1092.6,3218.0 1095.8,3218.1 1099.1,3218.2 1102.3,3218.3 1105.5,3218.3 1108.7,3218.4 1112.0,3218.5 1115.2,3218.6 1118.4,3218.7 1121.7,3218.8 1124.9,3218.9 1128.1,3219.0 1131.4,3219.1 1134.6,3219.2 1137.8,3219.3 1141.1,3219.4 1144.3,3219.5 1147.5,3219.6 1150.8,3219.8 1154.0,3219.9 1157.2,3220.0 1160.5,3220.2 1163.7,3220.3 1166.9,3220.4 1170.2,3220.6 1173.4,3220.7 1176.6,3220.9 1179.8,3221.0 1183.1,3221.2 1186.3,3221.3 1189.5,3221.5 1192.8,3221.7 1196.0,3221.8 1199.2,3222.0 1202.5,3222.2 1205.7,3222.4 1208.9,3222.5 1212.2,3222.7 1215.4,3222.9 1218.6,3223.1 1221.9,3223.3 1225.1,3223.5 1228.3,3223.7 1231.6,3223.9 1234.8,3224.1 1238.0,3224.3 1241.3,3224.5 1244.5,3224.7 1247.7,3224.9 1250.9,3225.1 1254.2,3225.3 1257.4,3225.5 1260.6,3225.8 1263.9,3226.0 1267.1,3226.2 1270.3,3226.4 1273.6,3226.7 1276.8,3226.9 1280.0,3227.1 1283.3,3227.4 1286.5,3227.6 1289.7,3227.8 1293.0,3228.1 1296.2,3228.3 1299.4,3228.6 1302.7,3228.8 1305.9,3229.1 1309.1,3229.3 1312.4,3229.6 1315.6,3229.8 1318.8,3230.1 1322.1,3230.3 1325.3,3230.6 1328.5,3230.9 1331.7,3231.1 1335.0,3231.4 1338.2,3231.6 1341.4,3231.9 1344.7,3232.2 1347.9,3232.4 1351.1,3232.7 1354.4,3233.0 1357.6,3233.3 1360.8,3233.5 1364.1,3233.8 1367.3,3234.1 1370.5,3234.3 1373.8,3234.6 1377.0,3234.9 1380.2,3235.2 1383.5,3235.4 1386.7,3235.7 1389.9,3236.0 1393.2,3236.3 1396.4,3236.6 1399.6,3236.8 1402.8,3237.1 1406.1,3237.4 1409.3,3237.7 1412.5,3238.0 1415.8,3238.2 1419.0,3238.5 1422.2,3238.8 1425.5,3239.1 1428.7,3239.4 1431.9,3239.7 1435.2,3239.9 1438.4,3240.2 1441.6,3240.5 1444.9,3240.8 1448.1,3241.1 1451.3,3241.3 1454.6,3241.6 1457.8,3241.9 1461.0,3242.2 1464.3,3242.5 1467.5,3242.7 1470.7,3243.0 1473.9,3243.3 1477.2,3243.6 1480.4,3243.8 1483.6,3244.1 1486.9,3244.4 1490.1,3244.6 1493.3,3244.9 1496.6,3245.2 1499.8,3245.5 1503.0,3245.7 1506.3,3246.0 1509.5,3246.3 1512.7,3246.5 1516.0,3246.8 1519.2,3247.0 1522.4,3247.3 1525.7,3247.6 1528.9,3247.8 1532.1,3248.1 1535.4,3248.3 1538.6,3248.6 1541.8,3248.8 1545.0,3249.1 1548.3,3249.3 1551.5,3249.6 1554.7,3249.8 1558.0,3250.1 1561.2,3250.3 1564.4,3250.5 1567.7,3250.8 1570.9,3251.0 1574.1,3251.2 1577.4,3251.5 1580.6,3251.7 1583.8,3251.9 1587.1,3252.2 1590.3,3252.4 1593.5,3252.6 1596.8,3252.8 1600.0,3253.0 1603.2,3253.2 1606.5,3253.4 1609.7,3253.7 1612.9,3253.9 1616.2,3254.1 1619.4,3254.3 1622.6,3254.5 1625.8,3254.6 1629.1,3254.8 1632.3,3255.0 1635.5,3255.2 1638.8,3255.4 1642.0,3255.6 1645.2,3255.8 1648.5,3255.9 1651.7,3256.1 1654.9,3256.3 1658.2,3256.4 1661.4,3256.6 1664.6,3256.8 1667.9,3256.9 1671.1,3257.1 1674.3,3257.2 1677.6,3257.4 1680.8,3257.5 1684.0,3257.7 1687.3,3257.8 1690.5,3257.9 1693.7,3258.1 1696.9,3258.2 1700.2,3258.3 1703.4,3258.4 1706.6,3258.5 1709.9,3258.7 1713.1,3258.8 1716.3,3258.9 1719.6,3259.0 1722.8,3259.1 1726.0,3259.2 1729.3,3259.3 1732.5,3259.4 1735.7,3259.5 1739.0,3259.5 1742.2,3259.6 1745.4,3259.7 1748.7,3259.8 1751.9,3259.8 1755.1,3259.9 1758.4,3260.0 1761.6,3260.0 1764.8,3260.1 1768.0,3260.1 1771.3,3260.2 1774.5,3260.2 1777.7,3260.3 1781.0,3260.3 1784.2,3260.3 1787.4,3260.4 1790.7,3260.4 1793.9,3260.4 1797.1,3260.4 1800.4,3260.5 1803.6,3260.5" stroke="#ffdb00"/>
<polyline points="252.3,3261.2 255.5,3261.2 258.8,3261.2 262.0,3261.2 265.2,3261.2 268.5,3261.2 271.7,3261.2 274.9,3261.1 278.2,3261.1 281.4,3261.1 284.6,3261.1 287.9,3261.0 291.1,3261.0 294.3,3261.0 297.5,3260.9 300.8,3260.9 304.0,3260.8 307.2,3260.7 310.5,3260.7 313.7,3260.6 316.9,3260.5 320.2,3260.5 323.4,3260.4 326.6,3260.3 329.9,3260.2 333.1,3260.1 336.3,3260.0 339.6,3259.9 342.8,3259.8 346.0,3259.7 349.3,3259.6 352.5,3259.5 355.7,3259.4 359.0,3259.2 362.2,3259.1 365.4,3259.0 368.6,3258.8 371.9,3258.7 375.1,3258.6 378.3,3258.4 381.6,3258.3 384.8,3258.1 388.0,3257.9 391.3,3257.8 394.5,3257.6 397.7,3257.5 401.0,3257.3 404.2,3257.1 407.4,3256.9 410.7,3256.7 413.9,3256.5 417.1,3256.4 420.4,3256.2 423.6,3256.0 426.8,3255.8 430.1,3255.6 433.3,3255.4 436.5,3255.1 439.7,3254.9 443.0,3254.7 446.2,3254.5 449.4,3254.3 452.7,3254.0 455.9,3253.8 459.1,3253.6 462.4,3253.3 465.6,3253.1 468.8,3252.9 472.1,3252.6 475.3,3252.4 478.5,3252.1 481.8,3251.9 485.0,3251.6 488.2,3251.3 491.5,3251.1 494.7,3250.8 497.9,3250.6 501.2,3250.3 504.4,3250.0 507.6,3249.7 510.8,3249.5 514.1,3249.2 517.3,3248.9 520.5,3248.6 523.8,3248.3 527.0,3248.1 530.2,3247.8 533.5,3247.5 536.7,3247.2 539.9,3246.9 543.2,3246.6 546.4,3246.3 549.6,3246.0 552.9,3245.7 556.1,3245.4 559.3,3245.1 562.6,3244.8 565.8,3244.5 569.0,3244.2 572.3,3243.9 575.5,3243.6 578.7,3243.2 582.0,3242.9 585.2,3242.6 588.4,3242.3 591.6,3242.0 594.9,3241.7 598.1,3241.3 601.3,3241.0 604.6,3240.7 607.8,3240.4 611.0,3240.1 614.3,3239.7 617.5,3239.4 620.7,3239.1 624.0,3238.8 627.2,3238.4 630.4,3238.1 633.7,3237.8 636.9,3237.5 640.1,3237.1 643.4,3236.8 646.6,3236.5 649.8,3236.2 653.1,3235.8 656.3,3235.5 659.5,3235.2 662.7,3234.9 666.0,3234.5 669.2,3234.2 672.4,3233.9 675.7,3233.6 678.9,3233.2 682.1,3232.9 685.4,3232.6 688.6,3232.3 691.8,3232.0 695.1,3231.6 698.3,3231.3 701.5,3231.0 704.8,3230.7 708.0,3230.4 711.2,3230.0 714.5,3229.7 717.7,3229.4 720.9,3229.1 724.2,3228.8 727.4,3228.5 730.6,3228.2 733.8,3227.9 737.1,3227.6 740.3,3227.3 743.5,3227.0 746.8,3226.6 750.0,3226.3 753.2,3226.1 756.5,3225.8 759.7,3225.5 762.9,3225.2 766.2,3224.9 769.4,3224.6 772.6,3224.3 775.9,3224.0 779.1,3223.7 782.3,3223.5 785.6,3223.2 788.8,3222.9 792.0,3222.6 795.3,3222.4 798.5,3222.1 801.7,3221.8 805.0,3221.6 808.2,3221.3 811.4,3221.0 814.6,3220.8 817.9,3220.5 821.1,3220.3 824.3,3220.0 827.6,3219.8 830.8,3219.5 834.0,3219.3 837.3,3219.1 840.5,3218.8 843.7,3218.6 847.0,3218.4 850.2,3218.1 853.4,3217.9 856.7,3217.7 859.9,3217.5 863.1,3217.3 866.4,3217.1 869.6,3216.9 872.8,3216.7 876.1,3216.5 879.3,3216.3 882.5,3216.1 885.7,3215.9 889.0,3215.7 892.2,3215.5 895.4,3215.3 898.7,3215.2 901.9,3215.0 905.1,3214.8 908.4,3214.7 911.6,3214.5 914.8,3214.3 918.1,3214.2 921.3,3214.0 924.5,3213.9 927.8,3213.8 931.0,3213.6 934.2,3213.5 937.5,3213.4 940.7,3213.2 943.9,3213.1 947.2,3213.0 950.4,3212.9 953.6,3212.8 956.8,3212.7 960.1,3212.6 963.3,3212.5 966.5,3212.4 969.8,3212.3 973.0,3212.2 976.2,3212.1 979.5,3212.0 982.7,3212.0 985.9,3211.9 989.2,3211.8 992.4,3211.8 995.6,3211.7 998.9,3211.7 1002.1,3211.6 1005.3,3211.6 1008.6,3211.5 1011.8,3211.5 1015.0,3211.5 1018.3,3211.5 1021.5,3211.4 1024.7,3211.4 1028.0,3211.4 1031.2,3211.4 1034.4,3211.4 1037.6,3211.4 1040.9,3211.4 1044.1,3211.4 1047.3,3211.4 1050.6,3211.4 1053.8,3211.4 1057.0,3211.5 1060.3,3211.5 1063.5,3211.5 1066.7,3211.6 1070.0,3211.6 1073.2,3211.7 1076.4,3211.7 1079.7,3211.8 1082.9,3211.8 1086.1,3211.9 1089.4,3212.0 1092.6,3212.0 1095.8,3212.1 1099.1,3212.2 1102.3,3212.3 1105.5,3212.4 1108.7,3212.4 1112.0,3212.5 1115.2,3212.6 1118.4,3212.7 1121.7,3212.9 1124.9,3213.0 1128.1,3213.1 1131.4,3213.2 1134.6,3213.3 1137.8,3213.5 1141.1,3213.6 1144.3,3213.7 1147.5,3213.9 1150.8,3214.0 1154.0,3214.2 1157.2,3214.3 1160.5,3214.5 1163.7,3214.6 1166.9,3214.8 1170.2,3214.9 1173.4,3215.1 1176.6,3215.3 1179.8,3215.5 1183.1,3215.6 1186.3,3215.8 1189.5,3216.0 1192.8,3216.2 1196.0,3216.4 1199.2,3216.6 1202.5,3216.8 1205.7,3217.0 1208.9,3217.2 1212.2,3217.4 1215.4,3217.6 1218.6,3217.9 1221.9,3218.1 1225.1,3218.3 1228.3,3218.5 1231.6,3218.8 1234.8,3219.0 1238.0,3219.2 1241.3,3219.5 1244.5,3219.7 1247.7,3220.0 1250.9,3220.2 1254.2,3220.5 1257.4,3220.7 1260.6,3221.0 1263.9,3221.2 1267.1,3221.5 1270.3,3221.7 1273.6,3222.0 1276.8,3222.3 1280.0,3222.6 1283.3,3222.8 1286.5,3223.1 1289.7,3223.4 1293.0,3223.7 1296.2,3223.9 1299.4,3224.2 1302.7,3224.5 1305.9,3224.8 1309.1,3225.1 1312.4,3225.4 1315.6,3225.7 1318.8,3226.0 1322.1,3226.3 1325.3,3226.6 1328.5,3226.9 1331.7,3227.2 1335.0,3227.5 1338.2,3227.8 1341.4,3228.1 1344.7,3228.4 1347.9,3228.7 1351.1,3229.0 1354.4,3229.3 1357.6,3229.6 1360.8,3230.0 1364.1,3230.3 1367.3,3230.6 1370.5,3230.9 1373.8,3231.2 1377.0,3231.5 1380.2,3231.9 1383.5,3232.2 1386.7,3232.5 1389.9,3232.8 1393.2,3233.2 1396.4,3233.5 1399.6,3233.8 1402.8,3234.1 1406.1,3234.4 1409.3,3234.8 1412.5,3235.1 1415.8,3235.4 1419.0,3235.8 1422.2,3236.1 1425.5,3236.4 1428.7,3236.7 1431.9,3237.1 1435.2,3237.4 1438.4,3237.7 1441.6,3238.0 1444.9,3238.4 1448.1,3238.7 1451.3,3239.0 1454.6,3239.3 1457.8,3239.7 1461.0,3240.0 1464.3,3240.3 1467.5,3240.6 1470.7,3240.9 1473.9,3241.3 1477.2,3241.6 1480.4,3241.9 1483.6,3242.2 1486.9,3242.5 1490.1,3242.8 1493.3,3243.2 1496.6,3243.5 1499.8,3243.8 1503.0,3244.1 1506.3,3244.4 1509.5,3244.7 1512.7,3245.0 1516.0,3245.3 1519.2,3245.6 1522.4,3245.9 1525.7,3246.2 1528.9,3246.5 1532.1,3246.8 1535.4,3247.1 1538.6,3247.4 1541.8,3247.7 1545.0,3248.0 1548.3,3248.3 1551.5,3248.6 1554.7,3248.8 1558.0,3249.1 1561.2,3249.4 1564.4,3249.7 1567.7,3249.9 1570.9,3250.2 1574.1,3250.5 1577.4,3250.7 1580.6,3251.0 1583.8,3251.3 1587.1,3251.5 1590.3,3251.8 1593.5,3252.0 1596.8,3252.3 1600.0,3252.5 1603.2,3252.8 1606.5,3253.0 1609.7,3253.3 1612.9,3253.5 1616.2,3253.7 1619.4,3254.0 1622.6,3254.2 1625.8,3254.4 1629.1,3254.6 1632.3,3254.9 1635.5,3255.1 1638.8,3255.3 1642.0,3255.5 1645.2,3255.7 1648.5,3255.9 1651.7,3256.1 1654.9,3256.3 1658.2,3256.5 1661.4,3256.7 1664.6,3256.9 1667.9,3257.0 1671.1,3257.2 1674.3,3257.4 1677.6,3257.6 1680.8,3257.7 1684.0,3257.9 1687.3,3258.1 1690.5,3258.2 1693.7,3258.4 1696.9,3258.5 1700.2,3258.7 1703.4,3258.8 1706.6,3258.9 1709.9,3259.1 1713.1,3259.2 1716.3,3259.3 1719.6,3259.5 1722.8,3259.6 1726.0,3259.7 1729.3,3259.8 1732.5,3259.9 1735.7,3260.0 1739.0,3260.1 1742.2,3260.2 1745.4,3260.3 1748.7,3260.4 1751.9,3260.4 1755.1,3260.5 1758.4,3260.6 1761.6,3260.7 1764.8,3260.7 1768.0,3260.8 1771.3,3260.8 1774.5,3260.9 1777.7,3260.9 1781.0,3261.0 1784.2,3261.0 1787.4,3261.1 1790.7,3261.1 1793.9,3261.1 1797.1,3261.1 1800.4,3261.2 1803.6,3261.2" stroke="#ff6d00"/>
</g>
<path d="M597.03 3992.20V2961.60" stroke="#111" stroke-width="3" stroke-dasharray="12.2 11.9" fill="none"/>
<path d="M1458.87 3992.20V2961.60" stroke="#111" stroke-width="3" stroke-dasharray="12.2 11.9" fill="none"/>
<g font-family="Liberation Sans, Arial, Helvetica, sans-serif" font-size="50" fill="#151515">
<text x="338.48" y="4057.20" text-anchor="middle">-80</text>
<text x="510.85" y="4057.20" text-anchor="middle">-60</text>
<text x="683.22" y="4057.20" text-anchor="middle">-40</text>
<text x="855.58" y="4057.20" text-anchor="middle">-20</text>
<text x="1027.95" y="4057.20" text-anchor="middle">0</text>
<text x="1200.32" y="4057.20" text-anchor="middle">20</text>
<text x="1372.68" y="4057.20" text-anchor="middle">40</text>
<text x="1545.05" y="4057.20" text-anchor="middle">60</text>
<text x="1717.42" y="4057.20" text-anchor="middle">80</text>
<text x="136.69" y="3126.73">0.05</text>
<text x="206.05" y="3273.96">0</text>
<text x="120.03" y="3421.19">-0.05</text>
<text x="148.18" y="3568.41">-0.1</text>
<text x="120.03" y="3715.64">-0.15</text>
<text x="148.26" y="3862.87">-0.2</text>
<text x="120.03" y="4010.10">-0.25</text>
</g>
<text x="607.13" y="4120.00" textLength="581.69" font-family="Liberation Sans, Arial, Helvetica, sans-serif" font-size="50" fill="#151515">Scene Select Mirror Angle</text>
<text transform="translate(1205.94 4120.00) scale(0.86 1.0)" font-family="Liberation Serif, Times New Roman, serif" font-size="50" font-style="italic" fill="#151515">δ</text>
<text x="1240.14" y="4120.00" textLength="208.03" font-family="Liberation Sans, Arial, Helvetica, sans-serif" font-size="50" fill="#151515">[degrees]</text>
<text transform="translate(75.3 3477.10) rotate(-90)" text-anchor="middle" font-family="Liberation Sans, Arial, Helvetica, sans-serif" font-size="50" fill="#151515">-E<tspan font-size="38" dy="24.2">p</tspan><tspan dy="-24.2"> [K]</tspan></text>
<text x="283.22" y="2856.20" textLength="823.60" lengthAdjust="spacingAndGlyphs" font-family="Liberation Sans, Arial, Helvetica, sans-serif" font-weight="bold" font-size="52" fill="#000">Polarization Correction (2300.0 cm</text>
<text x="1108.04" y="2831.50" font-family="Liberation Sans, Arial, Helvetica, sans-serif" font-weight="bold" font-size="40" fill="#000">-1</text>
<text x="1147.35" y="2856.20" textLength="621.73" lengthAdjust="spacingAndGlyphs" font-family="Liberation Sans, Arial, Helvetica, sans-serif" font-weight="bold" font-size="52" fill="#000">), Brightness Temperature</text>
<text transform="translate(567.17 2923.00) scale(0.91 1.0)" font-family="Liberation Serif, Times New Roman, serif" font-size="50" font-style="italic" fill="#000">δ</text>
<text x="590.02" y="2945.80" font-family="Liberation Sans, Arial, Helvetica, sans-serif" font-size="40" font-weight="bold" fill="#000">ICT</text>
<text x="669.94" y="2923.00" font-family="Liberation Sans, Arial, Helvetica, sans-serif" font-size="52" font-weight="bold" fill="#000">=</text>
<text x="715.62" y="2923.00" textLength="151.41" lengthAdjust="spacingAndGlyphs" font-family="Liberation Sans, Arial, Helvetica, sans-serif" font-size="52" font-weight="bold" fill="#000">180.00</text>
<text x="868.94" y="2898.90" font-family="Liberation Sans, Arial, Helvetica, sans-serif" font-size="40" font-weight="bold" fill="#000">°</text>
<text x="884.17" y="2923.00" font-family="Liberation Sans, Arial, Helvetica, sans-serif" font-size="52" font-weight="bold" fill="#000">,</text>
<text transform="translate(916.67 2923.00) scale(0.91 1.0)" font-family="Liberation Serif, Times New Roman, serif" font-size="50" font-style="italic" fill="#000">δ</text>
<text x="939.82" y="2945.80" font-family="Liberation Sans, Arial, Helvetica, sans-serif" font-size="40" font-weight="bold" fill="#000">DS</text>
<text x="1010.04" y="2923.00" font-family="Liberation Sans, Arial, Helvetica, sans-serif" font-size="52" font-weight="bold" fill="#000">=</text>
<text x="1055.97" y="2923.00" textLength="144.56" lengthAdjust="spacingAndGlyphs" font-family="Liberation Sans, Arial, Helvetica, sans-serif" font-size="52" font-weight="bold" fill="#000">-70.30</text>
<text x="1201.04" y="2898.90" font-family="Liberation Sans, Arial, Helvetica, sans-serif" font-size="40" font-weight="bold" fill="#000">°</text>
<text x="1217.17" y="2923.00" font-family="Liberation Sans, Arial, Helvetica, sans-serif" font-size="52" font-weight="bold" fill="#000">,</text>
<text transform="translate(1234.32 2923.00) scale(1.13 0.92)" font-family="Liberation Serif, Times New Roman, serif" font-size="50" font-style="italic" fill="#000">α</text>
<text x="1281.94" y="2923.00" font-family="Liberation Sans, Arial, Helvetica, sans-serif" font-size="52" font-weight="bold" fill="#000">=</text>
<text x="1327.67" y="2923.00" textLength="138.78" lengthAdjust="spacingAndGlyphs" font-family="Liberation Sans, Arial, Helvetica, sans-serif" font-size="52" font-weight="bold" fill="#000">-89.01</text>
<text x="1473.44" y="2898.90" font-family="Liberation Sans, Arial, Helvetica, sans-serif" font-size="40" font-weight="bold" fill="#000">°</text>
<rect x="1829.0" y="3348.00" width="227.0" height="643.00" fill="#fff"/>
<rect x="1827.50" y="3347.00" width="3.60" height="645.00" fill="#a6a6a6"/><rect x="2053.00" y="3349.00" width="2.00" height="641.00" fill="#e2e2e2"/><rect x="2055.00" y="3347.00" width="2.00" height="645.00" fill="#a0a0a0"/><rect x="1829.00" y="3345.00" width="226.00" height="2.00" fill="#ececec"/><rect x="1829.00" y="3347.00" width="228.00" height="2.00" fill="#666666"/><rect x="1831.00" y="3349.00" width="222.00" height="2.00" fill="#f4f4f4"/><rect x="1829.00" y="3989.00" width="228.00" height="1.80" fill="#7a7a7a"/><rect x="1829.00" y="3990.80" width="228.00" height="2.00" fill="#d2d2d2"/>
<g font-family="Liberation Sans, Arial, Helvetica, sans-serif" font-size="38" fill="#000">
<path d="M1841 3377.00H1936" stroke="#ff006d" stroke-width="6.0"/>
<text x="1942.8" y="3390.00">210 K</text>
<path d="M1841 3425.70H1936" stroke="#ff00db" stroke-width="6.0"/>
<text x="1942.8" y="3438.70">220 K</text>
<path d="M1841 3474.40H1936" stroke="#b600ff" stroke-width="6.0"/>
<text x="1942.8" y="3487.40">230 K</text>
<path d="M1841 3523.10H1936" stroke="#4900ff" stroke-width="6.0"/>
<text x="1942.8" y="3536.10">240 K</text>
<path d="M1841 3571.80H1936" stroke="#0024ff" stroke-width="6.0"/>
<text x="1942.8" y="3584.80">250 K</text>
<path d="M1841 3620.50H1936" stroke="#0092ff" stroke-width="6.0"/>
<text x="1942.8" y="3633.50">260 K</text>
<path d="M1841 3669.20H1936" stroke="#00ffff" stroke-width="6.0"/>
<text x="1942.8" y="3682.20">270 K</text>
<path d="M1841 3717.90H1936" stroke="#00ff92" stroke-width="6.0"/>
<text x="1942.8" y="3730.90">280 K</text>
<path d="M1841 3766.60H1936" stroke="#00ff24" stroke-width="6.0"/>
<text x="1942.8" y="3779.60">290 K</text>
<path d="M1841 3815.30H1936" stroke="#49ff00" stroke-width="6.0"/>
<text x="1942.8" y="3828.30">300 K</text>
<path d="M1841 3864.00H1936" stroke="#b6ff00" stroke-width="6.0"/>
<text x="1942.8" y="3877.00">310 K</text>
<path d="M1841 3912.70H1936" stroke="#ffdb00" stroke-width="6.0"/>
<text x="1942.8" y="3925.70">320 K</text>
<path d="M1841 3961.40H1936" stroke="#ff6d00" stroke-width="6.0"/>
<text x="1942.8" y="3974.40">330 K</text>
</g>
</svg>
</body></html>
